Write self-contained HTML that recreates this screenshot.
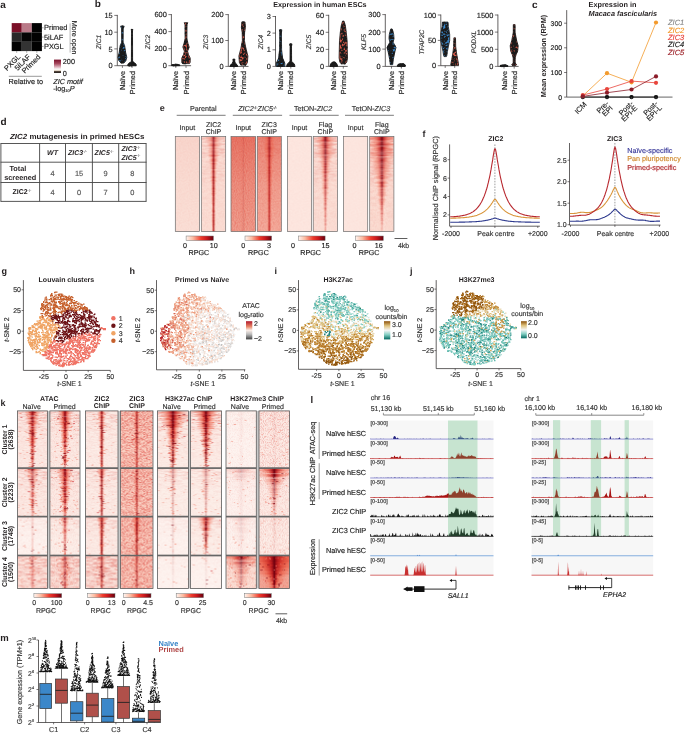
<!DOCTYPE html>
<html><head><meta charset="utf-8"><style>
html,body{margin:0;padding:0;background:#fff;width:685px;height:733px;overflow:hidden}
svg{will-change:transform;text-rendering:geometricPrecision}
.q1{fill:url(#hg);fill-opacity:0.05;height:1.05px}
.q2{fill:url(#hg);fill-opacity:0.10;height:1.05px}
.q3{fill:url(#hg);fill-opacity:0.15;height:1.05px}
.q4{fill:url(#hg);fill-opacity:0.20;height:1.05px}
.q5{fill:url(#hg);fill-opacity:0.25;height:1.05px}
.q6{fill:url(#hg);fill-opacity:0.30;height:1.05px}
.q7{fill:url(#hg);fill-opacity:0.35;height:1.05px}
.q8{fill:url(#hg);fill-opacity:0.40;height:1.05px}
.q9{fill:url(#hg);fill-opacity:0.45;height:1.05px}
.q10{fill:url(#hg);fill-opacity:0.50;height:1.05px}
.q11{fill:url(#hg);fill-opacity:0.55;height:1.05px}
.q12{fill:url(#hg);fill-opacity:0.60;height:1.05px}
.q13{fill:url(#hg);fill-opacity:0.65;height:1.05px}
.q14{fill:url(#hg);fill-opacity:0.70;height:1.05px}
.q15{fill:url(#hg);fill-opacity:0.75;height:1.05px}
.q16{fill:url(#hg);fill-opacity:0.80;height:1.05px}
.q17{fill:url(#hg);fill-opacity:0.85;height:1.05px}
.q18{fill:url(#hg);fill-opacity:0.90;height:1.05px}
.q19{fill:url(#hg);fill-opacity:0.95;height:1.05px}
.q20{fill:url(#hg);fill-opacity:1.00;height:1.05px}
svg{display:block;font-family:"Liberation Sans",sans-serif}
</style></head><body>
<svg width="685" height="733" viewBox="0 0 685 733" font-family="Liberation Sans, sans-serif"><defs><linearGradient id="ga" x1="0" y1="0" x2="0" y2="1"><stop offset="0" stop-color="#7a0f2a"/><stop offset=".3" stop-color="#a84a60"/><stop offset=".6" stop-color="#e8c8d0"/><stop offset=".72" stop-color="#fff"/><stop offset=".82" stop-color="#e0d4c4"/><stop offset=".9" stop-color="#3a2a22"/><stop offset="1" stop-color="#2a2a2a"/></linearGradient><linearGradient id="hg"><stop offset="0" stop-color="#f24a30" stop-opacity="0"/><stop offset=".28" stop-color="#ea4a30" stop-opacity=".45"/><stop offset=".43" stop-color="#c01a1c" stop-opacity=".85"/><stop offset=".5" stop-color="#70000e" stop-opacity="1"/><stop offset=".57" stop-color="#c01a1c" stop-opacity=".85"/><stop offset=".72" stop-color="#ea4a30" stop-opacity=".45"/><stop offset="1" stop-color="#f24a30" stop-opacity="0"/></linearGradient><linearGradient id="hs"><stop offset="0" stop-color="#e03020" stop-opacity="0"/><stop offset=".2" stop-color="#e03020" stop-opacity=".6"/><stop offset=".5" stop-color="#b01018" stop-opacity=".8"/><stop offset=".8" stop-color="#e03020" stop-opacity=".6"/><stop offset="1" stop-color="#e03020" stop-opacity="0"/></linearGradient><filter id="nz" x="0" y="0" width="1" height="1" color-interpolation-filters="sRGB"><feTurbulence type="fractalNoise" baseFrequency="0.8 0.9" numOctaves="1" seed="3"/><feColorMatrix values="0 0 0 0 0.86 0 0 0 0 0.16 0 0 0 0 0.1 0 0 0 0 0" /><feComposite operator="arithmetic" k1="0" k2="0" k3="0" k4="0"/></filter><filter id="ns" x="0" y="0" width="1" height="1" color-interpolation-filters="sRGB"><feTurbulence type="fractalNoise" baseFrequency="0.9 0.9" numOctaves="1" seed="5" result="t"/><feColorMatrix in="t" values="0 0 0 0 0.85 0 0 0 0 0.12 0 0 0 0 0.08 1.6 0 0 0 -0.55"/></filter><filter id="nk" x="0" y="0" width="1" height="1" color-interpolation-filters="sRGB"><feTurbulence type="fractalNoise" baseFrequency="1.1 1.3" numOctaves="1" seed="13" result="t"/><feColorMatrix in="t" values="0 0 0 0 0.82 0 0 0 0 0.1 0 0 0 0 0.08 3.2 0 0 0 -1.35"/></filter><filter id="nh" x="0" y="0" width="1" height="1" color-interpolation-filters="sRGB"><feTurbulence type="fractalNoise" baseFrequency="0.12 0.7" numOctaves="2" seed="9" result="t"/><feColorMatrix in="t" values="0 0 0 0 0.8 0 0 0 0 0.1 0 0 0 0 0.08 2.0 0 0 0 -0.8"/></filter><linearGradient id="vf" x1="0" y1="0" x2="0" y2="1"><stop offset="0" stop-color="#fff"/><stop offset=".25" stop-color="#999"/><stop offset=".55" stop-color="#333"/><stop offset="1" stop-color="#111"/></linearGradient><mask id="mf" maskContentUnits="objectBoundingBox"><rect width="1" height="1" fill="url(#vf)"/></mask><linearGradient id="hc"><stop offset="0" stop-color="#e04030" stop-opacity="0"/><stop offset=".22" stop-color="#e04030" stop-opacity=".45"/><stop offset=".38" stop-color="#a8101a" stop-opacity=".9"/><stop offset=".5" stop-color="#5a000a" stop-opacity="1"/><stop offset=".62" stop-color="#a8101a" stop-opacity=".9"/><stop offset=".78" stop-color="#e04030" stop-opacity=".45"/><stop offset="1" stop-color="#e04030" stop-opacity="0"/></linearGradient><linearGradient id="vg" x1="0" y1="0" x2="0" y2="1"><stop offset="0" stop-color="#d83020" stop-opacity=".35"/><stop offset=".5" stop-color="#d83020" stop-opacity=".12"/><stop offset="1" stop-color="#d83020" stop-opacity="0"/></linearGradient><linearGradient id="cbr"><stop offset="0" stop-color="#fff5f0"/><stop offset=".25" stop-color="#fcbba1"/><stop offset=".55" stop-color="#ef3b2c"/><stop offset=".75" stop-color="#cb181d"/><stop offset="1" stop-color="#67000d"/></linearGradient><linearGradient id="gh" x1="0" y1="0" x2="0" y2="1"><stop offset="0" stop-color="#b2182b"/><stop offset=".3" stop-color="#e8896a"/><stop offset=".5" stop-color="#fbeee8"/><stop offset=".72" stop-color="#bababa"/><stop offset="1" stop-color="#404040"/></linearGradient><linearGradient id="gi" x1="0" y1="0" x2="0" y2="1"><stop offset="0" stop-color="#8c510a"/><stop offset=".25" stop-color="#dfc27d"/><stop offset=".5" stop-color="#f5f5f5"/><stop offset=".75" stop-color="#80cdc1"/><stop offset="1" stop-color="#01665e"/></linearGradient><linearGradient id="gj" x1="0" y1="0" x2="0" y2="1"><stop offset="0" stop-color="#8c510a"/><stop offset=".25" stop-color="#dfc27d"/><stop offset=".5" stop-color="#f5f5f5"/><stop offset=".75" stop-color="#80cdc1"/><stop offset="1" stop-color="#01665e"/></linearGradient></defs><text x="0.3" y="8.3" font-size="10" font-weight="bold" fill="#231f20">a</text>
<rect x="11.7" y="23.1" width="10.1" height="9.4" fill="#7b1028"/>
<rect x="21.7" y="23.1" width="10.1" height="9.4" fill="#b97a88"/>
<rect x="31.8" y="23.1" width="10.1" height="9.4" fill="#020202"/>
<rect x="11.7" y="32.4" width="10.1" height="9.4" fill="#2a2a2a"/>
<rect x="21.7" y="32.4" width="10.1" height="9.4" fill="#050505"/>
<rect x="31.8" y="32.4" width="10.1" height="9.4" fill="#020202"/>
<rect x="11.7" y="41.7" width="10.1" height="9.4" fill="#040404"/>
<rect x="21.7" y="41.7" width="10.1" height="9.4" fill="#333333"/>
<rect x="31.8" y="41.7" width="10.1" height="9.4" fill="#020202"/>
<line x1="41.8" y1="27.8" x2="43.6" y2="27.8" stroke="#555" stroke-width="0.5"/>
<text x="44" y="30.4" font-size="7.4" fill="#222" stroke="#222" stroke-width="0.16">Primed</text>
<line x1="41.8" y1="37.1" x2="43.6" y2="37.1" stroke="#555" stroke-width="0.5"/>
<text x="44" y="39.7" font-size="7.4" fill="#222" stroke="#222" stroke-width="0.16">5iLAF</text>
<line x1="41.8" y1="46.4" x2="43.6" y2="46.4" stroke="#555" stroke-width="0.5"/>
<text x="44" y="49" font-size="7.4" fill="#222" stroke="#222" stroke-width="0.16">PXGL</text>
<line x1="70.1" y1="23.4" x2="70.1" y2="52.6" stroke="#888" stroke-width="0.6"/>
<text x="71.8" y="37.6" font-size="7.1" text-anchor="middle" fill="#222" stroke="#222" stroke-width="0.16" transform="rotate(90 71.8 37.6)">More open</text>
<line x1="16.7" y1="51.1" x2="16.7" y2="52.8" stroke="#555" stroke-width="0.5"/>
<text x="20.9" y="57.4" font-size="7.3" text-anchor="end" fill="#222" stroke="#222" stroke-width="0.16" transform="rotate(-45 20.9 57.4)">PXGL</text>
<line x1="26.7" y1="51.1" x2="26.7" y2="52.8" stroke="#555" stroke-width="0.5"/>
<text x="30.9" y="57.4" font-size="7.3" text-anchor="end" fill="#222" stroke="#222" stroke-width="0.16" transform="rotate(-45 30.9 57.4)">5iLAF</text>
<line x1="36.8" y1="51.1" x2="36.8" y2="52.8" stroke="#555" stroke-width="0.5"/>
<text x="41" y="57.4" font-size="7.3" text-anchor="end" fill="#222" stroke="#222" stroke-width="0.16" transform="rotate(-45 41 57.4)">Primed</text>
<line x1="8.8" y1="76.3" x2="41.8" y2="76.3" stroke="#555" stroke-width="0.6"/>
<text x="8.6" y="83.9" font-size="7.3" fill="#222" stroke="#222" stroke-width="0.16">Relative to</text>
<rect x="54" y="59.6" width="7" height="13.4" fill="url(#ga)"/>
<text x="62.8" y="64.2" font-size="7.3" fill="#222" stroke="#222" stroke-width="0.16">200</text>
<text x="62.8" y="75.6" font-size="7.3" fill="#222" stroke="#222" stroke-width="0.16">0</text>
<text x="53.2" y="83.9" font-size="7.3" font-style="italic" fill="#222" stroke="#222" stroke-width="0.16">ZIC motif</text>
<text x="53.2" y="90.6" font-size="7.3" fill="#222" stroke="#222" stroke-width="0.16">-log<tspan font-size="4" dy="1.5">10</tspan><tspan dy="-1.5" font-style="italic">P</tspan></text>
<text x="94.8" y="7" font-size="10" font-weight="bold" fill="#231f20">b</text>
<text x="273.3" y="6.6" font-size="7.2" font-weight="bold" fill="#231f20" textLength="93.3" lengthAdjust="spacingAndGlyphs">Expression in human ESCs</text>
<line x1="117.3" y1="14.9" x2="117.3" y2="65.7" stroke="#231f20" stroke-width="0.7"/>
<line x1="117.3" y1="65.7" x2="136.4" y2="65.7" stroke="#231f20" stroke-width="0.7"/>
<line x1="114.3" y1="65.7" x2="117.3" y2="65.7" stroke="#231f20" stroke-width="0.6"/>
<text x="112.7" y="68.4" font-size="7.4" text-anchor="end" fill="#222" stroke="#222" stroke-width="0.16">0</text>
<line x1="114.3" y1="48.9" x2="117.3" y2="48.9" stroke="#231f20" stroke-width="0.6"/>
<text x="112.7" y="51.6" font-size="7.4" text-anchor="end" fill="#222" stroke="#222" stroke-width="0.16">5</text>
<line x1="114.3" y1="32.2" x2="117.3" y2="32.2" stroke="#231f20" stroke-width="0.6"/>
<text x="112.7" y="34.8" font-size="7.4" text-anchor="end" fill="#222" stroke="#222" stroke-width="0.16">10</text>
<line x1="114.3" y1="15.4" x2="117.3" y2="15.4" stroke="#231f20" stroke-width="0.6"/>
<text x="112.7" y="18.1" font-size="7.4" text-anchor="end" fill="#222" stroke="#222" stroke-width="0.16">15</text>
<line x1="122.4" y1="65.7" x2="122.4" y2="67.9" stroke="#231f20" stroke-width="0.6"/>
<line x1="132" y1="65.7" x2="132" y2="67.9" stroke="#231f20" stroke-width="0.6"/>
<path d="M124.2 26.1 L123.2 28.8 L123.1 42.2 L124.6 45.6 L125.6 52.3 L126.8 57.3 L125.9 60.7 L123.9 63 L120.9 63 L118.9 60.7 L118 57.3 L119.2 52.3 L120.2 45.6 L121.7 42.2 L121.6 28.8 L120.6 26.1Z" fill="#3a88cc" stroke="#111" stroke-width="0.8" stroke-linejoin="round"/>
<path d="M122.4 54.3h0M119.2 55.2h0M124.4 57h0M124.9 52.7h0M119.2 59.4h0M122.4 41.7h0M121.8 44.4h0M122.4 36.8h0M123.5 57h0M121.1 57.9h0M124.9 52.7h0M122.8 50.9h0M122.4 58.7h0M121.4 47.9h0M120.1 55.5h0M122.1 51h0M122.4 45.3h0M122.8 27.2h0M124.7 54.6h0M122.2 61.3h0M123.7 61.4h0M124.2 56.4h0M122.8 56h0M122.4 41.9h0M120.2 58.2h0M120.4 48.7h0M124.6 55.6h0M120 51h0M122.4 35.3h0M120.5 49.2h0M121.4 52.4h0M122.2 43.6h0M122.7 44.9h0M118.9 56.3h0M121 51.1h0M122.9 45.2h0M120.9 53.6h0M121 61.6h0M121.7 52.1h0M120.9 51h0M120.4 59.3h0M120.5 55h0M124.7 60.5h0M124.9 51.5h0M122.4 29.3h0M124.1 59.7h0M122.8 58.9h0M122.4 30h0M121.3 55.2h0M122.4 34.4h0M119.1 55.2h0M120.5 50.9h0M120.6 58.8h0M122.4 30.4h0M120.8 59.7h0M122.7 43.7h0M123.1 27.6h0M122.6 50.5h0M122.9 62.4h0M120.9 57.4h0M122.4 35.2h0M122.4 35.1h0M120.8 46.5h0M123.7 49.6h0M125.5 55.5h0M122.4 37.9h0M125.1 59.4h0M123.9 57.1h0M120.2 50.8h0M121.6 57.5h0M122.4 31.2h0M120.3 48.7h0M123.3 50.1h0M122.4 53.1h0M122.2 43.8h0M123.3 60h0M122.4 27.9h0M124.3 58.5h0M123.8 58.7h0M124 57.4h0M124.5 53.3h0M121.4 47.2h0M123.5 54.1h0M122.5 52.6h0M120.7 55.9h0M124 57.2h0M123.6 62h0M122.4 38.1h0M122.4 41.2h0M120.5 53.8h0M122.4 42.3h0M123.9 49.3h0M122.7 46.1h0M125.6 55.3h0M123.7 46.2h0M121.6 54.5h0M122.4 36.6h0M124.2 55.9h0M122.4 47.3h0M123.2 51.3h0M122.6 26.3h0M122.5 58.7h0M124.3 56.9h0M121.5 62.6h0M121.8 49h0M122.2 26.3h0M122.4 59.3h0M123.3 53.6h0M123 49.4h0M124.2 55h0M121.3 56.2h0M119.9 58.4h0M122.2 56.9h0M121.5 53.6h0M122.4 50.4h0M121.9 61h0M120.9 51.5h0M122.4 36.1h0M121.4 56.8h0M120.4 58.1h0M125.5 57.3h0M122.1 49.1h0M120.4 54.2h0M124.5 49.2h0M121 53h0M121.2 45.6h0M123.8 52.5h0M120.2 52.6h0M119.2 58.9h0M123 56.4h0M121.5 57.8h0M125 54.1h0M122.8 26.7h0" stroke="#1a1a1a" stroke-width="1.7" stroke-linecap="round" fill="none"/>
<path d="M132.9 29.5 L132.5 30.8 L132.6 61.7 L134.5 62.7 L136.2 64.4 L136.2 65.7 L127.8 65.7 L127.8 64.4 L129.5 62.7 L131.4 61.7 L131.5 30.8 L131.1 29.5Z" fill="#222" stroke="#111" stroke-width="0.8" stroke-linejoin="round"/>
<path d="M132 31.5h0M131.6 63.9h0M132 39.2h0M129.6 65.7h0M133.9 64.3h0M133.5 63h0M133.2 62.4h0M129.8 63.3h0M132.7 62.4h0M132 61.2h0M132 55.5h0M132 53.9h0M133.6 64.1h0M132 43.4h0M128.6 65.3h0M132 56.4h0M132 41.7h0M132 40.9h0M132 44.7h0M132 31.5h0M132 35.3h0M131.6 65.5h0M131.9 29.7h0M132 38.2h0M132 43h0M132 54.3h0M132 53.8h0M132 50.8h0M133.4 63.4h0M132 54.6h0M134.9 64.1h0M131.4 65.6h0M132 31.9h0M129.4 63.9h0M131.8 63.4h0M133.8 64.3h0M132 52.5h0M132 59h0M132.6 63.6h0" stroke="#1a1a1a" stroke-width="1.7" stroke-linecap="round" fill="none"/>
<text x="124.9" y="71" font-size="7.3" text-anchor="end" fill="#222" stroke="#222" stroke-width="0.16" transform="rotate(-90 124.9 71)">Naïve</text>
<text x="134.5" y="71" font-size="7.3" text-anchor="end" fill="#222" stroke="#222" stroke-width="0.16" transform="rotate(-90 134.5 71)">Primed</text>
<text x="101.3" y="42" font-size="6.6" font-style="italic" text-anchor="middle" fill="#333" stroke="#333" stroke-width="0.16" transform="rotate(-90 101.3 42)">ZIC1</text>
<line x1="171.4" y1="14.1" x2="171.4" y2="65.7" stroke="#231f20" stroke-width="0.7"/>
<line x1="171.4" y1="65.7" x2="191.1" y2="65.7" stroke="#231f20" stroke-width="0.7"/>
<line x1="168.4" y1="65.7" x2="171.4" y2="65.7" stroke="#231f20" stroke-width="0.6"/>
<text x="166.8" y="68.4" font-size="7.4" text-anchor="end" fill="#222" stroke="#222" stroke-width="0.16">0</text>
<line x1="168.4" y1="48.7" x2="171.4" y2="48.7" stroke="#231f20" stroke-width="0.6"/>
<text x="166.8" y="51.3" font-size="7.4" text-anchor="end" fill="#222" stroke="#222" stroke-width="0.16">200</text>
<line x1="168.4" y1="31.6" x2="171.4" y2="31.6" stroke="#231f20" stroke-width="0.6"/>
<text x="166.8" y="34.3" font-size="7.4" text-anchor="end" fill="#222" stroke="#222" stroke-width="0.16">400</text>
<line x1="168.4" y1="14.6" x2="171.4" y2="14.6" stroke="#231f20" stroke-width="0.6"/>
<text x="166.8" y="17.3" font-size="7.4" text-anchor="end" fill="#222" stroke="#222" stroke-width="0.16">600</text>
<line x1="175.8" y1="65.7" x2="175.8" y2="67.9" stroke="#231f20" stroke-width="0.6"/>
<line x1="186" y1="65.7" x2="186" y2="67.9" stroke="#231f20" stroke-width="0.6"/>
<path d="M177.3 64.4 L179.8 64.8 L179.8 65.7 L171.8 65.7 L171.8 64.8 L174.3 64.4Z" fill="#222" stroke="#111" stroke-width="0.8" stroke-linejoin="round"/>
<path d="M175.8 65.4h0M177.8 65h0M176.9 64.5h0M172.3 65h0M173.9 65h0M175.9 64.5h0M173.8 65.6h0M173.9 65h0M173.9 65h0M175.6 64.7h0M177.9 64.8h0" stroke="#1a1a1a" stroke-width="1.7" stroke-linecap="round" fill="none"/>
<path d="M187.8 22.7 L187 24.8 L186.9 38.4 L188 43.6 L189.2 47 L187.6 51.2 L188.5 54.6 L190.2 58 L190.2 62.3 L189.5 63.6 L182.5 63.6 L181.8 62.3 L181.8 58 L183.5 54.6 L184.4 51.2 L182.8 47 L184 43.6 L185.1 38.4 L185 24.8 L184.2 22.7Z" fill="#d65a4a" stroke="#111" stroke-width="0.8" stroke-linejoin="round"/>
<path d="M186.3 25h0M184.3 47.5h0M185.6 61.5h0M185.6 33.7h0M185.7 41.7h0M186.4 59.1h0M185.8 32.3h0M184.1 63.5h0M187.7 59.2h0M188.1 59.8h0M187.9 62h0M187.5 44.4h0M186.5 59.5h0M185.9 60.3h0M186.9 51.3h0M184.5 46.7h0M187.4 48.2h0M186.2 58.5h0M184 57.6h0M187.6 58.7h0M186.6 23.6h0M186.2 29.1h0M186.4 38.5h0M185.9 28.9h0M188.7 59.6h0M186 35.6h0M186.6 58.5h0M186.1 39.8h0M185.6 28.4h0M186.1 29.3h0M185.8 51.7h0M184.4 44.2h0M186.3 39.4h0M185.7 32.5h0M185.4 44h0M187.6 48.9h0M185.5 62.1h0M184.6 44.2h0M186.1 55.5h0M184.4 60.4h0M182.8 62.9h0M185.5 50.7h0M182.9 57.1h0M186.2 42.6h0M184.7 53.5h0M186.3 27.7h0M186.4 51h0M185.9 43h0M186.1 55.3h0M184.3 56.9h0M185.8 42.7h0M185.5 63.5h0M186.4 25.4h0M183.6 63.1h0M183 61.5h0M186.1 58.7h0M187.8 62h0M186.8 57.5h0M182.6 62.6h0M188.3 58.8h0M183 59.7h0M187.6 46.7h0M186.1 40.4h0M187 41.8h0M186 25.7h0M187.6 56.9h0M184.8 43.2h0M186.9 53.5h0M186.7 54.8h0M185.9 28.2h0M184.9 41.7h0M187.1 58.3h0M188.4 60.1h0M186.9 57.5h0M185.5 41.4h0M188.4 61.8h0M186 35.7h0M187 60.4h0M183 60.7h0M186.2 32.4h0M187.4 55.2h0M187.4 48.6h0M187.4 60.5h0M187.9 61.5h0M185.7 50.1h0M189.4 59.2h0M185.9 27.9h0M185.5 58.8h0M187.3 44.9h0M185.3 48.8h0M183.4 60.6h0M185.8 39.9h0M185.4 47.7h0M184.7 54.1h0M187.9 57.5h0M187.8 57.2h0M188.4 47.6h0" stroke="#1a1a1a" stroke-width="1.7" stroke-linecap="round" fill="none"/>
<text x="178.3" y="71" font-size="7.3" text-anchor="end" fill="#222" stroke="#222" stroke-width="0.16" transform="rotate(-90 178.3 71)">Naïve</text>
<text x="188.5" y="71" font-size="7.3" text-anchor="end" fill="#222" stroke="#222" stroke-width="0.16" transform="rotate(-90 188.5 71)">Primed</text>
<text x="150.4" y="42" font-size="6.6" font-style="italic" text-anchor="middle" fill="#333" stroke="#333" stroke-width="0.16" transform="rotate(-90 150.4 42)">ZIC2</text>
<line x1="228.3" y1="14.1" x2="228.3" y2="66.4" stroke="#231f20" stroke-width="0.7"/>
<line x1="228.3" y1="66.4" x2="248.5" y2="66.4" stroke="#231f20" stroke-width="0.7"/>
<line x1="225.3" y1="66.4" x2="228.3" y2="66.4" stroke="#231f20" stroke-width="0.6"/>
<text x="223.7" y="69.1" font-size="7.4" text-anchor="end" fill="#222" stroke="#222" stroke-width="0.16">0</text>
<line x1="225.3" y1="40.5" x2="228.3" y2="40.5" stroke="#231f20" stroke-width="0.6"/>
<text x="223.7" y="43.2" font-size="7.4" text-anchor="end" fill="#222" stroke="#222" stroke-width="0.16">100</text>
<line x1="225.3" y1="14.6" x2="228.3" y2="14.6" stroke="#231f20" stroke-width="0.6"/>
<text x="223.7" y="17.3" font-size="7.4" text-anchor="end" fill="#222" stroke="#222" stroke-width="0.16">200</text>
<line x1="233.9" y1="66.4" x2="233.9" y2="68.6" stroke="#231f20" stroke-width="0.6"/>
<line x1="243.4" y1="66.4" x2="243.4" y2="68.6" stroke="#231f20" stroke-width="0.6"/>
<path d="M234.9 59.1 L234.7 61.2 L235.4 63.3 L237.1 64.8 L237.9 66.4 L229.9 66.4 L230.7 64.8 L232.4 63.3 L233.1 61.2 L232.9 59.1Z" fill="#222" stroke="#111" stroke-width="0.8" stroke-linejoin="round"/>
<path d="M233.9 64.7h0M231.3 64.9h0M235.4 65.2h0M235.9 64.4h0M230.9 65.7h0M233.8 61.9h0M234.1 61.2h0M232.9 65.4h0M236.1 65.9h0M234.2 64h0M232.1 64.9h0M233.7 64h0M233.2 62.7h0M234.2 66.3h0M234 65.4h0M233.6 66.1h0M235.8 66.1h0M234.4 62.2h0M233.9 63.3h0M233.5 62.5h0" stroke="#1a1a1a" stroke-width="1.7" stroke-linecap="round" fill="none"/>
<path d="M245 21.9 L245.4 27.6 L244.6 32.7 L244.4 40.5 L245.9 48.3 L247.9 56 L247.4 62.5 L245.9 65.1 L240.9 65.1 L239.4 62.5 L238.9 56 L240.9 48.3 L242.4 40.5 L242.2 32.7 L241.4 27.6 L241.8 21.9Z" fill="#d65a4a" stroke="#111" stroke-width="0.8" stroke-linejoin="round"/>
<path d="M244.3 24.3h0M242.1 53.7h0M243.2 47h0M242.8 33.5h0M243.1 32.1h0M246.6 56.3h0M242.3 54.8h0M243.6 52.8h0M243.9 60.8h0M243.3 61.7h0M245.8 52.1h0M243.5 52.4h0M242.5 50h0M240.4 62.3h0M246.6 57.3h0M243.9 33.7h0M241.2 58.8h0M245 59.9h0M242.6 23.2h0M245.8 51h0M244.1 22.8h0M243.9 28.6h0M243.9 38.5h0M243 28.4h0M242 26.7h0M244.9 54.5h0M243.7 42.3h0M243.3 35.5h0M244 59.7h0M243.5 40h0M242.1 27.9h0M243.8 28.8h0M242.9 52.5h0M242.2 44.6h0M243.6 39.5h0M242.9 32.3h0M243.4 31.9h0M245.3 49.6h0M243 63.5h0M242.4 44.6h0M243.6 56.6h0M241.9 61.7h0M241.1 64.4h0M242.3 51.5h0M239.7 58.2h0M243.6 42.9h0M243.1 25h0M245.2 62.3h0M240.7 54.4h0M244.4 27.1h0M244.3 51.8h0M243.4 55.5h0M243.6 56.4h0M246.1 56.6h0M243.4 34.7h0M244.8 26h0M242.2 28.2h0M242.6 27.4h0M243.1 50.9h0M243.5 44.5h0M240.8 62.9h0M240.6 55.7h0M243.5 40.9h0M243.5 60h0M246.2 52.4h0M244.3 58.7h0M240.9 64.1h0M245.7 60.1h0M246.1 53.4h0M245.7 60.1h0M245.2 55h0M244.5 47.2h0M242.4 46.3h0M240.6 63.7h0M242.5 43.6h0M245.2 54.5h0M244.8 55.8h0M240.5 55.9h0M243.3 28.9h0M243.5 34.6h0M243.6 63.7h0M244.5 59.5h0M245.7 61.4h0M242.5 56.3h0M244.4 58.2h0M244.4 58.7h0M243.3 35.2h0M244.2 31.9h0M243.3 35.6h0M244.4 61.7h0M240.6 62.1h0M243.7 32.1h0M245.9 56.2h0M244.9 49.2h0M244.7 61.9h0M245 62.9h0M245.3 59.5h0M244 64.2h0M242.8 50.9h0M246.8 60.5h0M243 27.3h0M242.9 60.1h0M244.4 45.3h0M242.6 49.4h0M240.9 61.9h0M243.2 30.7h0M243.6 32.5h0M240.7 55.1h0M245.5 58.7h0M245.4 58.4h0M245.4 48.3h0M244.8 48.6h0M242.4 44.5h0M245.3 64.9h0M244.2 25.2h0M243.1 22.2h0M243.8 29.3h0M245.3 49.9h0M243.4 46h0M244.5 24.5h0" stroke="#1a1a1a" stroke-width="1.7" stroke-linecap="round" fill="none"/>
<text x="236.4" y="71" font-size="7.3" text-anchor="end" fill="#222" stroke="#222" stroke-width="0.16" transform="rotate(-90 236.4 71)">Naïve</text>
<text x="245.9" y="71" font-size="7.3" text-anchor="end" fill="#222" stroke="#222" stroke-width="0.16" transform="rotate(-90 245.9 71)">Primed</text>
<text x="208.1" y="42" font-size="6.6" font-style="italic" text-anchor="middle" fill="#333" stroke="#333" stroke-width="0.16" transform="rotate(-90 208.1 42)">ZIC3</text>
<line x1="275.5" y1="16" x2="275.5" y2="66.4" stroke="#231f20" stroke-width="0.7"/>
<line x1="275.5" y1="66.4" x2="295.2" y2="66.4" stroke="#231f20" stroke-width="0.7"/>
<line x1="272.5" y1="66.4" x2="275.5" y2="66.4" stroke="#231f20" stroke-width="0.6"/>
<text x="270.9" y="69.1" font-size="7.4" text-anchor="end" fill="#222" stroke="#222" stroke-width="0.16">0</text>
<line x1="272.5" y1="49.8" x2="275.5" y2="49.8" stroke="#231f20" stroke-width="0.6"/>
<text x="270.9" y="52.4" font-size="7.4" text-anchor="end" fill="#222" stroke="#222" stroke-width="0.16">1</text>
<line x1="272.5" y1="33.1" x2="275.5" y2="33.1" stroke="#231f20" stroke-width="0.6"/>
<text x="270.9" y="35.8" font-size="7.4" text-anchor="end" fill="#222" stroke="#222" stroke-width="0.16">2</text>
<line x1="272.5" y1="16.5" x2="275.5" y2="16.5" stroke="#231f20" stroke-width="0.6"/>
<text x="270.9" y="19.2" font-size="7.4" text-anchor="end" fill="#222" stroke="#222" stroke-width="0.16">3</text>
<line x1="280.6" y1="66.4" x2="280.6" y2="68.6" stroke="#231f20" stroke-width="0.6"/>
<line x1="290.8" y1="66.4" x2="290.8" y2="68.6" stroke="#231f20" stroke-width="0.6"/>
<path d="M281.8 29.8 L281.4 33.1 L281.6 49.8 L282.6 58.1 L284.8 63.1 L284.8 66.4 L276.4 66.4 L276.4 63.1 L278.6 58.1 L279.6 49.8 L279.8 33.1 L279.4 29.8Z" fill="#3a88cc" stroke="#111" stroke-width="0.8" stroke-linejoin="round"/>
<path d="M280.6 57.8h0M278.9 58.7h0M281.9 60.4h0M281.7 56.2h0M277.2 62.8h0M280.4 45.3h0M280.9 40.4h0M279.6 61.3h0M283 64.1h0M280.8 54.3h0M279.4 59h0M280.8 30.9h0M279.8 65.8h0M280.9 65.7h0M280.7 61.3h0M280.3 64.7h0M282.7 64.8h0M280.9 45.4h0M280.6 50.7h0M280.4 46.6h0M279.6 54.4h0M280.7 38.9h0M280.3 42.4h0M280.4 49.1h0M280.3 45.2h0M278.5 62.7h0M280.2 30.6h0M281.1 56.1h0M279.5 59h0M280.2 52.9h0M279.2 65.2h0M283.1 61.2h0M279.9 57h0M278.2 65h0M280.2 45.7h0M280.6 54.2h0M278.5 62.7h0M279.6 58.4h0M283.4 63.9h0M282.3 65.9h0M280.9 32.9h0M280.9 62.3h0M280.3 33.6h0M281.2 60.1h0M280.8 58.4h0M280.4 38h0M283.5 62.4h0M280.8 33.2h0M277.8 66h0M281.7 57h0M278.8 63.1h0M280.7 47.3h0M281.1 31.3h0M280.7 54h0M281.7 65.8h0M279.9 51.6h0M280.6 38.7h0M280.7 32.4h0M282.3 58.9h0M279.3 65.8h0M283.5 63.4h0M283.5 62.9h0M280.4 55h0M279.7 54.2h0M281 65.1h0M280.4 34.9h0M280.1 60.1h0M279.8 52.2h0M279 63h0M279.8 53.5h0M281.9 62.1h0M281.7 60.9h0M278.2 64.9h0M280.6 56.1h0M282.6 64.9h0M281.6 60.6h0M282.8 65.3h0M280.4 45.7h0M281.3 64.9h0M280.4 44.7h0M280.5 30h0M280.8 51.2h0M280.5 65.4h0M280.8 40.2h0M280.5 49.1h0M280.4 37.3h0M283 60.2h0M278.2 65.9h0M280.5 43h0M282 61.3h0M280.5 62.7h0M278.4 61.8h0M280.4 60.3h0M279.9 64.4h0M277.8 62.2h0M280 60.2h0M278.9 61.5h0M283.1 65.1h0M281 58.5h0M280.7 34.9h0M279.6 56.1h0M277.5 62.3h0M279.4 65.1h0M281.6 60.5h0M281 59.8h0M279.9 61.2h0M281.8 57.6h0M280.8 30.4h0" stroke="#1a1a1a" stroke-width="1.7" stroke-linecap="round" fill="none"/>
<path d="M292 43.9 L291.5 46.4 L291.6 61.4 L294.3 63.9 L295 66.4 L286.6 66.4 L287.3 63.9 L290 61.4 L290.1 46.4 L289.6 43.9Z" fill="#222" stroke="#111" stroke-width="0.8" stroke-linejoin="round"/>
<path d="M291.1 45.2h0M290.8 50h0M291.2 64h0M290.8 49.3h0M290.8 51.2h0M292.6 65.5h0M292.9 64.7h0M291.2 64.1h0M290.7 64.6h0M290.8 59.7h0M293.4 64.3h0M288 64.9h0M292.3 64.3h0M290.9 63.6h0M289.6 63.1h0M292 63.7h0M290.1 62.2h0M290.8 47.3h0M290.8 60.6h0M290.8 51.5h0M290.8 51.1h0M290.8 53.4h0M290.8 56.5h0M290.5 45.2h0M290.7 44.1h0M290.8 49.4h0M289.5 64.6h0M287.3 66h0M290.8 59.3h0M290.8 59h0M290.8 57.2h0M292.5 64.9h0M290.8 46.7h0M290.8 59.5h0M290.8 61.9h0M289.9 62.7h0M292.8 64.6h0" stroke="#1a1a1a" stroke-width="1.7" stroke-linecap="round" fill="none"/>
<text x="283.1" y="71" font-size="7.3" text-anchor="end" fill="#222" stroke="#222" stroke-width="0.16" transform="rotate(-90 283.1 71)">Naïve</text>
<text x="293.3" y="71" font-size="7.3" text-anchor="end" fill="#222" stroke="#222" stroke-width="0.16" transform="rotate(-90 293.3 71)">Primed</text>
<text x="262.5" y="42" font-size="6.6" font-style="italic" text-anchor="middle" fill="#333" stroke="#333" stroke-width="0.16" transform="rotate(-90 262.5 42)">ZIC4</text>
<line x1="328.7" y1="14.8" x2="328.7" y2="66.4" stroke="#231f20" stroke-width="0.7"/>
<line x1="328.7" y1="66.4" x2="347.7" y2="66.4" stroke="#231f20" stroke-width="0.7"/>
<line x1="325.7" y1="66.4" x2="328.7" y2="66.4" stroke="#231f20" stroke-width="0.6"/>
<text x="324.1" y="69.1" font-size="7.4" text-anchor="end" fill="#222" stroke="#222" stroke-width="0.16">0</text>
<line x1="325.7" y1="49.4" x2="328.7" y2="49.4" stroke="#231f20" stroke-width="0.6"/>
<text x="324.1" y="52" font-size="7.4" text-anchor="end" fill="#222" stroke="#222" stroke-width="0.16">20</text>
<line x1="325.7" y1="32.3" x2="328.7" y2="32.3" stroke="#231f20" stroke-width="0.6"/>
<text x="324.1" y="35" font-size="7.4" text-anchor="end" fill="#222" stroke="#222" stroke-width="0.16">40</text>
<line x1="325.7" y1="15.3" x2="328.7" y2="15.3" stroke="#231f20" stroke-width="0.6"/>
<text x="324.1" y="17.9" font-size="7.4" text-anchor="end" fill="#222" stroke="#222" stroke-width="0.16">60</text>
<line x1="333.8" y1="66.4" x2="333.8" y2="68.6" stroke="#231f20" stroke-width="0.6"/>
<line x1="343.3" y1="66.4" x2="343.3" y2="68.6" stroke="#231f20" stroke-width="0.6"/>
<path d="M335.3 62.1 L336.8 63.8 L337.6 66 L337.6 66.4 L330 66.4 L330 66 L330.8 63.8 L332.3 62.1Z" fill="#222" stroke="#111" stroke-width="0.8" stroke-linejoin="round"/>
<path d="M333.8 65.4h0M335.3 64.1h0M334.7 62.5h0M336.5 65.2h0M330.7 66h0M333.4 63.8h0M333.7 62.3h0M332.4 64.3h0M333 63.1h0M332.1 64.5h0M334.4 62.7h0M334.3 65h0M331.3 64.3h0M334 63.9h0M333.1 65.1h0M335.2 64h0M333.7 64.4h0M334.3 62.3h0M333.1 66.3h0" stroke="#1a1a1a" stroke-width="1.7" stroke-linecap="round" fill="none"/>
<path d="M344.1 21.2 L345.3 25.5 L346.3 32.3 L347.1 40.8 L347.3 49.4 L347.5 57.9 L346.8 62.1 L345.3 63.8 L341.3 63.8 L339.8 62.1 L339.1 57.9 L339.3 49.4 L339.5 40.8 L340.3 32.3 L341.3 25.5 L342.5 21.2Z" fill="#d65a4a" stroke="#111" stroke-width="0.8" stroke-linejoin="round"/>
<path d="M344 23.7h0M341.9 52.6h0M343.9 47.1h0M342.9 28h0M343 61.7h0M340.9 32.7h0M342.5 41h0M343.7 59.2h0M342.5 31.3h0M346.3 55.2h0M342.2 53.7h0M343.5 51.7h0M342.3 42.6h0M346.1 40.9h0M341.3 52.1h0M341.5 35.1h0M346.1 59.9h0M343.4 51.3h0M342 49h0M345.2 30.1h0M345.5 47.8h0M345.2 32.9h0M341.2 57.6h0M344.8 58.8h0M341 55.9h0M340.1 50.7h0M341.6 63.4h0M344.7 35.9h0M341.8 26.1h0M344.9 40.4h0M345.8 59.7h0M341.4 51.3h0M340.5 49.4h0M341.1 38h0M343.9 62.1h0M343.7 39.1h0M341.7 27.2h0M343.8 28.1h0M342.1 31.1h0M345.4 46.4h0M342.8 51.5h0M340.2 43.7h0M344.7 38.7h0M341.8 31.5h0M343.4 31.1h0M344.2 41h0M342.9 62.3h0M340.3 43h0M341.3 39.1h0M345.8 36.8h0M346.6 47.3h0M344.4 37.1h0M344.3 25.6h0M343 49.9h0M341.5 38.7h0M341.8 46.3h0M342.9 29.4h0M342.6 41h0M341.9 26.4h0M346.7 57.5h0M344.4 50.8h0M343.3 54.4h0M345 36.5h0M343.2 32.7h0M343.2 33.9h0M344.2 32.3h0M345.4 60.4h0M344.7 25.3h0M341.7 27.5h0M342.4 26.7h0M342.9 49.8h0M343.6 43.6h0M340.8 61.7h0M341.7 43.2h0M344.7 59.4h0M340.7 54.6h0M343.9 40h0M343.4 58.8h0M344.7 41.8h0M343.1 61.1h0M344.7 62.2h0M345.8 49.3h0M346.2 38.4h0M343.1 48.3h0M344.4 51.6h0M346.5 56h0M346.2 52.3h0M345.5 58.9h0M345.1 53.9h0M345.4 46.2h0M343.7 39.7h0M346.4 41.1h0M343.3 24.3h0M345.2 56.9h0M342.2 41.9h0M340.9 32.6h0M344.6 54.7h0M340.7 54.8h0M343.2 28.2h0M343.6 33.8h0M343.5 62.4h0M345.5 37.5h0M343.2 34.4h0M344.9 34.2h0M345.7 49.1h0M345.4 37.9h0M341.9 55.2h0M342.1 31.2h0M342.2 37.4h0M342.5 28.3h0M346.1 40.1h0M341.9 35.1h0M345 37.2h0M345.5 48.2h0M344.5 60.7h0M344.8 61.7h0M344.2 33.7h0M341.4 36.9h0M343.2 62h0M346.5 59.3h0M342.8 26.7h0M342.9 58.9h0M345.6 44.4h0M344.1 37.9h0M344.8 27.7h0M342.4 25.3h0M342.1 31.9h0M341.8 35.8h0M342.4 47.3h0M340.7 54h0M345.4 57.5h0M345.3 57.3h0M346.7 47.2h0M344 38h0M343.6 46.7h0M342.7 57.1h0M340.7 43.6h0M344.8 63.6h0M344 24.5h0M343.2 21.6h0M344 28.6h0M346.1 48.9h0M343.6 31.5h0M344.2 23.8h0M344.6 56.3h0M343.2 58.5h0M342 26.9h0M342 30.3h0M345.4 37.4h0M343.3 59.8h0M340.7 60.3h0M341.2 56.1h0M342.9 37.3h0M345.2 39.5h0M343.1 55.8h0M344.1 63.3h0M340 51h0M341.2 44.7h0M344.2 45.9h0M343.1 52.9h0M344 56.3h0" stroke="#1a1a1a" stroke-width="1.7" stroke-linecap="round" fill="none"/>
<text x="336.3" y="71" font-size="7.3" text-anchor="end" fill="#222" stroke="#222" stroke-width="0.16" transform="rotate(-90 336.3 71)">Naïve</text>
<text x="345.8" y="71" font-size="7.3" text-anchor="end" fill="#222" stroke="#222" stroke-width="0.16" transform="rotate(-90 345.8 71)">Primed</text>
<text x="311.4" y="42" font-size="6.6" font-style="italic" text-anchor="middle" fill="#333" stroke="#333" stroke-width="0.16" transform="rotate(-90 311.4 42)">ZIC5</text>
<line x1="385.3" y1="14.1" x2="385.3" y2="66.4" stroke="#231f20" stroke-width="0.7"/>
<line x1="385.3" y1="66.4" x2="405" y2="66.4" stroke="#231f20" stroke-width="0.7"/>
<line x1="382.3" y1="66.4" x2="385.3" y2="66.4" stroke="#231f20" stroke-width="0.6"/>
<text x="380.7" y="69.1" font-size="7.4" text-anchor="end" fill="#222" stroke="#222" stroke-width="0.16">0</text>
<line x1="382.3" y1="49.1" x2="385.3" y2="49.1" stroke="#231f20" stroke-width="0.6"/>
<text x="380.7" y="51.8" font-size="7.4" text-anchor="end" fill="#222" stroke="#222" stroke-width="0.16">100</text>
<line x1="382.3" y1="31.9" x2="385.3" y2="31.9" stroke="#231f20" stroke-width="0.6"/>
<text x="380.7" y="34.5" font-size="7.4" text-anchor="end" fill="#222" stroke="#222" stroke-width="0.16">200</text>
<line x1="382.3" y1="14.6" x2="385.3" y2="14.6" stroke="#231f20" stroke-width="0.6"/>
<text x="380.7" y="17.3" font-size="7.4" text-anchor="end" fill="#222" stroke="#222" stroke-width="0.16">300</text>
<line x1="391.5" y1="66.4" x2="391.5" y2="68.6" stroke="#231f20" stroke-width="0.6"/>
<line x1="401.4" y1="66.4" x2="401.4" y2="68.6" stroke="#231f20" stroke-width="0.6"/>
<path d="M392.4 29.3 L393.7 34.5 L394 38.8 L393.1 42.2 L396 47.4 L394.7 52.6 L393.3 59.5 L392.7 64.7 L390.3 64.7 L389.7 59.5 L388.3 52.6 L387 47.4 L389.9 42.2 L389 38.8 L389.3 34.5 L390.6 29.3Z" fill="#3a88cc" stroke="#111" stroke-width="0.8" stroke-linejoin="round"/>
<path d="M391.5 56.3h0M393.1 45.2h0M392.3 32.6h0M393.5 54.8h0M390.5 61.2h0M390.6 48.4h0M389.7 36.9h0M391.5 37.1h0M390.4 37.5h0M388.7 45.5h0M394.3 52h0M391.1 59.7h0M387.9 47.2h0M391.7 43.9h0M391.7 47.3h0M391.8 30.3h0M391.5 43.2h0M389.5 48.4h0M392.1 47.5h0M391.8 45.5h0M392 63.2h0M390.9 47.6h0M391.5 49.4h0M390.4 46.4h0M392.3 48.3h0M389.9 45.5h0M389 53.1h0M392 38.1h0M390.6 41.5h0M389.7 47.9h0M390.7 54.5h0M390.8 46h0M389.8 44.2h0M390 58.2h0M390.1 53.3h0M392.7 47.6h0M392.4 31.4h0M392.4 60.3h0M390.5 55.6h0M390.3 47.3h0M389.6 44.6h0M391.5 52.8h0M390.8 61.1h0M390.5 57h0M392.4 32.3h0M391 42.3h0M390.4 33h0M391.8 58.6h0M391.8 57h0M390.6 37.2h0M392 58.6h0M392.4 32.5h0M392.2 30.7h0M390 44.2h0M391 61.5h0M392.5 46.2h0M392.2 30.7h0M389.1 45.2h0M391 63.6h0M392.7 48.5h0M390.7 38.4h0M390.6 38h0M393.9 52.4h0M391 43.1h0M391.1 60.9h0M392.2 48.5h0M390.5 37.9h0M391.8 31.8h0M389 46.7h0M388.3 47h0M392 62.9h0M391.5 40.6h0M392.3 61.8h0M390.3 35.6h0M393.3 38.2h0M391.2 48.4h0M390.7 43.3h0M389.7 44h0M390.6 41.8h0M391.9 43.4h0M391.6 37.5h0M391 47h0M391.4 37.7h0M391.7 37.2h0M391.5 31h0M392.1 60.3h0M392 60.5h0M392 59.3h0M390.5 35.5h0M388.4 49.4h0M392 63.2h0M393.5 54.1h0M390.4 57.7h0M392.7 40.8h0M391.7 63.2h0M390.7 43.7h0M391.4 29.4h0M391.7 36.6h0M393.4 46.6h0M390 49.5h0M391.5 49.5h0M390.9 45.2h0M390.6 46.7h0M390.7 36.5h0M392.2 58.8h0M387.7 48.1h0M391.2 43h0M392.5 55.8h0M392.2 51.9h0M390 50.7h0M394 48.5h0M388.4 46.4h0M390.9 47.3h0M389.6 50.7h0M390.5 60.6h0M392.2 55.4h0M390.8 60h0M392.6 59.1h0M391.1 51.3h0M390.1 38.5h0M389.7 54.7h0M390.1 43.3h0M391.9 35.9h0M390.4 60.7h0M389.1 46.8h0M389.8 45.6h0M391.9 54.6h0M391.2 59.6h0M393.1 56.1h0M391.7 29.8h0M392 30.5h0M390.9 30.8h0M391.8 32.5h0M393.2 37.9h0M392.2 50.2h0M388.4 49.1h0M392 31.1h0M394.6 45.9h0M390.9 45h0M391.2 32.3h0M389.9 55.2h0M391.3 59.6h0M392.3 41h0M393.4 54.1h0M390.5 58.7h0M391.7 32.7h0M390.4 52.3h0M392.1 41.8h0M388.8 47h0M391.1 61.6h0M393.3 55.7h0M391.3 52.1h0M392.2 35.2h0M392.3 35.8h0M391.6 31h0M390.5 38.7h0M389 51.6h0M393.6 52h0M393.8 53.2h0M392.5 38.4h0" stroke="#1a1a1a" stroke-width="1.7" stroke-linecap="round" fill="none"/>
<path d="M403.4 63.8 L405.4 65 L405.4 66.4 L397.4 66.4 L397.4 65 L399.4 63.8Z" fill="#222" stroke="#111" stroke-width="0.8" stroke-linejoin="round"/>
<path d="M402.6 64h0M400.1 65.7h0M402 65.4h0M400.9 64.2h0M401 66.3h0M398.9 64.5h0M400.6 65h0M401.8 66.1h0M400.5 64.4h0M403.5 64.2h0M404.2 65.6h0M404.2 65.9h0M400.4 65.8h0M401.6 65.7h0M400.4 65.1h0M404.3 65h0" stroke="#1a1a1a" stroke-width="1.7" stroke-linecap="round" fill="none"/>
<text x="394" y="71" font-size="7.3" text-anchor="end" fill="#222" stroke="#222" stroke-width="0.16" transform="rotate(-90 394 71)">Naïve</text>
<text x="403.9" y="71" font-size="7.3" text-anchor="end" fill="#222" stroke="#222" stroke-width="0.16" transform="rotate(-90 403.9 71)">Primed</text>
<text x="366.1" y="42" font-size="6.6" font-style="italic" text-anchor="middle" fill="#333" stroke="#333" stroke-width="0.16" transform="rotate(-90 366.1 42)">KLF5</text>
<line x1="440.8" y1="14.5" x2="440.8" y2="65.7" stroke="#231f20" stroke-width="0.7"/>
<line x1="440.8" y1="65.7" x2="459" y2="65.7" stroke="#231f20" stroke-width="0.7"/>
<line x1="437.8" y1="65.7" x2="440.8" y2="65.7" stroke="#231f20" stroke-width="0.6"/>
<text x="436.2" y="68.4" font-size="7.4" text-anchor="end" fill="#222" stroke="#222" stroke-width="0.16">0</text>
<line x1="437.8" y1="40.4" x2="440.8" y2="40.4" stroke="#231f20" stroke-width="0.6"/>
<text x="436.2" y="43" font-size="7.4" text-anchor="end" fill="#222" stroke="#222" stroke-width="0.16">50</text>
<line x1="437.8" y1="15" x2="440.8" y2="15" stroke="#231f20" stroke-width="0.6"/>
<text x="436.2" y="17.7" font-size="7.4" text-anchor="end" fill="#222" stroke="#222" stroke-width="0.16">100</text>
<line x1="445.2" y1="65.7" x2="445.2" y2="67.9" stroke="#231f20" stroke-width="0.6"/>
<line x1="454.7" y1="65.7" x2="454.7" y2="67.9" stroke="#231f20" stroke-width="0.6"/>
<path d="M448 22.1 L448.2 26.2 L449.7 34.3 L449.7 40.4 L448.4 46.4 L447.4 51.5 L446.8 55.6 L446.4 56.6 L444 56.6 L443.6 55.6 L443 51.5 L442 46.4 L440.7 40.4 L440.7 34.3 L442.2 26.2 L442.4 22.1Z" fill="#3a88cc" stroke="#111" stroke-width="0.8" stroke-linejoin="round"/>
<path d="M445.2 48.4h0M447.5 37.6h0M446.9 25.3h0M441.2 37h0M443 37.5h0M445.4 23.2h0M444.5 54.5h0M443 36.7h0M443.1 37.2h0M444.9 30.1h0M447.6 32.1h0M442.8 41.3h0M446.3 26.3h0M446.6 36.7h0M448 32.6h0M443.4 42.4h0M443.8 49.6h0M446.5 41h0M445.3 35h0M444.7 48.9h0M441.5 39h0M442.9 42.5h0M447.4 39.4h0M443.1 40.7h0M445.8 39.8h0M445.6 37.9h0M445.9 55.1h0M444.6 40h0M445.2 41.7h0M444 38.8h0M446.1 40.7h0M443 37.9h0M447.3 28.2h0M446.5 50.2h0M442.4 45.3h0M446 30.7h0M442.5 34h0M443.4 40.3h0M444.3 46.6h0M444.3 38.4h0M442.1 36.6h0M447.2 29.3h0M443.5 22.8h0M446.3 46.9h0M443.6 45.5h0M446.4 39.9h0M443.8 35.7h0M443.9 43.9h0M443.8 32.7h0M441.3 36.4h0M446.2 52.4h0M444 39.6h0M444.8 29.2h0M446.2 28.8h0M443.9 32.3h0M444.4 22.7h0M446.6 33.8h0M446.7 34h0M443.1 38.8h0M443.5 47.1h0M445.9 53.5h0M444.3 42.8h0M448.1 33.8h0M445.4 52.7h0M443.1 25.7h0M445.6 50.7h0M445.5 49.1h0M443.7 29.8h0M447.5 31.7h0M447.1 25.3h0M447.5 23.5h0M442.5 36.6h0M442.6 30.4h0M446.5 53.5h0M444.5 53.4h0M446.4 38.5h0M447.5 23.5h0M444.8 32.3h0M448.3 32.9h0M445.8 25.9h0M443.8 45.8h0M443.2 40.8h0M447.6 24.9h0M446.3 37.5h0M443.8 32.7h0M445.5 32.5h0M443.3 42.1h0M443.2 22.8h0M441.9 41.1h0M447.1 44h0M442.4 39.1h0M441.8 39.4h0M445.9 54.8h0M445.3 33.1h0M446.3 53.8h0M447.1 23.2h0M444.8 45.9h0M446.1 27.5h0M448.3 30.8h0M445.4 50h0M444.8 51.4h0M441.5 33.8h0M445.6 44.4h0M443.5 24.2h0M446.9 26.4h0M446.1 35.8h0M445.4 30.1h0M444.7 39.4h0M443.7 45.8h0M443 39.2h0M448.5 36.3h0M445.6 53.7h0M445.3 23.8h0M446 52.3h0M445.8 52.5h0M445.9 51.4h0M447 47.5h0M443.4 41.8h0M446.8 29.6h0M445.3 46.8h0M442.6 27.8h0M447.9 43.8h0M445.8 55.2h0M447.5 46.2h0M443.8 49.8h0M448.3 33.3h0M445.4 55.2h0M443.6 36.2h0M441.9 30.7h0M442.4 28.6h0M447.4 43.7h0M445.5 29.2h0M443.5 31.5h0" stroke="#1a1a1a" stroke-width="1.7" stroke-linecap="round" fill="none"/>
<path d="M455.5 37.8 L455.7 46.4 L456.5 53 L457.7 59.6 L458.5 63.7 L458.5 65.2 L450.9 65.2 L450.9 63.7 L451.7 59.6 L452.9 53 L453.7 46.4 L453.9 37.8Z" fill="#d65a4a" stroke="#111" stroke-width="0.8" stroke-linejoin="round"/>
<path d="M454.9 39.4h0M454.3 45.2h0M454.5 50.5h0M455.1 62.2h0M454.5 44.3h0M452.6 65.2h0M456.4 64.1h0M454.8 57.4h0M455.1 62.4h0M454.6 63h0M456.3 57h0M454.8 57.1h0M454.7 46.4h0M451.9 63.4h0M456.2 62.7h0M454.8 61.8h0M453.1 61.2h0M456 61.9h0M453.1 60.1h0M452.9 56.7h0M451.6 64.9h0M454 58.1h0M456.9 62.5h0M453.6 57.1h0M453.2 55.9h0M454.8 49.3h0M454.3 41.7h0M454.8 42.2h0M454.4 57.2h0M453.6 52.2h0M455.1 49h0M454.4 44.4h0M454.3 64.2h0M453.7 52.2h0M454.8 59.8h0M453.4 63h0M451.5 64.7h0M453.9 56.6h0M452 60.8h0M454.9 51.1h0M453 58.4h0M455 41.1h0M455.3 56.8h0M453.2 60.7h0M454.5 51.2h0M454.2 65.1h0M455 39.6h0M452.2 64.9h0M452 63.8h0M453 59.2h0M454.9 49.9h0M454.8 62h0M456.6 57.1h0M455.4 61.1h0M451.5 64.6h0M456.6 62h0M455.8 58.8h0M455.6 53.9h0M454.8 49.7h0M455.6 50.6h0M454.7 39.8h0M456.1 60.7h0M453.8 51.6h0" stroke="#1a1a1a" stroke-width="1.7" stroke-linecap="round" fill="none"/>
<text x="447.7" y="71" font-size="7.3" text-anchor="end" fill="#222" stroke="#222" stroke-width="0.16" transform="rotate(-90 447.7 71)">Naïve</text>
<text x="457.2" y="71" font-size="7.3" text-anchor="end" fill="#222" stroke="#222" stroke-width="0.16" transform="rotate(-90 457.2 71)">Primed</text>
<text x="423.8" y="42" font-size="6.6" font-style="italic" text-anchor="middle" fill="#333" stroke="#333" stroke-width="0.16" transform="rotate(-90 423.8 42)">TFAP2C</text>
<line x1="497.9" y1="14.5" x2="497.9" y2="66.4" stroke="#231f20" stroke-width="0.7"/>
<line x1="497.9" y1="66.4" x2="518.6" y2="66.4" stroke="#231f20" stroke-width="0.7"/>
<line x1="494.9" y1="66.4" x2="497.9" y2="66.4" stroke="#231f20" stroke-width="0.6"/>
<text x="493.3" y="69.1" font-size="7.4" text-anchor="end" fill="#222" stroke="#222" stroke-width="0.16">0</text>
<line x1="494.9" y1="49.3" x2="497.9" y2="49.3" stroke="#231f20" stroke-width="0.6"/>
<text x="493.3" y="51.9" font-size="7.4" text-anchor="end" fill="#222" stroke="#222" stroke-width="0.16">500</text>
<line x1="494.9" y1="32.1" x2="497.9" y2="32.1" stroke="#231f20" stroke-width="0.6"/>
<text x="493.3" y="34.8" font-size="7.4" text-anchor="end" fill="#222" stroke="#222" stroke-width="0.16">1000</text>
<line x1="494.9" y1="15" x2="497.9" y2="15" stroke="#231f20" stroke-width="0.6"/>
<text x="493.3" y="17.7" font-size="7.4" text-anchor="end" fill="#222" stroke="#222" stroke-width="0.16">1500</text>
<line x1="504" y1="66.4" x2="504" y2="68.6" stroke="#231f20" stroke-width="0.6"/>
<line x1="514.2" y1="66.4" x2="514.2" y2="68.6" stroke="#231f20" stroke-width="0.6"/>
<path d="M506 65 L508 65.7 L508 66.4 L500 66.4 L500 65.7 L502 65Z" fill="#222" stroke="#111" stroke-width="0.8" stroke-linejoin="round"/>
<path d="M504 66.1h0M505.9 65.6h0M505.3 65.2h0M500.8 65.6h0M502.2 65.6h0M504.1 65.1h0M502 66.3h0M502.2 65.6h0M502.3 65.6h0M503.8 65.3h0M505.8 65.4h0" stroke="#1a1a1a" stroke-width="1.7" stroke-linecap="round" fill="none"/>
<path d="M515.1 24.6 L515.1 32.1 L515.7 35.6 L516.7 40.7 L518.2 45.8 L517.7 51 L516.2 54.4 L515.2 57.8 L515.2 63 L516.7 64.7 L515.7 65.4 L512.7 65.4 L511.7 64.7 L513.2 63 L513.2 57.8 L512.2 54.4 L510.7 51 L510.2 45.8 L511.7 40.7 L512.7 35.6 L513.3 32.1 L513.3 24.6Z" fill="#d65a4a" stroke="#111" stroke-width="0.8" stroke-linejoin="round"/>
<path d="M514.5 26.9h0M512 49.3h0M515.3 42.2h0M512.6 46.8h0M514.2 26.1h0M515.3 37.6h0M512.4 46h0M514.3 53.8h0M513.2 45h0M516.5 43.4h0M515.9 53.1h0M514.3 53.4h0M513.1 51.2h0M515 35.7h0M513.9 57.8h0M512.2 52.8h0M512.7 65h0M513.8 54.9h0M515.1 43.9h0M514.1 37.5h0M514.3 60.3h0M512.8 40.6h0M514.4 63.7h0M514.5 41.7h0M513.8 30.3h0M514.3 31.2h0M513.9 53.5h0M511 46h0M515.2 41.3h0M513.7 34.4h0M514.2 34h0M515 43.5h0M514.6 42.3h0M511.4 46h0M517.2 49.5h0M514.9 39.8h0M512.9 41.3h0M512.8 48.6h0M515.2 40.6h0M512.7 40.7h0M514.9 52.8h0M513.9 44.9h0M517.4 46.1h0M511.6 48.5h0M514.5 27.3h0M514.3 52.4h0M515.6 53.8h0M513.7 43.4h0M513.8 48h0M514.2 60.6h0M515.5 44.3h0M515.2 49.9h0M514.7 55.9h0M516.2 48.5h0M514.5 42.3h0M516.9 43.6h0M514.2 27.6h0M513 52.1h0M511.4 45.1h0M514.8 55.3h0M513.9 59.8h0M513.4 40.2h0M514.3 64h0M515.6 40.2h0M516.7 44.3h0M515.6 40.5h0M514.1 37.2h0M514.9 63.6h0M513.5 40.1h0M513.4 37.9h0M515.3 39.8h0M516.2 50.4h0M513.7 51.9h0M515.5 39h0M514.1 29.8h0M512.9 42.4h0M513.8 62.4h0M513.5 41.7h0M514.4 34.6h0M515 38.3h0M514.5 27.1h0M514.7 40.6h0M514.4 49h0M512.2 41.4h0M513.6 57.1h0M513 38.9h0M516.6 51.9h0M516.6 51.1h0M514.2 47.4h0M514.5 27.1h0M513.9 30h0M513.9 33.2h0M513.8 62h0M515.6 42h0M515.8 43.9h0M514.9 64.8h0M514.3 32.8h0M515.7 50.9h0M512.4 53.2h0M513.9 26.1h0M512.3 50.5h0M515 36.5h0M515.8 53.2h0M513.6 47.8h0M514.7 54h0M514.4 46.5h0M514.5 62.3h0M513.4 42.8h0M512.4 43.9h0M514 44h0M512 48h0M512.8 52.4h0M514.8 37.6h0M513.9 38.6h0M514.3 58.6h0M514.3 30h0M514.5 39.9h0M516.9 44.8h0M513.1 53.2h0M514.4 33.3h0M516.1 40.5h0M513.7 40.6h0M514.2 33.4h0M514.6 57.9h0M515.2 52.1h0M512.5 41h0M516.1 45.4h0M515.7 48.3h0M514.2 33.6h0M514.1 29.9h0M515.2 46.5h0M514.3 63h0M513.3 42.4h0M516.7 51.5h0M515.6 39.1h0M516 49.3h0M513.7 64h0M514.4 58.8h0M514.2 59.8h0M513.7 49.5h0M513.5 56.8h0M514.1 32.3h0M515.2 45h0M517.1 46.1h0" stroke="#1a1a1a" stroke-width="1.7" stroke-linecap="round" fill="none"/>
<text x="506.5" y="71" font-size="7.3" text-anchor="end" fill="#222" stroke="#222" stroke-width="0.16" transform="rotate(-90 506.5 71)">Naïve</text>
<text x="516.7" y="71" font-size="7.3" text-anchor="end" fill="#222" stroke="#222" stroke-width="0.16" transform="rotate(-90 516.7 71)">Primed</text>
<text x="475.8" y="42" font-size="6.6" font-style="italic" text-anchor="middle" fill="#333" stroke="#333" stroke-width="0.16" transform="rotate(-90 475.8 42)">PODXL</text>
<text x="532" y="8" font-size="10" font-weight="bold" fill="#231f20">c</text>
<line x1="566.7" y1="10.1" x2="566.7" y2="97.1" stroke="#231f20" stroke-width="0.7"/>
<line x1="566.7" y1="97.1" x2="672.5" y2="97.1" stroke="#555" stroke-width="0.9"/>
<line x1="564.1" y1="97.1" x2="566.7" y2="97.1" stroke="#231f20" stroke-width="0.6"/>
<text x="562.1" y="99.6" font-size="6.9" text-anchor="end" fill="#222" stroke="#222" stroke-width="0.16">0</text>
<line x1="564.1" y1="72.5" x2="566.7" y2="72.5" stroke="#231f20" stroke-width="0.6"/>
<text x="562.1" y="75" font-size="6.9" text-anchor="end" fill="#222" stroke="#222" stroke-width="0.16">100</text>
<line x1="564.1" y1="47.8" x2="566.7" y2="47.8" stroke="#231f20" stroke-width="0.6"/>
<text x="562.1" y="50.3" font-size="6.9" text-anchor="end" fill="#222" stroke="#222" stroke-width="0.16">200</text>
<line x1="564.1" y1="23.2" x2="566.7" y2="23.2" stroke="#231f20" stroke-width="0.6"/>
<text x="562.1" y="25.7" font-size="6.9" text-anchor="end" fill="#222" stroke="#222" stroke-width="0.16">300</text>
<text x="545.9" y="56" font-size="7.3" font-weight="bold" text-anchor="middle" fill="#231f20" transform="rotate(-90 545.9 56)">Mean expression (RPM)</text>
<text x="588.6" y="7" font-size="7.3" font-weight="bold" fill="#231f20">Expression in</text>
<text x="588.6" y="15.6" font-size="7.3" font-weight="bold" font-style="italic" fill="#231f20">Macaca fascicularis</text>
<polyline points="582.8,97.1 607,97.1 631.5,97.1 656,97.1" fill="none" stroke="#8a8a8a" stroke-width="0.8"/>
<circle cx="582.8" cy="97.1" r="2.1" fill="#8a8a8a"/>
<circle cx="607" cy="97.1" r="2.1" fill="#8a8a8a"/>
<circle cx="631.5" cy="97.1" r="2.1" fill="#8a8a8a"/>
<circle cx="656" cy="97.1" r="2.1" fill="#8a8a8a"/>
<polyline points="582.8,97.1 607,97.1 631.5,97.1 656,97.1" fill="none" stroke="#111111" stroke-width="0.8"/>
<circle cx="582.8" cy="97.1" r="2.1" fill="#111111"/>
<circle cx="607" cy="97.1" r="2.1" fill="#111111"/>
<circle cx="631.5" cy="97.1" r="2.1" fill="#111111"/>
<circle cx="656" cy="97.1" r="2.1" fill="#111111"/>
<polyline points="582.8,95.9 607,73.2 631.5,82.3 656,22.5" fill="none" stroke="#f39a2d" stroke-width="0.8"/>
<circle cx="582.8" cy="95.9" r="2.1" fill="#f39a2d"/>
<circle cx="607" cy="73.2" r="2.1" fill="#f39a2d"/>
<circle cx="631.5" cy="82.3" r="2.1" fill="#f39a2d"/>
<circle cx="656" cy="22.5" r="2.1" fill="#f39a2d"/>
<polyline points="582.8,95.1 607,89 631.5,81.1 656,82.8" fill="none" stroke="#e8453c" stroke-width="0.8"/>
<circle cx="582.8" cy="95.1" r="2.1" fill="#e8453c"/>
<circle cx="607" cy="89" r="2.1" fill="#e8453c"/>
<circle cx="631.5" cy="81.1" r="2.1" fill="#e8453c"/>
<circle cx="656" cy="82.8" r="2.1" fill="#e8453c"/>
<polyline points="582.8,96.4 607,92.7 631.5,89.5 656,76.4" fill="none" stroke="#8c1d2a" stroke-width="0.8"/>
<circle cx="582.8" cy="96.4" r="2.1" fill="#8c1d2a"/>
<circle cx="607" cy="92.7" r="2.1" fill="#8c1d2a"/>
<circle cx="631.5" cy="89.5" r="2.1" fill="#8c1d2a"/>
<circle cx="656" cy="76.4" r="2.1" fill="#8c1d2a"/>
<text x="668" y="25.3" font-size="7.5" font-style="italic" fill="#8a8a8a" stroke="#8a8a8a" stroke-width="0.16">ZIC1</text>
<text x="668" y="32.6" font-size="7.5" font-style="italic" fill="#f39a2d" stroke="#f39a2d" stroke-width="0.16">ZIC2</text>
<text x="668" y="39.9" font-size="7.5" font-style="italic" fill="#e8453c" stroke="#e8453c" stroke-width="0.16">ZIC3</text>
<text x="668" y="47.2" font-size="7.5" font-style="italic" fill="#222" stroke="#222" stroke-width="0.16">ZIC4</text>
<text x="668" y="54.5" font-size="7.5" font-style="italic" fill="#a0282f" stroke="#a0282f" stroke-width="0.16">ZIC5</text>
<line x1="582.8" y1="97.1" x2="582.8" y2="98.9" stroke="#555" stroke-width="0.6"/>
<text x="587.1" y="105" font-size="7.3" text-anchor="end" fill="#222" stroke="#222" stroke-width="0.16" transform="rotate(-45 587.1 105)">ICM</text>
<line x1="607" y1="97.1" x2="607" y2="98.9" stroke="#555" stroke-width="0.6"/>
<text x="609.2" y="104" font-size="7.3" text-anchor="end" fill="#222" stroke="#222" stroke-width="0.16" transform="rotate(-45 609.2 104)">Pre-</text>
<text x="613.3" y="108.5" font-size="7.3" text-anchor="end" fill="#222" stroke="#222" stroke-width="0.16" transform="rotate(-45 613.3 108.5)">EPI</text>
<line x1="631.5" y1="97.1" x2="631.5" y2="98.9" stroke="#555" stroke-width="0.6"/>
<text x="633.7" y="104" font-size="7.3" text-anchor="end" fill="#222" stroke="#222" stroke-width="0.16" transform="rotate(-45 633.7 104)">Post-</text>
<text x="637.8" y="108.5" font-size="7.3" text-anchor="end" fill="#222" stroke="#222" stroke-width="0.16" transform="rotate(-45 637.8 108.5)">EPI-E</text>
<line x1="656" y1="97.1" x2="656" y2="98.9" stroke="#555" stroke-width="0.6"/>
<text x="658.2" y="104" font-size="7.3" text-anchor="end" fill="#222" stroke="#222" stroke-width="0.16" transform="rotate(-45 658.2 104)">Post-</text>
<text x="662.3" y="108.5" font-size="7.3" text-anchor="end" fill="#222" stroke="#222" stroke-width="0.16" transform="rotate(-45 662.3 108.5)">EPI-L</text>
<text x="0.5" y="125" font-size="10" font-weight="bold" fill="#231f20">d</text>
<text x="9.9" y="139" font-size="7.4" font-weight="bold" fill="#231f20" textLength="134.5" lengthAdjust="spacingAndGlyphs"><tspan font-style="italic">ZIC2</tspan> mutagenesis in primed hESCs</text>
<line x1="0.9" y1="143.5" x2="0.9" y2="201.4" stroke="#444" stroke-width="0.9"/>
<line x1="39.6" y1="143.5" x2="39.6" y2="201.4" stroke="#444" stroke-width="0.9"/>
<line x1="65.5" y1="143.5" x2="65.5" y2="201.4" stroke="#444" stroke-width="0.9"/>
<line x1="92.4" y1="143.5" x2="92.4" y2="201.4" stroke="#444" stroke-width="0.9"/>
<line x1="118.7" y1="143.5" x2="118.7" y2="201.4" stroke="#444" stroke-width="0.9"/>
<line x1="146.1" y1="143.5" x2="146.1" y2="201.4" stroke="#444" stroke-width="0.9"/>
<line x1="0.5" y1="143.5" x2="146.5" y2="143.5" stroke="#444" stroke-width="0.9"/>
<line x1="0.5" y1="162.2" x2="146.5" y2="162.2" stroke="#444" stroke-width="0.9"/>
<line x1="0.5" y1="182.5" x2="146.5" y2="182.5" stroke="#444" stroke-width="0.9"/>
<line x1="0.5" y1="201.4" x2="146.5" y2="201.4" stroke="#444" stroke-width="0.9"/>
<text x="52.5" y="155.3" font-size="7" font-weight="bold" font-style="italic" text-anchor="middle" fill="#231f20">WT</text>
<text x="77.5" y="155.3" font-size="7" font-weight="bold" font-style="italic" text-anchor="middle" fill="#231f20">ZIC3<tspan font-size="4" dy="-2.6" font-style="normal" font-weight="normal">-/-</tspan></text>
<text x="104.1" y="155.3" font-size="7" font-weight="bold" font-style="italic" text-anchor="middle" fill="#231f20">ZIC5<tspan font-size="4" dy="-2.6" font-style="normal" font-weight="normal">-/-</tspan></text>
<text x="130.9" y="151.3" font-size="7" font-weight="bold" font-style="italic" text-anchor="middle" fill="#231f20">ZIC3<tspan font-size="4" dy="-2.6" font-style="normal" font-weight="normal">-/-</tspan></text>
<text x="130.9" y="160" font-size="7" font-weight="bold" font-style="italic" text-anchor="middle" fill="#231f20">ZIC5<tspan font-size="4" dy="-2.6" font-style="normal" font-weight="normal">-/-</tspan></text>
<text x="17.9" y="171" font-size="7.3" font-weight="bold" text-anchor="middle" fill="#231f20">Total</text>
<text x="20.2" y="179.8" font-size="7.3" font-weight="bold" text-anchor="middle" fill="#231f20">screened</text>
<text x="52.5" y="175.7" font-size="7.4" text-anchor="middle" fill="#555" stroke="#555" stroke-width="0.16">4</text>
<text x="79" y="175.7" font-size="7.4" text-anchor="middle" fill="#555" stroke="#555" stroke-width="0.16">15</text>
<text x="105.6" y="175.7" font-size="7.4" text-anchor="middle" fill="#555" stroke="#555" stroke-width="0.16">9</text>
<text x="132.4" y="175.7" font-size="7.4" text-anchor="middle" fill="#555" stroke="#555" stroke-width="0.16">8</text>
<text x="21.9" y="194.3" font-size="7" font-weight="bold" text-anchor="middle" fill="#231f20">ZIC2<tspan font-size="4" dy="-2.6" font-style="normal" font-weight="normal">-/-</tspan></text>
<text x="52.5" y="194.5" font-size="7.4" text-anchor="middle" fill="#555" stroke="#555" stroke-width="0.16">4</text>
<text x="79" y="194.5" font-size="7.4" text-anchor="middle" fill="#555" stroke="#555" stroke-width="0.16">0</text>
<text x="105.6" y="194.5" font-size="7.4" text-anchor="middle" fill="#555" stroke="#555" stroke-width="0.16">7</text>
<text x="132.4" y="194.5" font-size="7.4" text-anchor="middle" fill="#555" stroke="#555" stroke-width="0.16">0</text>
<text x="159.7" y="111" font-size="9" font-weight="bold" fill="#231f20">e</text>
<text x="203.3" y="111" font-size="7.2" text-anchor="middle" fill="#333" stroke="#333" stroke-width="0.16">Parental</text>
<text x="257.5" y="111" font-size="7.2" text-anchor="middle" fill="#333" stroke="#333" stroke-width="0.16"><tspan font-style="italic">ZIC2</tspan><tspan font-size="4" dy="-2.5">-/-</tspan><tspan dy="2.5" font-style="italic">ZIC5</tspan><tspan font-size="4" dy="-2.5">-/-</tspan></text>
<text x="313.1" y="111" font-size="7.2" text-anchor="middle" fill="#333" stroke="#333" stroke-width="0.16">TetON-<tspan font-style="italic">ZIC2</tspan></text>
<text x="371" y="111" font-size="7.2" text-anchor="middle" fill="#333" stroke="#333" stroke-width="0.16">TetON-<tspan font-style="italic">ZIC3</tspan></text>
<line x1="176.7" y1="115.3" x2="225.6" y2="115.3" stroke="#444" stroke-width="0.7"/>
<line x1="232.8" y1="115.3" x2="282.1" y2="115.3" stroke="#444" stroke-width="0.7"/>
<line x1="289.5" y1="115.3" x2="338.7" y2="115.3" stroke="#444" stroke-width="0.7"/>
<line x1="345" y1="115.3" x2="393.9" y2="115.3" stroke="#444" stroke-width="0.7"/>
<text x="187.4" y="130" font-size="7" text-anchor="middle" fill="#333" stroke="#333" stroke-width="0.16">Input</text>
<text x="213.5" y="126.7" font-size="7" text-anchor="middle" fill="#333" stroke="#333" stroke-width="0.16">ZIC2</text>
<text x="213.5" y="133.5" font-size="7" text-anchor="middle" fill="#333" stroke="#333" stroke-width="0.16">ChIP</text>
<text x="243.3" y="130" font-size="7" text-anchor="middle" fill="#333" stroke="#333" stroke-width="0.16">Input</text>
<text x="269.2" y="126.7" font-size="7" text-anchor="middle" fill="#333" stroke="#333" stroke-width="0.16">ZIC3</text>
<text x="269.2" y="133.5" font-size="7" text-anchor="middle" fill="#333" stroke="#333" stroke-width="0.16">ChIP</text>
<text x="299.5" y="130" font-size="7" text-anchor="middle" fill="#333" stroke="#333" stroke-width="0.16">Input</text>
<text x="325.4" y="126.7" font-size="7" text-anchor="middle" fill="#333" stroke="#333" stroke-width="0.16">Flag</text>
<text x="325.4" y="133.5" font-size="7" text-anchor="middle" fill="#333" stroke="#333" stroke-width="0.16">ChIP</text>
<text x="355.6" y="130" font-size="7" text-anchor="middle" fill="#333" stroke="#333" stroke-width="0.16">Input</text>
<text x="381.8" y="126.7" font-size="7" text-anchor="middle" fill="#333" stroke="#333" stroke-width="0.16">Flag</text>
<text x="381.8" y="133.5" font-size="7" text-anchor="middle" fill="#333" stroke="#333" stroke-width="0.16">ChIP</text>
<svg x="175.3" y="136.6" width="24.1" height="95">
<rect x="0" y="0" width="24.1" height="95" fill="#fbe2d9"/>
<rect width="24.1" height="95" fill="url(#vg)" opacity="0.15"/>
<rect width="24.1" height="95" fill="#000" filter="url(#ns)" opacity="0.1"/>

</svg>
<rect x="175.3" y="136.6" width="24.1" height="95" fill="none" stroke="#6a6a6a" stroke-width="0.7"/>
<svg x="201.3" y="136.6" width="24.4" height="95">
<rect x="0" y="0" width="24.4" height="95" fill="#fce2d9"/>
<rect width="24.4" height="95" fill="#000" filter="url(#ns)" opacity="0.12"/>
<rect width="24.4" height="95" fill="#000" filter="url(#nh)" mask="url(#mf)" opacity="0.35"/>
<rect class=q12 x=3.1 y=0 width=18.1 height=1.05 /><rect class=q15 x=4 y=1 width=16.4 height=1.05 /><rect class=q12 x=3.9 y=2 width=16.6 height=1.05 /><rect class=q10 x=4.6 y=3 width=15.1 height=1.05 /><rect class=q13 x=4.1 y=4 width=16.3 height=1.05 /><rect class=q10 x=6 y=5 width=12.5 height=1.05 /><rect class=q10 x=4.4 y=6 width=15.7 height=1.05 /><rect class=q14 x=7.1 y=7 width=10.3 height=1.05 /><rect class=q15 x=4.2 y=8 width=16.1 height=1.05 /><rect class=q14 x=5.4 y=9 width=13.5 height=1.05 /><rect class=q11 x=7.4 y=10 width=9.5 height=1.05 /><rect class=q13 x=7.4 y=11 width=9.6 height=1.05 /><rect class=q11 x=7 y=12 width=10.5 height=1.05 /><rect class=q10 x=6.4 y=13 width=11.6 height=1.05 /><rect class=q13 x=5.4 y=14 width=13.5 height=1.05 /><rect class=q13 x=6.2 y=15 width=12.1 height=1.05 /><rect class=q13 x=6.2 y=16 width=11.9 height=1.05 /><rect class=q13 x=7.4 y=17 width=9.6 height=1.05 /><rect class=q17 x=5.6 y=18 width=13.1 height=1.05 /><rect class=q16 x=6.5 y=19 width=11.3 height=1.05 /><rect class=q13 x=7.9 y=20 width=8.7 height=1.05 /><rect class=q13 x=8.4 y=21 width=7.7 height=1.05 /><rect class=q16 x=7.7 y=22 width=9 height=1.05 /><rect class=q17 x=7.8 y=23 width=8.7 height=1.05 /><rect class=q18 x=6.9 y=24 width=10.6 height=1.05 /><rect class=q11 x=8.5 y=25 width=7.5 height=1.05 /><rect class=q18 x=8 y=26 width=8.4 height=1.05 /><rect class=q18 x=8.3 y=27 width=7.8 height=1.05 /><rect class=q12 x=7.9 y=28 width=8.5 height=1.05 /><rect class=q17 x=8.7 y=29 width=7 height=1.05 /><rect class=q12 x=8.7 y=30 width=7.1 height=1.05 /><rect class=q19 x=7.9 y=31 width=8.6 height=1.05 /><rect class=q12 x=8.9 y=32 width=6.5 height=1.05 /><rect class=q12 x=9.3 y=33 width=5.7 height=1.05 /><rect class=q18 x=9.2 y=34 width=6.1 height=1.05 /><rect class=q16 x=8.7 y=35 width=6.9 height=1.05 /><rect class=q13 x=8.3 y=36 width=7.8 height=1.05 /><rect class=q13 x=8.5 y=37 width=7.4 height=1.05 /><rect class=q13 x=9 y=38 width=6.5 height=1.05 /><rect class=q14 x=9.3 y=39 width=5.8 height=1.05 /><rect class=q20 x=8.5 y=40 width=7.5 height=1.05 /><rect class=q14 x=8.4 y=41 width=7.6 height=1.05 /><rect class=q14 x=9.2 y=42 width=5.9 height=1.05 /><rect class=q19 x=8.9 y=43 width=6.5 height=1.05 /><rect class=q13 x=8.5 y=44 width=7.4 height=1.05 /><rect class=q14 x=9.6 y=45 width=5.1 height=1.05 /><rect class=q18 x=9.6 y=46 width=5.2 height=1.05 /><rect class=q15 x=10 y=47 width=4.4 height=1.05 /><rect class=q13 x=9.3 y=48 width=5.7 height=1.05 /><rect class=q14 x=9.4 y=49 width=5.6 height=1.05 /><rect class=q15 x=9.7 y=50 width=5.1 height=1.05 /><rect class=q20 x=9.7 y=51 width=5.1 height=1.05 /><rect class=q17 x=9.3 y=52 width=5.9 height=1.05 /><rect class=q14 x=10.2 y=53 width=4 height=1.05 /><rect class=q20 x=9.5 y=54 width=5.5 height=1.05 /><rect class=q15 x=10.3 y=55 width=3.9 height=1.05 /><rect class=q19 x=9.5 y=56 width=5.4 height=1.05 /><rect class=q14 x=9.5 y=57 width=5.4 height=1.05 /><rect class=q20 x=9.9 y=58 width=4.6 height=1.05 /><rect class=q16 x=10.5 y=59 width=3.5 height=1.05 /><rect class=q13 x=9.6 y=60 width=5.3 height=1.05 /><rect class=q15 x=9.9 y=61 width=4.7 height=1.05 /><rect class=q15 x=9.8 y=62 width=4.9 height=1.05 /><rect class=q18 x=10.3 y=63 width=3.7 height=1.05 /><rect class=q14 x=9.9 y=64 width=4.6 height=1.05 /><rect class=q13 x=10.4 y=65 width=3.5 height=1.05 /><rect class=q17 x=9.8 y=66 width=4.8 height=1.05 /><rect class=q18 x=10.4 y=67 width=3.6 height=1.05 /><rect class=q20 x=10.5 y=68 width=3.4 height=1.05 /><rect class=q13 x=10.5 y=69 width=3.5 height=1.05 /><rect class=q16 x=10.7 y=70 width=3 height=1.05 /><rect class=q14 x=10.4 y=71 width=3.6 height=1.05 /><rect class=q17 x=10.6 y=72 width=3.1 height=1.05 /><rect class=q15 x=9.9 y=73 width=4.5 height=1.05 /><rect class=q20 x=10.2 y=74 width=4 height=1.05 /><rect class=q18 x=10.3 y=75 width=3.9 height=1.05 /><rect class=q14 x=10.8 y=76 width=2.8 height=1.05 /><rect class=q12 x=10 y=77 width=4.4 height=1.05 /><rect class=q18 x=10 y=78 width=4.4 height=1.05 /><rect class=q12 x=10.3 y=79 width=3.8 height=1.05 /><rect class=q16 x=10.2 y=80 width=3.9 height=1.05 /><rect class=q15 x=10 y=81 width=4.4 height=1.05 /><rect class=q13 x=10.4 y=82 width=3.5 height=1.05 /><rect class=q18 x=10.1 y=83 width=4.1 height=1.05 /><rect class=q18 x=10.3 y=84 width=3.7 height=1.05 /><rect class=q19 x=10.2 y=85 width=4 height=1.05 /><rect class=q15 x=10.4 y=86 width=3.6 height=1.05 /><rect class=q19 x=10.3 y=87 width=3.9 height=1.05 /><rect class=q16 x=10.3 y=88 width=3.7 height=1.05 /><rect class=q19 x=10.5 y=89 width=3.3 height=1.05 /><rect class=q17 x=10.7 y=90 width=3 height=1.05 /><rect class=q17 x=10.6 y=91 width=3.3 height=1.05 /><rect class=q13 x=10.5 y=92 width=3.3 height=1.05 /><rect class=q20 x=10.4 y=93 width=3.6 height=1.05 /><rect class=q18 x=10.8 y=94 width=2.9 height=1.05 />
<rect x="10.4" width="3.6" height="95" fill="url(#hc)" fill-opacity="0.5"/>
</svg>
<rect x="201.3" y="136.6" width="24.4" height="95" fill="none" stroke="#6a6a6a" stroke-width="0.7"/>
<svg x="231" y="136.6" width="24.6" height="95">
<rect x="0" y="0" width="24.6" height="95" fill="#f0a292"/>
<rect width="24.6" height="95" fill="url(#vg)" opacity="1.0"/>
<rect width="24.6" height="95" fill="#000" filter="url(#ns)" opacity="0.4"/>
<rect class=q2 x=9.2 y=0 width=6.3 height=1.05 /><rect class=q3 x=9.6 y=1 width=5.4 height=1.05 /><rect class=q2 x=9.4 y=2 width=5.8 height=1.05 /><rect class=q2 x=9 y=3 width=6.6 height=1.05 /><rect class=q3 x=9.2 y=4 width=6.2 height=1.05 /><rect class=q2 x=9.2 y=5 width=6.3 height=1.05 /><rect class=q2 x=9.4 y=6 width=5.9 height=1.05 /><rect class=q2 x=8.9 y=7 width=6.7 height=1.05 /><rect class=q2 x=9 y=8 width=6.6 height=1.05 /><rect class=q2 x=9.1 y=9 width=6.3 height=1.05 /><rect class=q2 x=9.4 y=10 width=5.8 height=1.05 /><rect class=q3 x=9.7 y=11 width=5.1 height=1.05 /><rect class=q2 x=8.9 y=12 width=6.7 height=1.05 /><rect class=q2 x=9.7 y=13 width=5.3 height=1.05 /><rect class=q3 x=8.9 y=14 width=6.8 height=1.05 /><rect class=q2 x=9.4 y=15 width=5.9 height=1.05 /><rect class=q2 x=9.5 y=16 width=5.7 height=1.05 /><rect class=q2 x=9.6 y=17 width=5.4 height=1.05 /><rect class=q3 x=9.7 y=18 width=5.2 height=1.05 /><rect class=q2 x=9 y=19 width=6.6 height=1.05 /><rect class=q2 x=9.4 y=20 width=5.9 height=1.05 /><rect class=q2 x=9.3 y=21 width=6 height=1.05 /><rect class=q2 x=9.7 y=22 width=5.2 height=1.05 /><rect class=q3 x=8.9 y=23 width=6.8 height=1.05 /><rect class=q3 x=9.2 y=24 width=6.3 height=1.05 /><rect class=q2 x=9.4 y=25 width=5.8 height=1.05 /><rect class=q3 x=9.1 y=26 width=6.3 height=1.05 /><rect class=q2 x=9.5 y=27 width=5.5 height=1.05 /><rect class=q2 x=9.3 y=28 width=6 height=1.05 /><rect class=q3 x=9.3 y=29 width=6 height=1.05 /><rect class=q2 x=9 y=30 width=6.6 height=1.05 /><rect class=q2 x=9.3 y=31 width=6 height=1.05 /><rect class=q2 x=9.4 y=32 width=5.9 height=1.05 /><rect class=q2 x=9.1 y=33 width=6.5 height=1.05 /><rect class=q2 x=9.3 y=34 width=6.1 height=1.05 /><rect class=q2 x=9.1 y=35 width=6.4 height=1.05 /><rect class=q2 x=9.5 y=36 width=5.6 height=1.05 /><rect class=q2 x=9.2 y=37 width=6.2 height=1.05 /><rect class=q2 x=9.3 y=38 width=5.9 height=1.05 /><rect class=q2 x=9.5 y=39 width=5.6 height=1.05 /><rect class=q2 x=8.9 y=40 width=6.8 height=1.05 /><rect class=q2 x=8.9 y=41 width=6.8 height=1.05 /><rect class=q2 x=8.9 y=42 width=6.8 height=1.05 /><rect class=q2 x=9.6 y=43 width=5.4 height=1.05 /><rect class=q3 x=8.9 y=44 width=6.7 height=1.05 /><rect class=q2 x=9.5 y=45 width=5.6 height=1.05 /><rect class=q3 x=9.4 y=46 width=5.7 height=1.05 /><rect class=q2 x=9.7 y=47 width=5.1 height=1.05 /><rect class=q2 x=9.2 y=48 width=6.2 height=1.05 /><rect class=q3 x=8.9 y=49 width=6.9 height=1.05 /><rect class=q2 x=9.7 y=50 width=5.1 height=1.05 /><rect class=q2 x=9 y=51 width=6.5 height=1.05 /><rect class=q3 x=9.2 y=52 width=6.3 height=1.05 /><rect class=q2 x=9.3 y=53 width=6 height=1.05 /><rect class=q2 x=9.2 y=54 width=6.2 height=1.05 /><rect class=q2 x=8.9 y=55 width=6.8 height=1.05 /><rect class=q3 x=9.6 y=56 width=5.4 height=1.05 /><rect class=q2 x=9 y=57 width=6.7 height=1.05 /><rect class=q2 x=8.9 y=58 width=6.8 height=1.05 /><rect class=q2 x=9.1 y=59 width=6.4 height=1.05 /><rect class=q3 x=9.6 y=60 width=5.5 height=1.05 /><rect class=q2 x=9.5 y=61 width=5.6 height=1.05 /><rect class=q3 x=9.1 y=62 width=6.3 height=1.05 /><rect class=q2 x=9 y=63 width=6.7 height=1.05 /><rect class=q2 x=9.5 y=64 width=5.5 height=1.05 /><rect class=q2 x=8.9 y=65 width=6.9 height=1.05 /><rect class=q2 x=9.2 y=66 width=6.2 height=1.05 /><rect class=q3 x=8.9 y=67 width=6.8 height=1.05 /><rect class=q3 x=9.4 y=68 width=5.9 height=1.05 /><rect class=q2 x=8.9 y=69 width=6.7 height=1.05 /><rect class=q3 x=9.2 y=70 width=6.1 height=1.05 /><rect class=q2 x=9.4 y=71 width=5.8 height=1.05 /><rect class=q3 x=9.2 y=72 width=6.1 height=1.05 /><rect class=q2 x=9.1 y=73 width=6.4 height=1.05 /><rect class=q3 x=9 y=74 width=6.5 height=1.05 /><rect class=q3 x=8.9 y=75 width=6.7 height=1.05 /><rect class=q2 x=9 y=76 width=6.5 height=1.05 /><rect class=q2 x=9.7 y=77 width=5.3 height=1.05 /><rect class=q2 x=9.5 y=78 width=5.7 height=1.05 /><rect class=q3 x=9.1 y=79 width=6.3 height=1.05 /><rect class=q2 x=9.2 y=80 width=6.2 height=1.05 /><rect class=q2 x=9.3 y=81 width=6.1 height=1.05 /><rect class=q3 x=9.4 y=82 width=5.8 height=1.05 /><rect class=q2 x=9.4 y=83 width=5.8 height=1.05 /><rect class=q2 x=9.1 y=84 width=6.3 height=1.05 /><rect class=q2 x=9.7 y=85 width=5.3 height=1.05 /><rect class=q2 x=9.1 y=86 width=6.4 height=1.05 /><rect class=q3 x=9.2 y=87 width=6.3 height=1.05 /><rect class=q3 x=9.4 y=88 width=5.8 height=1.05 /><rect class=q2 x=9.3 y=89 width=6 height=1.05 /><rect class=q2 x=9.6 y=90 width=5.4 height=1.05 /><rect class=q3 x=9.4 y=91 width=5.7 height=1.05 /><rect class=q2 x=9.5 y=92 width=5.7 height=1.05 /><rect class=q3 x=9.7 y=93 width=5.1 height=1.05 /><rect class=q2 x=9.5 y=94 width=5.6 height=1.05 />
</svg>
<rect x="231" y="136.6" width="24.6" height="95" fill="none" stroke="#6a6a6a" stroke-width="0.7"/>
<svg x="257.2" y="136.6" width="24.1" height="95">
<rect x="0" y="0" width="24.1" height="95" fill="#f5b3a3"/>
<rect width="24.1" height="95" fill="url(#vg)" opacity="0.8"/>
<rect width="24.1" height="95" fill="#000" filter="url(#ns)" opacity="0.35"/>
<rect width="24.1" height="95" fill="#000" filter="url(#nh)" mask="url(#mf)" opacity="0.2"/>
<rect class=q11 x=4.6 y=0 width=14.8 height=1.05 /><rect class=q13 x=4.4 y=1 width=15.2 height=1.05 /><rect class=q10 x=6.3 y=2 width=11.6 height=1.05 /><rect class=q10 x=6.5 y=3 width=11.1 height=1.05 /><rect class=q13 x=6.9 y=4 width=10.3 height=1.05 /><rect class=q12 x=6.8 y=5 width=10.5 height=1.05 /><rect class=q11 x=6.4 y=6 width=11.3 height=1.05 /><rect class=q14 x=6.1 y=7 width=11.9 height=1.05 /><rect class=q10 x=6.9 y=8 width=10.2 height=1.05 /><rect class=q11 x=5.7 y=9 width=12.6 height=1.05 /><rect class=q14 x=6 y=10 width=12.1 height=1.05 /><rect class=q15 x=6.2 y=11 width=11.6 height=1.05 /><rect class=q15 x=6.3 y=12 width=11.6 height=1.05 /><rect class=q12 x=6.3 y=13 width=11.6 height=1.05 /><rect class=q13 x=6.6 y=14 width=11 height=1.05 /><rect class=q14 x=7.3 y=15 width=9.5 height=1.05 /><rect class=q13 x=7.4 y=16 width=9.3 height=1.05 /><rect class=q13 x=8.1 y=17 width=7.9 height=1.05 /><rect class=q15 x=7 y=18 width=10.2 height=1.05 /><rect class=q17 x=7.3 y=19 width=9.6 height=1.05 /><rect class=q14 x=7.3 y=20 width=9.5 height=1.05 /><rect class=q12 x=7.5 y=21 width=9.1 height=1.05 /><rect class=q14 x=8.5 y=22 width=7.2 height=1.05 /><rect class=q13 x=8 y=23 width=8.1 height=1.05 /><rect class=q13 x=8.2 y=24 width=7.7 height=1.05 /><rect class=q15 x=8.4 y=25 width=7.3 height=1.05 /><rect class=q13 x=8.4 y=26 width=7.4 height=1.05 /><rect class=q13 x=8.8 y=27 width=6.4 height=1.05 /><rect class=q13 x=8.7 y=28 width=6.6 height=1.05 /><rect class=q12 x=8.4 y=29 width=7.4 height=1.05 /><rect class=q18 x=8.8 y=30 width=6.6 height=1.05 /><rect class=q16 x=8 y=31 width=8 height=1.05 /><rect class=q12 x=9.1 y=32 width=5.8 height=1.05 /><rect class=q17 x=8.2 y=33 width=7.7 height=1.05 /><rect class=q16 x=9.2 y=34 width=5.8 height=1.05 /><rect class=q14 x=8.2 y=35 width=7.6 height=1.05 /><rect class=q17 x=8.4 y=36 width=7.4 height=1.05 /><rect class=q13 x=8.3 y=37 width=7.5 height=1.05 /><rect class=q14 x=8.5 y=38 width=7.1 height=1.05 /><rect class=q13 x=8.2 y=39 width=7.7 height=1.05 /><rect class=q15 x=8.6 y=40 width=7 height=1.05 /><rect class=q13 x=8.7 y=41 width=6.6 height=1.05 /><rect class=q15 x=8.8 y=42 width=6.5 height=1.05 /><rect class=q14 x=8.6 y=43 width=6.8 height=1.05 /><rect class=q14 x=9.2 y=44 width=5.7 height=1.05 /><rect class=q13 x=8.8 y=45 width=6.6 height=1.05 /><rect class=q12 x=9.3 y=46 width=5.4 height=1.05 /><rect class=q12 x=8.9 y=47 width=6.4 height=1.05 /><rect class=q15 x=9 y=48 width=6.1 height=1.05 /><rect class=q12 x=9.2 y=49 width=5.8 height=1.05 /><rect class=q14 x=9.6 y=50 width=4.9 height=1.05 /><rect class=q12 x=8.6 y=51 width=7 height=1.05 /><rect class=q12 x=9.4 y=52 width=5.3 height=1.05 /><rect class=q13 x=9.1 y=53 width=5.9 height=1.05 /><rect class=q12 x=9.2 y=54 width=5.6 height=1.05 /><rect class=q14 x=8.9 y=55 width=6.4 height=1.05 /><rect class=q12 x=9.4 y=56 width=5.2 height=1.05 /><rect class=q15 x=8.8 y=57 width=6.6 height=1.05 /><rect class=q15 x=9.3 y=58 width=5.4 height=1.05 /><rect class=q16 x=9.6 y=59 width=5 height=1.05 /><rect class=q12 x=9.4 y=60 width=5.4 height=1.05 /><rect class=q17 x=9.1 y=61 width=5.8 height=1.05 /><rect class=q13 x=9.2 y=62 width=5.6 height=1.05 /><rect class=q16 x=9.7 y=63 width=4.7 height=1.05 /><rect class=q15 x=9.6 y=64 width=4.9 height=1.05 /><rect class=q13 x=9.7 y=65 width=4.7 height=1.05 /><rect class=q13 x=9.7 y=66 width=4.8 height=1.05 /><rect class=q12 x=9.6 y=67 width=4.8 height=1.05 /><rect class=q12 x=9.3 y=68 width=5.5 height=1.05 /><rect class=q15 x=10.1 y=69 width=3.9 height=1.05 /><rect class=q16 x=9.9 y=70 width=4.3 height=1.05 /><rect class=q14 x=9.6 y=71 width=4.9 height=1.05 /><rect class=q13 x=9.9 y=72 width=4.4 height=1.05 /><rect class=q14 x=10 y=73 width=4 height=1.05 /><rect class=q16 x=10.1 y=74 width=3.9 height=1.05 /><rect class=q16 x=10 y=75 width=4.1 height=1.05 /><rect class=q13 x=9.9 y=76 width=4.3 height=1.05 /><rect class=q12 x=10.1 y=77 width=3.8 height=1.05 /><rect class=q13 x=9.9 y=78 width=4.3 height=1.05 /><rect class=q16 x=9.4 y=79 width=5.3 height=1.05 /><rect class=q12 x=9.8 y=80 width=4.4 height=1.05 /><rect class=q12 x=9.6 y=81 width=4.8 height=1.05 /><rect class=q13 x=9.6 y=82 width=4.9 height=1.05 /><rect class=q14 x=10.3 y=83 width=3.6 height=1.05 /><rect class=q11 x=10.2 y=84 width=3.7 height=1.05 /><rect class=q16 x=10.3 y=85 width=3.5 height=1.05 /><rect class=q14 x=10.1 y=86 width=3.8 height=1.05 /><rect class=q13 x=9.8 y=87 width=4.5 height=1.05 /><rect class=q12 x=9.9 y=88 width=4.3 height=1.05 /><rect class=q15 x=9.8 y=89 width=4.6 height=1.05 /><rect class=q14 x=9.8 y=90 width=4.5 height=1.05 /><rect class=q14 x=10.1 y=91 width=3.9 height=1.05 /><rect class=q15 x=9.9 y=92 width=4.2 height=1.05 /><rect class=q16 x=10.5 y=93 width=3.1 height=1.05 /><rect class=q12 x=10.2 y=94 width=3.7 height=1.05 />
<rect x="10.5" width="3.2" height="95" fill="url(#hc)" fill-opacity="0.4"/>
</svg>
<rect x="257.2" y="136.6" width="24.1" height="95" fill="none" stroke="#6a6a6a" stroke-width="0.7"/>
<svg x="287.5" y="136.6" width="24" height="95">
<rect x="0" y="0" width="24" height="95" fill="#fde8e1"/>
<rect width="24" height="95" fill="#000" filter="url(#ns)" opacity="0.06"/>

</svg>
<rect x="287.5" y="136.6" width="24" height="95" fill="none" stroke="#6a6a6a" stroke-width="0.7"/>
<svg x="313.2" y="136.6" width="24.3" height="95">
<rect x="0" y="0" width="24.3" height="95" fill="#fce2d9"/>
<rect width="24.3" height="95" fill="#000" filter="url(#ns)" opacity="0.1"/>
<rect width="24.3" height="95" fill="#000" filter="url(#nh)" mask="url(#mf)" opacity="0.45"/>
<rect class=q20 x=3.8 y=0 width=16.7 height=1.05 /><rect class=q18 x=3.1 y=1 width=18.1 height=1.05 /><rect class=q19 x=4.4 y=2 width=15.5 height=1.05 /><rect class=q18 x=0.5 y=3 width=23.3 height=1.05 /><rect class=q17 x=-1 y=4 width=26.3 height=1.05 /><rect class=q12 x=3.2 y=5 width=17.8 height=1.05 /><rect class=q16 x=3.7 y=6 width=16.8 height=1.05 /><rect class=q12 x=4.2 y=7 width=15.9 height=1.05 /><rect class=q17 x=0.7 y=8 width=22.9 height=1.05 /><rect class=q16 x=4.5 y=9 width=15.3 height=1.05 /><rect class=q18 x=3.1 y=10 width=18.1 height=1.05 /><rect class=q12 x=3.6 y=11 width=17.2 height=1.05 /><rect class=q13 x=5.7 y=12 width=12.9 height=1.05 /><rect class=q15 x=4.4 y=13 width=15.5 height=1.05 /><rect class=q15 x=1.7 y=14 width=20.9 height=1.05 /><rect class=q15 x=4.5 y=15 width=15.3 height=1.05 /><rect class=q17 x=1.9 y=16 width=20.6 height=1.05 /><rect class=q14 x=2.3 y=17 width=19.7 height=1.05 /><rect class=q10 x=6.2 y=18 width=11.9 height=1.05 /><rect class=q11 x=2.8 y=19 width=18.7 height=1.05 /><rect class=q16 x=4 y=20 width=16.4 height=1.05 /><rect class=q12 x=5.1 y=21 width=14.1 height=1.05 /><rect class=q17 x=6.9 y=22 width=10.5 height=1.05 /><rect class=q11 x=7.3 y=23 width=9.8 height=1.05 /><rect class=q14 x=4.3 y=24 width=15.7 height=1.05 /><rect class=q14 x=6.2 y=25 width=12 height=1.05 /><rect class=q14 x=7.2 y=26 width=10 height=1.05 /><rect class=q18 x=6.7 y=27 width=11 height=1.05 /><rect class=q12 x=7 y=28 width=10.3 height=1.05 /><rect class=q17 x=7.1 y=29 width=10.1 height=1.05 /><rect class=q17 x=7.2 y=30 width=9.9 height=1.05 /><rect class=q14 x=8.2 y=31 width=7.9 height=1.05 /><rect class=q17 x=6.1 y=32 width=12.1 height=1.05 /><rect class=q14 x=8.3 y=33 width=7.7 height=1.05 /><rect class=q14 x=7.6 y=34 width=9.1 height=1.05 /><rect class=q17 x=6.1 y=35 width=12.1 height=1.05 /><rect class=q16 x=8 y=36 width=8.2 height=1.05 /><rect class=q10 x=6.4 y=37 width=11.5 height=1.05 /><rect class=q17 x=8.5 y=38 width=7.2 height=1.05 /><rect class=q14 x=7.7 y=39 width=8.8 height=1.05 /><rect class=q17 x=9 y=40 width=6.4 height=1.05 /><rect class=q10 x=7 y=41 width=10.4 height=1.05 /><rect class=q14 x=8 y=42 width=8.3 height=1.05 /><rect class=q16 x=7.8 y=43 width=8.7 height=1.05 /><rect class=q15 x=8.7 y=44 width=6.9 height=1.05 /><rect class=q10 x=9.4 y=45 width=5.6 height=1.05 /><rect class=q12 x=7.9 y=46 width=8.5 height=1.05 /><rect class=q12 x=8.7 y=47 width=6.9 height=1.05 /><rect class=q14 x=8 y=48 width=8.3 height=1.05 /><rect class=q14 x=8.9 y=49 width=6.4 height=1.05 /><rect class=q15 x=8 y=50 width=8.4 height=1.05 /><rect class=q16 x=7.9 y=51 width=8.6 height=1.05 /><rect class=q9 x=8.4 y=52 width=7.4 height=1.05 /><rect class=q12 x=9.1 y=53 width=6.1 height=1.05 /><rect class=q13 x=9.6 y=54 width=5 height=1.05 /><rect class=q11 x=8.1 y=55 width=8.1 height=1.05 /><rect class=q11 x=8.4 y=56 width=7.6 height=1.05 /><rect class=q14 x=9.5 y=57 width=5.3 height=1.05 /><rect class=q11 x=9.1 y=58 width=6.1 height=1.05 /><rect class=q14 x=9.6 y=59 width=5 height=1.05 /><rect class=q9 x=10 y=60 width=4.3 height=1.05 /><rect class=q15 x=9.2 y=61 width=6 height=1.05 /><rect class=q9 x=9.1 y=62 width=6.1 height=1.05 /><rect class=q13 x=9.9 y=63 width=4.4 height=1.05 /><rect class=q15 x=10.3 y=64 width=3.7 height=1.05 /><rect class=q9 x=10.1 y=65 width=4.1 height=1.05 /><rect class=q14 x=9.9 y=66 width=4.5 height=1.05 /><rect class=q12 x=9.5 y=67 width=5.4 height=1.05 /><rect class=q11 x=9.6 y=68 width=5 height=1.05 /><rect class=q8 x=9.7 y=69 width=4.9 height=1.05 /><rect class=q9 x=9.9 y=70 width=4.5 height=1.05 /><rect class=q14 x=9.9 y=71 width=4.5 height=1.05 /><rect class=q12 x=10.1 y=72 width=4.1 height=1.05 /><rect class=q13 x=10.3 y=73 width=3.6 height=1.05 /><rect class=q9 x=10.1 y=74 width=4 height=1.05 /><rect class=q11 x=10.7 y=75 width=2.9 height=1.05 /><rect class=q11 x=10.3 y=76 width=3.7 height=1.05 /><rect class=q8 x=10.1 y=77 width=4.2 height=1.05 /><rect class=q12 x=10.5 y=78 width=3.3 height=1.05 /><rect class=q12 x=9.8 y=79 width=4.6 height=1.05 /><rect class=q11 x=10.5 y=80 width=3.3 height=1.05 /><rect class=q9 x=10.8 y=81 width=2.7 height=1.05 /><rect class=q8 x=9.9 y=82 width=4.4 height=1.05 /><rect class=q7 x=10.1 y=83 width=4.2 height=1.05 /><rect class=q11 x=10.2 y=84 width=3.8 height=1.05 /><rect class=q7 x=10.4 y=85 width=3.5 height=1.05 /><rect class=q8 x=10.4 y=86 width=3.5 height=1.05 /><rect class=q11 x=10.4 y=87 width=3.5 height=1.05 /><rect class=q9 x=10.3 y=88 width=3.7 height=1.05 /><rect class=q7 x=11 y=89 width=2.3 height=1.05 /><rect class=q11 x=11.1 y=90 width=2.1 height=1.05 /><rect class=q8 x=10.8 y=91 width=2.7 height=1.05 /><rect class=q10 x=10.9 y=92 width=2.5 height=1.05 /><rect class=q9 x=10.8 y=93 width=2.7 height=1.05 /><rect class=q8 x=10.9 y=94 width=2.6 height=1.05 />
</svg>
<rect x="313.2" y="136.6" width="24.3" height="95" fill="none" stroke="#6a6a6a" stroke-width="0.7"/>
<svg x="343.5" y="136.6" width="24.2" height="95">
<rect x="0" y="0" width="24.2" height="95" fill="#fde8e1"/>
<rect width="24.2" height="95" fill="#000" filter="url(#ns)" opacity="0.05"/>

</svg>
<rect x="343.5" y="136.6" width="24.2" height="95" fill="none" stroke="#6a6a6a" stroke-width="0.7"/>
<svg x="369.7" y="136.6" width="24.2" height="95">
<rect x="0" y="0" width="24.2" height="95" fill="#fce0d6"/>
<rect width="24.2" height="95" fill="#000" filter="url(#ns)" opacity="0.12"/>
<rect width="24.2" height="95" fill="#000" filter="url(#nh)" mask="url(#mf)" opacity="0.6"/>
<rect class=q19 x=-6.7 y=0 width=37.7 height=1.05 /><rect class=q20 x=-1.7 y=1 width=27.5 height=1.05 /><rect class=q3 x=3.8 y=1 width=16.5 height=1.05 /><rect class=q20 x=-5.4 y=2 width=34.9 height=1.05 /><rect class=q19 x=0.3 y=3 width=23.6 height=1.05 /><rect class=q12 x=-2.1 y=4 width=28.3 height=1.05 /><rect class=q18 x=-0.7 y=5 width=25.6 height=1.05 /><rect class=q16 x=-1.1 y=6 width=26.4 height=1.05 /><rect class=q19 x=-6.4 y=7 width=37 height=1.05 /><rect class=q15 x=-6.6 y=8 width=37.4 height=1.05 /><rect class=q12 x=-4.7 y=9 width=33.7 height=1.05 /><rect class=q19 x=1.1 y=10 width=22.1 height=1.05 /><rect class=q18 x=-2.1 y=11 width=28.5 height=1.05 /><rect class=q20 x=0.9 y=12 width=22.3 height=1.05 /><rect class=q16 x=-4.3 y=13 width=32.7 height=1.05 /><rect class=q17 x=0.5 y=14 width=23.2 height=1.05 /><rect class=q12 x=-4.2 y=15 width=32.5 height=1.05 /><rect class=q15 x=-4.3 y=16 width=32.9 height=1.05 /><rect class=q12 x=-2.7 y=17 width=29.5 height=1.05 /><rect class=q19 x=-3.2 y=18 width=30.6 height=1.05 /><rect class=q11 x=1 y=19 width=22.2 height=1.05 /><rect class=q11 x=-1.5 y=20 width=27.2 height=1.05 /><rect class=q14 x=-2.7 y=21 width=29.5 height=1.05 /><rect class=q14 x=-1.1 y=22 width=26.5 height=1.05 /><rect class=q19 x=2.7 y=23 width=18.8 height=1.05 /><rect class=q16 x=-1.8 y=24 width=27.8 height=1.05 /><rect class=q16 x=2.3 y=25 width=19.6 height=1.05 /><rect class=q13 x=-0.2 y=26 width=24.6 height=1.05 /><rect class=q12 x=1.2 y=27 width=21.8 height=1.05 /><rect class=q16 x=1.7 y=28 width=20.8 height=1.05 /><rect class=q12 x=1.3 y=29 width=21.6 height=1.05 /><rect class=q19 x=3.5 y=30 width=17.2 height=1.05 /><rect class=q14 x=0.4 y=31 width=23.4 height=1.05 /><rect class=q16 x=4.2 y=32 width=15.9 height=1.05 /><rect class=q11 x=1.8 y=33 width=20.7 height=1.05 /><rect class=q14 x=3.5 y=34 width=17.2 height=1.05 /><rect class=q13 x=2.9 y=35 width=18.4 height=1.05 /><rect class=q17 x=4.7 y=36 width=14.7 height=1.05 /><rect class=q11 x=1.6 y=37 width=21 height=1.05 /><rect class=q19 x=6.5 y=38 width=11.3 height=1.05 /><rect class=q15 x=3.5 y=39 width=17.2 height=1.05 /><rect class=q14 x=3.5 y=40 width=17.3 height=1.05 /><rect class=q19 x=4.3 y=41 width=15.6 height=1.05 /><rect class=q14 x=6.2 y=42 width=11.9 height=1.05 /><rect class=q12 x=6.5 y=43 width=11.2 height=1.05 /><rect class=q11 x=6.4 y=44 width=11.5 height=1.05 /><rect class=q17 x=5.2 y=45 width=13.8 height=1.05 /><rect class=q17 x=3.8 y=46 width=16.5 height=1.05 /><rect class=q17 x=7.4 y=47 width=9.4 height=1.05 /><rect class=q18 x=7.4 y=48 width=9.5 height=1.05 /><rect class=q16 x=4.8 y=49 width=14.7 height=1.05 /><rect class=q15 x=6.5 y=50 width=11.2 height=1.05 /><rect class=q10 x=7.8 y=51 width=8.7 height=1.05 /><rect class=q15 x=7.4 y=52 width=9.5 height=1.05 /><rect class=q14 x=7.4 y=53 width=9.3 height=1.05 /><rect class=q11 x=7.5 y=54 width=9.2 height=1.05 /><rect class=q15 x=7 y=55 width=10.1 height=1.05 /><rect class=q12 x=7.2 y=56 width=9.8 height=1.05 /><rect class=q14 x=7.3 y=57 width=9.6 height=1.05 /><rect class=q13 x=6.2 y=58 width=11.8 height=1.05 /><rect class=q15 x=8.4 y=59 width=7.4 height=1.05 /><rect class=q12 x=8.6 y=60 width=7 height=1.05 /><rect class=q12 x=9.2 y=61 width=5.9 height=1.05 /><rect class=q15 x=8 y=62 width=8.2 height=1.05 /><rect class=q12 x=7.4 y=63 width=9.3 height=1.05 /><rect class=q11 x=8.3 y=64 width=7.6 height=1.05 /><rect class=q16 x=8.5 y=65 width=7.1 height=1.05 /><rect class=q13 x=9.1 y=66 width=6.1 height=1.05 /><rect class=q16 x=8.5 y=67 width=7.2 height=1.05 /><rect class=q11 x=9.4 y=68 width=5.4 height=1.05 /><rect class=q13 x=9.3 y=69 width=5.6 height=1.05 /><rect class=q12 x=10 y=70 width=4.3 height=1.05 /><rect class=q12 x=9.3 y=71 width=5.6 height=1.05 /><rect class=q13 x=9.7 y=72 width=4.7 height=1.05 /><rect class=q11 x=9.7 y=73 width=4.8 height=1.05 /><rect class=q11 x=9.8 y=74 width=4.6 height=1.05 /><rect class=q8 x=10.2 y=75 width=3.9 height=1.05 /><rect class=q14 x=9.5 y=76 width=5.3 height=1.05 /><rect class=q10 x=9.6 y=77 width=5 height=1.05 /><rect class=q8 x=10.3 y=78 width=3.6 height=1.05 /><rect class=q10 x=9.8 y=79 width=4.6 height=1.05 /><rect class=q7 x=10.1 y=80 width=3.9 height=1.05 /><rect class=q11 x=10 y=81 width=4.1 height=1.05 /><rect class=q11 x=10.7 y=82 width=2.9 height=1.05 /><rect class=q10 x=9.9 y=83 width=4.4 height=1.05 /><rect class=q6 x=10.3 y=84 width=3.6 height=1.05 /><rect class=q9 x=10.7 y=85 width=2.9 height=1.05 /><rect class=q8 x=10.1 y=86 width=4 height=1.05 /><rect class=q8 x=10.6 y=87 width=3.1 height=1.05 /><rect class=q5 x=10.5 y=88 width=3.2 height=1.05 /><rect class=q5 x=10.6 y=89 width=3.1 height=1.05 /><rect class=q5 x=10.8 y=90 width=2.6 height=1.05 /><rect class=q6 x=10.4 y=91 width=3.3 height=1.05 /><rect class=q7 x=10.8 y=92 width=2.5 height=1.05 /><rect class=q4 x=10.6 y=93 width=2.9 height=1.05 /><rect class=q5 x=10.7 y=94 width=2.8 height=1.05 />
</svg>
<rect x="369.7" y="136.6" width="24.2" height="95" fill="none" stroke="#6a6a6a" stroke-width="0.7"/>
<rect x="186.1" y="236" width="27.3" height="4.5" fill="url(#cbr)" stroke="#777" stroke-width="0.5"/>
<text x="184.9" y="248.2" font-size="7.2" text-anchor="middle" fill="#222" stroke="#222" stroke-width="0.16">0</text>
<text x="213.8" y="248.2" font-size="7.2" text-anchor="middle" fill="#222" stroke="#222" stroke-width="0.16">10</text>
<text x="198.9" y="255.2" font-size="7.2" text-anchor="middle" fill="#222" stroke="#222" stroke-width="0.16">RPGC</text>
<rect x="245" y="236" width="26.6" height="4.5" fill="url(#cbr)" stroke="#777" stroke-width="0.5"/>
<text x="243.2" y="248.2" font-size="7.2" text-anchor="middle" fill="#222" stroke="#222" stroke-width="0.16">0</text>
<text x="269" y="248.2" font-size="7.2" text-anchor="middle" fill="#222" stroke="#222" stroke-width="0.16">3</text>
<text x="258.5" y="255.2" font-size="7.2" text-anchor="middle" fill="#222" stroke="#222" stroke-width="0.16">RPGC</text>
<rect x="298.3" y="236" width="26.8" height="4.5" fill="url(#cbr)" stroke="#777" stroke-width="0.5"/>
<text x="292.9" y="248.2" font-size="7.2" text-anchor="middle" fill="#222" stroke="#222" stroke-width="0.16">0</text>
<text x="325.5" y="248.2" font-size="7.2" text-anchor="middle" fill="#222" stroke="#222" stroke-width="0.16">15</text>
<text x="310.7" y="255.2" font-size="7.2" text-anchor="middle" fill="#222" stroke="#222" stroke-width="0.16">RPGC</text>
<rect x="355.5" y="236" width="27.8" height="4.5" fill="url(#cbr)" stroke="#777" stroke-width="0.5"/>
<text x="354.4" y="248.2" font-size="7.2" text-anchor="middle" fill="#222" stroke="#222" stroke-width="0.16">0</text>
<text x="378.7" y="248.2" font-size="7.2" text-anchor="middle" fill="#222" stroke="#222" stroke-width="0.16">16</text>
<text x="369.2" y="255.2" font-size="7.2" text-anchor="middle" fill="#222" stroke="#222" stroke-width="0.16">RPGC</text>
<line x1="394.5" y1="238.5" x2="407.4" y2="238.5" stroke="#333" stroke-width="0.8"/>
<text x="403.6" y="248.2" font-size="7" text-anchor="middle" fill="#333" stroke="#333" stroke-width="0.16">4kb</text>
<text x="422.5" y="137" font-size="9" font-weight="bold" fill="#231f20">f</text>
<line x1="449.6" y1="144.4" x2="449.6" y2="226.2" stroke="#231f20" stroke-width="0.7"/>
<line x1="449.6" y1="226.2" x2="539.9" y2="226.2" stroke="#231f20" stroke-width="0.7"/>
<line x1="447.6" y1="214.9" x2="449.6" y2="214.9" stroke="#231f20" stroke-width="0.6"/>
<text x="446.8" y="217.4" font-size="7" text-anchor="end" fill="#333" stroke="#333" stroke-width="0.16">2</text>
<line x1="447.6" y1="196.5" x2="449.6" y2="196.5" stroke="#231f20" stroke-width="0.6"/>
<text x="446.8" y="199" font-size="7" text-anchor="end" fill="#333" stroke="#333" stroke-width="0.16">4</text>
<line x1="447.6" y1="178.1" x2="449.6" y2="178.1" stroke="#231f20" stroke-width="0.6"/>
<text x="446.8" y="180.6" font-size="7" text-anchor="end" fill="#333" stroke="#333" stroke-width="0.16">6</text>
<line x1="447.6" y1="159.7" x2="449.6" y2="159.7" stroke="#231f20" stroke-width="0.6"/>
<text x="446.8" y="162.2" font-size="7" text-anchor="end" fill="#333" stroke="#333" stroke-width="0.16">8</text>
<line x1="494.9" y1="144.4" x2="494.9" y2="226.2" stroke="#888" stroke-width="0.8" stroke-dasharray="1.6 1.2"/>
<line x1="451" y1="226.2" x2="451" y2="228" stroke="#231f20" stroke-width="0.6"/>
<line x1="494.9" y1="226.2" x2="494.9" y2="228" stroke="#231f20" stroke-width="0.6"/>
<line x1="537.8" y1="226.2" x2="537.8" y2="228" stroke="#231f20" stroke-width="0.6"/>
<text x="451" y="235.8" font-size="7" text-anchor="middle" fill="#333" stroke="#333" stroke-width="0.16">-2000</text>
<text x="495.9" y="235.8" font-size="7" text-anchor="middle" fill="#333" stroke="#333" stroke-width="0.16">Peak centre</text>
<text x="537.8" y="235.8" font-size="7" text-anchor="middle" fill="#333" stroke="#333" stroke-width="0.16">+2000</text>
<text x="495.9" y="140.8" font-size="7" font-weight="bold" text-anchor="middle" fill="#231f20">ZIC2</text>
<text x="437.8" y="188.2" font-size="7.3" text-anchor="middle" fill="#333" stroke="#333" stroke-width="0.16" transform="rotate(-90 437.8 188.2)">Normalised ChIP signal (RPGC)</text>
<polyline points="450.2,222.2 450.8,222.2 451.3,222.2 451.9,222.2 452.4,222.2 453,222.2 453.6,222.2 454.1,222.2 454.7,222.2 455.2,222.2 455.8,222.2 456.4,222.2 456.9,222.2 457.5,222.2 458,222.2 458.6,222.2 459.2,222.1 459.7,222.1 460.3,222.1 460.8,222.1 461.4,222.1 462,222.1 462.5,222.1 463.1,222.1 463.6,222.1 464.2,222.1 464.8,222.1 465.3,222 465.9,222 466.4,222 467,222 467.6,222 468.1,222 468.7,222 469.2,221.9 469.8,221.9 470.4,221.9 470.9,221.9 471.5,221.9 472,221.8 472.6,221.8 473.2,221.8 473.7,221.8 474.3,221.7 474.8,221.7 475.4,221.7 476,221.6 476.5,221.6 477.1,221.5 477.6,221.5 478.2,221.5 478.8,221.4 479.3,221.4 479.9,221.3 480.4,221.2 481,221.2 481.6,221.1 482.1,221 482.7,221 483.2,220.9 483.8,220.8 484.4,220.7 484.9,220.6 485.5,220.5 486,220.4 486.6,220.3 487.2,220.2 487.7,220.1 488.3,220 488.8,219.8 489.4,219.7 490,219.5 490.5,219.4 491.1,219.2 491.6,219 492.2,218.9 492.8,218.7 493.3,218.5 493.9,218.3 494.4,218.2 495,218.1 495.6,218.2 496.1,218.3 496.7,218.5 497.2,218.7 497.8,218.9 498.4,219 498.9,219.2 499.5,219.4 500,219.5 500.6,219.7 501.2,219.8 501.7,220 502.3,220.1 502.8,220.2 503.4,220.3 504,220.4 504.5,220.5 505.1,220.6 505.6,220.7 506.2,220.8 506.8,220.9 507.3,221 507.9,221 508.4,221.1 509,221.2 509.6,221.2 510.1,221.3 510.7,221.4 511.2,221.4 511.8,221.5 512.4,221.5 512.9,221.5 513.5,221.6 514,221.6 514.6,221.7 515.2,221.7 515.7,221.7 516.3,221.8 516.8,221.8 517.4,221.8 518,221.8 518.5,221.9 519.1,221.9 519.6,221.9 520.2,221.9 520.8,221.9 521.3,222 521.9,222 522.4,222 523,222 523.6,222 524.1,222 524.7,222 525.2,222.1 525.8,222.1 526.4,222.1 526.9,222.1 527.5,222.1 528,222.1 528.6,222.1 529.2,222.1 529.7,222.1 530.3,222.1 530.8,222.1 531.4,222.2 532,222.2 532.5,222.2 533.1,222.2 533.6,222.2 534.2,222.2 534.8,222.2 535.3,222.2 535.9,222.2 536.4,222.2 537,222.2 537.6,222.2 538.1,222.2 538.7,222.2 539.2,222.2 539.8,222.2" fill="none" stroke="#2e3a8e" stroke-width="1.1"/>
<polyline points="450.2,218.2 450.8,218.2 451.3,218.2 451.9,218.2 452.4,218.2 453,218.1 453.6,218.1 454.1,218.1 454.7,218.1 455.2,218.1 455.8,218.1 456.4,218 456.9,218 457.5,218 458,218 458.6,217.9 459.2,217.9 459.7,217.9 460.3,217.9 460.8,217.8 461.4,217.8 462,217.8 462.5,217.7 463.1,217.7 463.6,217.6 464.2,217.6 464.8,217.5 465.3,217.5 465.9,217.4 466.4,217.4 467,217.3 467.6,217.2 468.1,217.2 468.7,217.1 469.2,217 469.8,216.9 470.4,216.8 470.9,216.7 471.5,216.6 472,216.5 472.6,216.4 473.2,216.3 473.7,216.2 474.3,216 474.8,215.9 475.4,215.7 476,215.6 476.5,215.4 477.1,215.2 477.6,215 478.2,214.8 478.8,214.6 479.3,214.3 479.9,214.1 480.4,213.8 481,213.6 481.6,213.3 482.1,212.9 482.7,212.6 483.2,212.3 483.8,211.9 484.4,211.5 484.9,211.1 485.5,210.6 486,210.1 486.6,209.6 487.2,209.1 487.7,208.5 488.3,207.9 488.8,207.3 489.4,206.6 490,205.9 490.5,205.2 491.1,204.4 491.6,203.6 492.2,202.8 492.8,201.9 493.3,201 493.9,200.2 494.4,199.5 495,199.3 495.6,199.5 496.1,200.2 496.7,201 497.2,201.9 497.8,202.8 498.4,203.6 498.9,204.4 499.5,205.2 500,205.9 500.6,206.6 501.2,207.3 501.7,207.9 502.3,208.5 502.8,209.1 503.4,209.6 504,210.1 504.5,210.6 505.1,211.1 505.6,211.5 506.2,211.9 506.8,212.3 507.3,212.6 507.9,212.9 508.4,213.3 509,213.6 509.6,213.8 510.1,214.1 510.7,214.3 511.2,214.6 511.8,214.8 512.4,215 512.9,215.2 513.5,215.4 514,215.6 514.6,215.7 515.2,215.9 515.7,216 516.3,216.2 516.8,216.3 517.4,216.4 518,216.5 518.5,216.6 519.1,216.7 519.6,216.8 520.2,216.9 520.8,217 521.3,217.1 521.9,217.2 522.4,217.2 523,217.3 523.6,217.4 524.1,217.4 524.7,217.5 525.2,217.5 525.8,217.6 526.4,217.6 526.9,217.7 527.5,217.7 528,217.8 528.6,217.8 529.2,217.8 529.7,217.9 530.3,217.9 530.8,217.9 531.4,217.9 532,218 532.5,218 533.1,218 533.6,218 534.2,218.1 534.8,218.1 535.3,218.1 535.9,218.1 536.4,218.1 537,218.1 537.6,218.2 538.1,218.2 538.7,218.2 539.2,218.2 539.8,218.2" fill="none" stroke="#d9953a" stroke-width="1.1"/>
<polyline points="450.2,216.8 450.8,216.8 451.3,216.8 451.9,216.8 452.4,216.7 453,216.7 453.6,216.7 454.1,216.6 454.7,216.6 455.2,216.6 455.8,216.5 456.4,216.5 456.9,216.4 457.5,216.4 458,216.3 458.6,216.2 459.2,216.2 459.7,216.1 460.3,216 460.8,215.9 461.4,215.8 462,215.7 462.5,215.6 463.1,215.5 463.6,215.4 464.2,215.3 464.8,215.2 465.3,215 465.9,214.9 466.4,214.7 467,214.5 467.6,214.3 468.1,214.1 468.7,213.9 469.2,213.7 469.8,213.5 470.4,213.2 470.9,212.9 471.5,212.6 472,212.3 472.6,212 473.2,211.6 473.7,211.2 474.3,210.8 474.8,210.3 475.4,209.9 476,209.3 476.5,208.8 477.1,208.2 477.6,207.6 478.2,206.9 478.8,206.2 479.3,205.4 479.9,204.6 480.4,203.7 481,202.8 481.6,201.8 482.1,200.7 482.7,199.6 483.2,198.3 483.8,197 484.4,195.6 484.9,194.1 485.5,192.5 486,190.8 486.6,189 487.2,187 487.7,184.9 488.3,182.7 488.8,180.3 489.4,177.8 490,175.1 490.5,172.3 491.1,169.2 491.6,166 492.2,162.7 492.8,159.2 493.3,155.7 493.9,152.4 494.4,149.7 495,148.7 495.6,149.7 496.1,152.4 496.7,155.7 497.2,159.2 497.8,162.7 498.4,166 498.9,169.2 499.5,172.3 500,175.1 500.6,177.8 501.2,180.3 501.7,182.7 502.3,184.9 502.8,187 503.4,189 504,190.8 504.5,192.5 505.1,194.1 505.6,195.6 506.2,197 506.8,198.3 507.3,199.6 507.9,200.7 508.4,201.8 509,202.8 509.6,203.7 510.1,204.6 510.7,205.4 511.2,206.2 511.8,206.9 512.4,207.6 512.9,208.2 513.5,208.8 514,209.3 514.6,209.9 515.2,210.3 515.7,210.8 516.3,211.2 516.8,211.6 517.4,212 518,212.3 518.5,212.6 519.1,212.9 519.6,213.2 520.2,213.5 520.8,213.7 521.3,213.9 521.9,214.1 522.4,214.3 523,214.5 523.6,214.7 524.1,214.9 524.7,215 525.2,215.2 525.8,215.3 526.4,215.4 526.9,215.5 527.5,215.6 528,215.7 528.6,215.8 529.2,215.9 529.7,216 530.3,216.1 530.8,216.2 531.4,216.2 532,216.3 532.5,216.4 533.1,216.4 533.6,216.5 534.2,216.5 534.8,216.6 535.3,216.6 535.9,216.6 536.4,216.7 537,216.7 537.6,216.7 538.1,216.8 538.7,216.8 539.2,216.8 539.8,216.8" fill="none" stroke="#b8282f" stroke-width="1.1"/>
<line x1="569.5" y1="143" x2="569.5" y2="225.1" stroke="#231f20" stroke-width="0.7"/>
<line x1="569.5" y1="225.1" x2="660.5" y2="225.1" stroke="#231f20" stroke-width="0.7"/>
<line x1="567.5" y1="224.7" x2="569.5" y2="224.7" stroke="#231f20" stroke-width="0.6"/>
<text x="566.7" y="227.2" font-size="7" text-anchor="end" fill="#333" stroke="#333" stroke-width="0.16">1.0</text>
<line x1="567.5" y1="203.2" x2="569.5" y2="203.2" stroke="#231f20" stroke-width="0.6"/>
<text x="566.7" y="205.7" font-size="7" text-anchor="end" fill="#333" stroke="#333" stroke-width="0.16">1.5</text>
<line x1="567.5" y1="181.7" x2="569.5" y2="181.7" stroke="#231f20" stroke-width="0.6"/>
<text x="566.7" y="184.2" font-size="7" text-anchor="end" fill="#333" stroke="#333" stroke-width="0.16">2.0</text>
<line x1="567.5" y1="160.2" x2="569.5" y2="160.2" stroke="#231f20" stroke-width="0.6"/>
<text x="566.7" y="162.7" font-size="7" text-anchor="end" fill="#333" stroke="#333" stroke-width="0.16">2.5</text>
<line x1="614.9" y1="143" x2="614.9" y2="225.1" stroke="#888" stroke-width="0.8" stroke-dasharray="1.6 1.2"/>
<line x1="570.5" y1="225.1" x2="570.5" y2="226.9" stroke="#231f20" stroke-width="0.6"/>
<line x1="614.9" y1="225.1" x2="614.9" y2="226.9" stroke="#231f20" stroke-width="0.6"/>
<line x1="659.4" y1="225.1" x2="659.4" y2="226.9" stroke="#231f20" stroke-width="0.6"/>
<text x="570.5" y="235.8" font-size="7" text-anchor="middle" fill="#333" stroke="#333" stroke-width="0.16">-2000</text>
<text x="615.5" y="235.8" font-size="7" text-anchor="middle" fill="#333" stroke="#333" stroke-width="0.16">Peak centre</text>
<text x="659.4" y="235.8" font-size="7" text-anchor="middle" fill="#333" stroke="#333" stroke-width="0.16">+2000</text>
<text x="614.5" y="140.8" font-size="7" font-weight="bold" text-anchor="middle" fill="#231f20">ZIC3</text>
<polyline points="570,221.3 570.6,221.3 571.1,221.3 571.7,221.3 572.2,221.3 572.8,221.3 573.4,221.3 573.9,221.2 574.5,221.2 575.1,221.2 575.6,221.2 576.2,221.1 576.8,221.1 577.3,221.1 577.9,221.1 578.4,221.1 579,221.2 579.6,221.2 580.1,221.2 580.7,221.2 581.2,221.2 581.8,221.2 582.4,221.1 582.9,221.1 583.5,221 584.1,220.9 584.6,220.8 585.2,220.7 585.8,220.6 586.3,220.5 586.9,220.4 587.4,220.2 588,220.1 588.6,220 589.1,219.9 589.7,219.9 590.2,219.8 590.8,219.8 591.4,219.7 591.9,219.7 592.5,219.7 593.1,219.7 593.6,219.7 594.2,219.7 594.8,219.7 595.3,219.7 595.9,219.7 596.4,219.6 597,219.6 597.6,219.5 598.1,219.4 598.7,219.2 599.2,219.1 599.8,218.9 600.4,218.7 600.9,218.5 601.5,218.3 602.1,218.1 602.6,217.9 603.2,217.6 603.8,217.4 604.3,217.2 604.9,216.9 605.4,216.6 606,216.4 606.6,216.1 607.1,215.8 607.7,215.5 608.2,215.1 608.8,214.7 609.4,214.3 609.9,213.8 610.5,213.3 611.1,212.8 611.6,212.3 612.2,211.7 612.8,211.1 613.3,210.5 613.9,209.9 614.4,209.4 615,209.2 615.6,209.3 616.1,209.7 616.7,210.2 617.2,210.8 617.8,211.3 618.4,211.9 618.9,212.5 619.5,213 620.1,213.6 620.6,214.1 621.2,214.6 621.8,215.1 622.3,215.5 622.9,215.9 623.4,216.3 624,216.6 624.6,216.9 625.1,217.2 625.7,217.4 626.2,217.7 626.8,217.9 627.4,218 627.9,218.2 628.5,218.3 629.1,218.5 629.6,218.6 630.2,218.7 630.8,218.8 631.3,219 631.9,219.1 632.4,219.2 633,219.4 633.6,219.5 634.1,219.6 634.7,219.7 635.2,219.8 635.8,219.9 636.4,220 636.9,220 637.5,220 638.1,220.1 638.6,220.1 639.2,220.1 639.8,220.1 640.3,220.1 640.9,220.1 641.4,220.1 642,220.1 642.6,220.1 643.1,220.1 643.7,220.2 644.2,220.3 644.8,220.3 645.4,220.4 645.9,220.6 646.5,220.7 647.1,220.8 647.6,220.9 648.2,221 648.8,221.1 649.3,221.2 649.9,221.3 650.4,221.4 651,221.4 651.6,221.4 652.1,221.4 652.7,221.4 653.2,221.4 653.8,221.4 654.4,221.3 654.9,221.3 655.5,221.2 656.1,221.2 656.6,221.1 657.2,221.1 657.8,221.1 658.3,221.1 658.9,221.1 659.4,221.1 660,221.1" fill="none" stroke="#2e3a8e" stroke-width="1.1"/>
<polyline points="570,213.5 570.6,213.5 571.1,213.5 571.7,213.5 572.2,213.5 572.8,213.5 573.4,213.5 573.9,213.5 574.5,213.4 575.1,213.4 575.6,213.3 576.2,213.2 576.8,213.1 577.3,213 577.9,212.8 578.4,212.7 579,212.6 579.6,212.5 580.1,212.4 580.7,212.4 581.2,212.3 581.8,212.3 582.4,212.3 582.9,212.3 583.5,212.3 584.1,212.4 584.6,212.5 585.2,212.5 585.8,212.6 586.3,212.6 586.9,212.6 587.4,212.6 588,212.6 588.6,212.6 589.1,212.5 589.7,212.4 590.2,212.3 590.8,212.2 591.4,212 591.9,211.8 592.5,211.6 593.1,211.4 593.6,211.2 594.2,211 594.8,210.8 595.3,210.6 595.9,210.3 596.4,210.1 597,209.9 597.6,209.6 598.1,209.4 598.7,209.1 599.2,208.8 599.8,208.5 600.4,208.1 600.9,207.8 601.5,207.3 602.1,206.9 602.6,206.4 603.2,205.8 603.8,205.2 604.3,204.6 604.9,203.9 605.4,203.2 606,202.5 606.6,201.7 607.1,201 607.7,200.1 608.2,199.3 608.8,198.4 609.4,197.5 609.9,196.6 610.5,195.6 611.1,194.5 611.6,193.4 612.2,192.3 612.8,191.1 613.3,189.8 613.9,188.7 614.4,187.7 615,187.4 615.6,187.8 616.1,188.8 616.7,190.1 617.2,191.4 617.8,192.6 618.4,193.9 618.9,195 619.5,196.1 620.1,197.1 620.6,198.1 621.2,199 621.8,199.9 622.3,200.7 622.9,201.5 623.4,202.2 624,202.9 624.6,203.6 625.1,204.2 625.7,204.8 626.2,205.4 626.8,205.9 627.4,206.4 627.9,206.8 628.5,207.2 629.1,207.6 629.6,207.9 630.2,208.2 630.8,208.5 631.3,208.7 631.9,208.9 632.4,209.2 633,209.4 633.6,209.6 634.1,209.8 634.7,210 635.2,210.2 635.8,210.5 636.4,210.7 636.9,211 637.5,211.2 638.1,211.5 638.6,211.7 639.2,212 639.8,212.2 640.3,212.4 640.9,212.6 641.4,212.7 642,212.8 642.6,212.9 643.1,213 643.7,213 644.2,213 644.8,213 645.4,213 645.9,213 646.5,212.9 647.1,212.9 647.6,212.8 648.2,212.8 648.8,212.8 649.3,212.8 649.9,212.8 650.4,212.8 651,212.9 651.6,212.9 652.1,212.9 652.7,213 653.2,213 653.8,213.1 654.4,213.1 654.9,213.1 655.5,213.1 656.1,213.1 656.6,213.1 657.2,213.1 657.8,213.1 658.3,213 658.9,213 659.4,213 660,213" fill="none" stroke="#d9953a" stroke-width="1.1"/>
<polyline points="570,216.2 570.6,216.2 571.1,216.2 571.7,216.2 572.2,216.2 572.8,216.2 573.4,216.1 573.9,216.1 574.5,216 575.1,216 575.6,215.9 576.2,215.8 576.8,215.8 577.3,215.7 577.9,215.6 578.4,215.6 579,215.5 579.6,215.4 580.1,215.4 580.7,215.4 581.2,215.3 581.8,215.3 582.4,215.3 582.9,215.3 583.5,215.3 584.1,215.3 584.6,215.2 585.2,215.2 585.8,215.1 586.3,215 586.9,214.9 587.4,214.8 588,214.6 588.6,214.4 589.1,214.2 589.7,213.9 590.2,213.6 590.8,213.3 591.4,213 591.9,212.6 592.5,212.3 593.1,211.9 593.6,211.5 594.2,211.1 594.8,210.7 595.3,210.2 595.9,209.8 596.4,209.3 597,208.7 597.6,208.2 598.1,207.6 598.7,206.9 599.2,206.2 599.8,205.4 600.4,204.6 600.9,203.7 601.5,202.7 602.1,201.6 602.6,200.5 603.2,199.3 603.8,197.9 604.3,196.5 604.9,195 605.4,193.4 606,191.6 606.6,189.8 607.1,187.8 607.7,185.7 608.2,183.4 608.8,181 609.4,178.4 609.9,175.6 610.5,172.7 611.1,169.5 611.6,166.1 612.2,162.6 612.8,158.8 613.3,155 613.9,151.4 614.4,148.5 615,147.3 615.6,148.4 616.1,151.3 616.7,154.9 617.2,158.6 617.8,162.3 618.4,165.9 618.9,169.3 619.5,172.4 620.1,175.4 620.6,178.2 621.2,180.8 621.8,183.3 622.3,185.6 622.9,187.8 623.4,189.8 624,191.7 624.6,193.4 625.1,195.1 625.7,196.6 626.2,198 626.8,199.3 627.4,200.5 627.9,201.7 628.5,202.7 629.1,203.7 629.6,204.6 630.2,205.4 630.8,206.2 631.3,206.9 631.9,207.5 632.4,208.2 633,208.7 633.6,209.3 634.1,209.8 634.7,210.3 635.2,210.8 635.8,211.3 636.4,211.7 636.9,212.1 637.5,212.5 638.1,212.9 638.6,213.2 639.2,213.5 639.8,213.8 640.3,214 640.9,214.2 641.4,214.4 642,214.5 642.6,214.6 643.1,214.7 643.7,214.8 644.2,214.9 644.8,214.9 645.4,214.9 645.9,215 646.5,215 647.1,215.1 647.6,215.1 648.2,215.2 648.8,215.2 649.3,215.3 649.9,215.4 650.4,215.5 651,215.6 651.6,215.6 652.1,215.7 652.7,215.8 653.2,215.9 653.8,216 654.4,216 654.9,216.1 655.5,216.1 656.1,216.1 656.6,216.2 657.2,216.2 657.8,216.2 658.3,216.2 658.9,216.2 659.4,216.2 660,216.3" fill="none" stroke="#b8282f" stroke-width="1.1"/>
<text x="627.2" y="153.1" font-size="7.2" fill="#3a3a9a" stroke="#3a3a9a" stroke-width="0.16">Naïve-specific</text>
<text x="627.2" y="161.3" font-size="7.2" fill="#d08a30" stroke="#d08a30" stroke-width="0.16">Pan pluripotency</text>
<text x="627.2" y="169.5" font-size="7.2" fill="#b02a30" stroke="#b02a30" stroke-width="0.16">Primed-specific</text>
<text x="1.5" y="273.5" font-size="9" font-weight="bold" fill="#231f20">g</text>
<line x1="23.4" y1="280.1" x2="23.4" y2="370.4" stroke="#231f20" stroke-width="0.7"/>
<line x1="23.4" y1="370.4" x2="110.4" y2="370.4" stroke="#231f20" stroke-width="0.7"/>
<line x1="21.6" y1="289.8" x2="23.4" y2="289.8" stroke="#231f20" stroke-width="0.6"/>
<text x="21" y="292.3" font-size="7" text-anchor="end" fill="#333" stroke="#333" stroke-width="0.16">50</text>
<line x1="21.6" y1="310.5" x2="23.4" y2="310.5" stroke="#231f20" stroke-width="0.6"/>
<text x="21" y="313" font-size="7" text-anchor="end" fill="#333" stroke="#333" stroke-width="0.16">25</text>
<line x1="21.6" y1="331.2" x2="23.4" y2="331.2" stroke="#231f20" stroke-width="0.6"/>
<text x="21" y="333.7" font-size="7" text-anchor="end" fill="#333" stroke="#333" stroke-width="0.16">0</text>
<line x1="21.6" y1="351.9" x2="23.4" y2="351.9" stroke="#231f20" stroke-width="0.6"/>
<text x="21" y="354.4" font-size="7" text-anchor="end" fill="#333" stroke="#333" stroke-width="0.16">−25</text>
<line x1="43.8" y1="370.4" x2="43.8" y2="372.2" stroke="#231f20" stroke-width="0.6"/>
<text x="43.8" y="379.1" font-size="7" text-anchor="middle" fill="#333" stroke="#333" stroke-width="0.16">-25</text>
<line x1="66" y1="370.4" x2="66" y2="372.2" stroke="#231f20" stroke-width="0.6"/>
<text x="66" y="379.1" font-size="7" text-anchor="middle" fill="#333" stroke="#333" stroke-width="0.16">0</text>
<line x1="88.2" y1="370.4" x2="88.2" y2="372.2" stroke="#231f20" stroke-width="0.6"/>
<text x="88.2" y="379.1" font-size="7" text-anchor="middle" fill="#333" stroke="#333" stroke-width="0.16">25</text>
<line x1="110.3" y1="370.4" x2="110.3" y2="372.2" stroke="#231f20" stroke-width="0.6"/>
<text x="110.3" y="379.1" font-size="7" text-anchor="middle" fill="#333" stroke="#333" stroke-width="0.16">50</text>
<text x="66.4" y="282.4" font-size="7" font-weight="bold" text-anchor="middle" fill="#231f20">Louvain clusters</text>
<text x="69.5" y="386.2" font-size="7" text-anchor="middle" fill="#333" stroke="#333" stroke-width="0.16"><tspan font-style="italic">t</tspan>-SNE 1</text>
<g transform="scale(.5)" fill="none" stroke-width="2.5">
<path d="M161 672h3M163 705h3M144 676h3M113 696h3M149 725h3M121 721h3M103 685h3M130 712h3M186 692h3M100 705h3M155 708h3M149 699h3M113 705h3M151 724h3M153 693h3M102 724h3M133 694h3M185 689h3M97 695h3M185 668h3M179 669h3M129 689h3M117 731h3M149 726h3M152 681h3M118 705h3M131 700h3M131 688h3M124 701h3M163 716h3M173 701h3M115 694h3M156 670h3M149 697h3M153 708h3M155 669h3M96 693h3M113 722h3M118 703h3M152 699h3M139 680h3M170 712h3M150 701h3M138 698h3M128 688h3M98 703h3M164 670h3M121 707h3M114 728h3M170 683h3M166 692h3M157 715h3M179 712h3M134 692h3M154 703h3M144 724h3M165 674h3M178 693h3M125 731h3M144 715h3M99 705h3M117 725h3M124 733h3M183 683h3M104 711h3M159 692h3M184 674h3M154 701h3M105 683h3M177 710h3M181 675h3M145 707h3M150 689h3M172 699h3M120 723h3M118 707h3M141 723h3M137 730h3M101 722h3M190 693h3M156 720h3M112 727h3M139 682h3M108 684h3M131 714h3M174 704h3M165 670h3M161 711h3M123 698h3M173 696h3M124 727h3M189 673h3M113 726h3M166 723h3M95 693h3M141 708h3M163 667h3M143 729h3M174 679h3M106 720h3M101 693h3M162 688h3M104 700h3M118 692h3M150 711h3M96 696h3M100 706h3M149 701h3M138 706h3M156 678h3M108 699h3M177 696h3M114 707h3M183 701h3M115 691h3M156 708h3M109 681h3M104 697h3M136 730h3M119 732h3M149 720h3M188 679h3M146 727h3M185 683h3M190 692h3M91 708h3M89 706h3M187 702h3M138 723h3M186 677h3M191 695h3M106 691h3M96 718h3M96 715h3M121 731h3M97 690h3M110 694h3M158 676h3M154 678h3M180 695h3M98 703h3M168 693h3M155 720h3M148 673h3M133 699h3M94 706h3M119 716h3M101 709h3M177 681h3M199 681h3M102 696h3M111 687h3M142 713h3M144 722h3M188 695h3M187 676h3M138 696h3M136 684h3M110 695h3M145 688h3M149 677h3M172 708h3M104 687h3M103 695h3M158 705h3M105 727h3M159 719h3M98 705h3M108 720h3M139 729h3M97 713h3M164 708h3M105 705h3M148 724h3M162 700h3M173 704h3M190 670h3M175 690h3M154 688h3M126 698h3M126 732h3M160 700h3M139 681h3M173 682h3M126 731h3M115 683h3M160 677h3M99 702h3M111 722h3M158 697h3M98 694h3M120 683h3M145 693h3M172 698h3M163 669h3M193 685h3M97 707h3M161 711h3M129 690h3M180 670h3M107 692h3M147 716h3M157 690h3M156 689h3M136 705h3M160 689h3M100 716h3M195 687h3M143 680h3M92 709h3M166 700h3M149 728h3M97 713h3M130 701h3M125 713h3M150 698h3M172 694h3M147 725h3M171 704h3M113 715h3M169 717h3M122 715h3M128 694h3M101 697h3M125 688h3M182 688h3M138 715h3M147 710h3M158 695h3M144 716h3M174 680h3M131 707h3M114 725h3M162 695h3M163 674h3M149 702h3M148 718h3M109 682h3M177 675h3M126 703h3M165 689h3M142 705h3M95 703h3M104 714h3M93 701h3M145 685h3M171 709h3M154 694h3M160 692h3M166 705h3M174 696h3M185 688h3M177 712h3M171 677h3M146 724h3M111 730h3M89 704h3M126 698h3M182 670h3M159 685h3M166 707h3M123 688h3M117 690h3M197 687h3M189 676h3M168 677h3M149 681h3M189 677h3M187 702h3M118 707h3M96 709h3M174 691h3M146 717h3M170 713h3M141 679h3M102 685h3M174 671h3M184 695h3M92 710h3M136 693h3M153 707h3M169 715h3M177 670h3M144 682h3M120 713h3M116 727h3M149 724h3M190 687h3M153 717h3M186 666h3M139 687h3M121 720h3M147 679h3M168 673h3M168 694h3M149 704h3M120 697h3M147 680h3M138 685h3M158 691h3M177 675h3M126 706h3M120 688h3M91 716h3M93 717h3M187 673h3M144 699h3M93 701h3M185 704h3M90 703h3M113 702h3M119 688h3M119 704h3M132 706h3M141 682h3M116 713h3M136 719h3M138 676h3M99 690h3M171 701h3M180 695h3M127 730h3M144 693h3M118 728h3M166 670h3M172 679h3M115 723h3M148 684h3M185 680h3M117 731h3M103 694h3M130 689h3M134 700h3M98 704h3M138 696h3M121 687h3M96 703h3M138 729h3M137 688h3M114 699h3M140 696h3M183 683h3M170 697h3M168 698h3M150 681h3M187 679h3M185 691h3M168 700h3M154 711h3M152 705h3M145 729h3M166 700h3M168 667h3M176 699h3M184 704h3M98 710h3M144 686h3M92 698h3M168 706h3M135 724h3M111 702h3M176 680h3M147 709h3M123 732h3M149 679h3M130 707h3M107 699h3M180 675h3M169 689h3M197 674h3M156 667h3M136 729h3M165 680h3M114 687h3M181 685h3M128 721h3M166 673h3M174 696h3M177 669h3M144 694h3M109 714h3M146 677h3M138 683h3M118 712h3M121 709h3M184 688h3M128 716h3M169 685h3M140 698h3M177 694h3M181 704h3M121 708h3M130 699h3M98 700h3M140 677h3M153 680h3M152 684h3M151 724h3M110 724h3M125 706h3M167 675h3M101 696h3M172 704h3M142 727h3M190 692h3M128 728h3M163 717h3M156 706h3M154 724h3M177 697h3M169 709h3M134 687h3M138 725h3M87 709h3M112 714h3M108 701h3M160 680h3M159 702h3M122 732h3M159 674h3M125 700h3M189 666h3M154 673h3M170 668h3M121 712h3M117 723h3M151 726h3M165 685h3M189 681h3M154 700h3M149 703h3M166 692h3M123 688h3M142 697h3M167 715h3M188 700h3M117 692h3M88 703h3M120 700h3M195 680h3M161 671h3M174 682h3M147 719h3M146 698h3M125 720h3M192 689h3M154 714h3M141 718h3M127 717h3M175 676h3M133 684h3M155 701h3M170 697h3M119 704h3M159 694h3M106 694h3M166 692h3M126 698h3M169 690h3M131 702h3M134 699h3M162 671h3M118 721h3M160 724h3M197 679h3M188 687h3M174 702h3M124 728h3M152 702h3M137 725h3M126 730h3M121 730h3M181 687h3M149 692h3M127 704h3M128 727h3M152 692h3M180 688h3M160 693h3M85 711h3M107 725h3M172 669h3M178 679h3M174 716h3M101 689h3M94 714h3M184 701h3M157 687h3M110 705h3M137 679h3M154 682h3M173 679h3M172 717h3M109 719h3M116 712h3M155 694h3M103 704h3M139 713h3M123 691h3M142 691h3M96 707h3M127 695h3M121 707h3M126 729h3M119 722h3M157 685h3M161 695h3M133 717h3M126 729h3M141 684h3M180 704h3M170 673h3M144 684h3M130 727h3M192 688h3M157 666h3M166 721h3M178 666h3M99 702h3M194 682h3M182 702h3M105 723h3M145 692h3M200 669h3M163 669h3M83 709h3M170 681h3M165 675h3M177 711h3M170 676h3M156 720h3M128 702h3M111 701h3M130 705h3M161 722h3M110 724h3M132 684h3M116 699h3M115 720h3M156 689h3M160 694h3M195 686h3M102 715h3M118 694h3M194 674h3M178 671h3M152 722h3M109 727h3M111 719h3M192 669h3M145 674h3M188 680h3M102 716h3M120 687h3M132 729h3M88 711h3M91 711h3M104 686h3M178 707h3M157 681h3M106 702h3M118 682h3M131 724h3M103 700h3M145 689h3M99 689h3M169 666h3M116 725h3M131 686h3M141 703h3M101 691h3M168 703h3M122 701h3M136 706h3M108 695h3M138 677h3M104 694h3M128 692h3M168 694h3M178 698h3M140 704h3M102 705h3M164 690h3M185 675h3M188 699h3M164 695h3M149 723h3M126 689h3M146 728h3M120 707h3M118 693h3M176 679h3M140 721h3M145 674h3M112 699h3M198 670h3M110 698h3M160 678h3M150 727h3M164 715h3M176 707h3M188 693h3M158 683h3M198 668h3M150 675h3M118 687h3M154 692h3M171 708h3M177 670h3M176 714h3M109 690h3M171 682h3M123 713h3M106 728h3M169 688h3M197 674h3M154 682h3M125 699h3M102 693h3M178 704h3M151 701h3M150 701h3M130 704h3M158 703h3M134 701h3M126 712h3M132 730h3M146 727h3M84 709h3M133 710h3M106 681h3M138 718h3M156 712h3M139 718h3M118 707h3M96 694h3M144 684h3M138 699h3M148 692h3M101 709h3M98 692h3M185 701h3M157 671h3M164 706h3M147 691h3M161 712h3M161 670h3M189 677h3M189 670h3M144 681h3M180 698h3M125 699h3M167 709h3M137 677h3M187 673h3M162 697h3M116 710h3M154 709h3M164 715h3M182 674h3M185 700h3M136 727h3M100 684h3M120 693h3M184 698h3M151 715h3M104 726h3M188 685h3M125 713h3M123 730h3M118 701h3M110 707h3M91 708h3M156 725h3M178 675h3M91 705h3M135 717h3M170 705h3M117 695h3M125 703h3M187 692h3M167 675h3M113 708h3M103 685h3M160 713h3M147 721h3M98 718h3M159 706h3M95 701h3M104 685h3M182 673h3M121 702h3M150 705h3M154 725h3M119 719h3M103 710h3M127 726h3M118 697h3M162 676h3M135 695h3M113 690h3M101 718h3M125 724h3M153 691h3M138 701h3M118 697h3M136 690h3M164 677h3M136 718h3M160 701h3M194 677h3M182 682h3M138 681h3M131 700h3M175 711h3M147 720h3M114 708h3M139 687h3M193 678h3M111 688h3M100 703h3M112 722h3M163 720h3M160 710h3M100 721h3M195 671h3M155 685h3M122 701h3M140 711h3M174 717h3M170 666h3M169 696h3M178 704h3M131 697h3M133 721h3M198 673h3M136 678h3M137 686h3M156 717h3M157 684h3M192 692h3M193 674h3M160 709h3M103 716h3M190 691h3M166 676h3M162 718h3M110 727h3M156 675h3M174 711h3M89 709h3M166 719h3M149 712h3M162 713h3M151 698h3M138 680h3M124 713h3M175 705h3M110 691h3M116 709h3M109 724h3M116 731h3M193 669h3M176 668h3M164 717h3M168 680h3M209 659h3M208 658h3M201 657h3M209 657h3M206 657h3M206 658h3M205 657h3M209 657h3M206 659h3M203 656h3M201 655h3M203 657h3" stroke="#f07264"/>
<path d="M167 630h3M150 640h3M143 650h3M162 659h3M112 672h3M130 630h3M122 680h3M162 662h3M125 683h3M187 635h3M173 657h3M153 663h3M136 660h3M133 643h3M160 631h3M107 678h3M135 649h3M111 645h3M133 670h3M133 648h3M169 644h3M151 644h3M146 660h3M181 644h3M136 642h3M139 660h3M135 674h3M157 652h3M150 637h3M141 673h3M180 638h3M162 625h3M109 637h3M114 641h3M133 666h3M173 662h3M173 642h3M129 665h3M179 647h3M181 656h3M112 663h3M133 623h3M190 662h3M137 663h3M165 637h3M137 627h3M104 642h3M168 632h3M182 641h3M162 632h3M195 666h3M140 669h3M169 640h3M141 632h3M126 645h3M187 645h3M120 669h3M135 663h3M108 673h3M177 639h3M135 664h3M176 662h3M160 662h3M142 666h3M150 663h3M109 633h3M115 683h3M192 653h3M125 629h3M165 622h3M174 662h3M115 641h3M130 624h3M130 673h3M126 631h3M193 669h3M150 645h3M132 629h3M155 667h3M150 669h3M150 658h3M170 664h3M174 656h3M178 642h3M165 632h3M161 646h3M152 643h3M128 639h3M151 623h3M128 646h3M180 643h3M113 638h3M115 631h3M152 640h3M131 670h3M123 685h3M118 641h3M142 661h3M122 674h3M123 665h3M176 658h3M151 647h3M182 645h3M124 660h3M159 652h3M147 651h3M118 634h3M158 634h3M125 630h3M124 643h3M169 620h3M136 664h3M140 653h3M116 677h3M169 621h3M109 648h3M127 637h3M138 643h3M110 628h3M184 632h3M150 667h3M171 640h3M157 667h3M199 658h3M161 641h3M134 641h3M142 621h3M165 648h3M149 668h3M141 667h3M176 662h3M163 646h3M128 668h3M134 672h3M104 635h3M144 663h3M176 633h3M110 636h3M176 633h3M177 640h3M169 655h3M137 670h3M172 663h3M198 660h3M186 653h3M150 630h3M124 633h3M160 635h3M140 659h3M198 661h3M130 656h3M178 620h3M129 656h3M131 634h3M112 636h3M133 630h3M134 657h3M167 630h3M163 652h3M145 630h3M116 643h3M164 651h3M123 630h3M150 645h3M123 655h3M191 652h3M173 621h3M135 658h3M147 653h3M169 622h3M162 633h3M185 666h3M107 637h3M145 622h3M132 629h3M131 645h3M125 664h3M150 625h3M170 652h3M114 667h3M113 681h3M145 672h3M137 633h3M151 641h3M165 658h3M112 664h3M110 632h3M191 640h3M141 660h3M113 666h3M164 639h3M192 668h3M132 661h3M128 643h3M127 636h3M155 654h3M126 628h3M149 631h3M139 630h3M110 645h3M107 636h3M185 641h3M191 636h3M179 632h3M117 661h3M125 669h3M117 662h3M136 672h3M175 649h3M124 654h3M109 629h3M185 640h3M177 621h3M138 643h3M129 634h3M171 659h3M124 664h3M143 663h3M171 657h3M168 629h3M116 655h3M120 674h3M124 682h3M148 635h3M173 660h3M161 638h3M107 634h3M134 622h3M132 622h3M165 663h3M163 632h3M117 663h3M118 638h3M120 677h3M191 642h3M147 655h3M180 657h3M189 667h3M170 624h3M148 626h3M172 621h3M144 621h3M154 629h3M150 672h3M102 640h3M142 619h3M133 676h3M140 667h3M133 652h3M127 677h3M173 626h3M122 681h3M126 667h3M129 626h3M118 675h3M138 633h3M121 643h3M143 663h3M138 669h3M181 624h3M179 623h3M129 643h3M135 636h3M147 663h3M134 674h3M124 681h3M161 667h3M155 630h3M183 646h3M140 662h3M177 624h3M181 626h3M139 675h3M187 667h3M125 636h3M111 633h3M178 636h3M164 648h3M117 674h3M131 663h3M182 642h3M147 655h3M173 656h3M134 626h3M148 645h3M155 634h3M129 648h3M188 660h3M132 645h3M132 653h3M154 654h3M172 659h3M147 666h3M134 628h3M128 638h3M155 641h3M105 631h3M126 682h3M197 664h3M144 643h3M162 639h3M144 629h3M108 629h3M122 656h3M175 636h3M169 636h3M131 629h3M131 660h3M117 633h3M162 636h3M126 672h3M174 665h3M129 663h3M181 656h3M165 633h3M164 653h3M148 658h3M131 645h3M178 630h3M165 634h3M167 636h3M178 626h3M163 647h3M122 645h3M185 658h3M161 644h3M170 659h3M133 645h3M129 645h3M144 622h3M148 661h3M137 673h3M159 637h3M170 647h3M162 660h3M148 665h3M136 661h3M183 654h3M129 654h3M152 637h3M197 650h3M135 640h3M133 671h3M117 645h3M138 676h3M157 639h3M185 658h3M112 667h3M144 640h3M169 636h3M142 664h3M177 629h3M139 660h3M116 670h3M174 660h3M134 648h3M146 625h3M138 649h3M138 626h3M166 628h3M155 635h3M177 638h3M138 650h3M157 654h3M115 667h3M196 651h3M181 664h3M155 640h3M189 644h3M107 637h3M139 654h3M183 626h3M190 644h3M103 638h3M169 636h3M157 649h3M110 631h3M168 648h3M166 660h3M166 633h3M140 667h3M163 663h3M102 632h3M136 662h3M161 638h3M192 660h3M131 659h3M185 649h3M112 669h3M188 665h3M135 671h3M140 658h3M166 623h3M124 669h3M126 662h3M131 630h3M161 637h3M113 640h3M124 654h3M128 646h3M148 658h3M127 664h3M162 666h3M187 643h3M109 630h3M150 662h3M188 628h3M136 665h3M179 656h3M131 667h3M141 620h3M119 646h3M145 641h3M180 652h3M167 666h3M126 650h3M147 633h3M171 650h3M190 637h3M128 626h3M117 676h3M162 668h3M194 652h3M158 629h3M114 645h3M142 663h3M188 645h3M144 664h3M137 658h3M146 650h3M147 641h3M112 681h3M161 635h3M137 643h3M152 665h3M115 665h3M187 629h3M122 680h3M125 635h3M197 654h3M177 651h3M168 653h3M110 671h3M164 664h3M172 623h3M176 630h3M125 664h3M121 676h3M181 632h3M152 626h3M108 632h3M143 657h3M118 663h3M193 661h3M194 662h3M138 651h3M111 638h3M130 649h3M133 669h3M137 654h3M186 640h3M173 661h3M193 650h3M137 631h3M126 654h3M182 645h3M139 631h3M131 645h3M101 634h3M144 651h3M126 669h3M163 635h3M130 633h3M170 638h3M101 634h3M175 635h3M115 682h3M147 629h3M137 661h3M184 647h3M117 636h3M155 656h3M163 649h3M115 648h3M145 667h3M111 631h3M193 649h3M135 619h3M150 656h3M170 650h3M178 623h3M152 641h3M124 638h3M167 635h3M150 667h3M141 662h3M135 620h3M140 667h3M168 652h3M130 669h3M101 637h3M136 623h3M124 682h3M190 647h3M110 675h3M160 653h3M108 636h3M116 661h3M170 652h3M145 649h3M119 656h3M119 681h3M191 659h3M130 633h3M150 624h3M141 671h3M166 659h3M132 646h3M107 676h3M129 669h3M190 649h3M182 635h3M197 662h3M132 621h3M115 630h3M164 658h3M178 636h3M182 640h3M167 665h3M178 634h3M172 619h3M129 646h3M148 642h3M177 657h3M188 663h3M167 650h3M191 642h3M164 638h3M145 663h3M145 637h3M181 652h3M133 625h3M108 632h3M176 658h3M127 647h3M149 651h3M193 662h3M166 653h3M110 633h3M116 634h3M150 664h3M124 641h3M189 662h3M153 636h3M190 647h3M152 633h3M132 677h3M135 658h3M133 669h3M134 647h3M172 621h3M173 635h3M128 675h3M120 674h3M177 639h3M108 636h3M111 673h3M139 664h3M129 675h3M114 633h3M187 634h3M141 663h3M124 682h3M170 638h3M160 661h3M113 665h3M155 660h3M131 663h3M166 623h3M189 647h3M170 620h3M143 661h3M133 624h3M157 654h3M169 651h3M160 648h3M150 659h3M128 679h3M156 640h3M110 633h3M120 633h3M136 627h3M189 652h3M133 636h3M129 647h3M116 667h3M123 633h3M107 629h3M115 630h3M151 628h3M173 640h3M132 654h3M165 658h3M137 634h3M141 632h3M138 620h3M108 635h3M105 639h3M146 643h3M148 654h3M117 675h3M184 666h3M157 643h3M115 635h3M111 635h3M141 624h3M163 664h3M196 653h3M162 639h3M123 676h3M123 646h3M135 674h3M166 626h3M118 661h3M158 648h3M196 661h3M189 645h3M127 623h3M181 634h3M194 643h3M141 633h3" stroke="#6e1418"/>
<path d="M63 666h3M63 681h3M55 675h3M82 648h3M111 670h3M100 640h3M61 665h3M71 649h3M71 703h3M67 695h3M70 661h3M89 695h3M56 667h3M103 654h3M92 643h3M63 674h3M76 655h3M119 655h3M69 679h3M59 663h3M70 650h3M92 672h3M94 688h3M110 656h3M64 669h3M79 700h3M105 666h3M99 654h3M88 669h3M97 639h3M79 644h3M104 645h3M107 659h3M73 693h3M100 686h3M59 690h3M100 642h3M86 698h3M100 659h3M107 655h3M83 680h3M67 695h3M72 690h3M88 685h3M95 681h3M58 675h3M95 667h3M77 676h3M88 650h3M86 672h3M93 673h3M73 642h3M98 647h3M62 689h3M102 641h3M92 695h3M88 680h3M76 644h3M75 672h3M92 686h3M80 654h3M89 658h3M55 666h3M87 656h3M80 656h3M60 667h3M100 661h3M87 675h3M56 679h3M75 654h3M80 641h3M84 679h3M82 686h3M101 679h3M95 675h3M71 690h3M88 672h3M73 642h3M65 661h3M90 645h3M76 664h3M101 656h3M87 698h3M101 659h3M77 673h3M83 635h3M108 672h3M92 695h3M82 665h3M72 657h3M95 660h3M60 685h3M63 663h3M64 662h3M91 656h3M89 683h3M92 663h3M85 645h3M72 705h3M96 674h3M73 693h3M80 635h3M70 663h3M110 655h3M94 671h3M87 683h3M70 648h3M81 701h3M94 694h3M94 690h3M59 655h3M109 649h3M87 702h3M77 679h3M108 665h3M84 691h3M101 650h3M86 678h3M87 638h3M87 694h3M102 654h3M97 669h3M113 660h3M68 669h3M78 653h3M85 651h3M67 681h3M77 655h3M57 669h3M60 658h3M74 674h3M77 665h3M113 655h3M57 677h3M81 633h3M108 676h3M101 643h3M75 704h3M93 675h3M97 652h3M63 687h3M98 638h3M61 687h3M85 650h3M58 675h3M57 660h3M73 666h3M104 646h3M73 681h3M97 647h3M95 695h3M55 681h3M100 649h3M83 653h3M92 687h3M110 652h3M103 670h3M72 673h3M99 651h3M107 655h3M97 646h3M58 655h3M63 692h3M94 663h3M62 696h3M62 685h3M59 688h3M94 689h3M70 674h3M97 657h3M99 676h3M57 663h3M55 676h3M88 689h3M90 642h3M82 656h3M96 667h3M65 690h3M69 682h3M74 658h3M58 668h3M94 637h3M79 705h3M63 663h3M78 682h3M98 653h3M110 648h3M107 650h3M94 666h3M94 678h3M91 693h3M110 656h3M83 658h3M87 689h3M64 682h3M70 684h3M74 696h3M91 644h3M90 674h3M111 658h3M60 672h3M91 654h3M74 685h3M88 678h3M89 665h3M78 681h3M67 649h3M118 652h3M79 706h3M84 699h3M64 697h3M77 685h3M94 637h3M62 669h3M95 676h3M83 674h3M93 679h3M97 679h3M100 675h3M78 646h3M69 693h3M91 659h3M66 679h3M92 670h3M64 688h3M105 658h3M81 653h3M71 677h3M93 662h3M69 678h3M71 664h3M91 645h3M101 660h3M58 666h3M65 694h3M58 689h3M104 648h3M66 668h3M80 636h3M87 690h3M102 673h3M89 697h3M84 638h3M115 651h3M58 658h3M91 672h3M102 671h3M62 665h3M66 660h3M95 682h3M95 669h3M113 648h3M71 678h3M61 664h3M92 637h3M99 655h3M71 648h3M72 666h3M57 659h3M99 660h3M89 632h3M57 674h3M89 697h3M84 669h3M72 691h3M109 652h3M94 650h3M93 682h3M108 660h3M94 665h3M91 670h3M92 640h3M90 695h3M99 683h3M97 640h3M90 676h3M105 661h3M95 645h3M58 686h3M77 653h3M56 684h3M83 699h3M101 662h3M88 651h3M109 657h3M79 698h3M63 651h3M84 686h3M75 645h3M69 672h3M79 637h3M95 667h3M75 679h3M95 685h3M71 699h3M84 688h3M92 657h3M79 684h3M63 689h3M60 678h3M82 690h3M77 653h3M94 649h3M79 679h3M95 666h3M59 682h3M107 660h3M100 661h3M85 664h3M98 646h3M68 697h3M63 653h3M83 654h3M99 642h3M103 662h3M83 648h3M96 667h3M77 691h3M64 660h3M63 655h3M71 671h3M88 655h3M67 690h3M85 668h3M56 669h3M60 658h3M92 692h3M68 686h3M77 641h3M78 635h3M80 677h3M69 683h3M98 681h3M109 658h3M84 636h3M96 670h3M91 666h3M100 676h3M84 650h3M65 685h3M84 661h3M68 687h3M86 649h3M84 702h3M97 651h3M69 667h3M76 669h3M97 675h3M83 686h3M82 639h3M74 683h3M57 686h3M71 662h3M66 655h3M106 641h3M79 644h3M72 688h3M94 647h3M79 672h3M63 686h3M104 651h3M88 679h3M79 673h3M71 677h3M67 668h3M68 684h3M90 688h3M81 639h3M59 685h3M92 644h3M70 657h3M66 679h3M62 686h3M71 648h3M74 650h3M85 633h3M68 647h3M68 663h3M63 691h3M56 657h3M78 652h3M71 664h3M87 670h3M76 648h3M75 704h3M61 691h3M72 668h3M71 691h3M116 652h3M67 680h3M116 650h3M72 694h3M94 637h3M70 660h3M57 676h3M97 647h3M87 644h3M113 656h3M89 672h3M62 686h3M94 670h3M71 705h3M60 658h3M79 647h3M75 696h3M90 697h3M71 704h3M100 661h3M89 640h3M77 703h3M80 634h3M79 633h3M70 679h3M73 647h3M93 691h3M58 671h3M89 684h3M59 657h3M101 683h3M57 674h3M68 654h3M72 647h3M63 665h3M81 651h3M69 687h3M61 680h3M88 652h3M106 650h3M65 653h3M93 682h3M96 669h3M74 688h3M98 658h3M77 645h3M63 686h3M54 676h3M88 684h3M87 686h3M68 682h3M64 680h3M96 640h3M101 650h3M84 679h3M100 656h3M82 635h3M96 641h3M109 662h3M78 634h3M100 655h3M100 681h3M102 660h3M101 649h3M76 672h3M87 683h3M96 648h3M67 655h3M90 700h3M88 641h3M73 697h3M64 699h3M94 635h3M92 652h3M57 659h3M104 665h3M85 636h3M82 687h3M56 656h3M64 651h3M92 689h3M107 649h3M73 659h3M113 659h3M100 665h3M80 650h3M60 693h3M84 675h3M72 649h3M101 668h3M87 640h3M79 707h3M77 646h3" stroke="#f0a464"/>
<path d="M127 616h3M159 612h3M101 602h3M123 623h3M127 608h3M142 612h3M101 610h3M91 611h3M150 617h3M109 625h3M123 612h3M168 618h3M81 619h3M84 634h3M109 599h3M99 630h3M152 603h3M90 615h3M118 603h3M100 598h3M85 617h3M86 609h3M95 607h3M147 605h3M100 592h3M148 605h3M151 611h3M102 589h3M135 618h3M102 590h3M84 627h3M82 609h3M145 616h3M96 620h3M171 619h3M130 608h3M121 622h3M91 605h3M109 614h3M87 620h3M139 618h3M83 614h3M109 623h3M108 604h3M106 614h3M127 606h3M157 618h3M109 590h3M115 589h3M117 624h3M81 616h3M159 617h3M88 619h3M102 608h3M133 600h3M165 620h3M158 617h3M141 603h3M109 621h3M100 592h3M166 608h3M143 616h3M107 624h3M159 608h3M154 614h3M129 617h3M162 609h3M125 600h3M108 611h3M108 629h3M116 603h3M138 596h3M155 614h3M132 600h3M141 600h3M92 598h3M115 625h3M162 617h3M128 617h3M104 604h3M93 619h3M97 620h3M94 625h3M106 617h3M130 611h3M128 592h3M99 633h3M123 617h3M88 628h3M137 592h3M173 619h3M111 590h3M110 599h3M168 613h3M144 605h3M121 593h3M82 614h3M99 619h3M94 610h3M104 624h3M90 611h3M143 618h3M103 591h3M116 617h3M120 597h3M121 600h3M125 597h3M149 615h3M143 620h3M118 603h3M111 623h3M144 595h3M90 626h3M80 617h3M141 618h3M153 607h3M111 604h3M96 626h3M95 631h3M148 610h3M162 610h3M165 617h3M110 598h3M136 600h3M106 599h3M104 603h3M125 599h3M110 608h3M153 620h3M101 596h3M111 598h3M172 616h3M126 612h3M140 595h3M111 605h3M107 618h3M108 585h3M173 616h3M105 616h3M111 623h3M105 596h3M122 623h3M124 612h3M138 597h3M87 615h3M135 616h3M147 601h3M95 625h3M109 610h3M88 615h3M136 596h3M90 605h3M117 588h3M116 603h3M124 590h3M84 612h3M143 619h3M89 596h3M166 616h3M88 600h3M83 611h3M161 614h3M112 594h3M140 594h3M124 606h3M132 608h3M137 611h3M122 603h3M139 597h3M129 620h3M173 617h3M90 596h3M119 618h3M131 595h3M143 604h3M91 599h3M160 608h3M108 605h3M115 595h3M122 623h3M110 584h3M155 613h3M157 620h3M100 591h3M121 614h3M102 589h3M86 605h3M141 607h3M106 602h3M137 614h3M122 607h3M116 591h3M147 618h3M139 617h3M99 610h3M126 598h3M84 617h3M102 603h3M121 593h3M140 615h3M84 610h3M91 626h3M105 611h3M93 609h3M101 608h3M86 619h3M152 616h3M102 587h3M138 607h3M163 614h3M119 605h3M150 617h3M105 594h3M103 616h3M94 626h3M171 615h3M99 614h3M150 605h3M117 590h3M132 598h3M97 606h3M155 613h3M106 608h3M105 601h3M143 619h3M126 609h3M123 614h3M133 598h3M100 620h3M99 627h3M140 598h3M116 604h3M126 614h3M128 599h3M97 605h3M101 626h3M115 598h3M142 593h3M117 591h3M133 608h3M99 617h3M150 604h3M142 601h3M84 613h3M123 607h3M151 621h3M118 606h3M94 624h3M132 598h3M98 632h3M99 606h3M107 616h3M127 608h3M106 623h3M92 623h3M93 628h3M129 622h3M122 627h3M82 610h3M108 608h3M86 603h3M89 628h3M94 616h3M90 617h3M128 622h3M114 594h3M122 599h3M121 624h3M135 617h3M112 584h3M81 627h3M139 614h3M96 620h3M106 618h3M166 615h3M168 616h3M102 590h3M109 590h3M171 619h3M91 610h3M148 620h3M133 603h3M120 593h3M169 615h3M108 624h3M169 616h3M124 592h3M109 604h3M130 594h3M175 620h3M126 622h3M160 615h3M92 602h3M139 606h3M94 620h3M90 624h3M109 624h3M84 610h3M119 604h3M151 611h3M83 607h3M127 607h3M93 605h3M105 602h3M147 612h3M140 606h3M118 599h3M156 613h3M136 610h3M137 613h3M119 613h3M83 631h3M109 622h3M94 609h3M113 613h3M84 617h3M120 625h3M172 619h3M128 618h3M133 595h3M106 627h3M116 614h3M147 610h3M131 593h3M129 599h3M107 602h3M100 597h3M118 617h3M95 615h3M143 599h3M112 598h3M127 617h3M92 599h3M107 615h3M95 619h3M108 611h3M113 615h3M101 589h3M90 604h3M109 611h3M163 610h3M131 618h3M135 616h3M127 604h3M108 593h3M93 613h3M91 631h3M146 607h3M124 610h3M132 595h3M120 614h3M89 615h3M108 616h3M132 610h3M122 588h3M133 598h3M115 598h3M105 616h3M134 617h3M100 592h3M121 591h3M122 625h3M149 606h3M89 613h3M136 598h3M127 596h3M133 611h3M164 619h3M111 614h3M120 596h3M107 609h3M131 605h3M156 606h3M135 615h3M108 619h3M128 615h3M82 608h3M124 620h3M106 620h3M119 594h3M97 599h3M108 621h3M109 584h3M155 609h3M159 618h3M108 597h3M100 597h3M91 594h3M87 612h3M139 600h3M126 599h3M112 611h3M85 622h3M100 619h3M131 597h3M104 604h3M101 597h3M97 607h3M126 606h3M122 589h3M135 594h3M125 609h3M148 622h3M97 633h3M123 600h3M119 608h3M95 621h3M125 593h3M119 588h3M123 598h3M102 599h3M166 616h3M99 610h3M142 611h3M120 596h3M127 615h3M89 614h3M109 596h3M110 612h3M115 625h3M99 617h3M112 613h3" stroke="#c6602c"/>
</g>
<circle cx="113.4" cy="318.2" r="2.2" fill="#f07264"/>
<text x="118.8" y="320.7" font-size="7" fill="#333" stroke="#333" stroke-width="0.16">1</text>
<circle cx="113.4" cy="325.7" r="2.2" fill="#6e1418"/>
<text x="118.8" y="328.2" font-size="7" fill="#333" stroke="#333" stroke-width="0.16">2</text>
<circle cx="113.4" cy="333.2" r="2.2" fill="#f0a464"/>
<text x="118.8" y="335.7" font-size="7" fill="#333" stroke="#333" stroke-width="0.16">3</text>
<circle cx="113.4" cy="340.7" r="2.2" fill="#c6602c"/>
<text x="118.8" y="343.2" font-size="7" fill="#333" stroke="#333" stroke-width="0.16">4</text>
<text x="8.8" y="329.5" font-size="7" text-anchor="middle" fill="#333" stroke="#333" stroke-width="0.16" transform="rotate(-90 8.8 329.5)"><tspan font-style="italic">t</tspan>-SNE 2</text>
<text x="129.5" y="273.5" font-size="9" font-weight="bold" fill="#231f20">h</text>
<line x1="156.5" y1="280.1" x2="156.5" y2="369.8" stroke="#231f20" stroke-width="0.7"/>
<line x1="156.5" y1="369.8" x2="245.3" y2="369.8" stroke="#231f20" stroke-width="0.7"/>
<line x1="154.7" y1="290.2" x2="156.5" y2="290.2" stroke="#231f20" stroke-width="0.6"/>
<text x="154.1" y="292.7" font-size="7" text-anchor="end" fill="#333" stroke="#333" stroke-width="0.16">50</text>
<line x1="154.7" y1="310.7" x2="156.5" y2="310.7" stroke="#231f20" stroke-width="0.6"/>
<text x="154.1" y="313.2" font-size="7" text-anchor="end" fill="#333" stroke="#333" stroke-width="0.16">25</text>
<line x1="154.7" y1="331.2" x2="156.5" y2="331.2" stroke="#231f20" stroke-width="0.6"/>
<text x="154.1" y="333.7" font-size="7" text-anchor="end" fill="#333" stroke="#333" stroke-width="0.16">0</text>
<line x1="154.7" y1="351.7" x2="156.5" y2="351.7" stroke="#231f20" stroke-width="0.6"/>
<text x="154.1" y="354.2" font-size="7" text-anchor="end" fill="#333" stroke="#333" stroke-width="0.16">−25</text>
<line x1="176.7" y1="369.8" x2="176.7" y2="371.6" stroke="#231f20" stroke-width="0.6"/>
<text x="176.7" y="378.5" font-size="7" text-anchor="middle" fill="#333" stroke="#333" stroke-width="0.16">-25</text>
<line x1="199.3" y1="369.8" x2="199.3" y2="371.6" stroke="#231f20" stroke-width="0.6"/>
<text x="199.3" y="378.5" font-size="7" text-anchor="middle" fill="#333" stroke="#333" stroke-width="0.16">0</text>
<line x1="221.9" y1="369.8" x2="221.9" y2="371.6" stroke="#231f20" stroke-width="0.6"/>
<text x="221.9" y="378.5" font-size="7" text-anchor="middle" fill="#333" stroke="#333" stroke-width="0.16">25</text>
<line x1="244.5" y1="369.8" x2="244.5" y2="371.6" stroke="#231f20" stroke-width="0.6"/>
<text x="244.5" y="378.5" font-size="7" text-anchor="middle" fill="#333" stroke="#333" stroke-width="0.16">50</text>
<text x="202.1" y="282.4" font-size="7" font-weight="bold" text-anchor="middle" fill="#231f20">Primed vs Naïve</text>
<text x="202.8" y="386.2" font-size="7" text-anchor="middle" fill="#333" stroke="#333" stroke-width="0.16"><tspan font-style="italic">t</tspan>-SNE 1</text>
<text x="140.3" y="330.1" font-size="7" text-anchor="middle" fill="#333" stroke="#333" stroke-width="0.16" transform="rotate(-90 140.3 330.1)"><tspan font-style="italic">t</tspan>-SNE 2</text>
<g transform="scale(.5)" fill="none" stroke-width="2.5">
<path d="M428 672h3M426 612h3M378 672h3M389 624h3M366 705h3M416 699h3M455 635h3M409 612h3M374 678h3M377 645h3M418 644h3M417 617h3M416 696h3M390 613h3M435 618h3M344 700h3M400 666h3M447 711h3M378 663h3M445 692h3M414 605h3M384 724h3M404 663h3M365 654h3M432 637h3M404 627h3M435 632h3M370 710h3M371 683h3M407 668h3M366 686h3M401 663h3M386 722h3M384 707h3M408 722h3M369 591h3M373 655h3M361 681h3M374 684h3M443 662h3M354 650h3M406 619h3M375 624h3M432 623h3M392 632h3M461 669h3M441 679h3M426 617h3M372 719h3M432 620h3M394 639h3M416 701h3M366 593h3M381 691h3M410 616h3M375 681h3M370 697h3M413 727h3M396 617h3M444 658h3M392 601h3M374 611h3M362 717h3M384 634h3M405 596h3M425 635h3M391 630h3M425 676h3M391 644h3M408 601h3M407 653h3M358 598h3M367 657h3M367 659h3M367 709h3M417 667h3M368 696h3M374 672h3M429 617h3M358 695h3M408 667h3M370 605h3M411 722h3M404 696h3M397 612h3M395 593h3M370 686h3M354 683h3M369 694h3M404 593h3M351 646h3M376 637h3M362 674h3M371 726h3M339 693h3M364 705h3M417 630h3M411 605h3M428 635h3M397 656h3M395 656h3M348 614h3M432 707h3M458 670h3M378 636h3M360 610h3M441 682h3M411 630h3M382 643h3M431 651h3M389 630h3M365 702h3M390 655h3M459 652h3M364 694h3M402 658h3M367 650h3M373 691h3M353 638h3M368 654h3M363 669h3M392 664h3M417 625h3M366 716h3M462 686h3M351 651h3M346 618h3M376 632h3M459 640h3M379 655h3M347 633h3M431 639h3M432 617h3M340 703h3M402 601h3M359 675h3M375 682h3M373 636h3M339 681h3M446 632h3M406 596h3M366 649h3M452 641h3M434 705h3M445 622h3M396 635h3M429 638h3M457 676h3M373 634h3M416 681h3M402 616h3M401 622h3M413 716h3M408 678h3M365 676h3M430 632h3M383 663h3M361 626h3M384 638h3M451 695h3M355 642h3M414 655h3M390 591h3M411 621h3M407 667h3M376 648h3M407 595h3M393 705h3M405 633h3M410 663h3M447 624h3M399 609h3M388 604h3M356 703h3M401 637h3M356 674h3M441 617h3M402 719h3M405 676h3M386 618h3M439 701h3M427 609h3M377 633h3M375 606h3M398 663h3M377 585h3M362 703h3M395 648h3M399 645h3M424 620h3M439 659h3M411 728h3M408 608h3M411 643h3M373 603h3M429 639h3M389 608h3M389 656h3M442 636h3M344 646h3M364 611h3M380 687h3M372 658h3M346 653h3M404 683h3M384 712h3M371 612h3M395 716h3M406 697h3M404 608h3M431 615h3M398 645h3M370 648h3M369 617h3M418 723h3M439 616h3M365 615h3M422 723h3M405 724h3M388 645h3M355 697h3M428 644h3M437 659h3M381 651h3M400 645h3M363 607h3M404 673h3M361 682h3M421 700h3M379 648h3M403 661h3M410 619h3M389 614h3M384 645h3M424 639h3M354 702h3M463 680h3M350 669h3M441 660h3M365 628h3M400 648h3M404 649h3M374 660h3M408 718h3M394 716h3M422 700h3M422 635h3M381 667h3M356 676h3M426 693h3M448 664h3M373 694h3M406 654h3M457 644h3M433 633h3M409 594h3M400 609h3M394 704h3M395 726h3M397 659h3M417 605h3M337 699h3M350 614h3M389 608h3M446 679h3M441 715h3M392 662h3M390 654h3M361 666h3M348 610h3M403 665h3M447 656h3M438 673h3M393 650h3M395 626h3M429 668h3M424 720h3M364 681h3M413 650h3M428 722h3M435 653h3M387 676h3M387 594h3M374 633h3M437 617h3M461 661h3M350 702h3M443 620h3M392 623h3M399 728h3M453 641h3M441 661h3M424 680h3M427 615h3M393 654h3M398 645h3M383 725h3M393 669h3M438 639h3M375 624h3M395 692h3M394 607h3M452 647h3M381 648h3M414 613h3M456 699h3M377 631h3M403 610h3M437 651h3M386 613h3M419 642h3M391 638h3M337 677h3M375 622h3M407 721h3M378 698h3M402 621h3M466 670h3M407 667h3M396 669h3M385 687h3M395 619h3M367 637h3M402 624h3M414 611h3M340 650h3M372 728h3M375 636h3M373 603h3M412 649h3M386 681h3M384 618h3M417 625h3M378 599h3M399 646h3M349 709h3M356 604h3M430 611h3M382 650h3M399 622h3M374 594h3M359 614h3M362 694h3M396 646h3M367 708h3M413 607h3M386 615h3M435 650h3M459 642h3M340 696h3M399 611h3M412 663h3M412 637h3M455 673h3M403 727h3M366 683h3M449 652h3M418 715h3M366 592h3M376 706h3M357 705h3M367 683h3M399 611h3M399 676h3M400 669h3M401 647h3M370 685h3M362 669h3M377 614h3M387 701h3M444 639h3M386 596h3M373 610h3M375 636h3M429 675h3M379 690h3M353 685h3M422 661h3M432 677h3M400 624h3M375 662h3M423 641h3M366 597h3M430 719h3M406 600h3M393 599h3M396 647h3M366 619h3M373 630h3M358 652h3M363 607h3M370 715h3M418 629h3M441 640h3M429 718h3M423 675h3M354 708h3M361 622h3M404 634h3M408 632h3M433 718h3M368 599h3M415 654h3M381 635h3M376 691h3M408 624h3M339 659h3M379 659h3M464 653h3M384 661h3M456 645h3M365 618h3M474 659h3M469 656h3" stroke="#f6cfba"/>
<path d="M435 631h3M411 676h3M396 630h3M418 723h3M383 731h3M367 611h3M416 726h3M337 703h3M355 694h3M448 644h3M382 694h3M422 669h3M386 656h3M384 703h3M376 656h3M375 599h3M375 638h3M419 603h3M356 615h3M366 599h3M352 610h3M400 624h3M354 669h3M426 692h3M421 701h3M417 689h3M368 589h3M366 659h3M349 627h3M349 680h3M444 639h3M378 726h3M397 609h3M343 676h3M352 672h3M388 622h3M375 615h3M374 605h3M358 694h3M382 641h3M340 672h3M375 591h3M355 658h3M417 669h3M367 693h3M354 620h3M399 601h3M370 700h3M425 617h3M345 656h3M434 608h3M419 640h3M356 707h3M367 679h3M372 691h3M354 671h3M426 652h3M377 694h3M403 664h3M398 600h3M364 702h3M356 646h3M409 621h3M348 665h3M359 620h3M376 695h3M400 672h3M370 635h3M390 617h3M376 600h3M404 670h3M374 719h3M386 597h3M375 649h3M377 721h3M416 615h3M363 707h3M378 624h3M350 691h3M352 678h3M353 693h3M379 681h3M408 618h3M420 607h3M377 604h3M408 660h3M380 666h3M375 676h3M361 631h3M405 715h3M392 628h3M338 666h3M376 608h3M439 616h3M363 647h3M361 703h3M370 713h3M349 653h3M358 686h3M374 586h3M376 629h3M338 673h3M440 617h3M365 652h3M373 655h3M435 629h3M371 597h3M388 624h3M360 663h3M449 669h3M391 613h3M353 615h3M360 689h3M385 706h3M363 657h3M368 685h3M386 677h3M339 658h3M386 713h3M355 596h3M360 638h3M354 600h3M378 594h3M359 717h3M376 656h3M359 701h3M357 644h3M405 597h3M396 620h3M398 596h3M433 670h3M357 599h3M381 595h3M355 665h3M369 694h3M400 626h3M380 699h3M344 706h3M417 680h3M352 605h3M361 676h3M349 674h3M359 679h3M414 618h3M366 675h3M406 617h3M374 629h3M436 636h3M331 679h3M383 633h3M413 677h3M387 594h3M407 616h3M367 660h3M431 653h3M386 605h3M435 636h3M417 617h3M420 679h3M376 724h3M345 636h3M383 591h3M452 658h3M356 672h3M368 671h3M426 637h3M429 660h3M372 601h3M402 641h3M337 648h3M337 666h3M354 632h3M409 664h3M428 671h3M337 691h3M360 650h3M360 665h3M421 713h3M358 640h3M356 695h3M382 605h3M365 683h3M363 641h3M395 600h3M342 653h3M376 631h3M367 662h3M382 599h3M354 651h3M403 662h3M365 617h3M341 679h3M455 665h3M384 606h3M399 598h3M364 632h3M373 617h3M372 623h3M397 630h3M358 623h3M395 622h3M373 660h3M388 627h3M376 630h3M351 664h3M374 609h3M397 667h3M342 691h3M337 671h3M353 655h3M381 594h3M388 600h3M402 618h3M378 585h3M332 690h3M351 668h3M406 614h3M432 674h3M343 641h3M344 635h3M372 618h3M435 617h3M395 702h3M377 700h3M378 680h3M375 658h3M375 591h3M362 670h3M382 698h3M415 621h3M400 603h3M381 719h3M368 714h3M366 676h3M350 650h3M436 615h3M396 595h3M352 649h3M377 638h3M363 651h3M357 710h3M341 669h3M363 674h3M406 607h3M369 699h3M365 689h3M336 662h3M374 694h3M350 611h3M372 641h3M418 611h3M349 607h3M344 672h3M407 606h3M370 651h3M423 613h3M416 723h3M344 673h3M360 609h3M379 613h3M376 698h3M356 687h3M358 644h3M444 670h3M372 627h3M382 614h3M375 690h3M395 599h3M333 648h3M336 664h3M352 670h3M396 704h3M409 600h3M361 620h3M380 616h3M367 589h3M395 669h3M397 618h3M423 712h3M449 640h3M402 616h3M338 694h3M394 605h3M445 634h3M360 669h3M337 704h3M411 681h3M375 616h3M346 634h3M400 598h3M386 692h3M381 599h3M374 632h3M371 616h3M400 617h3M384 700h3M355 684h3M389 625h3M383 694h3M369 685h3M355 614h3M394 597h3M353 652h3M364 658h3M369 710h3M391 682h3M398 606h3M402 616h3M384 697h3M437 620h3M350 679h3M372 620h3M363 600h3M375 621h3M422 610h3M348 635h3M366 655h3M380 707h3M367 650h3M427 619h3M361 648h3M366 702h3M427 710h3M354 641h3M339 697h3M397 598h3M360 635h3M393 606h3M388 589h3M402 595h3M363 633h3M389 601h3M385 608h3M391 594h3M385 589h3M350 636h3M365 610h3M371 639h3M412 643h3M387 596h3M377 635h3M431 664h3M389 676h3M367 665h3M390 646h3M375 597h3M376 612h3M353 640h3M382 625h3M343 646h3" stroke="#f2b89e"/>
<path d="M328 666h3M367 602h3M377 670h3M336 649h3M333 695h3M356 612h3M369 654h3M334 678h3M347 620h3M350 635h3M329 669h3M364 702h3M351 618h3M345 644h3M370 645h3M339 692h3M324 690h3M323 675h3M359 673h3M357 606h3M381 682h3M361 692h3M354 680h3M341 644h3M347 617h3M325 667h3M366 661h3M353 675h3M348 685h3M341 664h3M349 635h3M337 657h3M358 663h3M353 628h3M338 704h3M369 592h3M324 655h3M352 701h3M343 679h3M334 669h3M343 665h3M322 677h3M363 652h3M377 599h3M391 669h3M328 695h3M324 687h3M336 674h3M348 656h3M330 689h3M323 668h3M345 704h3M391 606h3M360 666h3M353 689h3M329 682h3M336 684h3M356 597h3M357 654h3M344 681h3M327 669h3M403 614h3M336 677h3M359 662h3M337 664h3M357 645h3M368 608h3M352 619h3M331 694h3M371 595h3M360 626h3M353 689h3M349 639h3M337 677h3M365 655h3M383 692h3M366 621h3M359 681h3M362 605h3M350 688h3M358 657h3M344 684h3M365 606h3M348 690h3M344 679h3M366 661h3M365 643h3M349 648h3M365 702h3M383 676h3M346 676h3M349 636h3M330 685h3M333 687h3M331 655h3M358 605h3M349 631h3M351 634h3M334 663h3M344 652h3M342 648h3M366 598h3M337 668h3M332 680h3M352 644h3M327 686h3M345 647h3M355 616h3M344 634h3M339 647h3M324 671h3M322 674h3M347 651h3M320 676h3M354 684h3M329 680h3M353 612h3M370 605h3M433 616h3M394 624h3" stroke="#e58266"/>
<path d="M430 705h3M453 668h3M400 643h3M396 689h3M398 699h3M400 648h3M413 660h3M441 701h3M401 674h3M417 637h3M437 682h3M433 692h3M446 647h3M392 730h3M371 642h3M429 632h3M449 675h3M398 713h3M427 662h3M417 663h3M440 696h3M460 653h3M434 723h3M416 720h3M453 682h3M355 706h3M455 701h3M459 695h3M418 647h3M363 690h3M437 620h3M376 648h3M451 632h3M432 649h3M455 676h3M439 707h3M444 640h3M426 719h3M466 660h3M454 654h3M446 621h3M393 697h3M427 700h3M393 730h3M427 677h3M417 645h3M441 621h3M412 692h3M440 698h3M461 685h3M448 670h3M413 716h3M434 699h3M433 658h3M438 704h3M380 714h3M391 688h3M450 688h3M442 680h3M422 654h3M416 631h3M377 645h3M453 641h3M408 704h3M412 685h3M402 672h3M452 687h3M405 643h3M445 712h3M410 663h3M377 729h3M393 698h3M426 685h3M456 677h3M455 702h3M438 712h3M399 623h3M441 671h3M459 642h3M457 667h3M433 616h3M454 666h3M406 687h3M413 679h3M435 693h3M387 697h3M426 691h3M389 681h3M387 688h3M357 715h3M447 694h3M451 646h3M405 675h3M440 679h3M455 667h3M364 704h3M388 687h3M422 635h3M406 695h3M451 683h3M421 654h3M455 679h3M453 691h3M435 667h3M452 704h3M422 641h3M371 631h3M443 680h3M465 674h3M433 673h3M444 669h3M411 694h3M387 708h3M444 694h3M449 703h3M432 633h3M387 708h3M419 683h3M435 675h3M394 727h3M391 700h3M438 668h3M388 711h3M415 665h3M416 702h3M389 687h3M396 654h3M435 714h3M386 700h3M444 629h3M382 669h3M413 698h3M405 626h3M434 628h3M407 599h3M428 724h3M436 648h3M434 660h3M392 730h3M431 663h3M427 693h3M452 700h3M440 679h3M429 637h3M382 712h3M429 695h3M458 637h3M462 682h3M412 692h3M437 681h3M414 641h3M428 635h3M381 665h3M376 724h3M440 623h3M419 626h3M445 671h3M384 663h3M412 674h3M405 651h3M412 689h3M442 635h3M435 693h3M445 698h3M453 675h3M444 707h3M456 692h3M466 668h3M417 675h3M438 681h3M391 699h3M417 701h3M425 703h3M382 631h3M445 636h3M425 671h3M428 711h3M421 709h3M449 674h3M452 699h3M445 675h3M420 637h3M361 701h3M385 718h3M402 695h3M380 633h3M455 634h3M438 638h3M391 724h3M434 623h3M424 654h3M427 648h3M417 659h3M461 678h3M378 722h3M423 685h3M441 717h3M446 703h3M466 673h3M425 684h3M457 691h3M382 630h3M399 654h3M416 711h3M418 698h3M443 668h3M477 659h3M474 657h3M474 658h3" stroke="#e6e2e1"/>
<path d="M417 641h3M429 659h3M388 720h3M369 685h3M454 692h3M388 679h3M420 693h3M368 723h3M441 657h3M400 694h3M363 695h3M420 663h3M403 660h3M402 649h3M419 681h3M398 688h3M391 700h3M430 715h3M423 670h3M379 721h3M408 673h3M431 670h3M387 706h3M440 643h3M396 665h3M401 692h3M384 604h3M433 674h3M449 656h3M365 704h3M363 640h3M452 674h3M415 606h3M418 612h3M392 645h3M403 730h3M374 672h3M367 722h3M424 719h3M412 617h3M402 664h3M361 667h3M380 725h3M408 707h3M397 625h3M424 618h3M430 667h3M410 728h3M398 629h3M429 688h3M438 664h3M432 632h3M384 691h3M418 624h3M447 643h3M374 699h3M381 706h3M451 701h3M379 639h3M426 609h3M403 730h3M386 731h3M421 614h3M455 679h3M398 670h3M409 661h3M349 679h3M429 609h3M382 604h3M390 660h3M362 714h3M414 651h3M387 730h3M423 615h3M421 678h3M448 695h3M435 692h3M422 720h3M436 621h3M393 637h3M415 673h3M385 715h3M381 626h3M438 640h3M400 642h3M416 668h3M395 617h3M360 625h3M395 668h3M415 677h3M440 663h3M436 614h3M407 659h3M466 661h3M388 594h3M406 729h3M363 712h3M398 634h3M401 657h3M410 619h3M393 731h3M381 682h3M410 620h3M436 622h3M395 690h3M453 666h3M410 680h3M418 641h3M378 664h3M397 701h3M414 724h3M436 716h3M415 611h3M394 694h3M367 697h3M414 710h3M425 695h3M460 667h3M410 716h3M380 725h3M394 643h3M394 637h3M406 630h3M367 597h3M459 636h3M445 675h3M383 661h3M432 689h3M359 701h3M383 662h3M421 693h3M427 692h3M377 623h3M382 655h3M387 674h3M414 635h3M434 706h3M405 598h3M414 602h3M433 663h3M402 597h3M358 709h3M421 706h3M447 657h3M416 723h3M437 625h3M414 626h3M439 621h3M417 672h3M368 640h3M420 716h3M400 676h3M387 720h3M435 672h3M416 703h3M414 680h3M392 667h3M395 626h3M387 644h3M455 673h3M411 698h3M404 611h3M396 643h3M386 688h3M385 703h3M414 663h3M422 630h3M393 730h3M377 658h3M449 626h3M411 692h3M392 636h3M381 722h3M383 674h3M453 680h3M383 730h3M389 623h3M404 695h3M414 656h3M404 728h3M404 687h3M415 645h3M398 653h3M385 652h3M435 700h3M434 700h3M414 666h3M411 686h3M436 706h3M378 702h3M414 709h3M357 659h3M423 667h3M397 630h3M350 617h3M429 636h3M436 684h3M441 665h3M395 663h3M392 706h3M367 696h3M440 704h3M430 647h3M458 692h3M417 606h3M374 701h3M426 674h3M421 673h3M415 661h3M384 723h3M437 647h3M422 613h3M433 691h3M450 654h3M419 637h3M465 650h3M392 609h3M400 671h3M409 697h3M400 598h3M378 667h3M411 641h3M436 636h3M405 660h3M442 675h3M444 638h3M393 615h3M464 651h3M433 692h3M393 698h3M457 645h3M397 701h3M373 638h3M384 720h3M465 679h3M368 632h3M449 686h3M416 692h3M419 692h3M378 669h3M408 602h3M440 669h3M360 713h3M404 679h3M421 682h3M423 693h3M379 640h3M390 691h3M409 691h3M394 646h3M415 658h3M394 695h3M394 664h3M393 729h3M386 722h3M424 685h3M417 662h3M360 617h3M408 683h3M397 726h3M408 620h3M385 646h3M448 652h3M424 666h3M433 720h3M446 666h3M450 702h3M349 708h3M444 711h3M381 645h3M433 616h3M409 663h3M411 664h3M397 704h3M403 643h3M419 665h3M465 654h3M439 619h3M431 664h3M410 657h3M375 726h3M375 605h3M403 631h3M398 723h3M347 639h3M437 666h3M408 703h3M435 702h3M367 634h3M389 701h3M431 635h3M396 633h3M370 694h3M385 604h3M381 682h3M406 704h3M431 690h3M384 636h3M422 656h3M360 647h3M384 599h3M392 689h3M417 656h3M404 614h3M384 692h3M412 674h3M436 652h3M439 619h3M422 692h3M391 682h3M444 713h3M376 675h3M397 593h3M382 661h3M437 652h3M385 656h3M459 659h3M408 670h3M400 700h3M392 712h3M373 676h3M374 611h3M449 635h3M431 658h3M415 642h3M405 698h3M415 692h3M379 656h3M414 691h3M457 677h3M456 670h3M431 638h3M391 699h3M434 708h3M404 677h3M382 709h3M354 640h3M451 698h3M399 626h3M370 726h3M392 712h3M394 648h3M423 725h3M415 651h3M402 717h3M454 692h3M416 606h3M434 653h3M379 707h3M382 634h3M417 664h3M391 641h3M364 717h3M458 647h3M432 619h3M440 635h3M394 675h3M421 725h3M386 674h3M396 675h3M408 663h3M380 665h3M395 615h3M456 647h3M391 621h3M366 656h3M410 661h3M403 717h3M437 651h3M397 700h3M395 679h3M386 634h3M406 710h3M378 612h3M367 598h3M399 721h3M404 686h3M461 674h3M428 709h3M370 665h3M391 609h3M430 713h3M374 635h3M408 611h3M393 615h3M383 709h3M429 640h3M402 674h3M461 669h3M435 680h3M378 614h3M407 633h3M469 657h3M471 657h3" stroke="#f5dfd4"/>
<path d="M329 681h3M326 665h3M342 655h3M324 663h3M321 679h3M330 661h3M328 663h3M330 662h3M325 658h3M334 681h3M340 695h3M329 697h3M334 693h3M330 688h3M335 678h3M324 666h3M324 688h3M323 658h3M322 659h3M323 686h3M340 646h3M328 689h3M328 655h3M335 667h3M349 686h3M328 685h3M332 668h3M333 684h3M321 657h3M360 638h3M336 660h3M322 676h3M326 658h3M336 679h3M325 657h3M322 659h3M329 651h3M338 650h3" stroke="#c7413f"/>
<path d="M379 696h3M410 650h3M416 725h3M397 712h3M422 707h3M429 662h3M391 683h3M453 689h3M428 631h3M400 670h3M436 644h3M405 660h3M420 707h3M375 626h3M424 652h3M419 699h3M405 680h3M437 712h3M405 698h3M395 688h3M381 727h3M380 641h3M440 662h3M421 702h3M457 662h3M411 715h3M391 732h3M451 683h3M449 641h3M444 710h3M463 666h3M436 641h3M412 707h3M455 645h3M457 692h3M439 619h3M390 697h3M391 727h3M375 634h3M457 673h3M441 662h3M396 672h3M417 645h3M422 667h3M445 642h3M417 711h3M362 695h3M405 706h3M408 603h3M395 646h3M423 678h3M445 696h3M423 708h3M381 631h3M389 685h3M388 674h3M405 723h3M449 645h3M382 677h3M405 643h3M376 628h3M400 699h3M467 681h3M424 667h3M377 686h3M444 662h3M431 646h3M411 663h3M443 633h3M425 704h3M440 619h3M443 634h3M436 655h3M415 723h3M429 699h3M441 704h3M400 630h3M421 688h3M406 681h3M434 631h3M431 652h3M425 697h3M431 669h3M428 710h3M430 634h3M411 596h3M424 690h3M412 623h3M399 630h3M397 645h3M379 660h3M402 704h3M427 689h3M412 672h3M404 633h3M416 727h3M392 713h3M440 694h3M389 715h3M429 610h3M399 661h3M430 674h3M415 718h3M420 620h3M393 612h3M393 702h3M439 709h3M442 649h3M441 696h3M438 660h3M391 664h3M413 723h3M438 657h3M391 681h3M355 704h3M441 660h3M389 687h3M383 690h3M464 687h3M435 677h3M362 708h3M375 611h3M436 714h3M444 670h3M408 619h3M400 652h3M394 677h3M441 626h3M384 675h3M360 678h3M449 624h3M379 702h3M398 706h3M401 674h3M391 680h3M408 682h3M383 713h3M428 667h3M406 662h3M445 625h3M410 604h3M415 684h3M445 636h3M432 648h3M396 689h3M401 699h3M422 613h3M456 660h3M437 697h3M435 698h3M419 704h3M444 699h3M364 710h3M401 628h3M394 638h3M358 697h3M402 724h3M393 682h3M465 664h3M411 630h3M390 731h3M397 706h3M373 699h3M447 674h3M432 680h3M398 660h3M448 685h3M375 713h3M452 688h3M419 616h3M397 699h3M415 658h3M445 630h3M364 700h3M432 635h3M446 627h3M430 717h3M423 705h3M427 679h3M426 702h3M389 732h3M396 645h3M411 622h3M456 666h3M432 685h3M456 681h3M414 719h3M413 625h3M375 652h3M459 689h3M400 684h3M405 651h3M424 654h3M437 696h3M422 640h3M436 690h3M401 699h3M430 671h3M451 626h3M369 638h3M436 637h3M424 649h3M442 702h3M391 728h3M419 701h3M404 724h3M388 730h3M407 667h3M383 592h3M428 638h3M453 649h3M373 724h3M407 658h3M418 621h3M433 623h3M390 669h3M367 689h3M377 705h3M376 718h3M429 666h3M456 628h3M399 716h3M393 728h3M448 704h3M410 684h3M412 642h3M435 666h3M414 634h3M439 650h3M395 622h3M468 669h3M462 652h3M430 669h3M425 629h3M456 646h3M392 635h3M399 684h3M423 688h3M428 693h3M392 664h3M419 721h3M462 662h3M396 649h3M456 680h3M399 669h3M387 687h3M354 711h3M445 706h3M384 682h3M450 645h3M406 631h3M367 691h3M403 705h3M405 676h3M414 630h3M403 661h3M431 649h3M461 649h3M445 624h3M434 635h3M417 667h3M407 662h3M387 707h3M417 726h3M431 715h3M425 683h3M458 647h3M427 653h3M389 712h3M465 674h3M421 682h3M446 704h3M418 700h3M397 633h3M394 618h3M433 659h3M399 729h3M458 649h3M382 652h3M465 662h3M404 717h3M405 717h3M435 665h3M439 619h3M445 657h3M453 700h3M431 706h3M428 670h3M429 696h3M431 715h3M455 685h3M443 658h3M357 707h3M437 705h3M461 662h3M434 675h3M427 713h3M414 721h3M457 662h3M403 598h3M427 706h3M402 658h3M359 682h3M439 621h3M416 704h3M393 726h3M377 673h3M385 697h3M423 607h3M427 661h3M398 663h3M367 717h3M420 691h3M402 690h3M462 677h3M450 682h3M405 681h3M366 680h3M406 687h3M376 633h3M403 627h3M389 701h3M457 652h3M436 695h3M397 696h3M383 666h3M389 633h3M433 675h3M376 726h3M405 620h3M390 713h3M384 674h3M442 704h3M375 723h3M383 730h3M431 716h3M433 626h3M425 648h3M464 661h3M449 634h3M462 643h3M476 658h3M477 657h3M473 657h3M477 657h3" stroke="#f4f0ee"/>
<path d="M320 675h3M366 640h3M336 661h3M336 650h3M358 672h3M401 618h3M352 698h3M333 694h3M338 690h3M349 614h3M327 689h3M358 685h3M346 654h3M361 675h3M326 685h3M356 612h3M342 655h3M323 669h3M329 687h3M326 686h3M322 660h3M322 663h3M344 681h3M348 658h3M365 690h3M366 592h3M349 698h3M343 685h3M360 638h3M331 668h3M372 609h3M322 684h3M375 657h3M344 697h3M361 666h3M325 678h3M325 682h3M328 653h3M369 662h3M329 660h3M321 669h3M347 627h3M326 658h3M333 686h3M334 682h3M323 686h3M371 603h3M324 685h3M336 657h3M327 685h3M328 690h3M363 647h3M356 632h3M333 654h3M335 686h3M327 680h3M419 634h3M330 653h3M328 686h3M362 640h3M345 650h3M325 693h3" stroke="#d66253"/>
<path d="M394 617h3M348 648h3M393 609h3M380 705h3M322 667h3M402 642h3M357 644h3M328 674h3M362 693h3M360 688h3M417 701h3M365 630h3M361 608h3M371 666h3M366 593h3M373 659h3M386 669h3M366 643h3M348 609h3M354 685h3M362 620h3M408 666h3M339 642h3M364 647h3M353 620h3M392 629h3M368 641h3M372 615h3M393 607h3M382 589h3M383 624h3M369 609h3M419 643h3M366 706h3M353 656h3M375 621h3M373 624h3M384 641h3M340 654h3M390 665h3M345 642h3M336 689h3M374 629h3M339 643h3M353 698h3M360 705h3M343 672h3M363 620h3M361 660h3M372 617h3M365 633h3M357 656h3M378 591h3M346 635h3M376 655h3M391 633h3M359 671h3M365 619h3M372 705h3M353 683h3M370 624h3M382 618h3M346 701h3M360 693h3M360 689h3M387 601h3M392 597h3M384 604h3M414 653h3M374 665h3M374 637h3M356 627h3M380 667h3M344 653h3M332 680h3M358 708h3M363 713h3M340 674h3M362 627h3M367 643h3M376 598h3M372 600h3M364 638h3M350 651h3M370 603h3M370 647h3M391 599h3M416 701h3M361 695h3M378 606h3M373 619h3M390 654h3M376 652h3M369 669h3M363 646h3M371 616h3M324 655h3M354 615h3M353 688h3M355 605h3M403 693h3M361 667h3M384 589h3M382 604h3M382 726h3M349 613h3M410 619h3M349 611h3M329 663h3M364 653h3M428 614h3M374 650h3M357 692h3M384 727h3M340 685h3M354 677h3M333 649h3M387 615h3M368 589h3M363 679h3M383 592h3M392 598h3M358 670h3M368 604h3M350 611h3M357 626h3M359 609h3M368 588h3M368 673h3M353 709h3M379 713h3M398 598h3M361 669h3M358 638h3M405 676h3M452 658h3M365 660h3M355 696h3M357 670h3M371 662h3M361 645h3M349 699h3M367 626h3M349 686h3M344 637h3M361 685h3M351 711h3M360 624h3M393 608h3M342 653h3M360 649h3M369 704h3M358 629h3M351 604h3M354 628h3M364 646h3M356 617h3M334 697h3M349 654h3M362 667h3M387 625h3M371 723h3M358 692h3M362 621h3M368 591h3M389 680h3M356 666h3M357 610h3M385 694h3M350 661h3M374 625h3M391 593h3M377 718h3M368 716h3M370 685h3M358 602h3M340 682h3M360 620h3M356 624h3M368 705h3M345 644h3M338 688h3M354 679h3M347 639h3M349 617h3M386 625h3M399 595h3M332 679h3M337 648h3M368 693h3M361 615h3M341 704h3M358 599h3M374 616h3M326 691h3M372 681h3M376 611h3M384 707h3M364 692h3M391 611h3M399 595h3M355 672h3M356 697h3M336 703h3M388 588h3M366 661h3M343 703h3M359 691h3M388 591h3M338 647h3M372 650h3M340 688h3M342 645h3M374 620h3M348 608h3M367 650h3M385 594h3M376 584h3M362 641h3M343 634h3M369 660h3M374 597h3M341 672h3M353 683h3M357 595h3M366 720h3M356 699h3M351 622h3M403 678h3M415 622h3M390 599h3M348 686h3M321 656h3M358 689h3M373 649h3M355 614h3M350 675h3M367 668h3M345 706h3" stroke="#ed9e81"/>
<path d="M446 669h3M448 639h3M429 625h3M439 698h3M406 682h3M432 670h3M417 658h3M441 656h3M428 646h3M457 692h3M428 642h3M409 713h3M455 695h3M403 684h3M412 688h3M387 683h3M423 689h3M437 652h3M417 697h3M398 707h3M429 695h3M457 687h3M421 629h3M445 675h3M449 642h3M440 656h3M416 679h3M403 728h3M392 672h3M449 656h3M409 726h3M445 696h3M436 709h3M400 687h3M418 725h3M456 700h3M392 719h3M455 687h3M460 660h3M448 688h3M401 671h3M425 686h3M439 717h3M406 712h3M388 707h3M455 643h3M454 629h3M444 651h3M444 631h3M463 686h3M449 632h3M459 669h3M404 654h3M372 702h3M397 686h3M411 651h3M402 620h3M413 728h3M444 679h3M427 678h3M438 707h3M437 688h3M413 726h3M411 684h3M456 663h3M390 730h3M392 703h3M376 633h3M449 673h3M405 664h3M405 701h3M427 701h3M443 711h3M377 688h3M462 671h3M437 666h3M400 636h3M460 692h3M441 711h3M433 658h3M405 679h3M451 666h3M424 643h3" stroke="#d7d5d4"/>
<path d="M384 704h3M424 714h3M411 723h3M408 633h3M442 704h3M428 711h3M454 677h3M444 681h3M442 689h3M438 677h3M411 682h3M405 685h3M405 669h3M452 704h3M421 711h3M442 696h3M407 676h3M441 682h3M386 703h3M362 707h3M460 688h3M437 675h3M376 671h3M461 674h3M461 650h3M367 634h3M412 667h3M432 695h3M399 709h3M447 698h3M414 719h3M423 717h3M471 656h3" stroke="#c8c8c7"/>
<path d="M320 666h3M336 663h3M335 649h3M323 675h3M320 681h3M329 692h3M327 685h3M320 676h3M325 672h3M328 665h3M331 661h3M326 664h3M322 674h3M328 652h3M334 672h3M336 690h3M328 665h3M333 682h3M332 655h3M330 699h3" stroke="#b8202c"/>
<path d="M467 658h3M441 690h3M436 689h3M395 720h3M404 658h3" stroke="#bababa"/>
</g>
<rect x="246" y="321.2" width="6.3" height="18.2" fill="url(#gh)"/>
<text x="251.1" y="308" font-size="7" text-anchor="middle" fill="#333" stroke="#333" stroke-width="0.16">ATAC</text>
<text x="251.1" y="316.7" font-size="7" text-anchor="middle" fill="#333" stroke="#333" stroke-width="0.16">log<tspan font-size="4.2" dy="1.5">2</tspan><tspan dy="-1.5">ratio</tspan></text>
<text x="254" y="325.6" font-size="7" fill="#333" stroke="#333" stroke-width="0.16">2</text>
<text x="254" y="340.8" font-size="7" fill="#333" stroke="#333" stroke-width="0.16">−2</text>
<text x="274.5" y="273.5" font-size="9" font-weight="bold" fill="#231f20">i</text>
<line x1="298.5" y1="280.1" x2="298.5" y2="369.3" stroke="#231f20" stroke-width="0.7"/>
<line x1="298.5" y1="369.3" x2="383.3" y2="369.3" stroke="#231f20" stroke-width="0.7"/>
<line x1="296.7" y1="289.4" x2="298.5" y2="289.4" stroke="#231f20" stroke-width="0.6"/>
<text x="296.1" y="291.9" font-size="7" text-anchor="end" fill="#333" stroke="#333" stroke-width="0.16">50</text>
<line x1="296.7" y1="309.9" x2="298.5" y2="309.9" stroke="#231f20" stroke-width="0.6"/>
<text x="296.1" y="312.4" font-size="7" text-anchor="end" fill="#333" stroke="#333" stroke-width="0.16">25</text>
<line x1="296.7" y1="330.4" x2="298.5" y2="330.4" stroke="#231f20" stroke-width="0.6"/>
<text x="296.1" y="332.9" font-size="7" text-anchor="end" fill="#333" stroke="#333" stroke-width="0.16">0</text>
<line x1="296.7" y1="350.9" x2="298.5" y2="350.9" stroke="#231f20" stroke-width="0.6"/>
<text x="296.1" y="353.4" font-size="7" text-anchor="end" fill="#333" stroke="#333" stroke-width="0.16">−25</text>
<line x1="316.6" y1="369.3" x2="316.6" y2="371.1" stroke="#231f20" stroke-width="0.6"/>
<text x="316.6" y="378" font-size="7" text-anchor="middle" fill="#333" stroke="#333" stroke-width="0.16">-25</text>
<line x1="338.9" y1="369.3" x2="338.9" y2="371.1" stroke="#231f20" stroke-width="0.6"/>
<text x="338.9" y="378" font-size="7" text-anchor="middle" fill="#333" stroke="#333" stroke-width="0.16">0</text>
<line x1="361.1" y1="369.3" x2="361.1" y2="371.1" stroke="#231f20" stroke-width="0.6"/>
<text x="361.1" y="378" font-size="7" text-anchor="middle" fill="#333" stroke="#333" stroke-width="0.16">25</text>
<line x1="383.4" y1="369.3" x2="383.4" y2="371.1" stroke="#231f20" stroke-width="0.6"/>
<text x="383.4" y="378" font-size="7" text-anchor="middle" fill="#333" stroke="#333" stroke-width="0.16">50</text>
<text x="338.2" y="282.4" font-size="7" font-weight="bold" text-anchor="middle" fill="#231f20">H3K27ac</text>
<text x="342.4" y="386.2" font-size="7" text-anchor="middle" fill="#333" stroke="#333" stroke-width="0.16"><tspan font-style="italic">t</tspan>-SNE 1</text>
<text x="283" y="330" font-size="7" text-anchor="middle" fill="#333" stroke="#333" stroke-width="0.16" transform="rotate(-90 283 330)"><tspan font-style="italic">t</tspan>-SNE 2</text>
<g transform="scale(.5)" fill="none" stroke-width="2.5">
<path d="M707 671h3M668 678h3M679 692h3M653 676h3M613 694h3M634 693h3M702 668h3M698 706h3M608 673h3M681 673h3M665 654h3M638 670h3M640 686h3M687 672h3M711 672h3M649 644h3M629 625h3M653 653h3M628 678h3M641 665h3M706 661h3M632 670h3M711 669h3M621 642h3M620 670h3M709 666h3M676 671h3M720 677h3M700 665h3M646 691h3M708 687h3M642 694h3M625 655h3M605 665h3M661 690h3M620 653h3M731 681h3M732 676h3M704 674h3M726 694h3M610 659h3M621 662h3M723 680h3M696 666h3M745 679h3M657 685h3M711 647h3M695 667h3M617 655h3M683 694h3M682 682h3M610 660h3M690 662h3M638 661h3M639 669h3M705 676h3M645 700h3M704 695h3M726 668h3M659 658h3M638 707h3M711 656h3M605 656h3M602 675h3M715 715h3M647 641h3M643 650h3M603 674h3M603 658h3M641 693h3M671 668h3M629 652h3M700 692h3M689 661h3M717 676h3M670 680h3M735 674h3M605 686h3M640 687h3M616 673h3M720 670h3M633 687h3M635 641h3M610 688h3M619 656h3M723 668h3M624 680h3M714 671h3M640 665h3M639 676h3M672 704h3M684 667h3M628 656h3M636 701h3M637 642h3M687 680h3M690 691h3M733 665h3M624 680h3M660 697h3M714 698h3M640 636h3M714 666h3M644 708h3M693 664h3M690 685h3M638 696h3M629 672h3M743 662h3M708 637h3M646 673h3M614 692h3M636 657h3M702 665h3M711 679h3M611 677h3M692 675h3M639 661h3M683 682h3M604 664h3M674 714h3M685 696h3M727 702h3M644 698h3M713 673h3M635 695h3M706 678h3M660 650h3M675 643h3M705 672h3M667 710h3M707 658h3M617 676h3M675 653h3M607 662h3M602 657h3M741 678h3M630 667h3M720 659h3M639 649h3M638 680h3M721 674h3M665 702h3M603 684h3M743 677h3M685 652h3M629 697h3M709 661h3M608 650h3M738 658h3M734 663h3M638 656h3M647 687h3M703 685h3M622 652h3M624 677h3M669 689h3M688 689h3M605 680h3M673 662h3M707 693h3M614 695h3M689 682h3M645 641h3M642 665h3M608 653h3M740 680h3M612 688h3M606 656h3M613 685h3M683 657h3M692 649h3M676 703h3M658 679h3M655 657h3M667 674h3M664 692h3M603 684h3M677 644h3M646 689h3M672 668h3M661 681h3M709 648h3M710 693h3M613 666h3M705 676h3M686 665h3M656 673h3M614 662h3M608 689h3M670 697h3M665 679h3M652 674h3M674 667h3M713 663h3M642 646h3M734 661h3M735 676h3M640 668h3M620 694h3M683 675h3M646 659h3M733 671h3M623 701h3M731 698h3M734 684h3M604 669h3M637 703h3M681 715h3M605 655h3M671 701h3M733 691h3M713 673h3M649 683h3M613 653h3M609 664h3M607 678h3M678 675h3M652 649h3M649 708h3M600 674h3M664 695h3M675 673h3M684 699h3M664 695h3M689 659h3M684 680h3M706 646h3M646 654h3M645 679h3M741 669h3M701 683h3M612 653h3M633 639h3M619 695h3M683 684h3M703 682h3M628 685h3M650 638h3M609 649h3M681 672h3M739 668h3M618 648h3M645 616h3M755 657h3" stroke="#d3aa5f"/>
<path d="M713 629h3M647 601h3M706 630h3M696 616h3M682 640h3M604 662h3M703 650h3M714 617h3M627 618h3M719 641h3M664 602h3M693 604h3M646 591h3M650 641h3M728 640h3M687 631h3M648 589h3M628 608h3M634 683h3M691 615h3M676 607h3M722 660h3M667 620h3M644 646h3M633 619h3M738 652h3M711 621h3M676 623h3M634 618h3M720 654h3M706 645h3M726 641h3M712 607h3M675 616h3M728 643h3M664 633h3M655 626h3M717 638h3M745 656h3M680 640h3M708 616h3M640 624h3M674 592h3M650 633h3M669 616h3M657 589h3M714 612h3M665 596h3M669 653h3M689 619h3M731 664h3M653 636h3M622 653h3M697 639h3M687 617h3M699 606h3M710 637h3M641 630h3M728 686h3M670 598h3M699 619h3M647 595h3M685 594h3M669 652h3M655 650h3M651 615h3M662 653h3M666 672h3M719 659h3M684 596h3M678 621h3M633 614h3M663 637h3M682 595h3M737 640h3M693 654h3M726 656h3M648 639h3M634 599h3M629 609h3M670 605h3M674 624h3M677 594h3M654 604h3M660 594h3M701 633h3M675 646h3M678 644h3M700 652h3M647 588h3M690 628h3M693 617h3M685 616h3M654 628h3M668 655h3M715 634h3M644 609h3M676 628h3M630 616h3M666 593h3M630 609h3M637 643h3M631 618h3M684 606h3M724 629h3M649 615h3M724 625h3M645 613h3M667 644h3M679 643h3M659 646h3M729 653h3M638 636h3M679 597h3M645 658h3M715 635h3M723 628h3M644 626h3M680 646h3M654 651h3M702 653h3M641 644h3M642 604h3M656 629h3M648 631h3M731 647h3M621 644h3M687 600h3M680 669h3M686 657h3M640 623h3M678 597h3M653 615h3M673 645h3M734 627h3M654 607h3M640 615h3M636 616h3M725 655h3M687 619h3M691 640h3M736 635h3M633 653h3M627 626h3M704 627h3M693 639h3M733 628h3M655 589h3M637 609h3M718 622h3M727 630h3M698 625h3M654 603h3M685 605h3M636 622h3M685 630h3M647 632h3M651 639h3M665 603h3M682 660h3M625 642h3M701 655h3M660 646h3M693 611h3M681 618h3M682 609h3M665 612h3M654 621h3M640 608h3M676 667h3M664 686h3M674 617h3M647 635h3M682 622h3M614 646h3M716 651h3M652 601h3M646 596h3M657 597h3M673 616h3M641 618h3M654 609h3M661 650h3M655 610h3M681 614h3M673 603h3M694 641h3M659 654h3M737 640h3M691 636h3M727 650h3M661 597h3M650 614h3M673 646h3M696 662h3M678 610h3M680 645h3M657 612h3M722 638h3M733 633h3M706 660h3M715 619h3M643 598h3M655 583h3M653 596h3M682 625h3M657 610h3M675 645h3M676 596h3M653 628h3M697 627h3M669 599h3M711 657h3M653 634h3M730 664h3M703 642h3M653 648h3M687 623h3M669 674h3M635 612h3M654 595h3M656 611h3M632 638h3M673 622h3M727 632h3M740 642h3M754 656h3M751 655h3" stroke="#b8e0da"/>
<path d="M608 665h3M699 691h3M699 661h3M607 663h3M616 659h3M656 644h3M679 668h3M715 643h3M697 642h3M701 667h3M663 701h3M630 633h3M726 637h3M725 645h3M632 608h3M645 652h3M711 635h3M643 638h3M697 610h3M741 664h3M733 643h3M634 648h3M687 664h3M720 660h3M661 588h3M671 630h3M663 622h3M677 627h3M634 656h3M696 667h3M696 622h3M646 660h3M698 638h3M677 668h3M601 677h3M668 672h3M671 599h3M697 646h3M670 642h3M619 641h3M673 635h3M684 642h3M694 671h3M674 666h3M679 670h3M618 703h3M722 632h3M715 654h3M732 652h3M744 660h3M677 633h3M645 617h3M640 609h3M636 610h3M616 647h3M605 653h3M696 644h3M709 667h3M681 657h3M708 632h3M678 628h3M716 650h3M691 670h3M603 667h3M737 639h3M623 663h3M643 637h3M701 653h3M601 679h3M682 670h3M655 628h3M731 639h3M670 663h3M714 675h3M735 675h3M733 700h3M602 662h3M662 661h3M735 666h3M640 636h3M643 652h3M656 647h3M672 666h3M666 642h3M616 682h3M729 645h3M685 661h3M657 657h3M671 634h3M706 607h3M657 632h3M710 646h3M668 622h3M635 663h3M667 685h3M734 659h3M664 651h3M666 613h3M632 604h3M651 629h3M682 613h3M624 645h3M715 687h3M663 631h3M672 670h3M674 662h3M727 654h3M649 647h3M696 616h3M625 635h3M648 672h3M716 658h3M735 665h3M694 659h3M611 659h3M641 668h3M694 663h3M682 659h3M743 648h3M679 669h3M684 675h3M602 672h3M688 663h3M661 668h3M684 625h3M712 627h3M654 659h3M640 664h3M638 638h3M723 636h3M684 649h3M643 639h3M635 675h3M727 663h3M736 643h3M715 635h3M682 661h3M707 637h3M624 636h3M697 620h3M711 622h3M640 648h3M694 657h3M638 627h3M653 659h3M708 664h3M696 661h3M644 644h3M608 651h3M629 653h3M629 646h3M726 650h3M622 689h3M672 648h3M724 665h3M667 623h3M681 616h3M746 667h3M709 667h3M624 634h3M660 644h3M690 662h3M660 664h3M743 652h3M722 629h3M630 648h3M740 660h3M732 639h3M719 659h3M616 660h3M709 634h3M716 637h3M647 632h3M639 645h3M691 665h3M686 605h3M634 677h3M696 655h3M715 649h3M697 640h3M713 634h3M686 660h3M690 673h3M744 669h3M638 643h3M744 666h3M696 673h3M616 656h3M617 647h3M662 660h3M624 651h3M737 657h3M617 666h3M728 633h3M618 692h3M718 617h3M690 682h3M632 643h3M735 669h3M635 614h3M654 615h3M691 661h3M728 673h3M654 630h3M602 672h3M627 650h3M635 612h3M735 660h3M698 632h3M674 673h3M685 662h3M660 632h3M687 661h3M659 664h3M677 661h3M654 618h3M630 677h3M654 620h3M703 652h3M628 633h3M728 681h3M648 659h3M665 632h3M679 634h3M639 633h3M638 651h3M678 653h3M642 631h3M640 620h3M683 632h3M697 696h3M742 651h3M663 659h3M755 655h3M752 657h3M749 654h3" stroke="#eadab6"/>
<path d="M709 703h3M658 694h3M695 698h3M643 693h3M661 692h3M695 695h3M659 720h3M660 725h3M725 710h3M690 713h3M664 705h3M702 718h3M707 709h3M719 694h3M652 718h3M660 705h3M665 730h3M684 721h3M737 693h3M647 707h3M704 703h3M651 725h3M694 722h3M626 699h3M718 696h3M693 723h3M620 702h3M655 680h3M649 712h3M691 684h3M666 676h3M638 708h3M695 722h3M667 718h3M625 703h3M666 686h3M638 715h3M610 680h3M661 720h3M620 683h3M642 701h3M712 698h3M676 705h3M682 726h3M720 694h3M715 707h3M684 722h3M658 712h3M653 699h3M711 684h3M695 701h3M713 713h3M635 695h3M692 696h3M700 712h3M680 697h3M670 726h3M631 709h3M639 712h3M730 699h3M655 717h3M711 718h3M651 721h3M691 690h3M629 707h3M702 718h3M647 713h3M697 720h3M655 725h3M652 700h3M662 723h3M695 721h3M692 726h3M663 691h3M646 706h3M661 708h3M669 728h3M702 723h3M693 719h3M700 723h3M670 722h3M656 686h3M646 701h3M678 719h3M649 713h3M708 716h3M656 725h3" stroke="#9c6015"/>
<path d="M696 639h3M708 657h3M668 622h3M708 661h3M733 634h3M646 639h3M679 642h3M681 648h3M692 658h3M727 643h3M684 659h3M696 635h3M660 640h3M698 602h3M675 663h3M679 622h3M680 661h3M645 641h3M723 637h3M642 618h3M619 641h3M654 632h3M661 681h3M629 613h3M696 643h3M716 663h3M674 644h3M658 637h3M653 623h3M663 639h3M693 649h3M701 613h3M661 675h3M715 620h3M655 646h3M647 655h3M647 657h3M703 665h3M641 659h3M709 644h3M722 631h3M683 591h3M656 635h3M616 662h3M744 658h3M686 657h3M675 655h3M628 613h3M680 656h3M713 629h3M671 596h3M710 649h3M737 650h3M646 648h3M633 692h3M636 625h3M676 644h3M660 666h3M683 632h3M656 603h3M627 632h3M642 625h3M681 599h3M678 659h3M674 641h3M653 634h3M737 634h3M662 661h3M719 615h3M668 622h3M653 632h3M681 615h3M643 656h3M711 662h3M709 631h3M601 675h3M663 587h3M689 618h3M690 619h3M635 595h3M688 618h3M732 665h3M679 674h3M679 650h3M707 613h3M689 661h3M727 622h3M656 654h3M678 607h3M675 642h3M636 595h3M727 624h3M678 651h3M701 640h3M690 642h3M686 614h3M708 635h3M637 625h3M698 615h3M710 652h3M711 633h3M640 625h3M709 645h3M731 656h3M707 642h3M629 637h3M690 621h3M683 672h3M705 636h3M716 645h3M663 644h3M731 657h3M634 630h3M684 647h3M686 597h3M662 603h3M660 665h3M735 643h3M622 651h3M708 669h3M649 637h3M703 648h3M714 646h3M686 665h3M654 655h3M668 606h3M644 631h3M707 635h3M634 627h3M677 665h3M664 644h3M713 665h3M693 632h3M717 648h3M712 614h3M734 644h3M707 634h3M698 664h3M714 651h3M694 619h3M715 614h3M630 659h3M654 631h3M675 593h3M656 637h3M734 678h3M679 667h3M683 652h3M627 637h3M672 653h3M639 619h3M715 664h3M611 653h3M721 633h3M739 647h3M650 650h3M683 612h3M696 665h3M629 630h3M714 650h3M629 616h3M670 681h3M736 646h3M620 649h3M706 652h3M676 592h3M631 632h3M654 635h3M691 647h3M664 616h3M676 631h3M687 669h3M637 598h3M736 648h3M743 660h3M710 656h3M724 633h3M639 612h3M616 658h3M675 644h3M713 648h3M625 646h3M710 636h3M678 609h3M626 632h3M722 656h3M694 650h3M656 632h3M618 645h3M670 640h3M698 635h3M736 646h3M710 618h3M679 667h3M650 683h3M642 667h3M666 673h3M623 643h3M654 635h3M712 622h3M647 649h3M646 655h3M696 658h3M702 639h3M735 650h3M631 621h3M646 618h3M662 665h3M668 632h3M642 606h3M670 608h3M712 614h3M694 653h3M660 634h3M619 657h3M708 638h3M646 664h3M669 645h3M711 625h3M704 647h3M646 666h3M658 612h3M752 656h3" stroke="#f5f5f5"/>
<path d="M690 674h3M609 679h3M659 703h3M731 687h3M664 703h3M602 666h3M709 714h3M656 654h3M710 668h3M666 705h3M624 698h3M724 691h3M736 660h3M634 667h3M705 690h3M730 672h3M651 681h3M653 657h3M619 691h3M691 705h3M632 696h3M645 657h3M613 693h3M736 691h3M640 679h3M654 682h3M720 702h3M638 693h3M687 706h3M634 678h3M739 668h3M650 698h3M664 690h3M655 679h3M650 695h3M633 673h3M669 663h3M733 700h3M641 674h3M617 688h3M634 670h3M700 677h3M643 701h3M633 696h3M679 697h3M638 693h3M734 693h3M606 683h3M691 686h3M619 691h3M705 717h3M683 668h3M655 653h3M653 718h3M651 703h3M700 687h3M672 696h3M706 698h3M719 681h3M639 688h3M623 677h3M675 688h3M630 689h3M632 676h3M653 690h3M702 688h3M671 662h3M646 714h3M631 649h3M620 672h3M676 699h3M671 711h3M658 653h3M654 674h3M646 695h3M704 693h3M606 685h3M650 645h3M709 673h3M694 700h3M723 674h3M662 660h3M687 703h3M646 648h3M639 699h3M637 685h3M618 672h3M640 661h3M728 668h3M608 694h3M712 705h3M668 686h3M720 689h3M716 711h3M687 677h3M641 666h3M614 680h3M736 685h3M685 685h3M673 675h3M714 692h3M704 689h3M690 697h3M636 673h3M680 672h3M684 674h3M605 670h3M712 668h3M685 673h3M731 678h3M676 687h3M680 698h3M683 694h3M683 686h3M685 694h3M629 697h3M698 703h3M690 726h3M623 684h3M730 702h3M607 667h3M639 677h3M672 680h3M722 678h3M695 677h3M744 672h3M638 668h3M615 676h3M664 710h3M666 707h3M730 687h3M646 659h3M723 692h3M694 657h3M686 675h3M697 722h3M671 704h3M633 688h3M647 694h3M705 700h3M668 730h3M604 657h3M636 670h3M608 663h3M735 680h3M669 686h3M688 695h3M617 647h3M662 690h3M634 701h3M671 717h3M673 714h3M602 682h3M695 690h3M673 702h3M698 690h3M726 686h3M706 692h3M629 684h3M614 670h3M640 665h3M641 683h3M617 697h3M630 686h3M608 687h3M683 677h3M687 682h3M617 670h3M663 674h3M716 680h3M711 673h3M723 709h3M715 674h3M688 662h3M674 700h3M657 699h3M678 682h3M662 697h3M710 662h3M706 692h3M741 684h3M632 648h3M621 667h3M650 684h3M724 705h3M739 648h3M629 684h3M644 687h3M687 701h3M668 699h3M682 704h3M654 693h3M650 692h3M724 696h3M618 686h3M731 673h3M624 671h3M734 697h3M624 671h3M722 677h3M656 696h3M722 705h3M734 691h3M612 677h3M608 684h3M717 706h3M655 688h3M700 680h3M632 668h3M704 701h3M629 707h3M652 679h3M613 678h3M702 710h3M684 697h3M643 690h3M635 670h3M707 710h3M726 696h3M671 697h3M710 713h3M646 682h3M637 706h3M706 711h3M643 716h3M681 657h3M641 699h3M666 700h3M643 656h3M672 724h3M657 672h3M681 693h3M659 688h3M634 682h3M633 684h3M613 680h3M647 716h3M706 699h3M740 675h3M654 661h3M677 698h3M739 676h3M633 681h3M636 698h3M715 694h3M682 676h3M738 690h3M739 672h3M712 674h3M719 639h3M702 674h3M638 687h3M630 673h3M714 679h3M747 655h3M755 655h3M752 656h3" stroke="#c89343"/>
<path d="M689 648h3M667 719h3M628 647h3M719 655h3M731 667h3M682 658h3M725 667h3M648 652h3M637 642h3M622 653h3M616 648h3M609 667h3M679 664h3M683 661h3M625 642h3M686 667h3M727 673h3M645 684h3M671 644h3M653 671h3M681 662h3M603 673h3M685 680h3M623 674h3M639 671h3M608 687h3M648 639h3M651 613h3M626 653h3M696 656h3M724 641h3M633 655h3M701 677h3M723 694h3M669 683h3M688 660h3M722 656h3M625 640h3M647 678h3M705 650h3M636 644h3M628 633h3M687 665h3M628 663h3M722 661h3M608 662h3M644 632h3M694 675h3M637 654h3M631 644h3M642 672h3M626 634h3M676 655h3M736 668h3M679 629h3M685 680h3M662 642h3M695 614h3M691 691h3M693 651h3M632 636h3M642 667h3M659 679h3M614 667h3M624 652h3M689 678h3M612 679h3M687 659h3M630 649h3M695 629h3M618 665h3M656 643h3M619 679h3M718 615h3M643 646h3M711 687h3M719 694h3M645 650h3M653 653h3M731 686h3M643 645h3M684 642h3M717 658h3M604 654h3M717 656h3M672 696h3M707 637h3M743 685h3M645 674h3M647 683h3M628 655h3M604 667h3M716 623h3M696 670h3M686 666h3M609 661h3M653 648h3M664 673h3M733 672h3M680 635h3M693 661h3M670 679h3M707 666h3M637 653h3M724 635h3M662 672h3M677 661h3M693 654h3M719 654h3M680 625h3M613 647h3M718 658h3M640 674h3M643 677h3M721 634h3M712 671h3M651 656h3M626 651h3M723 667h3M720 664h3M611 666h3M713 635h3M697 682h3M680 685h3M700 672h3M716 666h3M698 636h3M645 653h3M618 689h3M684 658h3M637 668h3M679 682h3M651 660h3M742 650h3M701 639h3M712 659h3M647 660h3M677 657h3M621 677h3M724 678h3M670 668h3M672 661h3M672 607h3M605 677h3M700 680h3M659 639h3M670 653h3M646 660h3M631 663h3M716 672h3M649 660h3M703 664h3M610 659h3M707 666h3M623 639h3M644 679h3M629 634h3M642 668h3M636 664h3M671 662h3M646 674h3M740 672h3M724 670h3M613 685h3M689 655h3M664 661h3M684 649h3M643 649h3M643 673h3M664 680h3M676 684h3M690 649h3M684 675h3M674 690h3M730 646h3M656 630h3M724 622h3M718 618h3M703 682h3M723 668h3M717 680h3M743 673h3M616 663h3M664 654h3M696 699h3M712 658h3M616 689h3M662 649h3M603 674h3M723 656h3M703 669h3M707 668h3M690 680h3M625 632h3M616 677h3M619 646h3M724 673h3M739 660h3M662 633h3M633 650h3M708 674h3M670 680h3M701 659h3M642 638h3M735 646h3M642 639h3M715 650h3M623 633h3M646 648h3M685 685h3M641 646h3M668 699h3M716 665h3M744 671h3M603 658h3M630 635h3M602 654h3M691 642h3M663 673h3M656 689h3M709 663h3M659 657h3M625 648h3M722 667h3M742 659h3M623 644h3M747 654h3M749 655h3" stroke="#dec07b"/>
<path d="M601 673h3M695 723h3M676 710h3M732 690h3M670 681h3M675 687h3M662 729h3M616 647h3M617 701h3M677 686h3M642 691h3M615 677h3M698 697h3M684 678h3M696 699h3M684 696h3M674 686h3M716 681h3M680 690h3M729 682h3M700 699h3M696 687h3M718 697h3M604 688h3M682 728h3M618 688h3M735 672h3M712 721h3M641 691h3M696 709h3M600 664h3M646 704h3M695 699h3M684 704h3M729 699h3M734 678h3M736 691h3M636 705h3M628 684h3M652 689h3M682 663h3M647 694h3M623 671h3M688 711h3M656 693h3M718 706h3M650 685h3M634 682h3M643 703h3M643 711h3M719 702h3M633 681h3M720 688h3M640 692h3M661 681h3M655 648h3M644 692h3M739 683h3M707 709h3M648 652h3M682 703h3M741 685h3M643 711h3M696 696h3M718 692h3M716 702h3M670 686h3M738 666h3M638 673h3M708 693h3M641 701h3M717 707h3M712 703h3M663 688h3M607 683h3M695 679h3M692 715h3M730 693h3M699 705h3M715 713h3M662 725h3M692 677h3M666 695h3M693 678h3M684 684h3M668 679h3M723 673h3M633 687h3M731 702h3M620 694h3M665 686h3M678 704h3M662 711h3M718 677h3M694 682h3M634 676h3M729 681h3M714 696h3M624 704h3M696 679h3M733 678h3M731 689h3M722 697h3M714 704h3M657 700h3M726 673h3M727 684h3M674 718h3M610 686h3M616 676h3M617 662h3M715 683h3M676 697h3M718 702h3M736 690h3M633 707h3M670 698h3M697 723h3M700 698h3M617 664h3M734 698h3M707 669h3M720 681h3M738 687h3M700 699h3M705 692h3M652 692h3M712 690h3M672 696h3M715 688h3M677 700h3M664 718h3M683 723h3M667 728h3M633 650h3M624 696h3M718 667h3M624 682h3M656 703h3M718 715h3M701 692h3M649 702h3M641 664h3M641 705h3M673 693h3M682 664h3M726 702h3M676 725h3M631 666h3M601 668h3M637 690h3M626 675h3M614 681h3M611 684h3M738 667h3M691 673h3M630 700h3M634 709h3M615 665h3M703 679h3M649 698h3M620 681h3M714 701h3M685 702h3M648 703h3M710 688h3M672 687h3M666 705h3M614 682h3M658 697h3M709 713h3M636 686h3M627 637h3M605 683h3M700 690h3M715 686h3M602 655h3M647 692h3M622 646h3M671 710h3M683 716h3M684 716h3M663 705h3M641 692h3M731 699h3M617 703h3M606 657h3M636 695h3M616 702h3M634 639h3M697 713h3M671 711h3M639 689h3M663 699h3M656 705h3M635 682h3M716 703h3M647 681h3M615 685h3M705 704h3M610 651h3M639 680h3M728 671h3M695 703h3M609 684h3M699 689h3M710 675h3M674 677h3M677 695h3M610 697h3M706 707h3M736 690h3M719 709h3M634 707h3M695 710h3M684 678h3M654 722h3M606 691h3" stroke="#bc7e2b"/>
<path d="M673 615h3M705 611h3M688 611h3M636 610h3M679 646h3M707 623h3M635 614h3M719 661h3M641 606h3M727 654h3M683 626h3M708 631h3M714 639h3M666 668h3M681 617h3M717 618h3M696 661h3M637 604h3M671 627h3M654 622h3M661 640h3M672 605h3M703 617h3M655 589h3M705 616h3M648 607h3M679 599h3M711 630h3M697 641h3M687 602h3M705 607h3M708 607h3M669 658h3M703 633h3M671 629h3M715 619h3M661 624h3M639 618h3M652 616h3M633 626h3M656 598h3M696 629h3M670 631h3M690 604h3M706 634h3M667 592h3M658 634h3M650 623h3M689 617h3M661 616h3M709 651h3M690 629h3M669 629h3M719 620h3M663 602h3M691 621h3M696 624h3M626 616h3M656 631h3M711 616h3M656 597h3M673 635h3M655 607h3M731 640h3M672 611h3M725 630h3M653 617h3M721 648h3M723 620h3M675 633h3M714 627h3M670 611h3M632 614h3M680 621h3M693 600h3M662 602h3M693 625h3M718 620h3M700 628h3M712 614h3M725 622h3M668 602h3M675 619h3M719 616h3M665 617h3M701 628h3M723 623h3M637 598h3M656 584h3M728 640h3M694 643h3M703 619h3M680 627h3M652 601h3M668 606h3M671 597h3M677 658h3M648 602h3M650 610h3M638 608h3M710 631h3M662 589h3M678 597h3M701 612h3M652 607h3M651 600h3M689 618h3M681 639h3M669 613h3M690 639h3M646 619h3M700 634h3M672 613h3M652 636h3M646 625h3M644 615h3M696 603h3M630 612h3M663 605h3M652 621h3M637 621h3M675 621h3M733 642h3M628 609h3M667 598h3M674 625h3M740 651h3M641 619h3M652 617h3M683 641h3M671 634h3M717 618h3M723 649h3M679 602h3M654 623h3M670 592h3M739 660h3M721 619h3M706 613h3M638 601h3M728 644h3M675 631h3M655 623h3M696 610h3M673 606h3M663 634h3M664 598h3M702 612h3M681 619h3M665 624h3M652 626h3M662 613h3M674 598h3M695 623h3M641 614h3M678 645h3M659 614h3M647 588h3M636 603h3M724 634h3M728 638h3M636 630h3M692 606h3M678 594h3M679 597h3M646 591h3M667 590h3M668 623h3M695 605h3M712 651h3M718 619h3M719 634h3M653 608h3M716 637h3M674 614h3M628 607h3M670 619h3M651 618h3M679 622h3M701 608h3M646 596h3M656 632h3M672 598h3M647 596h3M672 605h3M661 628h3M665 607h3M687 631h3M671 592h3M669 597h3M684 618h3M648 598h3M657 633h3M673 614h3" stroke="#7eccc0"/>
<path d="M649 683h3M701 706h3M696 722h3M697 679h3M677 698h3M670 699h3M716 710h3M644 701h3M712 690h3M700 701h3M690 721h3M671 729h3M645 703h3M663 723h3M670 730h3M649 709h3M723 708h3M665 721h3M687 721h3M677 711h3M669 696h3M659 724h3M638 684h3M654 697h3M701 706h3M682 728h3M635 704h3M629 678h3M642 713h3M643 688h3M656 692h3M714 691h3M639 704h3M664 714h3M733 675h3M649 693h3M685 727h3M710 706h3M707 698h3M672 729h3M656 720h3M666 681h3M632 700h3M642 705h3M692 714h3M703 688h3M706 687h3M712 698h3M695 726h3M659 713h3M684 713h3M693 708h3M689 714h3M720 678h3M677 705h3M609 685h3M694 716h3M672 701h3M706 690h3M723 710h3M609 690h3M704 683h3M664 705h3M642 707h3M665 711h3M695 702h3M637 691h3M637 714h3M638 699h3M659 700h3M664 702h3M645 688h3M717 699h3M726 693h3M649 692h3M644 702h3M716 695h3M610 695h3M692 707h3M653 697h3M660 686h3M690 693h3M655 712h3M666 706h3M611 692h3M604 687h3M699 678h3M688 725h3M709 715h3M702 704h3M700 722h3M723 695h3M641 681h3M712 690h3M666 698h3M635 694h3M716 695h3M645 682h3M706 722h3M734 686h3M720 700h3M698 700h3M727 685h3M628 688h3M719 678h3M685 711h3M667 705h3M665 720h3M703 683h3M679 714h3M738 687h3M644 700h3M728 700h3M668 679h3M656 722h3M661 718h3M702 687h3M666 685h3M637 709h3M677 721h3M691 687h3M714 692h3M609 684h3M617 675h3M686 719h3M696 725h3M722 712h3M668 711h3M724 702h3M697 699h3M680 699h3M606 689h3M678 708h3M694 691h3M607 685h3M710 704h3M693 689h3M713 707h3M708 695h3M700 707h3M730 696h3M663 693h3M620 686h3M610 678h3M681 688h3M721 709h3M693 718h3M621 670h3M657 720h3M709 718h3M646 719h3M685 709h3M720 715h3M708 711h3M669 711h3M662 707h3M625 705h3" stroke="#ac6f20"/>
<path d="M658 670h3M657 668h3M651 665h3M658 662h3M654 671h3M719 617h3M654 663h3M658 662h3M659 664h3M648 668h3M648 669h3M658 665h3M657 667h3M655 670h3M673 595h3M649 663h3" stroke="#22857d"/>
<path d="M675 629h3M672 607h3M647 609h3M655 624h3M669 611h3M645 629h3M655 636h3M646 597h3M631 616h3M685 617h3M627 615h3M674 638h3M646 591h3M689 615h3M661 630h3M699 612h3M654 628h3M662 602h3M684 595h3M677 599h3M686 651h3M638 597h3M707 640h3M688 619h3M674 615h3M649 603h3M643 619h3M676 610h3M723 639h3M718 662h3M724 619h3M649 590h3M657 622h3M715 621h3M690 594h3M650 602h3M672 626h3M685 629h3M657 598h3M654 584h3M657 621h3M650 596h3M693 634h3M655 609h3M635 604h3M670 589h3M629 611h3M719 624h3M684 632h3M683 610h3M689 603h3M646 590h3M687 606h3M662 591h3M647 607h3M648 587h3M709 613h3M665 604h3M677 643h3M651 593h3M717 614h3M643 605h3M671 608h3M703 638h3M692 624h3M674 598h3M729 624h3M712 631h3M661 597h3M688 592h3M662 590h3M679 607h3M644 605h3M676 629h3M667 625h3M655 629h3M658 583h3M685 613h3M714 615h3M648 589h3M666 592h3M715 615h3M675 647h3M671 621h3M630 609h3M629 606h3M638 604h3M670 637h3M659 612h3M693 609h3M653 614h3M709 609h3M676 616h3M661 629h3M653 593h3M640 636h3M678 624h3M679 616h3M682 597h3M677 604h3M702 605h3M681 614h3M664 593h3M705 617h3M637 593h3M650 603h3M681 593h3M694 620h3M665 587h3M645 608h3M687 610h3M666 595h3M735 643h3M661 624h3M686 632h3" stroke="#64b9ae"/>
<path d="M646 703h3M647 722h3M695 724h3M719 699h3M703 713h3M646 720h3M658 725h3M670 725h3M689 727h3M695 718h3M691 725h3M642 716h3M667 729h3M701 718h3M690 720h3M672 729h3M668 713h3M673 692h3M659 723h3M692 721h3M656 728h3M635 702h3M682 691h3M690 680h3M699 714h3M681 717h3M672 728h3M663 726h3M662 729h3M683 726h3M700 709h3M681 722h3M669 730h3M655 722h3M673 725h3M663 721h3M693 717h3M687 716h3M671 728h3M674 724h3M652 723h3M720 714h3M661 710h3M672 727h3M672 727h3M707 720h3M656 717h3M647 714h3M678 726h3M652 726h3M675 702h3M621 702h3M678 727h3M692 725h3M682 725h3M665 691h3M650 724h3M659 706h3M665 716h3M682 716h3M659 706h3M705 708h3M724 702h3M702 715h3M712 717h3M721 703h3M662 729h3M710 715h3" stroke="#8c510a"/>
<path d="M655 598h3M713 631h3M694 604h3M648 588h3M655 613h3M654 603h3M711 619h3M703 615h3M655 620h3M653 610h3M687 599h3M730 631h3M693 609h3M651 598h3M657 604h3M686 593h3M685 596h3M701 612h3M674 637h3M696 604h3M631 602h3M674 621h3M660 593h3M682 630h3M693 628h3M678 594h3M688 598h3M678 620h3M670 609h3M665 613h3M685 599h3M668 588h3" stroke="#4aa69d"/>
<path d="M666 599h3M707 609h3M658 593h3M650 601h3M667 587h3M666 595h3M633 611h3" stroke="#32948c"/>
<path d="M640 624h3" stroke="#11756d"/>
</g>
<rect x="384" y="321.2" width="6.3" height="18.2" fill="url(#gi)"/>
<text x="391.5" y="310.4" font-size="7" text-anchor="middle" fill="#333" stroke="#333" stroke-width="0.16">log<tspan font-size="4.2" dy="1.5">10</tspan></text>
<text x="391.5" y="318.6" font-size="7" text-anchor="middle" fill="#333" stroke="#333" stroke-width="0.16">counts/bin</text>
<text x="392" y="326.7" font-size="7" fill="#333" stroke="#333" stroke-width="0.16">3.0</text>
<text x="392" y="336.8" font-size="7" fill="#333" stroke="#333" stroke-width="0.16">1.0</text>
<text x="410" y="273.5" font-size="9" font-weight="bold" fill="#231f20">j</text>
<line x1="436.2" y1="280.1" x2="436.2" y2="368.6" stroke="#231f20" stroke-width="0.7"/>
<line x1="436.2" y1="368.6" x2="521" y2="368.6" stroke="#231f20" stroke-width="0.7"/>
<line x1="434.4" y1="289.1" x2="436.2" y2="289.1" stroke="#231f20" stroke-width="0.6"/>
<text x="433.8" y="291.6" font-size="7" text-anchor="end" fill="#333" stroke="#333" stroke-width="0.16">50</text>
<line x1="434.4" y1="309.6" x2="436.2" y2="309.6" stroke="#231f20" stroke-width="0.6"/>
<text x="433.8" y="312.1" font-size="7" text-anchor="end" fill="#333" stroke="#333" stroke-width="0.16">25</text>
<line x1="434.4" y1="330.1" x2="436.2" y2="330.1" stroke="#231f20" stroke-width="0.6"/>
<text x="433.8" y="332.6" font-size="7" text-anchor="end" fill="#333" stroke="#333" stroke-width="0.16">0</text>
<line x1="434.4" y1="350.6" x2="436.2" y2="350.6" stroke="#231f20" stroke-width="0.6"/>
<text x="433.8" y="353.1" font-size="7" text-anchor="end" fill="#333" stroke="#333" stroke-width="0.16">−25</text>
<line x1="455.2" y1="368.6" x2="455.2" y2="370.4" stroke="#231f20" stroke-width="0.6"/>
<text x="455.2" y="377.3" font-size="7" text-anchor="middle" fill="#333" stroke="#333" stroke-width="0.16">-25</text>
<line x1="477.1" y1="368.6" x2="477.1" y2="370.4" stroke="#231f20" stroke-width="0.6"/>
<text x="477.1" y="377.3" font-size="7" text-anchor="middle" fill="#333" stroke="#333" stroke-width="0.16">0</text>
<line x1="499" y1="368.6" x2="499" y2="370.4" stroke="#231f20" stroke-width="0.6"/>
<text x="499" y="377.3" font-size="7" text-anchor="middle" fill="#333" stroke="#333" stroke-width="0.16">25</text>
<line x1="520.9" y1="368.6" x2="520.9" y2="370.4" stroke="#231f20" stroke-width="0.6"/>
<text x="520.9" y="377.3" font-size="7" text-anchor="middle" fill="#333" stroke="#333" stroke-width="0.16">50</text>
<text x="476.6" y="282.4" font-size="7" font-weight="bold" text-anchor="middle" fill="#231f20">H3K27me3</text>
<text x="480.6" y="386.2" font-size="7" text-anchor="middle" fill="#333" stroke="#333" stroke-width="0.16"><tspan font-style="italic">t</tspan>-SNE 1</text>
<text x="422.4" y="330" font-size="7" text-anchor="middle" fill="#333" stroke="#333" stroke-width="0.16" transform="rotate(-90 422.4 330)"><tspan font-style="italic">t</tspan>-SNE 2</text>
<g transform="scale(.5)" fill="none" stroke-width="2.5">
<path d="M983 670h3M984 656h3M905 646h3M934 670h3M952 710h3M933 668h3M924 721h3M884 663h3M957 647h3M954 697h3M955 668h3M925 652h3M985 713h3M958 640h3M971 694h3M886 672h3M918 691h3M933 653h3M887 667h3M931 635h3M955 664h3M992 680h3M979 712h3M956 690h3M1011 659h3M966 713h3M987 635h3M920 637h3M927 640h3M926 708h3M1006 671h3M929 657h3M972 686h3M993 696h3M940 705h3M923 719h3M999 637h3M917 679h3M962 680h3M983 709h3M896 640h3M921 645h3M937 680h3M988 721h3M898 670h3M915 683h3M965 726h3M996 677h3M996 654h3M919 693h3M878 663h3M971 698h3M910 654h3M977 676h3M971 717h3M940 639h3M964 659h3M879 677h3M944 671h3M1011 690h3M960 720h3M981 650h3M969 649h3M943 728h3M947 641h3M962 650h3M923 654h3M924 707h3M998 679h3M1020 679h3M924 694h3M979 664h3M983 639h3M894 654h3M932 693h3M886 661h3M985 644h3M971 675h3M887 660h3M993 705h3M966 661h3M927 684h3M911 681h3M919 671h3M928 724h3M959 667h3M1019 659h3M916 668h3M986 705h3M956 655h3M982 698h3M917 691h3M939 641h3M986 649h3M922 700h3M921 692h3M985 666h3M919 705h3M930 689h3M925 652h3M923 713h3M1016 684h3M908 649h3M920 711h3M987 656h3M883 656h3M948 711h3M935 653h3M944 713h3M950 692h3M947 686h3M915 673h3M954 658h3M936 723h3M907 648h3M896 664h3M933 643h3M932 680h3M896 678h3M878 679h3M999 673h3M939 659h3M976 691h3M960 641h3M946 679h3M983 636h3M885 683h3M917 687h3M992 710h3M963 676h3M921 674h3M987 661h3M880 661h3M878 674h3M1005 692h3M918 665h3M975 714h3M920 651h3M990 691h3M971 701h3M943 695h3M917 664h3M940 673h3M916 676h3M915 715h3M960 666h3M905 656h3M966 696h3M887 680h3M1006 702h3M897 693h3M914 642h3M942 686h3M958 716h3M983 665h3M962 660h3M949 727h3M934 656h3M883 669h3M966 690h3M914 652h3M970 682h3M911 675h3M912 662h3M926 692h3M952 687h3M951 646h3M992 694h3M901 703h3M972 678h3M967 726h3M1006 702h3M885 666h3M916 677h3M934 700h3M1018 662h3M945 654h3M991 687h3M1019 672h3M889 677h3M887 686h3M998 667h3M966 692h3M968 675h3M916 660h3M892 676h3M881 664h3M985 651h3M975 677h3M989 672h3M924 693h3M994 702h3M985 645h3M976 721h3M944 643h3M924 671h3M935 711h3M991 657h3M955 643h3M913 670h3M1010 664h3M886 663h3M960 671h3M935 646h3M894 675h3M971 700h3M945 685h3M951 652h3M974 635h3M956 669h3M894 646h3M989 712h3M939 689h3M942 697h3M912 694h3M983 668h3M956 645h3M916 648h3M915 679h3M913 693h3M992 694h3M922 681h3M949 696h3M953 699h3M956 696h3M1019 676h3M879 682h3M947 726h3M948 727h3M985 661h3M959 660h3M1007 647h3M906 684h3M898 643h3M892 670h3M917 664h3M908 709h3M957 669h3M1000 677h3M901 682h3M886 687h3M924 687h3M1006 698h3M976 680h3M993 715h3M983 635h3M935 638h3M970 656h3M918 704h3M984 664h3M955 714h3M948 726h3M921 643h3M992 671h3M941 643h3M987 718h3M1016 680h3M928 721h3M883 655h3M914 690h3M900 639h3M991 673h3M964 661h3M959 656h3M934 678h3M932 721h3M955 682h3M978 686h3M923 674h3M907 648h3M891 684h3M967 672h3M907 699h3M942 684h3M892 665h3M999 704h3M949 652h3M894 660h3M889 652h3M937 680h3M962 702h3M959 659h3M902 670h3M986 692h3M991 648h3M890 666h3M943 704h3M933 696h3M981 676h3M924 635h3M889 677h3M976 690h3M998 711h3M908 631h3M929 725h3M891 645h3M886 688h3M991 650h3M894 662h3M973 698h3M952 702h3M954 644h3M948 709h3M895 665h3M929 678h3M917 635h3M918 692h3M970 640h3M960 696h3M923 706h3M912 670h3M986 704h3M894 702h3M986 636h3M1001 695h3M989 706h3M967 635h3M938 707h3M1006 697h3M1005 696h3M927 724h3M957 714h3M991 703h3M1008 690h3M988 650h3M972 662h3M969 718h3M918 699h3M929 648h3M926 682h3M971 702h3M950 673h3M976 723h3M949 724h3M941 695h3M911 682h3M891 679h3M924 715h3M947 722h3M960 698h3M924 648h3M982 646h3M931 660h3M972 657h3M922 678h3M978 638h3M936 705h3M923 647h3M910 681h3M918 646h3M985 717h3M977 683h3M1011 650h3M978 715h3M1014 672h3M995 709h3M905 684h3M1005 663h3M887 649h3M915 687h3M985 662h3M936 657h3M923 663h3M903 647h3M940 659h3M923 666h3M902 704h3M1015 641h3M1030 656h3M1026 655h3M1027 657h3M1024 653h3" stroke="#64b9ae"/>
<path d="M989 628h3M984 660h3M890 693h3M983 623h3M926 643h3M996 702h3M931 631h3M987 621h3M952 622h3M954 627h3M905 683h3M932 626h3M984 615h3M965 619h3M927 633h3M946 631h3M982 633h3M920 710h3M934 634h3M989 629h3M933 719h3M951 687h3M967 621h3M931 673h3M969 708h3M950 635h3M977 652h3M971 629h3M929 634h3M1012 634h3M920 644h3M917 661h3M989 675h3M882 685h3M996 669h3M1011 685h3M966 619h3M988 614h3M886 661h3M1001 621h3M1003 624h3M977 632h3M988 697h3M915 695h3M969 707h3M966 627h3M997 634h3M1003 701h3M982 677h3M981 700h3M881 656h3M973 723h3M987 683h3M933 629h3M972 603h3M917 647h3M908 662h3M886 651h3M926 660h3M950 624h3M980 627h3M1009 643h3M990 614h3M932 669h3M994 621h3M995 658h3M940 680h3M923 688h3M952 631h3M928 639h3M947 636h3M894 675h3M945 710h3M952 631h3M987 657h3M999 632h3M993 617h3M920 689h3M1007 698h3M969 689h3M1013 640h3M986 712h3M940 698h3M957 693h3M936 631h3M910 683h3M907 677h3M958 625h3M930 628h3M970 652h3M937 633h3M1018 651h3M1030 657h3M1030 654h3" stroke="#dec07b"/>
<path d="M886 664h3M966 674h3M965 648h3M944 677h3M977 705h3M920 693h3M971 723h3M947 698h3M995 698h3M899 652h3M972 635h3M974 696h3M986 668h3M952 663h3M1001 709h3M966 721h3M987 672h3M981 689h3M928 680h3M1003 673h3M1009 643h3M942 667h3M890 692h3M978 717h3M987 668h3M946 695h3M1014 651h3M899 642h3M948 630h3M903 652h3M972 666h3M923 691h3M987 630h3M926 697h3M960 704h3M999 694h3M1006 680h3M912 704h3M1009 699h3M973 645h3M1003 643h3M928 689h3M919 712h3M940 632h3M938 674h3M977 717h3M932 646h3M960 641h3M970 671h3M955 697h3M941 713h3M930 670h3M915 693h3M963 665h3M918 658h3M951 666h3M915 660h3M1020 657h3M952 654h3M951 654h3M961 679h3M995 680h3M882 653h3M946 653h3M909 699h3M967 690h3M900 676h3M990 620h3M979 687h3M948 661h3M935 679h3M890 678h3M915 706h3M988 697h3M972 695h3M994 692h3M936 663h3M986 637h3M1013 665h3M954 704h3M881 673h3M964 702h3M947 667h3M916 699h3M958 670h3M993 707h3M982 690h3M993 675h3M939 653h3M980 683h3M988 704h3M919 706h3M954 621h3M924 683h3M958 690h3M892 679h3M942 711h3M938 724h3M971 721h3M925 638h3M956 673h3M956 650h3M969 676h3M980 689h3M957 634h3M961 672h3M934 631h3M939 671h3M897 683h3M957 697h3M944 685h3M1005 680h3M954 651h3M941 650h3M990 698h3M994 657h3M977 639h3M971 677h3M930 696h3M991 634h3M901 644h3M894 675h3M943 706h3M948 670h3M1006 686h3M996 663h3M951 661h3M962 695h3M888 692h3M932 722h3M1011 690h3M999 694h3M912 695h3M930 699h3M937 649h3M925 669h3M889 658h3M918 680h3M940 643h3M979 637h3M880 657h3M921 658h3M911 630h3M880 672h3M966 638h3M964 662h3M996 680h3M969 716h3M947 717h3M931 650h3M931 658h3M976 711h3M998 636h3M913 674h3M981 691h3M928 659h3M929 691h3M984 668h3M906 696h3M902 695h3M1002 685h3M1009 663h3M894 697h3M907 685h3M915 655h3M977 691h3M961 710h3M949 662h3M972 660h3M953 665h3M906 652h3M922 640h3M1014 686h3M910 653h3M1004 699h3M908 665h3M1021 666h3M998 709h3M903 674h3M983 720h3M931 656h3M1008 627h3M947 633h3M948 662h3M1015 659h3M909 647h3M959 652h3M955 726h3M899 667h3M906 683h3M953 721h3M967 687h3M961 629h3M880 683h3M953 684h3M989 700h3M958 703h3M999 695h3M902 642h3M916 645h3M1010 697h3M1014 647h3M968 726h3M967 672h3M958 618h3M1020 668h3M915 642h3M1009 690h3M972 673h3M946 680h3M933 673h3M992 679h3M1019 672h3M1012 656h3M898 701h3M955 707h3M1003 638h3M880 674h3M966 682h3M970 690h3M909 642h3M967 660h3M900 700h3M1003 672h3M903 632h3M959 725h3M896 645h3M914 705h3M912 682h3M883 655h3M939 692h3M891 652h3M904 649h3M975 634h3M884 678h3M981 703h3M955 667h3M941 716h3M926 708h3M886 683h3M878 674h3M1009 632h3M992 636h3M975 689h3M965 659h3M958 715h3M982 699h3M997 709h3M961 685h3M910 639h3M955 719h3M973 627h3M926 662h3M987 656h3M984 710h3M883 690h3M957 671h3M998 666h3M986 714h3M987 624h3M1010 643h3M1027 655h3" stroke="#b8e0da"/>
<path d="M985 703h3M972 638h3M886 679h3M1008 690h3M1000 667h3M973 678h3M912 692h3M940 702h3M880 665h3M961 658h3M935 719h3M892 676h3M882 661h3M917 686h3M991 710h3M972 699h3M937 725h3M936 639h3M948 728h3M922 652h3M1005 681h3M967 704h3M909 695h3M963 720h3M959 727h3M930 670h3M881 672h3M918 664h3M982 660h3M947 725h3M936 723h3M976 664h3M972 655h3M972 709h3M982 644h3M973 641h3M883 665h3M937 704h3M978 705h3M910 673h3M968 724h3M945 663h3M924 677h3M918 673h3M980 673h3M976 676h3M958 662h3M888 659h3M898 662h3M949 635h3M923 656h3M916 703h3M992 638h3M933 684h3M958 682h3M967 686h3M956 669h3M895 702h3M999 638h3M896 690h3M920 703h3M961 727h3M970 721h3M948 695h3M893 646h3M985 650h3M949 728h3M931 647h3M1013 650h3M942 681h3M969 714h3M958 702h3M900 653h3M897 671h3M969 722h3M924 641h3M923 695h3M966 714h3M920 650h3M920 636h3M927 644h3M967 683h3M906 651h3M946 652h3M932 650h3M930 652h3M947 662h3M886 690h3M942 672h3M995 688h3M939 661h3M905 654h3M1013 640h3M969 653h3M991 712h3M917 635h3M961 685h3M933 646h3M969 678h3M948 665h3M999 672h3M948 703h3M943 641h3M965 660h3M915 699h3M951 641h3M963 680h3M922 688h3M988 668h3M1009 665h3M959 685h3M1010 658h3M976 651h3M990 665h3M998 697h3M906 672h3M997 678h3M984 637h3M920 677h3M1001 672h3M958 726h3M915 668h3M996 694h3M931 711h3M984 634h3M940 709h3M970 656h3M920 697h3M948 704h3M910 687h3M978 703h3M961 722h3M952 643h3M981 635h3M976 698h3M970 663h3M938 667h3M968 695h3M914 668h3M963 715h3M960 648h3M920 638h3M1010 642h3M961 652h3M996 699h3M959 722h3M924 659h3M1003 684h3M962 656h3M916 711h3M960 677h3M995 677h3M932 716h3M938 709h3M946 652h3M950 644h3M930 658h3M944 705h3M983 693h3M958 663h3M963 681h3M1002 702h3M906 646h3M887 658h3M1012 635h3M921 700h3M939 674h3M983 666h3M1015 650h3M952 702h3M937 663h3M998 649h3M986 662h3M982 691h3M943 674h3M888 683h3M999 669h3M933 716h3M1015 659h3M924 714h3M920 672h3M927 683h3M929 700h3M925 697h3M904 637h3M953 643h3M963 700h3M960 674h3M926 691h3M950 690h3M967 664h3M971 721h3M974 639h3M902 671h3M972 664h3M963 660h3M934 696h3M972 724h3M985 713h3M998 705h3M1019 666h3M885 683h3M998 668h3M901 650h3M956 698h3M954 727h3M951 666h3M940 705h3M935 654h3M885 684h3M983 709h3M983 667h3M917 667h3M1010 668h3M894 701h3M966 679h3M932 704h3M881 669h3M971 649h3M924 681h3M936 705h3M892 684h3M954 674h3M916 680h3M957 645h3M977 658h3M918 638h3M958 688h3M986 675h3M1016 675h3M950 677h3M969 717h3M1014 676h3M922 700h3M981 708h3M962 708h3M991 693h3M916 633h3M915 650h3M1014 690h3M926 713h3M987 673h3M995 638h3M954 652h3M911 706h3M988 716h3M971 709h3M907 634h3M961 677h3M940 672h3M896 657h3M939 706h3M1022 655h3M1031 655h3M1022 653h3M1024 655h3" stroke="#4aa69d"/>
<path d="M935 694h3M923 702h3M971 697h3M1006 686h3M975 660h3M939 728h3M953 686h3M955 646h3M968 658h3M942 653h3M893 648h3M915 670h3M963 671h3M921 700h3M935 661h3M911 667h3M896 690h3M906 678h3M895 687h3M954 711h3M909 669h3M992 662h3M923 704h3M935 636h3M927 695h3M974 638h3M953 667h3M946 658h3M920 687h3M896 640h3M990 690h3M964 710h3M981 717h3M904 698h3M937 680h3M980 695h3M969 651h3M910 691h3M919 666h3M930 635h3M953 643h3M991 650h3M967 670h3M901 651h3M963 658h3M960 713h3M980 693h3M996 678h3M884 684h3M880 657h3M923 647h3M1006 638h3M988 702h3M995 694h3M922 649h3M965 661h3M968 721h3M882 653h3M1008 699h3M968 714h3M972 670h3M962 665h3M943 717h3M945 678h3M914 713h3M913 701h3M941 701h3M957 672h3M960 674h3M993 699h3M940 725h3M921 701h3M1008 677h3M887 694h3M948 680h3M936 685h3M943 706h3M989 634h3M964 724h3M956 685h3M895 663h3M961 658h3M1013 686h3M977 698h3M937 665h3M942 701h3M991 687h3M926 636h3M1009 685h3M974 699h3M988 658h3M949 701h3M933 703h3M946 689h3M964 688h3M1009 641h3M899 689h3M886 653h3M890 687h3M967 690h3M992 679h3M987 672h3M901 633h3M966 662h3M1019 652h3M989 651h3M941 692h3M961 649h3M979 678h3M1015 647h3M921 686h3M966 649h3M1005 645h3M886 683h3M926 649h3M940 690h3M941 685h3M976 679h3M941 654h3M1000 701h3M972 699h3M894 688h3M1011 647h3M938 648h3M1018 660h3M893 658h3M884 656h3M947 697h3M950 645h3M948 701h3M886 663h3M1011 659h3M1012 645h3M910 649h3M888 650h3M900 643h3M982 659h3M945 699h3M890 653h3M913 697h3M1000 701h3M896 695h3M1020 670h3M887 696h3M946 711h3M979 641h3M907 672h3" stroke="#32948c"/>
<path d="M878 673h3M925 683h3M995 655h3M955 692h3M955 641h3M973 642h3M1002 636h3M943 704h3M928 664h3M922 702h3M902 642h3M976 699h3M984 630h3M994 693h3M948 627h3M972 643h3M912 656h3M972 621h3M933 692h3M920 700h3M913 643h3M971 666h3M998 660h3M998 631h3M980 702h3M997 632h3M930 717h3M953 632h3M976 686h3M1015 682h3M907 689h3M972 623h3M936 665h3M965 677h3M932 630h3M991 714h3M950 641h3M961 628h3M984 692h3M926 711h3M999 709h3M956 620h3M910 686h3M888 687h3M1011 665h3M994 619h3M976 627h3M960 631h3M954 704h3M947 634h3M937 720h3M919 701h3M956 624h3M960 726h3M917 635h3M966 684h3M913 656h3M954 658h3M903 651h3M894 662h3M954 643h3M926 646h3M987 632h3M973 721h3M950 725h3M983 642h3M945 730h3M966 620h3M944 709h3M983 658h3M918 667h3M884 662h3M991 634h3M961 624h3M997 673h3M956 682h3M1017 649h3M988 690h3M900 651h3M940 718h3M924 630h3M901 635h3M953 628h3M942 720h3M979 683h3M969 631h3M985 666h3M951 699h3M921 679h3M969 639h3M955 667h3M911 709h3M897 680h3M924 632h3M924 632h3M969 628h3M957 618h3M911 677h3M988 633h3M998 677h3M962 664h3M931 634h3M967 647h3M968 724h3M890 678h3M979 669h3M955 623h3M1009 683h3M916 689h3M938 632h3M947 639h3M994 619h3M897 686h3M942 672h3M922 654h3M905 633h3M901 632h3M923 653h3M899 670h3M992 664h3M955 634h3M933 633h3M939 728h3M963 631h3" stroke="#f5f5f5"/>
<path d="M950 615h3M924 600h3M924 609h3M972 615h3M931 623h3M946 610h3M990 616h3M904 618h3M907 632h3M912 613h3M940 601h3M918 606h3M973 610h3M924 587h3M925 588h3M919 618h3M910 618h3M961 616h3M906 612h3M931 603h3M931 588h3M911 618h3M963 601h3M947 599h3M930 609h3M938 601h3M960 594h3M977 613h3M954 598h3M963 599h3M937 623h3M926 602h3M916 618h3M920 618h3M950 591h3M905 612h3M917 608h3M926 622h3M943 599h3M948 595h3M903 616h3M963 616h3M933 602h3M918 629h3M932 596h3M928 597h3M927 601h3M932 606h3M948 610h3M929 616h3M933 621h3M927 595h3M960 596h3M985 630h3M917 624h3M958 595h3M906 611h3M911 598h3M962 593h3M946 604h3M914 597h3M922 590h3M924 587h3M963 605h3M959 612h3M945 606h3M961 615h3M921 608h3M924 606h3M924 586h3M942 603h3M928 593h3M926 615h3M954 596h3M928 607h3M928 599h3M948 607h3M945 612h3M923 624h3M938 597h3M964 592h3M921 615h3M964 599h3M907 611h3M940 604h3M954 596h3M929 614h3M929 621h3M914 621h3M915 626h3M905 608h3M908 602h3M911 626h3M944 598h3M904 625h3M961 612h3M932 589h3M943 592h3M930 623h3M948 621h3M941 602h3M949 605h3M915 603h3M927 600h3M942 611h3M906 629h3M917 607h3M942 623h3M950 616h3M929 625h3M938 612h3M953 591h3M951 597h3M923 596h3M940 615h3M918 613h3M934 597h3M949 616h3M936 613h3M924 587h3M913 602h3M932 609h3M957 614h3M950 603h3M916 612h3M913 630h3M912 614h3M931 614h3M944 586h3M955 596h3M937 596h3M923 590h3M944 589h3M958 596h3M942 594h3M951 613h3M928 618h3M920 597h3M932 582h3M930 595h3M922 595h3M910 610h3M934 609h3M922 617h3M923 595h3M919 605h3M949 604h3M944 587h3M957 593h3M919 631h3M945 598h3M941 606h3M917 619h3M922 608h3M964 609h3M943 594h3M949 613h3M912 612h3M931 595h3M922 615h3" stroke="#9c6015"/>
<path d="M971 723h3M1009 633h3M951 687h3M982 629h3M893 658h3M960 695h3M950 686h3M960 661h3M947 730h3M989 630h3M1017 664h3M963 631h3M1010 671h3M915 692h3M987 618h3M950 637h3M937 629h3M1009 677h3M991 619h3M1005 630h3M1009 674h3M903 633h3M1000 618h3M945 628h3M994 695h3M983 708h3M984 631h3M971 699h3M1001 630h3M948 700h3M986 686h3M932 627h3M999 620h3M952 632h3M969 633h3M992 622h3M964 617h3M951 624h3M914 690h3M1003 622h3M933 654h3M999 622h3M999 634h3M890 647h3M906 696h3M956 626h3M990 704h3M953 704h3M978 665h3M987 678h3M939 631h3M974 614h3M991 682h3M999 691h3M985 613h3M986 631h3M881 686h3M1019 648h3M964 694h3M968 623h3M988 626h3M950 724h3M929 722h3M987 621h3M996 713h3M948 660h3M932 628h3M1010 626h3M952 724h3M963 618h3M979 663h3M949 647h3M983 633h3M906 634h3M920 648h3M997 618h3M999 621h3M958 622h3M879 654h3M947 697h3M972 623h3M1003 633h3M955 620h3M999 634h3M976 707h3M931 630h3M932 631h3M957 656h3M933 671h3M946 679h3M936 663h3M988 621h3M1010 645h3M991 618h3M933 686h3M933 631h3M939 664h3M945 631h3M964 630h3M930 633h3M963 622h3M1003 632h3" stroke="#eadab6"/>
<path d="M981 610h3M928 612h3M904 614h3M983 607h3M953 610h3M946 615h3M959 591h3M990 612h3M965 616h3M925 590h3M942 595h3M913 624h3M955 627h3M970 609h3M927 614h3M969 600h3M965 617h3M912 594h3M982 607h3M953 627h3M948 596h3M943 592h3M927 610h3M915 607h3M993 614h3M965 617h3M930 607h3M934 583h3M915 600h3M973 609h3M978 611h3M938 628h3M947 609h3M956 615h3M986 617h3M953 603h3M978 604h3M941 592h3M931 619h3M941 587h3M988 614h3M934 612h3" stroke="#bc7e2b"/>
<path d="M944 718h3M936 703h3M975 691h3M1007 666h3M958 657h3M894 646h3M894 701h3M930 676h3M938 692h3M978 668h3M914 641h3M975 705h3M977 666h3M979 650h3M940 700h3M961 677h3M902 697h3M976 700h3M940 722h3M998 708h3M962 666h3M922 684h3M948 643h3M942 720h3M882 687h3M922 657h3M930 653h3M911 683h3M957 662h3M934 724h3M900 674h3M911 648h3M964 664h3M885 687h3M918 690h3M938 639h3M911 678h3M985 665h3M952 670h3M984 686h3M1000 640h3M940 689h3M903 654h3M950 643h3M930 697h3M923 659h3M1004 699h3M937 689h3M931 678h3M959 728h3M942 729h3M945 683h3M913 705h3M902 639h3M1008 675h3M906 677h3M1012 692h3M894 687h3M919 715h3M991 618h3M1002 693h3M910 696h3M972 665h3M906 633h3M987 646h3M905 662h3M966 719h3M1009 692h3M883 683h3M914 654h3M926 692h3M908 643h3M893 661h3M994 661h3M932 653h3M928 702h3M983 697h3M995 701h3M1012 668h3M910 681h3M996 687h3M949 729h3M916 687h3M981 675h3M972 643h3M930 663h3M923 648h3M1002 668h3M909 676h3M909 636h3M978 687h3M935 657h3M982 687h3M971 725h3M881 667h3M973 639h3M934 662h3M953 698h3M1012 638h3M900 662h3M880 675h3M904 631h3M992 701h3M898 701h3M1004 686h3M886 685h3M985 672h3M970 716h3M1007 639h3M920 645h3M918 693h3M918 700h3M939 660h3M914 684h3M895 671h3M1006 685h3M933 727h3M1003 667h3M885 693h3M945 685h3M939 687h3M1018 684h3M1011 674h3M971 678h3M1010 674h3M893 672h3M920 655h3M940 636h3M942 675h3M915 707h3M912 640h3M998 668h3M966 680h3M881 666h3M902 702h3M901 679h3M950 674h3M990 670h3M960 683h3M930 648h3M943 686h3M910 686h3M893 682h3M969 661h3M946 678h3M939 710h3M1002 692h3M994 677h3M986 646h3M1007 678h3M954 660h3M960 693h3M969 653h3M970 643h3M989 696h3M1007 688h3M976 709h3M974 702h3M900 683h3M921 708h3M969 663h3M950 636h3M917 674h3M958 721h3M966 641h3M946 729h3M923 672h3M892 691h3M1002 683h3M950 718h3M988 670h3M928 656h3M960 681h3M914 643h3M923 658h3M951 714h3M952 697h3M889 666h3M962 674h3M974 681h3M903 634h3M991 707h3M910 706h3M981 671h3M976 671h3M940 721h3M1010 679h3M958 659h3M988 689h3M915 635h3M957 638h3M922 653h3M960 674h3M1009 697h3M934 665h3M1016 677h3M907 667h3M895 689h3M917 663h3M950 714h3M915 638h3M978 652h3M918 643h3M977 638h3M881 683h3M982 722h3M1005 624h3M1011 642h3M979 647h3M988 631h3M944 727h3M931 655h3M983 636h3M886 649h3M1013 658h3M953 656h3M974 690h3M934 667h3M898 677h3M918 683h3M994 667h3M946 667h3M979 684h3M883 676h3M905 688h3M926 702h3M918 664h3M882 680h3M949 693h3M922 659h3M948 727h3M1001 654h3M891 694h3M966 682h3M919 664h3M967 639h3M989 664h3M993 648h3M894 669h3M906 706h3M891 684h3M978 717h3M892 680h3M968 648h3M934 698h3M959 641h3M974 663h3M944 678h3M919 667h3M913 664h3M1017 683h3M924 712h3M1015 672h3M907 659h3M965 655h3M974 719h3M940 661h3M1013 667h3M933 636h3M952 647h3M1010 677h3M914 708h3M939 723h3M944 699h3M931 692h3M990 691h3M925 702h3M895 685h3M940 634h3M977 654h3M948 686h3M972 654h3M962 719h3M904 637h3M882 682h3M979 681h3M893 655h3M894 646h3M992 705h3M1011 645h3M931 687h3M897 648h3M991 686h3M891 661h3M909 668h3M899 646h3M963 668h3M929 674h3M907 707h3M884 689h3M938 650h3M960 715h3M978 710h3M986 656h3M961 715h3M895 692h3M952 644h3M919 645h3M1010 660h3M902 645h3M897 693h3M913 694h3M959 675h3M923 658h3M1009 671h3M911 638h3M922 681h3M942 690h3M973 713h3M893 677h3M947 710h3M946 727h3M978 722h3M914 702h3M1014 659h3M989 672h3M926 683h3M880 672h3M982 711h3M895 645h3M920 715h3M1003 671h3M943 699h3M920 656h3M998 637h3M961 662h3M983 673h3M952 673h3M936 688h3M963 661h3M953 661h3M887 677h3M979 652h3M919 639h3M1004 680h3M960 679h3M953 698h3M925 658h3M934 719h3M923 718h3M1016 669h3M952 644h3M953 694h3M958 676h3M979 681h3M982 707h3M880 657h3M983 716h3M933 724h3M978 673h3M879 654h3M927 637h3M932 689h3M930 647h3M931 721h3M1015 667h3M980 646h3M895 647h3M1017 659h3M910 638h3M989 678h3M900 644h3M1028 655h3" stroke="#7eccc0"/>
<path d="M945 622h3M949 607h3M913 610h3M932 597h3M922 597h3M909 608h3M923 590h3M953 607h3M914 604h3M931 622h3M938 587h3M939 622h3M925 606h3M979 615h3M951 615h3M931 627h3M910 626h3M944 592h3M922 617h3M938 615h3M934 621h3M919 624h3M983 608h3M987 615h3M958 599h3M947 597h3M924 594h3M962 594h3M944 621h3M958 614h3M911 613h3M940 586h3M938 601h3M946 588h3M944 602h3M961 595h3M945 621h3M979 618h3M943 612h3M939 590h3M969 616h3M925 602h3M907 609h3M909 617h3M917 624h3M922 613h3M939 589h3M955 596h3M938 602h3M919 603h3M945 606h3M949 606h3M944 625h3M917 614h3M913 615h3M937 592h3M943 623h3M918 619h3M929 616h3M925 589h3M914 608h3M970 618h3M946 591h3M952 593h3M907 609h3M906 605h3M940 597h3M958 608h3M959 612h3M931 620h3M935 611h3M906 615h3M955 593h3M965 597h3M915 597h3M930 613h3M931 609h3M953 616h3M945 623h3M912 612h3M955 609h3M929 608h3M958 613h3M931 618h3M905 606h3M946 618h3M977 607h3M914 593h3M961 598h3M949 597h3M953 596h3M947 592h3M938 623h3" stroke="#ac6f20"/>
<path d="M952 628h3M991 642h3M1002 642h3M995 660h3M995 640h3M1000 645h3M1003 654h3M969 603h3M1003 639h3M970 603h3M990 638h3M967 614h3M997 659h3M995 660h3M981 615h3M1001 641h3M988 606h3M965 614h3M981 606h3M975 612h3M998 655h3M979 632h3M947 628h3M1007 651h3M971 613h3M965 618h3M1007 664h3M975 605h3M994 614h3M996 647h3M995 615h3M992 657h3M993 655h3M995 658h3M1001 655h3M1007 664h3M995 615h3M1005 644h3M965 602h3M1003 640h3M994 654h3M977 611h3M931 627h3M1003 654h3M1006 656h3M992 665h3M991 645h3M1004 652h3M1006 656h3M995 658h3M1002 662h3M990 646h3M1002 650h3M1000 664h3M957 616h3M1003 630h3M991 613h3M974 624h3M1007 638h3M1004 643h3M991 664h3M985 633h3M969 611h3M933 629h3M990 650h3M993 617h3M969 609h3M989 662h3M999 655h3M968 605h3M989 648h3M1003 650h3M998 655h3M971 604h3M974 631h3M991 649h3M960 632h3" stroke="#c89343"/>
<path d="M973 721h3M1000 690h3M957 661h3M922 640h3M1011 690h3M972 661h3M916 671h3M963 705h3M898 652h3M911 669h3M960 693h3M932 634h3M957 656h3M948 695h3M941 704h3M975 704h3M896 655h3M939 728h3M936 697h3M906 636h3M947 698h3M911 700h3M960 647h3M929 635h3M962 665h3M879 667h3M1007 672h3M913 685h3M952 667h3M938 659h3M924 691h3M942 679h3M940 694h3M959 684h3M1011 689h3M984 637h3M945 674h3" stroke="#22857d"/>
<path d="M947 681h3M933 643h3M957 672h3M974 601h3M988 689h3M955 622h3M959 625h3M993 617h3M931 682h3M979 616h3M1015 667h3M928 717h3M956 639h3M994 617h3M991 653h3M972 628h3M966 603h3M962 656h3M955 628h3M967 628h3M995 619h3M966 593h3M891 667h3M960 631h3M936 712h3M948 626h3M975 618h3M925 667h3M990 627h3M930 632h3M970 624h3M982 612h3M995 624h3M1009 671h3M936 700h3M913 672h3M977 628h3M901 679h3M962 693h3M954 643h3M928 629h3M999 628h3M972 615h3M1000 624h3M985 715h3M972 604h3M970 659h3M977 611h3M999 627h3M976 633h3M991 634h3M910 649h3M982 691h3M973 619h3M900 651h3M902 677h3M937 643h3M987 613h3M993 617h3M938 696h3M998 628h3M937 717h3M931 631h3M991 615h3M932 724h3M959 629h3M982 613h3M948 667h3M992 636h3M997 633h3M986 688h3M985 647h3M937 646h3M891 682h3M982 651h3M980 701h3M984 609h3M984 694h3M902 632h3M999 673h3M919 667h3M995 633h3M931 634h3M955 622h3M981 617h3M942 631h3M938 628h3M970 620h3M960 618h3M973 696h3M968 641h3M997 702h3M945 644h3M949 621h3" stroke="#d3aa5f"/>
<path d="M923 638h3M925 639h3M1020 656h3M900 670h3M912 702h3M971 690h3M995 714h3" stroke="#11756d"/>
<path d="M964 610h3M922 628h3M908 615h3M957 616h3M906 625h3M905 607h3M943 620h3M931 612h3M949 605h3M955 598h3M932 619h3M923 591h3M930 622h3M915 596h3M951 615h3M917 623h3M929 615h3M921 631h3M934 589h3M933 597h3M913 610h3M940 601h3M933 597h3M934 603h3M930 584h3M947 611h3M910 613h3M932 608h3M912 603h3M906 609h3M934 592h3M954 606h3M959 609h3M951 618h3M913 595h3M942 616h3M953 593h3M931 604h3M937 593h3M933 583h3M909 603h3M929 601h3M907 615h3M962 614h3M914 624h3M960 606h3M920 604h3M922 618h3M921 626h3M962 597h3M948 613h3M950 597h3M939 589h3M956 606h3M917 622h3M921 630h3M921 604h3M951 620h3M950 620h3M955 601h3M931 602h3M961 604h3M916 618h3M913 622h3M932 622h3M962 604h3M929 600h3M918 617h3M930 592h3M955 593h3M942 613h3M955 608h3M927 614h3M950 595h3M933 612h3M908 620h3M926 603h3M947 607h3M945 596h3M925 597h3M932 610h3" stroke="#8c510a"/>
<path d="M1011 675h3" stroke="#01665e"/>
</g>
<rect x="521" y="321.2" width="5.8" height="17.1" fill="url(#gj)"/>
<text x="527.3" y="308" font-size="7" text-anchor="middle" fill="#333" stroke="#333" stroke-width="0.16">log<tspan font-size="4.2" dy="1.5">10</tspan></text>
<text x="527.3" y="316.2" font-size="7" text-anchor="middle" fill="#333" stroke="#333" stroke-width="0.16">counts/bin</text>
<text x="528" y="325.1" font-size="7" fill="#333" stroke="#333" stroke-width="0.16">2.0</text>
<text x="528" y="338.4" font-size="7" fill="#333" stroke="#333" stroke-width="0.16">0.0</text>
<text x="0.5" y="405.8" font-size="9" font-weight="bold" fill="#231f20">k</text>
<rect x="47.5" y="410.9" width="2.4" height="177.6" fill="#c8c8c8"/>
<rect x="118" y="410.9" width="2.5" height="177.6" fill="#c8c8c8"/>
<rect x="188.5" y="410.9" width="1.9" height="177.6" fill="#c8c8c8"/>
<rect x="256.3" y="410.9" width="2.7" height="177.6" fill="#c8c8c8"/>
<text x="49.3" y="401.4" font-size="7" font-weight="bold" text-anchor="middle" fill="#231f20">ATAC</text>
<text x="31.7" y="408.9" font-size="7" text-anchor="middle" fill="#333" stroke="#333" stroke-width="0.16">Naïve</text>
<text x="64.6" y="408.9" font-size="7" text-anchor="middle" fill="#333" stroke="#333" stroke-width="0.16">Primed</text>
<text x="101.8" y="400.8" font-size="7" font-weight="bold" text-anchor="middle" fill="#231f20">ZIC2</text>
<text x="101.8" y="407.5" font-size="7" font-weight="bold" text-anchor="middle" fill="#231f20">ChIP</text>
<text x="136.9" y="400.8" font-size="7" font-weight="bold" text-anchor="middle" fill="#231f20">ZIC3</text>
<text x="136.9" y="407.5" font-size="7" font-weight="bold" text-anchor="middle" fill="#231f20">ChIP</text>
<text x="188.8" y="401.4" font-size="7" font-weight="bold" text-anchor="middle" fill="#231f20">H3K27ac ChIP</text>
<text x="171.7" y="409.1" font-size="7" text-anchor="middle" fill="#333" stroke="#333" stroke-width="0.16">Naïve</text>
<text x="204.6" y="409.1" font-size="7" text-anchor="middle" fill="#333" stroke="#333" stroke-width="0.16">Primed</text>
<text x="257.1" y="401.4" font-size="7" font-weight="bold" text-anchor="middle" fill="#231f20">H3K27me3 ChIP</text>
<text x="240" y="409.1" font-size="7" text-anchor="middle" fill="#333" stroke="#333" stroke-width="0.16">Naïve</text>
<text x="272.9" y="409.1" font-size="7" text-anchor="middle" fill="#333" stroke="#333" stroke-width="0.16">Primed</text>
<text x="6.8" y="439.5" font-size="7" font-weight="bold" text-anchor="middle" fill="#231f20" transform="rotate(-90 6.8 439.5)">Cluster 1</text>
<text x="13.4" y="439.5" font-size="7" font-weight="bold" text-anchor="middle" fill="#231f20" transform="rotate(-90 13.4 439.5)">(2638)</text>
<text x="6.8" y="492.4" font-size="7" font-weight="bold" text-anchor="middle" fill="#231f20" transform="rotate(-90 6.8 492.4)">Cluster 2</text>
<text x="13.4" y="492.4" font-size="7" font-weight="bold" text-anchor="middle" fill="#231f20" transform="rotate(-90 13.4 492.4)">(2233)</text>
<text x="6.8" y="536" font-size="7" font-weight="bold" text-anchor="middle" fill="#231f20" transform="rotate(-90 6.8 536)">Cluster 3</text>
<text x="13.4" y="536" font-size="7" font-weight="bold" text-anchor="middle" fill="#231f20" transform="rotate(-90 13.4 536)">(1748)</text>
<text x="6.8" y="572" font-size="7" font-weight="bold" text-anchor="middle" fill="#231f20" transform="rotate(-90 6.8 572)">Cluster 4</text>
<text x="13.4" y="572" font-size="7" font-weight="bold" text-anchor="middle" fill="#231f20" transform="rotate(-90 13.4 572)">(1500)</text>
<svg x="17.5" y="410.9" width="30" height="57.2">
<rect x="0" y="0" width="30" height="57.2" fill="#fdece6"/>
<rect width="30" height="57.2" fill="#000" filter="url(#nk)" opacity="0.08"/>
<rect width="30" height="57.2" fill="#000" filter="url(#nh)" mask="url(#mf)" opacity="0.3"/>
<rect class=q16 x=7.3 y=0 width=15.5 height=1.05 /><rect class=q20 x=6.5 y=1 width=17.1 height=1.05 /><rect class=q8 x=9.9 y=1 width=10.2 height=1.05 /><rect class=q20 x=7.7 y=2 width=14.6 height=1.05 /><rect class=q7 x=10.6 y=2 width=8.8 height=1.05 /><rect class=q20 x=7.5 y=3 width=15 height=1.05 /><rect class=q9 x=10.5 y=3 width=9 height=1.05 /><rect class=q14 x=7.9 y=4 width=14.1 height=1.05 /><rect class=q13 x=6.4 y=5 width=17.1 height=1.05 /><rect class=q20 x=8.7 y=6 width=12.6 height=1.05 /><rect class=q11 x=11.2 y=6 width=7.6 height=1.05 /><rect class=q18 x=7.4 y=7 width=15.2 height=1.05 /><rect class=q16 x=9.5 y=8 width=10.9 height=1.05 /><rect class=q16 x=9.2 y=9 width=11.7 height=1.05 /><rect class=q20 x=7.4 y=10 width=15.2 height=1.05 /><rect class=q4 x=10.4 y=10 width=9.1 height=1.05 /><rect class=q16 x=7.7 y=11 width=14.7 height=1.05 /><rect class=q20 x=8 y=12 width=13.9 height=1.05 /><rect class=q3 x=10.8 y=12 width=8.4 height=1.05 /><rect class=q20 x=10.3 y=13 width=9.4 height=1.05 /><rect class=q8 x=12.2 y=13 width=5.6 height=1.05 /><rect class=q20 x=10.6 y=14 width=8.9 height=1.05 /><rect class=q4 x=12.3 y=14 width=5.3 height=1.05 /><rect class=q12 x=10 y=15 width=10 height=1.05 /><rect class=q20 x=9.7 y=16 width=10.5 height=1.05 /><rect class=q6 x=11.8 y=16 width=6.3 height=1.05 /><rect class=q15 x=9.2 y=17 width=11.6 height=1.05 /><rect class=q20 x=10.8 y=18 width=8.5 height=1.05 /><rect class=q9 x=12.5 y=18 width=5.1 height=1.05 /><rect class=q20 x=9.9 y=19 width=10.2 height=1.05 /><rect class=q20 x=11.2 y=20 width=7.6 height=1.05 /><rect class=q8 x=12.7 y=20 width=4.6 height=1.05 /><rect class=q20 x=9.4 y=21 width=11.3 height=1.05 /><rect class=q2 x=11.6 y=21 width=6.8 height=1.05 /><rect class=q20 x=10 y=22 width=9.9 height=1.05 /><rect class=q3 x=12 y=22 width=6 height=1.05 /><rect class=q20 x=10.6 y=23 width=8.8 height=1.05 /><rect class=q5 x=12.4 y=23 width=5.3 height=1.05 /><rect class=q17 x=10.5 y=24 width=9 height=1.05 /><rect class=q20 x=11.1 y=25 width=7.7 height=1.05 /><rect class=q20 x=11.2 y=26 width=7.6 height=1.05 /><rect class=q7 x=12.7 y=26 width=4.6 height=1.05 /><rect class=q20 x=10.5 y=27 width=9 height=1.05 /><rect class=q20 x=10.3 y=28 width=9.3 height=1.05 /><rect class=q6 x=12.2 y=28 width=5.6 height=1.05 /><rect class=q20 x=11.7 y=29 width=6.7 height=1.05 /><rect class=q3 x=13 y=29 width=4 height=1.05 /><rect class=q20 x=10.5 y=30 width=8.9 height=1.05 /><rect class=q6 x=12.3 y=30 width=5.4 height=1.05 /><rect class=q20 x=10.9 y=31 width=8.2 height=1.05 /><rect class=q4 x=12.5 y=31 width=4.9 height=1.05 /><rect class=q20 x=11.5 y=32 width=7 height=1.05 /><rect class=q20 x=12.2 y=33 width=5.6 height=1.05 /><rect class=q1 x=13.3 y=33 width=3.4 height=1.05 /><rect class=q20 x=11.1 y=34 width=7.8 height=1.05 /><rect class=q3 x=12.6 y=34 width=4.7 height=1.05 /><rect class=q14 x=11.4 y=35 width=7.3 height=1.05 /><rect class=q20 x=12.5 y=36 width=5.1 height=1.05 /><rect class=q3 x=13.5 y=36 width=3 height=1.05 /><rect class=q11 x=11.8 y=37 width=6.4 height=1.05 /><rect class=q14 x=12.3 y=38 width=5.3 height=1.05 /><rect class=q20 x=11.9 y=39 width=6.1 height=1.05 /><rect class=q1 x=13.2 y=39 width=3.7 height=1.05 /><rect class=q20 x=12.1 y=40 width=5.7 height=1.05 /><rect class=q3 x=13.3 y=40 width=3.4 height=1.05 /><rect class=q16 x=13 y=41 width=4.1 height=1.05 /><rect class=q12 x=12.8 y=42 width=4.5 height=1.05 /><rect class=q19 x=12.1 y=43 width=5.7 height=1.05 /><rect class=q13 x=12.6 y=44 width=4.8 height=1.05 /><rect class=q20 x=12.7 y=45 width=4.7 height=1.05 /><rect class=q5 x=13.6 y=45 width=2.8 height=1.05 /><rect class=q20 x=12.4 y=46 width=5.1 height=1.05 /><rect class=q20 x=12.7 y=47 width=4.7 height=1.05 /><rect class=q18 x=12.5 y=48 width=5.1 height=1.05 /><rect class=q12 x=12.4 y=49 width=5.1 height=1.05 /><rect class=q20 x=13.3 y=50 width=3.4 height=1.05 /><rect class=q2 x=14 y=50 width=2 height=1.05 /><rect class=q12 x=13.1 y=51 width=3.7 height=1.05 /><rect class=q10 x=13.3 y=52 width=3.4 height=1.05 /><rect class=q18 x=13.4 y=53 width=3.3 height=1.05 /><rect class=q10 x=12.6 y=54 width=4.8 height=1.05 /><rect class=q14 x=13.1 y=55 width=3.9 height=1.05 /><rect class=q15 x=13.3 y=56 width=3.4 height=1.05 />
<path d="M12.3 25.5h1M19 4.5h1M13.5 46.5h1M8.7 4.5h1.5M13.1 31.5h1M9.6 29.5h2M14.4 38.5h2.5M13 41.5h2M15 27.5h2.5M13 20.5h1.5M13.6 34.5h1M14.8 12.5h2M29.3 2.5h1M13 41.5h1M19.8 4.5h1M11.8 53.5h1M11.7 34.5h1.5M22 23.5h2.5M13.4 55.5h1.5M10 5.5h1M11.1 55.5h2.5M13.1 46.5h1M13.2 11.5h2M16.2 12.5h1.5M22.1 9.5h1.5M13.8 56.5h1.5M1.9 2.5h2M13.3 38.5h1M11.1 15.5h1.5M19.3 8.5h1M11.7 51.5h2.5M10.9 1.5h2M9.4 27.5h2.5M17.8 21.5h1M11 7.5h1M13.2 19.5h2.5M21.2 16.5h1M14.3 40.5h2.5M13.2 18.5h2.5M14.4 31.5h2.5M14.6 26.5h1" stroke="#ee6a50" stroke-width="1" stroke-opacity="0.55"/>
<path d="M13.1 47.5h2.5M14.1 57.5h1.5M12.8 7.5h2M13.9 32.5h1M13.4 33.5h1M13.7 40.5h1.5M16.6 25.5h1M15 24.5h1.5M14.9 54.5h2M16.4 1.5h2M11.9 20.5h2.5M15.6 42.5h1M16.5 35.5h1.5M14.5 23.5h2M12.6 42.5h1M12 19.5h1M17.9 4.5h1M14.1 55.5h2M14 43.5h2.5M11.3 22.5h2.5M12.4 42.5h1.5M11.8 1.5h1M14 19.5h2M13.5 38.5h1M14.5 22.5h2.5M11.2 12.5h2.5M15.2 52.5h2.5" stroke="#7a000e" stroke-width="1" stroke-opacity="0.55"/>
<path d="M24.8 56.5h1M7.8 1.5h2M17.3 11.5h1.5M12.6 26.5h1M1.1 20.5h2M21.1 9.5h2M22.8 6.5h1.5M6.4 43.5h1M5.3 39.5h1M26.7 6.5h1M24.8 9.5h1M6.7 20.5h2M18 19.5h1M24 56.5h1.5M29.1 19.5h1M-1 25.5h2M24.9 27.5h1M23.1 44.5h1M6.2 47.5h2M13.7 32.5h1M17.9 7.5h1.5M23.9 51.5h1.5M7.9 29.5h1.5M20.7 13.5h1.5M9.1 41.5h1.5M16.6 41.5h1M-0.4 31.5h1.5M24.1 19.5h1.5M1.9 42.5h2M8.7 41.5h1.5M22 52.5h1M8 21.5h2" stroke="#f09080" stroke-width="1" stroke-opacity="0.55"/>
<path d="M2.8 6.5h2M24.7 1.5h1M17.6 27.5h2.5M16.7 40.5h2" stroke="#c8141c" stroke-width="1" stroke-opacity="0.55"/>
</svg>
<svg x="17.5" y="468.1" width="30" height="48.5">
<rect x="0" y="0" width="30" height="48.5" fill="#fdece6"/>
<rect width="30" height="48.5" fill="#000" filter="url(#nk)" opacity="0.08"/>
<rect width="30" height="48.5" fill="#000" filter="url(#nh)" mask="url(#mf)" opacity="0.3"/>
<rect class=q15 x=9.2 y=0 width=11.7 height=1.05 /><rect class=q20 x=6.9 y=1 width=16.2 height=1.05 /><rect class=q14 x=8 y=2 width=14 height=1.05 /><rect class=q10 x=9.6 y=3 width=10.8 height=1.05 /><rect class=q11 x=8.4 y=4 width=13.3 height=1.05 /><rect class=q10 x=7.8 y=5 width=14.5 height=1.05 /><rect class=q9 x=10.2 y=6 width=9.6 height=1.05 /><rect class=q9 x=8.8 y=7 width=12.3 height=1.05 /><rect class=q12 x=9.8 y=8 width=10.3 height=1.05 /><rect class=q12 x=9.6 y=9 width=10.7 height=1.05 /><rect class=q13 x=10.9 y=10 width=8.2 height=1.05 /><rect class=q13 x=10.8 y=11 width=8.3 height=1.05 /><rect class=q9 x=9.9 y=12 width=10.2 height=1.05 /><rect class=q16 x=10.5 y=13 width=9.1 height=1.05 /><rect class=q19 x=11.2 y=14 width=7.6 height=1.05 /><rect class=q12 x=11.2 y=15 width=7.5 height=1.05 /><rect class=q13 x=10.8 y=16 width=8.3 height=1.05 /><rect class=q8 x=11.3 y=17 width=7.4 height=1.05 /><rect class=q14 x=11.6 y=18 width=6.8 height=1.05 /><rect class=q8 x=11 y=19 width=8 height=1.05 /><rect class=q8 x=11.3 y=20 width=7.3 height=1.05 /><rect class=q9 x=12.3 y=21 width=5.3 height=1.05 /><rect class=q9 x=12.3 y=22 width=5.3 height=1.05 /><rect class=q9 x=11.4 y=23 width=7.3 height=1.05 /><rect class=q16 x=12 y=24 width=6.1 height=1.05 /><rect class=q15 x=11.9 y=25 width=6.3 height=1.05 /><rect class=q13 x=11.3 y=26 width=7.4 height=1.05 /><rect class=q11 x=11.4 y=27 width=7.2 height=1.05 /><rect class=q15 x=11.8 y=28 width=6.4 height=1.05 /><rect class=q7 x=12.7 y=29 width=4.6 height=1.05 /><rect class=q7 x=12.4 y=30 width=5.2 height=1.05 /><rect class=q17 x=11.8 y=31 width=6.5 height=1.05 /><rect class=q16 x=12.9 y=32 width=4.3 height=1.05 /><rect class=q15 x=12.1 y=33 width=5.9 height=1.05 /><rect class=q16 x=12.1 y=34 width=5.7 height=1.05 /><rect class=q8 x=13 y=35 width=4.1 height=1.05 /><rect class=q15 x=12.4 y=36 width=5.3 height=1.05 /><rect class=q16 x=12.8 y=37 width=4.4 height=1.05 /><rect class=q16 x=13.2 y=38 width=3.6 height=1.05 /><rect class=q17 x=12.5 y=39 width=5.1 height=1.05 /><rect class=q10 x=13.4 y=40 width=3.2 height=1.05 /><rect class=q12 x=12.8 y=41 width=4.3 height=1.05 /><rect class=q10 x=13.5 y=42 width=3 height=1.05 /><rect class=q9 x=12.9 y=43 width=4.3 height=1.05 /><rect class=q7 x=12.9 y=44 width=4.3 height=1.05 /><rect class=q9 x=13.6 y=45 width=2.9 height=1.05 /><rect class=q7 x=13 y=46 width=4 height=1.05 /><rect class=q15 x=13.6 y=47 width=2.8 height=1.05 />
<path d="M26.1 4.5h1M19.2 19.5h1M19.6 21.5h1.5M6.6 47.5h1.5M7.6 21.5h1M22.6 44.5h1M0.3 39.5h1.5M3.4 16.5h2M25.9 38.5h1M17.9 27.5h1M20.5 42.5h1.5M5.2 36.5h1M17.5 35.5h2M0.9 47.5h1.5M4.6 40.5h2M19.8 47.5h1.5M15.3 11.5h1M6.8 6.5h1M14.3 41.5h2M1.1 37.5h1M15.1 12.5h1.5M6.9 28.5h1M18 12.5h2M10.3 7.5h2M25.1 9.5h1.5M18.2 24.5h2M9.9 44.5h1M4.7 10.5h1M3.8 28.5h1M17.1 29.5h1.5M10.7 4.5h1.5" stroke="#f09080" stroke-width="1" stroke-opacity="0.55"/>
<path d="M11.3 11.5h2.5M15.5 43.5h1M15 32.5h1M14.6 35.5h2M15.3 27.5h1M15.5 19.5h1M14.1 11.5h2M18.4 6.5h2M15.1 14.5h1M14.2 21.5h2M15 17.5h2M14 2.5h1M13.4 13.5h1M10.4 1.5h2M14.1 37.5h2" stroke="#7a000e" stroke-width="1" stroke-opacity="0.55"/>
<path d="M8.4 0.5h1.5M11.5 30.5h1.5M12.7 5.5h2.5M10.3 0.5h1M11.6 31.5h2.5M17.4 35.5h2.5M16.8 45.5h2.5M15.9 33.5h1M15.9 18.5h1M17.7 7.5h1M14.8 25.5h2.5M13.8 32.5h1M14.3 18.5h2M13.7 34.5h1.5M12.3 36.5h2.5M18.2 4.5h1.5M11.4 7.5h1M7 2.5h2M14.5 41.5h1.5M12.4 41.5h1M22.7 14.5h1M12.6 37.5h1M15.2 44.5h2M18 0.5h1M14.1 36.5h1M10.4 8.5h1.5M13.9 6.5h1.5M11.1 36.5h1M10.5 3.5h1.5" stroke="#ee6a50" stroke-width="1" stroke-opacity="0.55"/>
<path d="M18.7 37.5h1M10.2 23.5h2.5M17.7 32.5h1.5M18.7 11.5h1M20.8 16.5h1" stroke="#c8141c" stroke-width="1" stroke-opacity="0.55"/>
</svg>
<svg x="17.5" y="516.6" width="30" height="38.9">
<rect x="0" y="0" width="30" height="38.9" fill="#fef4f0"/>
<rect width="30" height="38.9" fill="#000" filter="url(#nk)" opacity="0.05"/>
<rect width="30" height="38.9" fill="#000" filter="url(#nh)" mask="url(#mf)" opacity="0.1"/>
<rect class=q3 x=12.9 y=0 width=4.2 height=1.05 /><rect class=q3 x=12.8 y=1 width=4.4 height=1.05 /><rect class=q4 x=13.2 y=2 width=3.7 height=1.05 /><rect class=q4 x=13 y=3 width=4 height=1.05 /><rect class=q3 x=13.1 y=4 width=3.9 height=1.05 /><rect class=q4 x=13.1 y=5 width=3.8 height=1.05 /><rect class=q5 x=12.9 y=6 width=4.2 height=1.05 /><rect class=q4 x=13.4 y=7 width=3.2 height=1.05 /><rect class=q3 x=12.9 y=8 width=4.2 height=1.05 /><rect class=q5 x=13.1 y=9 width=3.8 height=1.05 /><rect class=q4 x=13.2 y=10 width=3.6 height=1.05 /><rect class=q3 x=13.2 y=11 width=3.6 height=1.05 /><rect class=q3 x=13.2 y=12 width=3.7 height=1.05 /><rect class=q4 x=13.1 y=13 width=3.7 height=1.05 /><rect class=q3 x=13.6 y=14 width=2.7 height=1.05 /><rect class=q3 x=13.2 y=15 width=3.7 height=1.05 /><rect class=q4 x=13.1 y=16 width=3.7 height=1.05 /><rect class=q4 x=13.4 y=17 width=3.1 height=1.05 /><rect class=q5 x=13.6 y=18 width=2.7 height=1.05 /><rect class=q3 x=13.3 y=19 width=3.3 height=1.05 /><rect class=q4 x=13.5 y=20 width=3.1 height=1.05 /><rect class=q4 x=13.5 y=21 width=3 height=1.05 /><rect class=q5 x=13.2 y=22 width=3.7 height=1.05 /><rect class=q5 x=13.4 y=23 width=3.2 height=1.05 /><rect class=q4 x=13.2 y=24 width=3.7 height=1.05 /><rect class=q4 x=13.4 y=25 width=3.1 height=1.05 /><rect class=q5 x=13.4 y=26 width=3.2 height=1.05 /><rect class=q4 x=13.4 y=27 width=3.2 height=1.05 /><rect class=q4 x=13.3 y=28 width=3.4 height=1.05 /><rect class=q4 x=13.6 y=29 width=2.8 height=1.05 /><rect class=q6 x=13.6 y=30 width=2.8 height=1.05 /><rect class=q4 x=13.3 y=31 width=3.3 height=1.05 /><rect class=q5 x=13.9 y=32 width=2.2 height=1.05 /><rect class=q3 x=13.5 y=33 width=3.1 height=1.05 /><rect class=q5 x=13.8 y=34 width=2.4 height=1.05 /><rect class=q3 x=13.6 y=35 width=2.8 height=1.05 /><rect class=q5 x=13.9 y=36 width=2.1 height=1.05 /><rect class=q4 x=13.7 y=37 width=2.7 height=1.05 /><rect class=q3 x=13.8 y=38 width=2.3 height=1.05 />
<path d="M6.4 5.5h1M6.8 28.5h1M0.2 32.5h1M24.8 32.5h1M20.4 36.5h2M4.5 9.5h2M28.3 35.5h1M21.7 27.5h1M7.1 30.5h1.5M29.1 5.5h1M28.3 29.5h1M4.1 18.5h1.5M20.3 35.5h1.5M2.6 3.5h1M25 30.5h2M9.9 1.5h1M5.4 29.5h2M8.5 4.5h1" stroke="#f09080" stroke-width="1" stroke-opacity="0.55"/>
<path d="M14.3 10.5h1.5M15.5 33.5h1M13.6 34.5h1.5M15.8 17.5h1" stroke="#7a000e" stroke-width="1" stroke-opacity="0.55"/>
<path d="M14.4 32.5h1M17.1 13.5h2" stroke="#ee6a50" stroke-width="1" stroke-opacity="0.55"/>
</svg>
<svg x="17.5" y="555.5" width="30" height="33">
<rect x="0" y="0" width="30" height="33" fill="#fce6de"/>
<rect width="30" height="33" fill="#000" filter="url(#nk)" opacity="0.1"/>
<rect width="30" height="33" fill="#000" filter="url(#nh)" opacity="0.35"/>
<rect class=q10 x=11.1 y=0 width=7.8 height=1.05 /><rect class=q8 x=10.6 y=1 width=8.7 height=1.05 /><rect class=q5 x=12 y=2 width=6.1 height=1.05 /><rect class=q8 x=11.9 y=3 width=6.1 height=1.05 /><rect class=q6 x=10.5 y=4 width=8.9 height=1.05 /><rect class=q9 x=12 y=5 width=5.9 height=1.05 /><rect class=q4 x=11.9 y=6 width=6.2 height=1.05 /><rect class=q9 x=12.3 y=7 width=5.4 height=1.05 /><rect class=q5 x=12.2 y=8 width=5.6 height=1.05 /><rect class=q5 x=11.5 y=9 width=6.9 height=1.05 /><rect class=q5 x=11.8 y=10 width=6.4 height=1.05 /><rect class=q8 x=11.3 y=11 width=7.3 height=1.05 /><rect class=q6 x=11.3 y=12 width=7.4 height=1.05 /><rect class=q7 x=11.3 y=13 width=7.4 height=1.05 /><rect class=q5 x=12.1 y=14 width=5.8 height=1.05 /><rect class=q8 x=11.3 y=15 width=7.5 height=1.05 /><rect class=q8 x=12 y=16 width=5.9 height=1.05 /><rect class=q5 x=12.4 y=17 width=5.2 height=1.05 /><rect class=q5 x=11.4 y=18 width=7.2 height=1.05 /><rect class=q9 x=11.6 y=19 width=6.7 height=1.05 /><rect class=q7 x=12 y=20 width=6.1 height=1.05 /><rect class=q6 x=12.3 y=21 width=5.3 height=1.05 /><rect class=q5 x=12.5 y=22 width=5.1 height=1.05 /><rect class=q5 x=12.9 y=23 width=4.1 height=1.05 /><rect class=q10 x=13 y=24 width=4 height=1.05 /><rect class=q9 x=12.3 y=25 width=5.4 height=1.05 /><rect class=q4 x=12.6 y=26 width=4.8 height=1.05 /><rect class=q10 x=12.1 y=27 width=5.8 height=1.05 /><rect class=q7 x=12.4 y=28 width=5.2 height=1.05 /><rect class=q8 x=13 y=29 width=4 height=1.05 /><rect class=q7 x=12.7 y=30 width=4.5 height=1.05 /><rect class=q6 x=12.6 y=31 width=4.8 height=1.05 /><rect class=q7 x=12.7 y=32 width=4.6 height=1.05 />
<path d="M0.6 2.5h1.5M18.2 17.5h1M9.3 18.5h1M27.1 32.5h1M20 17.5h2M1.5 10.5h1M11.6 12.5h1.5M26.8 26.5h1.5M3.2 26.5h2M15.9 29.5h1M3.5 30.5h2M23.5 4.5h1M13.8 24.5h1M13.5 30.5h1M9 31.5h1.5M13.7 9.5h1.5M0.5 23.5h1M28.1 27.5h1.5M5.7 9.5h1.5M21 25.5h2M21.5 26.5h1.5M4.4 23.5h1.5M16.8 3.5h2M21 17.5h1M28.8 27.5h2M19.9 7.5h2M0.5 20.5h2M4.5 4.5h2M17.3 6.5h1M-0.1 22.5h1.5M22.7 24.5h1.5M7 11.5h2M14.6 6.5h1M3.2 24.5h1.5M18.2 1.5h1.5M12.9 24.5h2M19.4 25.5h2M17.4 19.5h1M28.3 29.5h1.5" stroke="#f09080" stroke-width="1" stroke-opacity="0.55"/>
<path d="M13.7 5.5h2M13.2 8.5h2.5M15.3 27.5h1M11.9 2.5h1M15.5 10.5h1" stroke="#7a000e" stroke-width="1" stroke-opacity="0.55"/>
<path d="M12.1 12.5h2.5M14.5 26.5h1M17 3.5h2.5M12.1 16.5h1M15 16.5h1M20.5 10.5h2M16.1 30.5h1.5M10.4 23.5h1.5M12 5.5h1.5M15.2 14.5h2.5M15.5 1.5h2M13.6 6.5h1.5M11.3 7.5h2M13.7 18.5h2" stroke="#ee6a50" stroke-width="1" stroke-opacity="0.55"/>
<path d="M11.5 18.5h1M16 24.5h2.5" stroke="#c8141c" stroke-width="1" stroke-opacity="0.55"/>
</svg>
<rect x="17.5" y="410.9" width="30" height="177.6" fill="none" stroke="#5a5a5a" stroke-width="0.8"/>
<line x1="17.5" y1="468.1" x2="47.5" y2="468.1" stroke="#666" stroke-width="1.7"/>
<line x1="17.5" y1="516.6" x2="47.5" y2="516.6" stroke="#666" stroke-width="1.7"/>
<line x1="17.5" y1="555.5" x2="47.5" y2="555.5" stroke="#666" stroke-width="1.7"/>
<svg x="49.9" y="410.9" width="30.1" height="57.2">
<rect x="0" y="0" width="30.1" height="57.2" fill="#fdece6"/>
<rect width="30.1" height="57.2" fill="#000" filter="url(#nk)" opacity="0.08"/>
<rect width="30.1" height="57.2" fill="#000" filter="url(#nh)" mask="url(#mf)" opacity="0.3"/>
<rect class=q20 x=6.7 y=0 width=16.8 height=1.05 /><rect class=q15 x=10 y=0 width=10.1 height=1.05 /><rect class=q20 x=7.5 y=1 width=15.2 height=1.05 /><rect class=q12 x=10.5 y=1 width=9.1 height=1.05 /><rect class=q20 x=7.5 y=2 width=15.1 height=1.05 /><rect class=q4 x=10.5 y=2 width=9 height=1.05 /><rect class=q20 x=8.5 y=3 width=13 height=1.05 /><rect class=q6 x=11.1 y=3 width=7.8 height=1.05 /><rect class=q20 x=7.7 y=4 width=14.7 height=1.05 /><rect class=q3 x=10.6 y=4 width=8.8 height=1.05 /><rect class=q14 x=5.9 y=5 width=18.2 height=1.05 /><rect class=q20 x=8.7 y=6 width=12.7 height=1.05 /><rect class=q13 x=11.3 y=6 width=7.6 height=1.05 /><rect class=q20 x=7.5 y=7 width=15.1 height=1.05 /><rect class=q7 x=10.5 y=7 width=9.1 height=1.05 /><rect class=q20 x=7.5 y=8 width=15.2 height=1.05 /><rect class=q2 x=10.5 y=8 width=9.1 height=1.05 /><rect class=q20 x=8.8 y=9 width=12.5 height=1.05 /><rect class=q7 x=11.3 y=9 width=7.5 height=1.05 /><rect class=q20 x=8.2 y=10 width=13.8 height=1.05 /><rect class=q20 x=7 y=11 width=16.2 height=1.05 /><rect class=q14 x=10.2 y=11 width=9.7 height=1.05 /><rect class=q20 x=8.7 y=12 width=12.6 height=1.05 /><rect class=q9 x=11.3 y=12 width=7.6 height=1.05 /><rect class=q20 x=7.3 y=13 width=15.5 height=1.05 /><rect class=q12 x=10.4 y=13 width=9.3 height=1.05 /><rect class=q20 x=9.9 y=14 width=10.2 height=1.05 /><rect class=q11 x=12 y=14 width=6.1 height=1.05 /><rect class=q20 x=10 y=15 width=10.1 height=1.05 /><rect class=q1 x=12 y=15 width=6 height=1.05 /><rect class=q20 x=8.4 y=16 width=13.2 height=1.05 /><rect class=q2 x=11.1 y=16 width=7.9 height=1.05 /><rect class=q20 x=10.1 y=17 width=10 height=1.05 /><rect class=q3 x=12.1 y=17 width=6 height=1.05 /><rect class=q16 x=10.7 y=18 width=8.8 height=1.05 /><rect class=q20 x=8.6 y=19 width=12.8 height=1.05 /><rect class=q9 x=11.2 y=19 width=7.7 height=1.05 /><rect class=q20 x=11.2 y=20 width=7.7 height=1.05 /><rect class=q10 x=12.7 y=20 width=4.6 height=1.05 /><rect class=q18 x=10.9 y=21 width=8.2 height=1.05 /><rect class=q20 x=10.9 y=22 width=8.4 height=1.05 /><rect class=q2 x=12.5 y=22 width=5 height=1.05 /><rect class=q20 x=10.4 y=23 width=9.4 height=1.05 /><rect class=q2 x=12.2 y=23 width=5.6 height=1.05 /><rect class=q20 x=10.3 y=24 width=9.4 height=1.05 /><rect class=q5 x=12.2 y=24 width=5.7 height=1.05 /><rect class=q20 x=11.5 y=25 width=7.1 height=1.05 /><rect class=q2 x=12.9 y=25 width=4.2 height=1.05 /><rect class=q20 x=10.7 y=26 width=8.6 height=1.05 /><rect class=q10 x=12.5 y=26 width=5.2 height=1.05 /><rect class=q20 x=11.1 y=27 width=8 height=1.05 /><rect class=q9 x=12.7 y=27 width=4.8 height=1.05 /><rect class=q14 x=9.8 y=28 width=10.6 height=1.05 /><rect class=q20 x=11.6 y=29 width=6.9 height=1.05 /><rect class=q1 x=13 y=29 width=4.1 height=1.05 /><rect class=q20 x=10.2 y=30 width=9.8 height=1.05 /><rect class=q10 x=12.1 y=30 width=5.9 height=1.05 /><rect class=q14 x=10.2 y=31 width=9.6 height=1.05 /><rect class=q14 x=11.9 y=32 width=6.2 height=1.05 /><rect class=q14 x=10.7 y=33 width=8.8 height=1.05 /><rect class=q20 x=11.4 y=34 width=7.4 height=1.05 /><rect class=q3 x=12.8 y=34 width=4.4 height=1.05 /><rect class=q20 x=11.9 y=35 width=6.2 height=1.05 /><rect class=q4 x=13.2 y=35 width=3.7 height=1.05 /><rect class=q12 x=12.4 y=36 width=5.3 height=1.05 /><rect class=q16 x=11.6 y=37 width=6.8 height=1.05 /><rect class=q12 x=12.6 y=38 width=4.9 height=1.05 /><rect class=q15 x=12.8 y=39 width=4.6 height=1.05 /><rect class=q12 x=12.6 y=40 width=4.9 height=1.05 /><rect class=q13 x=12.4 y=41 width=5.3 height=1.05 /><rect class=q20 x=12 y=42 width=6.2 height=1.05 /><rect class=q5 x=13.2 y=42 width=3.7 height=1.05 /><rect class=q11 x=12.9 y=43 width=4.4 height=1.05 /><rect class=q16 x=12.4 y=44 width=5.4 height=1.05 /><rect class=q18 x=12.3 y=45 width=5.4 height=1.05 /><rect class=q20 x=12.3 y=46 width=5.6 height=1.05 /><rect class=q2 x=13.4 y=46 width=3.3 height=1.05 /><rect class=q14 x=12.8 y=47 width=4.5 height=1.05 /><rect class=q20 x=12.5 y=48 width=5.1 height=1.05 /><rect class=q6 x=13.5 y=48 width=3 height=1.05 /><rect class=q20 x=12.1 y=49 width=5.9 height=1.05 /><rect class=q4 x=13.3 y=49 width=3.6 height=1.05 /><rect class=q20 x=12.5 y=50 width=5.1 height=1.05 /><rect class=q2 x=13.5 y=50 width=3 height=1.05 /><rect class=q20 x=13 y=51 width=4.2 height=1.05 /><rect class=q1 x=13.8 y=51 width=2.5 height=1.05 /><rect class=q13 x=12.9 y=52 width=4.3 height=1.05 /><rect class=q12 x=13.2 y=53 width=3.7 height=1.05 /><rect class=q11 x=13.3 y=54 width=3.6 height=1.05 /><rect class=q9 x=13.3 y=55 width=3.4 height=1.05 /><rect class=q20 x=13.5 y=56 width=3.1 height=1.05 />
<path d="M4 40.5h2M25 7.5h1M11.3 19.5h1M18.3 39.5h1M25.4 19.5h1M6.3 32.5h2M16.4 15.5h1M26 48.5h2M11.4 5.5h1.5M11.3 25.5h1M5.6 46.5h2M11.1 47.5h2M26.7 43.5h1M7.2 6.5h1M12.5 29.5h2M5.5 23.5h1.5M16.7 28.5h1M11.1 38.5h2M26.6 31.5h1M5.1 35.5h1M28 12.5h1M21.5 27.5h1M-0.6 50.5h2M5.5 49.5h1M11.9 13.5h2M6.7 21.5h1M23.8 6.5h1M22.1 49.5h1M24.6 46.5h2M5.3 13.5h2M27.7 15.5h1.5M5.5 6.5h1M27.5 7.5h2M14.1 10.5h2M27.2 19.5h2M-0.3 10.5h1.5" stroke="#f09080" stroke-width="1" stroke-opacity="0.55"/>
<path d="M10.9 44.5h1M21.5 27.5h1M17.4 39.5h2.5M23.1 12.5h2M7.4 34.5h1M23.6 10.5h1M16.7 41.5h2.5M19.2 39.5h1.5M20.2 25.5h1.5M9 19.5h1M7.1 7.5h2" stroke="#c8141c" stroke-width="1" stroke-opacity="0.55"/>
<path d="M17.2 54.5h1M9.6 3.5h1M16.1 27.5h1M12.9 27.5h1M15.9 49.5h2.5M15.7 30.5h1M13.9 46.5h1M14.4 11.5h1M13.3 22.5h2.5M16.3 21.5h1M18 33.5h1M12.3 52.5h1M21.2 15.5h1.5M10.1 40.5h2.5M18 10.5h1M25.9 4.5h1M9.1 0.5h1M13.9 40.5h1M13.5 36.5h1M12.3 16.5h2.5M11.5 31.5h1.5M16.1 50.5h2M18.9 36.5h1.5M17.4 47.5h2.5M13 48.5h1M14.9 26.5h1M11.4 8.5h2M17.7 2.5h1M17.8 49.5h1M15.2 44.5h2M13.9 27.5h2.5M14.8 39.5h1M10.5 36.5h1.5M6.6 8.5h2M11.1 20.5h1M13.3 9.5h1M13.8 23.5h2M20.4 16.5h1.5M14.9 33.5h1M13.8 40.5h2.5M19.1 19.5h2.5M24 18.5h1M13.9 52.5h1M14.5 26.5h2.5M3.5 7.5h2M13.3 37.5h2.5M12.3 20.5h2M10.7 53.5h2.5M19.8 24.5h2" stroke="#ee6a50" stroke-width="1" stroke-opacity="0.55"/>
<path d="M13.6 31.5h1.5M13.5 21.5h1M12.3 46.5h2M16.6 40.5h1M12.3 45.5h1.5M14.5 35.5h1M14.1 53.5h1M12.2 6.5h1M15.8 53.5h1M17.7 27.5h1M12.5 46.5h2M15.4 35.5h2M14 49.5h1.5M17.6 12.5h2.5M13.6 42.5h1M8.5 5.5h1M13.7 42.5h2M15.2 19.5h2M17.3 12.5h2.5M14.8 10.5h2.5M15 26.5h2M14.7 44.5h2M13.1 56.5h2M12.2 47.5h2" stroke="#7a000e" stroke-width="1" stroke-opacity="0.55"/>
</svg>
<svg x="49.9" y="468.1" width="30.1" height="48.5">
<rect x="0" y="0" width="30.1" height="48.5" fill="#fdece6"/>
<rect width="30.1" height="48.5" fill="#000" filter="url(#nk)" opacity="0.08"/>
<rect width="30.1" height="48.5" fill="#000" filter="url(#nh)" mask="url(#mf)" opacity="0.3"/>
<rect class=q20 x=7.4 y=0 width=15.2 height=1.05 /><rect class=q11 x=10.5 y=0 width=9.1 height=1.05 /><rect class=q20 x=6.4 y=1 width=17.2 height=1.05 /><rect class=q13 x=9.9 y=1 width=10.3 height=1.05 /><rect class=q20 x=6.2 y=2 width=17.8 height=1.05 /><rect class=q1 x=9.7 y=2 width=10.7 height=1.05 /><rect class=q16 x=8.1 y=3 width=13.8 height=1.05 /><rect class=q20 x=8.2 y=4 width=13.7 height=1.05 /><rect class=q1 x=10.9 y=4 width=8.2 height=1.05 /><rect class=q20 x=7.7 y=5 width=14.7 height=1.05 /><rect class=q6 x=10.6 y=5 width=8.8 height=1.05 /><rect class=q20 x=8.5 y=6 width=13.2 height=1.05 /><rect class=q17 x=7.1 y=7 width=15.9 height=1.05 /><rect class=q20 x=8.6 y=8 width=12.8 height=1.05 /><rect class=q10 x=11.2 y=8 width=7.7 height=1.05 /><rect class=q20 x=9 y=9 width=12.1 height=1.05 /><rect class=q8 x=11.4 y=9 width=7.3 height=1.05 /><rect class=q20 x=9.4 y=10 width=11.2 height=1.05 /><rect class=q7 x=11.7 y=10 width=6.7 height=1.05 /><rect class=q20 x=9.1 y=11 width=11.8 height=1.05 /><rect class=q3 x=11.5 y=11 width=7.1 height=1.05 /><rect class=q20 x=8.3 y=12 width=13.5 height=1.05 /><rect class=q9 x=11 y=12 width=8.1 height=1.05 /><rect class=q14 x=10.5 y=13 width=9.1 height=1.05 /><rect class=q20 x=10.3 y=14 width=9.4 height=1.05 /><rect class=q16 x=8.4 y=15 width=13.2 height=1.05 /><rect class=q20 x=11 y=16 width=8 height=1.05 /><rect class=q9 x=12.6 y=16 width=4.8 height=1.05 /><rect class=q12 x=9.5 y=17 width=11.1 height=1.05 /><rect class=q20 x=9 y=18 width=12.2 height=1.05 /><rect class=q8 x=11.4 y=18 width=7.3 height=1.05 /><rect class=q20 x=9.5 y=19 width=11.2 height=1.05 /><rect class=q4 x=11.7 y=19 width=6.7 height=1.05 /><rect class=q20 x=10.2 y=20 width=9.8 height=1.05 /><rect class=q20 x=11.2 y=21 width=7.7 height=1.05 /><rect class=q6 x=12.7 y=21 width=4.6 height=1.05 /><rect class=q20 x=9.8 y=22 width=10.4 height=1.05 /><rect class=q3 x=11.9 y=22 width=6.3 height=1.05 /><rect class=q13 x=9.8 y=23 width=10.5 height=1.05 /><rect class=q13 x=9.5 y=24 width=11.1 height=1.05 /><rect class=q20 x=10.7 y=25 width=8.6 height=1.05 /><rect class=q4 x=12.5 y=25 width=5.2 height=1.05 /><rect class=q20 x=9.7 y=26 width=10.7 height=1.05 /><rect class=q16 x=11.5 y=27 width=7.2 height=1.05 /><rect class=q20 x=10.1 y=28 width=9.9 height=1.05 /><rect class=q2 x=12.1 y=28 width=5.9 height=1.05 /><rect class=q13 x=10.5 y=29 width=9.1 height=1.05 /><rect class=q16 x=10.8 y=30 width=8.6 height=1.05 /><rect class=q18 x=10.4 y=31 width=9.4 height=1.05 /><rect class=q19 x=10.5 y=32 width=9.2 height=1.05 /><rect class=q20 x=12.1 y=33 width=5.9 height=1.05 /><rect class=q5 x=13.3 y=33 width=3.5 height=1.05 /><rect class=q20 x=11.1 y=34 width=8 height=1.05 /><rect class=q4 x=12.7 y=34 width=4.8 height=1.05 /><rect class=q12 x=11.5 y=35 width=7.1 height=1.05 /><rect class=q14 x=12.5 y=36 width=5.2 height=1.05 /><rect class=q10 x=12 y=37 width=6 height=1.05 /><rect class=q20 x=12.6 y=38 width=4.9 height=1.05 /><rect class=q2 x=13.6 y=38 width=3 height=1.05 /><rect class=q18 x=11.4 y=39 width=7.2 height=1.05 /><rect class=q14 x=11.8 y=40 width=6.5 height=1.05 /><rect class=q18 x=11.8 y=41 width=6.4 height=1.05 /><rect class=q16 x=11.7 y=42 width=6.8 height=1.05 /><rect class=q14 x=12.8 y=43 width=4.5 height=1.05 /><rect class=q10 x=12.8 y=44 width=4.5 height=1.05 /><rect class=q10 x=12.1 y=45 width=6 height=1.05 /><rect class=q10 x=12.3 y=46 width=5.5 height=1.05 /><rect class=q19 x=12.8 y=47 width=4.4 height=1.05 />
<path d="M20.2 2.5h2.5M13.2 15.5h1M13.3 23.5h2.5M11.4 20.5h2.5M10.3 1.5h1M13.9 40.5h2.5M17 39.5h1M12.3 33.5h2.5M14 12.5h1M15.9 40.5h2.5M15.4 28.5h1M15.9 28.5h2.5M18.8 8.5h1M12.6 22.5h1" stroke="#7a000e" stroke-width="1" stroke-opacity="0.55"/>
<path d="M11.6 2.5h1.5M10.1 19.5h2.5M16.6 36.5h1M13.1 25.5h1M11.8 43.5h1M13.6 41.5h1M13.5 9.5h2.5M17.9 24.5h2M11.3 14.5h2M10.3 33.5h2.5M14.9 18.5h1M5 3.5h1M14.5 30.5h1M13.9 48.5h2.5M9.4 9.5h2.5M13.7 42.5h2M18.6 5.5h1M5.2 9.5h2M20.1 13.5h1.5M15.3 19.5h1.5M18.2 20.5h2.5M20.7 5.5h1M12.1 36.5h1.5M8.7 26.5h2.5M16.4 6.5h1M13.4 30.5h1.5M16.6 41.5h1M8.8 15.5h2M15.2 21.5h2M7.6 41.5h1M13.4 43.5h2.5M9.4 31.5h2.5M19.4 47.5h1M13.7 29.5h2.5M7.2 4.5h2.5M14 33.5h1M12.6 23.5h1.5M13 14.5h1M15.1 10.5h2M11.1 31.5h1M14.4 38.5h1M16.2 31.5h1M10.3 3.5h1M15.1 44.5h2" stroke="#ee6a50" stroke-width="1" stroke-opacity="0.55"/>
<path d="M22.5 43.5h1.5M24.2 36.5h1.5M9.6 23.5h1.5M21.2 21.5h1M25.2 37.5h1.5M23 32.5h2M5.9 21.5h2M20.6 12.5h1.5M-0.6 33.5h1.5M1.6 37.5h1M11 14.5h1M5.7 43.5h1M26.4 40.5h2M17.9 48.5h1.5M14.2 18.5h1M27.8 5.5h2M22.9 11.5h1.5M8.2 48.5h1M3.2 10.5h1M27.3 36.5h1M11.2 42.5h2M26.5 33.5h1.5M3.4 45.5h1M22.1 8.5h2M3.6 41.5h2M10 30.5h2M14 44.5h1M-0.4 3.5h1.5M13.5 21.5h1M10.1 37.5h2M11 42.5h1M17.7 30.5h1.5M16 0.5h2M21.2 6.5h1M12.1 28.5h1M16.1 1.5h2M12.4 8.5h2M14.2 39.5h1" stroke="#f09080" stroke-width="1" stroke-opacity="0.55"/>
<path d="M18.7 26.5h1M10.3 27.5h1M22 13.5h2M9.4 43.5h1.5M9.9 39.5h1M10.3 38.5h1.5M11.2 29.5h1M1.5 9.5h1" stroke="#c8141c" stroke-width="1" stroke-opacity="0.55"/>
</svg>
<svg x="49.9" y="516.6" width="30.1" height="38.9">
<rect x="0" y="0" width="30.1" height="38.9" fill="#fdf0ea"/>
<rect width="30.1" height="38.9" fill="#000" filter="url(#nk)" opacity="0.06"/>
<rect width="30.1" height="38.9" fill="#000" filter="url(#nh)" mask="url(#mf)" opacity="0.2"/>
<rect class=q14 x=9.7 y=0 width=10.6 height=1.05 /><rect class=q15 x=9.8 y=1 width=10.4 height=1.05 /><rect class=q18 x=9.9 y=2 width=10.3 height=1.05 /><rect class=q10 x=11.3 y=3 width=7.6 height=1.05 /><rect class=q13 x=11.1 y=4 width=8 height=1.05 /><rect class=q18 x=10.5 y=5 width=9 height=1.05 /><rect class=q13 x=11.4 y=6 width=7.2 height=1.05 /><rect class=q10 x=11.1 y=7 width=7.8 height=1.05 /><rect class=q17 x=12.1 y=8 width=5.9 height=1.05 /><rect class=q12 x=11.9 y=9 width=6.2 height=1.05 /><rect class=q13 x=12.2 y=10 width=5.6 height=1.05 /><rect class=q8 x=11.7 y=11 width=6.6 height=1.05 /><rect class=q10 x=11.9 y=12 width=6.3 height=1.05 /><rect class=q16 x=12 y=13 width=6 height=1.05 /><rect class=q16 x=11.8 y=14 width=6.6 height=1.05 /><rect class=q8 x=12.6 y=15 width=4.9 height=1.05 /><rect class=q13 x=12.3 y=16 width=5.4 height=1.05 /><rect class=q7 x=11.9 y=17 width=6.2 height=1.05 /><rect class=q13 x=12.5 y=18 width=5.1 height=1.05 /><rect class=q12 x=12.9 y=19 width=4.3 height=1.05 /><rect class=q12 x=13 y=20 width=4.1 height=1.05 /><rect class=q13 x=12 y=21 width=6 height=1.05 /><rect class=q9 x=12.9 y=22 width=4.2 height=1.05 /><rect class=q12 x=12.3 y=23 width=5.6 height=1.05 /><rect class=q8 x=12.9 y=24 width=4.3 height=1.05 /><rect class=q12 x=13.2 y=25 width=3.7 height=1.05 /><rect class=q7 x=12.6 y=26 width=4.9 height=1.05 /><rect class=q12 x=12.8 y=27 width=4.4 height=1.05 /><rect class=q11 x=13.4 y=28 width=3.3 height=1.05 /><rect class=q11 x=13 y=29 width=4 height=1.05 /><rect class=q11 x=13.4 y=30 width=3.3 height=1.05 /><rect class=q7 x=13.1 y=31 width=3.9 height=1.05 /><rect class=q12 x=13 y=32 width=4 height=1.05 /><rect class=q14 x=13.4 y=33 width=3.4 height=1.05 /><rect class=q9 x=13.5 y=34 width=3.2 height=1.05 /><rect class=q10 x=13.2 y=35 width=3.7 height=1.05 /><rect class=q13 x=13.7 y=36 width=2.6 height=1.05 /><rect class=q11 x=13.3 y=37 width=3.6 height=1.05 /><rect class=q12 x=13.6 y=38 width=2.9 height=1.05 />
<path d="M9.4 2.5h1M11.8 15.5h2M14.9 36.5h1M13.4 30.5h1M14.1 15.5h2.5M9.4 6.5h1.5M11 3.5h1.5M11.9 1.5h1M12.3 34.5h2.5M13.4 12.5h1.5M14.8 37.5h1M13.6 37.5h2M12.1 34.5h1" stroke="#ee6a50" stroke-width="1" stroke-opacity="0.55"/>
<path d="M18.3 13.5h1.5M10.4 16.5h1M17.1 25.5h1M11.4 25.5h2.5M16.3 33.5h1" stroke="#c8141c" stroke-width="1" stroke-opacity="0.55"/>
<path d="M13.6 32.5h2M14.1 32.5h2M14.5 30.5h2.5M14 2.5h1M13.9 28.5h2M13.4 4.5h1" stroke="#7a000e" stroke-width="1" stroke-opacity="0.55"/>
<path d="M19.8 36.5h2M3.8 8.5h1.5M5.6 13.5h1.5M11.3 8.5h2M12.7 16.5h2M8.7 21.5h1M5.1 3.5h1.5M8.9 5.5h1.5M1.6 12.5h1M4.8 27.5h2M20.7 2.5h2M16.1 0.5h2M0.8 23.5h1M17.8 23.5h1M10.1 35.5h1M28 28.5h2M3.3 38.5h1M14.1 7.5h1.5M8.8 29.5h2M20.1 25.5h1.5M27.6 34.5h1.5M15.9 12.5h1.5M23.4 6.5h2M7.8 26.5h2" stroke="#f09080" stroke-width="1" stroke-opacity="0.55"/>
</svg>
<svg x="49.9" y="555.5" width="30.1" height="33">
<rect x="0" y="0" width="30.1" height="33" fill="#fce4dc"/>
<rect width="30.1" height="33" fill="#000" filter="url(#nk)" opacity="0.1"/>
<rect width="30.1" height="33" fill="#000" filter="url(#nh)" opacity="0.35"/>
<rect class=q7 x=8 y=0 width=14.1 height=1.05 /><rect class=q14 x=10.6 y=1 width=8.9 height=1.05 /><rect class=q12 x=10 y=2 width=10 height=1.05 /><rect class=q16 x=8.4 y=3 width=13.4 height=1.05 /><rect class=q10 x=9.2 y=4 width=11.7 height=1.05 /><rect class=q12 x=10.2 y=5 width=9.8 height=1.05 /><rect class=q11 x=9.9 y=6 width=10.2 height=1.05 /><rect class=q11 x=8.5 y=7 width=13 height=1.05 /><rect class=q14 x=11 y=8 width=8 height=1.05 /><rect class=q10 x=8.7 y=9 width=12.7 height=1.05 /><rect class=q14 x=9.7 y=10 width=10.6 height=1.05 /><rect class=q13 x=9.6 y=11 width=10.8 height=1.05 /><rect class=q8 x=10.4 y=12 width=9.3 height=1.05 /><rect class=q9 x=11 y=13 width=8.1 height=1.05 /><rect class=q14 x=11.5 y=14 width=7.2 height=1.05 /><rect class=q8 x=10 y=15 width=10.1 height=1.05 /><rect class=q16 x=11 y=16 width=8.1 height=1.05 /><rect class=q15 x=9.9 y=17 width=10.3 height=1.05 /><rect class=q8 x=9.8 y=18 width=10.4 height=1.05 /><rect class=q8 x=10.9 y=19 width=8.3 height=1.05 /><rect class=q7 x=11.8 y=20 width=6.6 height=1.05 /><rect class=q13 x=10.3 y=21 width=9.5 height=1.05 /><rect class=q7 x=11.4 y=22 width=7.2 height=1.05 /><rect class=q12 x=11 y=23 width=8.1 height=1.05 /><rect class=q8 x=10.9 y=24 width=8.3 height=1.05 /><rect class=q7 x=10.6 y=25 width=9 height=1.05 /><rect class=q13 x=11.2 y=26 width=7.8 height=1.05 /><rect class=q15 x=12 y=27 width=6.1 height=1.05 /><rect class=q8 x=11.4 y=28 width=7.2 height=1.05 /><rect class=q15 x=11 y=29 width=8.1 height=1.05 /><rect class=q14 x=11.7 y=30 width=6.8 height=1.05 /><rect class=q10 x=11.5 y=31 width=7.2 height=1.05 /><rect class=q12 x=11.4 y=32 width=7.2 height=1.05 />
<path d="M19 24.5h1M17.2 28.5h1.5M14.2 7.5h1.5M18.6 21.5h1.5M9.7 14.5h2M7.6 31.5h1M9.9 23.5h1.5M6.2 25.5h1M21.4 28.5h1.5M10.3 21.5h2M27.9 18.5h2M22.8 5.5h1.5M10.7 8.5h1M14.4 28.5h1.5M2.8 17.5h1M22.5 8.5h1.5M2.4 10.5h2M16 19.5h2M10.9 16.5h1M21.4 0.5h1.5M1.5 27.5h1.5M27.3 25.5h1.5M20.9 26.5h1.5M18.9 22.5h1.5M26.7 15.5h1M12 25.5h1M7 10.5h1M6.1 23.5h1M9.1 23.5h1M19.9 28.5h1M2.4 28.5h1M27.7 6.5h2M-0.2 31.5h1M26.5 25.5h1M11.6 28.5h1.5M12.6 12.5h1M8.4 1.5h1M14.1 11.5h1M14.5 18.5h1M9.3 15.5h2M11.6 18.5h1.5M6.5 10.5h2M19 20.5h1.5M10.2 19.5h1.5M3.6 8.5h1" stroke="#f09080" stroke-width="1" stroke-opacity="0.55"/>
<path d="M17.8 12.5h2.5M8.2 14.5h1M15.4 11.5h2.5M11.6 4.5h2M14.5 6.5h2.5M17.8 14.5h2M16.3 19.5h2M13.4 24.5h2M19.6 17.5h2M16.7 9.5h1.5M15.7 28.5h1M6.1 4.5h1.5M17.2 29.5h1M16.1 29.5h1M16.1 24.5h2M11.1 18.5h2.5M15.9 15.5h1.5M14.1 14.5h1M7.1 8.5h1.5M9.7 20.5h1M10.7 28.5h1M16.5 18.5h1" stroke="#ee6a50" stroke-width="1" stroke-opacity="0.55"/>
<path d="M14.6 18.5h1.5M14.2 32.5h1.5M11.2 26.5h2M17.1 9.5h1M12.8 20.5h1M14.4 22.5h1M15.4 7.5h1.5M14 19.5h1M12.5 4.5h1M12.1 29.5h2M14.5 28.5h1M17.2 12.5h1" stroke="#7a000e" stroke-width="1" stroke-opacity="0.55"/>
<path d="M10.1 27.5h2" stroke="#c8141c" stroke-width="1" stroke-opacity="0.55"/>
</svg>
<rect x="49.9" y="410.9" width="30.1" height="177.6" fill="none" stroke="#5a5a5a" stroke-width="0.8"/>
<line x1="49.9" y1="468.1" x2="80" y2="468.1" stroke="#666" stroke-width="1.7"/>
<line x1="49.9" y1="516.6" x2="80" y2="516.6" stroke="#666" stroke-width="1.7"/>
<line x1="49.9" y1="555.5" x2="80" y2="555.5" stroke="#666" stroke-width="1.7"/>
<svg x="85.4" y="410.9" width="32.6" height="57.2">
<rect x="0" y="0" width="32.6" height="57.2" fill="#fdeee8"/>
<rect width="32.6" height="57.2" fill="#000" filter="url(#nk)" opacity="0.08"/>
<rect width="32.6" height="57.2" fill="#000" filter="url(#nh)" mask="url(#mf)" opacity="0.25"/>
<rect class=q18 x=12.9 y=0 width=6.7 height=1.05 /><rect class=q20 x=12.1 y=1 width=8.4 height=1.05 /><rect class=q4 x=13.8 y=1 width=5 height=1.05 /><rect class=q19 x=11.6 y=2 width=9.4 height=1.05 /><rect class=q13 x=11.9 y=3 width=8.7 height=1.05 /><rect class=q15 x=13 y=4 width=6.5 height=1.05 /><rect class=q16 x=12.2 y=5 width=8.2 height=1.05 /><rect class=q20 x=12.3 y=6 width=8 height=1.05 /><rect class=q4 x=13.9 y=6 width=4.8 height=1.05 /><rect class=q16 x=13.4 y=7 width=5.8 height=1.05 /><rect class=q15 x=13.3 y=8 width=6 height=1.05 /><rect class=q18 x=12.8 y=9 width=6.9 height=1.05 /><rect class=q13 x=13.4 y=10 width=5.8 height=1.05 /><rect class=q20 x=12.6 y=11 width=7.3 height=1.05 /><rect class=q3 x=14.1 y=11 width=4.4 height=1.05 /><rect class=q13 x=12.4 y=12 width=7.7 height=1.05 /><rect class=q17 x=13.3 y=13 width=6 height=1.05 /><rect class=q20 x=12.9 y=14 width=6.9 height=1.05 /><rect class=q2 x=14.2 y=14 width=4.1 height=1.05 /><rect class=q17 x=13.4 y=15 width=5.8 height=1.05 /><rect class=q19 x=12.8 y=16 width=7.1 height=1.05 /><rect class=q20 x=13.9 y=17 width=4.7 height=1.05 /><rect class=q12 x=13.5 y=18 width=5.5 height=1.05 /><rect class=q15 x=13 y=19 width=6.7 height=1.05 /><rect class=q19 x=13.9 y=20 width=4.8 height=1.05 /><rect class=q17 x=13.3 y=21 width=6 height=1.05 /><rect class=q18 x=13.8 y=22 width=5 height=1.05 /><rect class=q20 x=13.8 y=23 width=5.1 height=1.05 /><rect class=q20 x=13.7 y=24 width=5.3 height=1.05 /><rect class=q4 x=14.7 y=24 width=3.2 height=1.05 /><rect class=q18 x=13.1 y=25 width=6.4 height=1.05 /><rect class=q16 x=13 y=26 width=6.6 height=1.05 /><rect class=q18 x=13.5 y=27 width=5.6 height=1.05 /><rect class=q14 x=13.8 y=28 width=5 height=1.05 /><rect class=q18 x=13.2 y=29 width=6.2 height=1.05 /><rect class=q13 x=13.2 y=30 width=6.3 height=1.05 /><rect class=q20 x=14.2 y=31 width=4.2 height=1.05 /><rect class=q3 x=15 y=31 width=2.5 height=1.05 /><rect class=q19 x=14 y=32 width=4.5 height=1.05 /><rect class=q13 x=13.1 y=33 width=6.4 height=1.05 /><rect class=q14 x=13.8 y=34 width=4.9 height=1.05 /><rect class=q20 x=13.6 y=35 width=5.4 height=1.05 /><rect class=q20 x=13.2 y=36 width=6.2 height=1.05 /><rect class=q2 x=14.4 y=36 width=3.7 height=1.05 /><rect class=q17 x=14.3 y=37 width=4 height=1.05 /><rect class=q20 x=14.3 y=38 width=4.1 height=1.05 /><rect class=q2 x=15.1 y=38 width=2.4 height=1.05 /><rect class=q16 x=14.2 y=39 width=4.2 height=1.05 /><rect class=q20 x=14.2 y=40 width=4.1 height=1.05 /><rect class=q1 x=15.1 y=40 width=2.5 height=1.05 /><rect class=q20 x=13.9 y=41 width=4.9 height=1.05 /><rect class=q1 x=14.8 y=41 width=2.9 height=1.05 /><rect class=q19 x=13.6 y=42 width=5.3 height=1.05 /><rect class=q15 x=14.3 y=43 width=3.9 height=1.05 /><rect class=q20 x=13.8 y=44 width=4.9 height=1.05 /><rect class=q16 x=14.4 y=45 width=3.9 height=1.05 /><rect class=q13 x=14.1 y=46 width=4.4 height=1.05 /><rect class=q19 x=14.3 y=47 width=4 height=1.05 /><rect class=q11 x=14.1 y=48 width=4.3 height=1.05 /><rect class=q14 x=13.8 y=49 width=4.9 height=1.05 /><rect class=q20 x=14.1 y=50 width=4.3 height=1.05 /><rect class=q12 x=14 y=51 width=4.7 height=1.05 /><rect class=q17 x=13.9 y=52 width=4.8 height=1.05 /><rect class=q20 x=14.6 y=53 width=3.4 height=1.05 /><rect class=q15 x=14.2 y=54 width=4.2 height=1.05 /><rect class=q12 x=14.6 y=55 width=3.4 height=1.05 /><rect class=q20 x=14.7 y=56 width=3.1 height=1.05 />
<rect x="14.7" width="3.2" height="57.2" fill="url(#hc)" fill-opacity="0.5"/>
<path d="M18.3 14.5h2.5M13 6.5h1.5M15.4 54.5h2M17.7 56.5h1M15.1 3.5h2M12.9 7.5h1M10.7 56.5h1M16.1 44.5h1M13.1 45.5h1M17.7 6.5h1M15.8 28.5h1M15.2 54.5h2.5M12 17.5h1M13.2 4.5h1.5M11.3 8.5h2M18.2 42.5h2M16.3 39.5h2.5M14.1 42.5h1" stroke="#ee6a50" stroke-width="1" stroke-opacity="0.55"/>
<path d="M10.7 12.5h2M7.3 8.5h2M9.1 15.5h1.5M20.8 15.5h1M24.7 5.5h1.5M25.8 34.5h1M4.1 45.5h1M27.5 31.5h1M5.9 54.5h2M23.6 16.5h1.5M30.7 11.5h1M1.5 49.5h1M13.8 29.5h1.5M7 3.5h2M6.8 53.5h1M19.9 19.5h1.5M0.3 37.5h1M20.2 38.5h2M13.1 6.5h1M4.8 17.5h1M25.6 6.5h1.5M17.5 8.5h1M8.2 5.5h2M2.5 21.5h1M19 39.5h1M25.7 14.5h1M-0.1 6.5h1M30.5 8.5h2M25.6 41.5h1M30.6 46.5h1" stroke="#f09080" stroke-width="1" stroke-opacity="0.55"/>
<path d="M14.5 35.5h2.5M15.2 42.5h2M15.1 36.5h1.5M13.5 15.5h2.5M17 19.5h1.5M14.2 41.5h1M16.4 21.5h2.5M16.9 28.5h1.5M14.5 17.5h2M16.6 17.5h1" stroke="#7a000e" stroke-width="1" stroke-opacity="0.55"/>
<path d="M18.6 21.5h1.5M19.3 3.5h1" stroke="#c8141c" stroke-width="1" stroke-opacity="0.55"/>
</svg>
<svg x="85.4" y="468.1" width="32.6" height="48.5">
<rect x="0" y="0" width="32.6" height="48.5" fill="#fdeee8"/>
<rect width="32.6" height="48.5" fill="#000" filter="url(#nk)" opacity="0.08"/>
<rect width="32.6" height="48.5" fill="#000" filter="url(#nh)" mask="url(#mf)" opacity="0.25"/>
<rect class=q11 x=11.2 y=0 width=10.2 height=1.05 /><rect class=q15 x=10.6 y=1 width=11.3 height=1.05 /><rect class=q17 x=11.8 y=2 width=9.1 height=1.05 /><rect class=q20 x=12.5 y=3 width=7.6 height=1.05 /><rect class=q19 x=12.4 y=4 width=7.8 height=1.05 /><rect class=q17 x=11.5 y=5 width=9.5 height=1.05 /><rect class=q19 x=12.5 y=6 width=7.7 height=1.05 /><rect class=q18 x=13.7 y=7 width=5.2 height=1.05 /><rect class=q14 x=12.5 y=8 width=7.6 height=1.05 /><rect class=q18 x=13.4 y=9 width=5.9 height=1.05 /><rect class=q12 x=13.6 y=10 width=5.5 height=1.05 /><rect class=q14 x=13.9 y=11 width=4.8 height=1.05 /><rect class=q19 x=13.2 y=12 width=6.3 height=1.05 /><rect class=q15 x=13.9 y=13 width=4.9 height=1.05 /><rect class=q13 x=13.6 y=14 width=5.5 height=1.05 /><rect class=q11 x=13.7 y=15 width=5.2 height=1.05 /><rect class=q13 x=13.1 y=16 width=6.3 height=1.05 /><rect class=q19 x=14.2 y=17 width=4.2 height=1.05 /><rect class=q11 x=13 y=18 width=6.5 height=1.05 /><rect class=q10 x=13.9 y=19 width=4.8 height=1.05 /><rect class=q15 x=13.5 y=20 width=5.5 height=1.05 /><rect class=q12 x=13.3 y=21 width=6.1 height=1.05 /><rect class=q17 x=14.3 y=22 width=4 height=1.05 /><rect class=q17 x=13.8 y=23 width=5 height=1.05 /><rect class=q15 x=13.6 y=24 width=5.4 height=1.05 /><rect class=q16 x=13.3 y=25 width=6 height=1.05 /><rect class=q11 x=14.1 y=26 width=4.3 height=1.05 /><rect class=q12 x=14.2 y=27 width=4.3 height=1.05 /><rect class=q17 x=13.3 y=28 width=5.9 height=1.05 /><rect class=q13 x=13.6 y=29 width=5.4 height=1.05 /><rect class=q17 x=13.4 y=30 width=5.8 height=1.05 /><rect class=q17 x=13.8 y=31 width=5.1 height=1.05 /><rect class=q17 x=14.1 y=32 width=4.4 height=1.05 /><rect class=q15 x=14.2 y=33 width=4.2 height=1.05 /><rect class=q13 x=14.1 y=34 width=4.4 height=1.05 /><rect class=q14 x=14.6 y=35 width=3.5 height=1.05 /><rect class=q14 x=14 y=36 width=4.6 height=1.05 /><rect class=q18 x=13.8 y=37 width=5 height=1.05 /><rect class=q11 x=14.2 y=38 width=4.3 height=1.05 /><rect class=q17 x=14.5 y=39 width=3.5 height=1.05 /><rect class=q18 x=14.6 y=40 width=3.4 height=1.05 /><rect class=q16 x=14.1 y=41 width=4.5 height=1.05 /><rect class=q19 x=14.3 y=42 width=4 height=1.05 /><rect class=q12 x=14.5 y=43 width=3.6 height=1.05 /><rect class=q12 x=14.4 y=44 width=3.8 height=1.05 /><rect class=q15 x=14.5 y=45 width=3.7 height=1.05 /><rect class=q11 x=13.9 y=46 width=4.8 height=1.05 /><rect class=q10 x=13.8 y=47 width=4.9 height=1.05 />
<rect x="14.7" width="3.2" height="48.5" fill="url(#hc)" fill-opacity="0.4"/>
<path d="M23.2 12.5h1.5M31.1 0.5h1M7 30.5h1.5M21.6 34.5h2M11.5 34.5h1M0.5 18.5h1M7.9 28.5h1M13.1 25.5h1M13.2 43.5h2M20.7 18.5h1M27.2 26.5h1M2.6 17.5h1M6.9 40.5h1M22.1 7.5h2M10.6 13.5h2M26.9 44.5h2M9.6 7.5h1M2.4 23.5h1M16.5 0.5h1M3.4 47.5h1.5M31 1.5h1M24.6 41.5h1M-0.4 48.5h1M22 11.5h1M28.5 37.5h1.5M28.3 11.5h1M0.8 40.5h1" stroke="#f09080" stroke-width="1" stroke-opacity="0.55"/>
<path d="M15.9 2.5h1M18.1 35.5h2.5M15.7 39.5h2M19 16.5h1M18.7 26.5h1.5M12.6 4.5h1M18 31.5h1M17 32.5h1" stroke="#ee6a50" stroke-width="1" stroke-opacity="0.55"/>
<path d="M16.4 9.5h1M17 33.5h2M14.4 8.5h2.5M13.9 17.5h2.5M16.1 20.5h1.5M14.5 30.5h1M15.4 9.5h1.5M15.7 43.5h1M17.1 35.5h1M15.1 30.5h1M13.7 28.5h2.5" stroke="#7a000e" stroke-width="1" stroke-opacity="0.55"/>
<path d="M11.6 44.5h2M12.8 28.5h1M11.5 3.5h1M20.4 0.5h1M17.7 40.5h2M13.7 42.5h1" stroke="#c8141c" stroke-width="1" stroke-opacity="0.55"/>
</svg>
<svg x="85.4" y="516.6" width="32.6" height="38.9">
<rect x="0" y="0" width="32.6" height="38.9" fill="#fdeee8"/>
<rect width="32.6" height="38.9" fill="#000" filter="url(#nk)" opacity="0.08"/>
<rect width="32.6" height="38.9" fill="#000" filter="url(#nh)" mask="url(#mf)" opacity="0.25"/>
<rect class=q19 x=11.1 y=0 width=10.3 height=1.05 /><rect class=q16 x=10.5 y=1 width=11.5 height=1.05 /><rect class=q20 x=11.1 y=2 width=10.3 height=1.05 /><rect class=q2 x=13.2 y=2 width=6.2 height=1.05 /><rect class=q18 x=11.2 y=3 width=10.3 height=1.05 /><rect class=q20 x=11.9 y=4 width=8.9 height=1.05 /><rect class=q2 x=13.6 y=4 width=5.3 height=1.05 /><rect class=q13 x=12.3 y=5 width=7.9 height=1.05 /><rect class=q20 x=12.3 y=6 width=8 height=1.05 /><rect class=q5 x=13.9 y=6 width=4.8 height=1.05 /><rect class=q17 x=12.3 y=7 width=7.9 height=1.05 /><rect class=q14 x=13.1 y=8 width=6.5 height=1.05 /><rect class=q20 x=13 y=9 width=6.7 height=1.05 /><rect class=q2 x=14.3 y=9 width=4 height=1.05 /><rect class=q17 x=12.3 y=10 width=7.9 height=1.05 /><rect class=q18 x=13.3 y=11 width=5.9 height=1.05 /><rect class=q13 x=13.2 y=12 width=6.2 height=1.05 /><rect class=q18 x=13.7 y=13 width=5.2 height=1.05 /><rect class=q20 x=13.2 y=14 width=6.2 height=1.05 /><rect class=q3 x=14.5 y=14 width=3.7 height=1.05 /><rect class=q18 x=12.9 y=15 width=6.8 height=1.05 /><rect class=q17 x=12.8 y=16 width=7 height=1.05 /><rect class=q20 x=13.7 y=17 width=5.2 height=1.05 /><rect class=q17 x=12.9 y=18 width=6.8 height=1.05 /><rect class=q19 x=14.2 y=19 width=4.1 height=1.05 /><rect class=q20 x=13.7 y=20 width=5.1 height=1.05 /><rect class=q2 x=14.8 y=20 width=3.1 height=1.05 /><rect class=q15 x=13.7 y=21 width=5.2 height=1.05 /><rect class=q14 x=13.5 y=22 width=5.6 height=1.05 /><rect class=q19 x=13.8 y=23 width=5 height=1.05 /><rect class=q17 x=14 y=24 width=4.6 height=1.05 /><rect class=q20 x=13.4 y=25 width=5.8 height=1.05 /><rect class=q12 x=13.7 y=26 width=5.2 height=1.05 /><rect class=q20 x=13.3 y=27 width=6 height=1.05 /><rect class=q1 x=14.5 y=27 width=3.6 height=1.05 /><rect class=q20 x=13.4 y=28 width=5.8 height=1.05 /><rect class=q19 x=13.5 y=29 width=5.5 height=1.05 /><rect class=q20 x=14.3 y=30 width=4 height=1.05 /><rect class=q20 x=13.9 y=31 width=4.8 height=1.05 /><rect class=q18 x=14.4 y=32 width=3.9 height=1.05 /><rect class=q20 x=13.8 y=33 width=5.1 height=1.05 /><rect class=q3 x=14.8 y=33 width=3 height=1.05 /><rect class=q20 x=14.4 y=34 width=3.8 height=1.05 /><rect class=q13 x=14.5 y=35 width=3.6 height=1.05 /><rect class=q16 x=14.4 y=36 width=3.8 height=1.05 /><rect class=q20 x=14.3 y=37 width=3.9 height=1.05 /><rect class=q20 x=14.7 y=38 width=3.1 height=1.05 /><rect class=q3 x=15.4 y=38 width=1.9 height=1.05 />
<rect x="14.7" width="3.2" height="38.9" fill="url(#hc)" fill-opacity="0.5"/>
<path d="M15.4 15.5h2M19.1 26.5h1.5M21.2 2.5h1M2.9 14.5h2M1 31.5h1.5M22.5 13.5h1M3 37.5h2M21.4 27.5h2M17.1 27.5h1.5M1.5 6.5h1M4.8 23.5h1.5M27 11.5h2M21.7 23.5h1M13.9 36.5h1M26.5 28.5h2M26.9 37.5h1.5M15.1 2.5h1M23.6 24.5h1M-0.5 11.5h2M18.2 38.5h1M19.4 29.5h1M15.4 29.5h1" stroke="#f09080" stroke-width="1" stroke-opacity="0.55"/>
<path d="M18.2 6.5h2.5" stroke="#c8141c" stroke-width="1" stroke-opacity="0.55"/>
<path d="M15.5 23.5h1M15.3 35.5h1.5M16.6 38.5h2M16.8 11.5h1.5M13.3 8.5h1M15.2 27.5h1.5M16.6 14.5h2M13.5 1.5h1M16.8 8.5h1M15.3 26.5h1" stroke="#7a000e" stroke-width="1" stroke-opacity="0.55"/>
<path d="M15.3 11.5h2.5M15 2.5h1.5M16.5 38.5h1M15.9 3.5h1.5M14.4 37.5h1.5M15.9 29.5h2M15.7 0.5h1.5M19.9 20.5h1M16.7 14.5h1M20.5 2.5h1M20.5 0.5h1.5M15.4 28.5h1.5M17.9 9.5h1M17.4 18.5h2M16.8 38.5h2.5" stroke="#ee6a50" stroke-width="1" stroke-opacity="0.55"/>
</svg>
<svg x="85.4" y="555.5" width="32.6" height="33">
<rect x="0" y="0" width="32.6" height="33" fill="#fce6de"/>
<rect width="32.6" height="33" fill="#000" filter="url(#nk)" opacity="0.12"/>
<rect width="32.6" height="33" fill="#000" filter="url(#nh)" opacity="0.45"/>
<rect class=q8 x=12.4 y=0 width=7.9 height=1.05 /><rect class=q11 x=12.4 y=1 width=7.8 height=1.05 /><rect class=q16 x=12.6 y=2 width=7.3 height=1.05 /><rect class=q12 x=12 y=3 width=8.6 height=1.05 /><rect class=q15 x=12.5 y=4 width=7.6 height=1.05 /><rect class=q10 x=12.2 y=5 width=8.3 height=1.05 /><rect class=q10 x=13 y=6 width=6.6 height=1.05 /><rect class=q11 x=12.9 y=7 width=6.9 height=1.05 /><rect class=q13 x=13 y=8 width=6.6 height=1.05 /><rect class=q10 x=12.3 y=9 width=8.1 height=1.05 /><rect class=q16 x=13.1 y=10 width=6.4 height=1.05 /><rect class=q9 x=11.8 y=11 width=9.1 height=1.05 /><rect class=q7 x=11.6 y=12 width=9.3 height=1.05 /><rect class=q13 x=13 y=13 width=6.7 height=1.05 /><rect class=q15 x=12.1 y=14 width=8.4 height=1.05 /><rect class=q10 x=12.2 y=15 width=8.3 height=1.05 /><rect class=q9 x=12.6 y=16 width=7.4 height=1.05 /><rect class=q12 x=12.4 y=17 width=7.9 height=1.05 /><rect class=q10 x=13.2 y=18 width=6.3 height=1.05 /><rect class=q15 x=13.1 y=19 width=6.5 height=1.05 /><rect class=q14 x=12.9 y=20 width=6.7 height=1.05 /><rect class=q14 x=12.7 y=21 width=7.3 height=1.05 /><rect class=q12 x=13.1 y=22 width=6.4 height=1.05 /><rect class=q11 x=14.1 y=23 width=4.4 height=1.05 /><rect class=q14 x=14 y=24 width=4.7 height=1.05 /><rect class=q15 x=13.1 y=25 width=6.5 height=1.05 /><rect class=q14 x=14.1 y=26 width=4.3 height=1.05 /><rect class=q10 x=13.9 y=27 width=4.7 height=1.05 /><rect class=q8 x=13.9 y=28 width=4.7 height=1.05 /><rect class=q13 x=14.2 y=29 width=4.3 height=1.05 /><rect class=q9 x=14.5 y=30 width=3.5 height=1.05 /><rect class=q13 x=14.7 y=31 width=3.2 height=1.05 /><rect class=q11 x=14.5 y=32 width=3.5 height=1.05 />
<rect x="14.8" width="3" height="33" fill="url(#hc)" fill-opacity="0.35"/>
<path d="M28.9 17.5h1.5M6.6 31.5h2M11.3 5.5h2M0.2 18.5h1.5M10.2 15.5h1.5M23.1 0.5h2M30.7 1.5h1M12.5 29.5h1M14.8 27.5h2M19.4 27.5h1M15.6 26.5h1M30.2 11.5h2M26 7.5h1M1 5.5h2M26.9 8.5h2M9.6 18.5h2M7.1 14.5h2M22.9 0.5h2M9.9 15.5h1.5M14.4 7.5h1.5M11.2 9.5h1M16.8 5.5h1M8.7 28.5h1M25.8 20.5h1M14.1 12.5h1M10.6 25.5h2M31.2 30.5h1M-0.4 2.5h1.5M22.8 1.5h2M29 13.5h2M15.7 12.5h1M3 15.5h1M-0.2 28.5h1.5M2.9 7.5h1M21.4 7.5h1" stroke="#f09080" stroke-width="1" stroke-opacity="0.55"/>
<path d="M15.4 4.5h1.5M14.3 28.5h1M11.1 12.5h1.5M19.5 12.5h1M10.8 26.5h2.5M15 29.5h1.5M17.4 30.5h1.5M15.6 29.5h1M21.3 0.5h1M11.8 10.5h1M16.5 26.5h2M18.2 22.5h1" stroke="#ee6a50" stroke-width="1" stroke-opacity="0.55"/>
<path d="M17.4 20.5h2.5M14.7 11.5h2.5M15.4 20.5h2M15.2 12.5h1M14.7 11.5h1.5M17.3 18.5h1.5M12.5 2.5h2.5M13.1 19.5h1.5M17.5 29.5h1M13.8 16.5h1M15 30.5h1.5M16.8 21.5h1" stroke="#7a000e" stroke-width="1" stroke-opacity="0.55"/>
<path d="M11.6 28.5h1" stroke="#c8141c" stroke-width="1" stroke-opacity="0.55"/>
</svg>
<rect x="85.4" y="410.9" width="32.6" height="177.6" fill="none" stroke="#5a5a5a" stroke-width="0.8"/>
<line x1="85.4" y1="468.1" x2="118" y2="468.1" stroke="#666" stroke-width="1.7"/>
<line x1="85.4" y1="516.6" x2="118" y2="516.6" stroke="#666" stroke-width="1.7"/>
<line x1="85.4" y1="555.5" x2="118" y2="555.5" stroke="#666" stroke-width="1.7"/>
<svg x="120.5" y="410.9" width="32.5" height="57.2">
<rect x="0" y="0" width="32.5" height="57.2" fill="#fbd2c4"/>
<rect width="32.5" height="57.2" fill="#000" filter="url(#nk)" opacity="0.6"/>
<rect width="32.5" height="57.2" fill="#000" filter="url(#nh)" mask="url(#mf)" opacity="0.1"/>
<rect class=q14 x=13.6 y=0 width=5.3 height=1.05 /><rect class=q16 x=12.8 y=1 width=6.8 height=1.05 /><rect class=q15 x=14 y=2 width=4.5 height=1.05 /><rect class=q12 x=13.5 y=3 width=5.4 height=1.05 /><rect class=q18 x=13.1 y=4 width=6.3 height=1.05 /><rect class=q14 x=13.1 y=5 width=6.3 height=1.05 /><rect class=q11 x=13.1 y=6 width=6.3 height=1.05 /><rect class=q15 x=13.8 y=7 width=4.9 height=1.05 /><rect class=q13 x=13.5 y=8 width=5.5 height=1.05 /><rect class=q17 x=13.6 y=9 width=5.3 height=1.05 /><rect class=q10 x=13 y=10 width=6.5 height=1.05 /><rect class=q17 x=13.7 y=11 width=5.1 height=1.05 /><rect class=q15 x=12.8 y=12 width=6.9 height=1.05 /><rect class=q13 x=13.3 y=13 width=6 height=1.05 /><rect class=q14 x=13.4 y=14 width=5.6 height=1.05 /><rect class=q14 x=13.1 y=15 width=6.4 height=1.05 /><rect class=q17 x=13 y=16 width=6.6 height=1.05 /><rect class=q10 x=13.1 y=17 width=6.3 height=1.05 /><rect class=q10 x=14 y=18 width=4.4 height=1.05 /><rect class=q11 x=14.1 y=19 width=4.2 height=1.05 /><rect class=q13 x=14.1 y=20 width=4.2 height=1.05 /><rect class=q13 x=13.1 y=21 width=6.3 height=1.05 /><rect class=q13 x=14.2 y=22 width=4.1 height=1.05 /><rect class=q15 x=13.6 y=23 width=5.2 height=1.05 /><rect class=q11 x=13.9 y=24 width=4.7 height=1.05 /><rect class=q11 x=13.6 y=25 width=5.3 height=1.05 /><rect class=q16 x=14.1 y=26 width=4.3 height=1.05 /><rect class=q13 x=14 y=27 width=4.5 height=1.05 /><rect class=q14 x=13.3 y=28 width=6 height=1.05 /><rect class=q11 x=14.2 y=29 width=4.1 height=1.05 /><rect class=q12 x=13.7 y=30 width=5 height=1.05 /><rect class=q13 x=13.7 y=31 width=5.2 height=1.05 /><rect class=q11 x=13.8 y=32 width=4.9 height=1.05 /><rect class=q10 x=13.7 y=33 width=5 height=1.05 /><rect class=q11 x=13.5 y=34 width=5.5 height=1.05 /><rect class=q13 x=14.4 y=35 width=3.7 height=1.05 /><rect class=q14 x=14.1 y=36 width=4.3 height=1.05 /><rect class=q12 x=14.4 y=37 width=3.7 height=1.05 /><rect class=q14 x=14.2 y=38 width=4.1 height=1.05 /><rect class=q9 x=14 y=39 width=4.5 height=1.05 /><rect class=q10 x=14 y=40 width=4.5 height=1.05 /><rect class=q10 x=14.3 y=41 width=3.9 height=1.05 /><rect class=q10 x=14.4 y=42 width=3.8 height=1.05 /><rect class=q15 x=14.4 y=43 width=3.7 height=1.05 /><rect class=q11 x=13.9 y=44 width=4.6 height=1.05 /><rect class=q10 x=14.4 y=45 width=3.7 height=1.05 /><rect class=q11 x=13.6 y=46 width=5.2 height=1.05 /><rect class=q15 x=13.9 y=47 width=4.7 height=1.05 /><rect class=q9 x=14.4 y=48 width=3.7 height=1.05 /><rect class=q14 x=14.3 y=49 width=3.8 height=1.05 /><rect class=q9 x=14.3 y=50 width=3.8 height=1.05 /><rect class=q15 x=14.5 y=51 width=3.5 height=1.05 /><rect class=q14 x=14.6 y=52 width=3.2 height=1.05 /><rect class=q13 x=13.9 y=53 width=4.6 height=1.05 /><rect class=q9 x=14.3 y=54 width=4 height=1.05 /><rect class=q15 x=13.8 y=55 width=4.9 height=1.05 /><rect class=q13 x=14.5 y=56 width=3.4 height=1.05 />
<rect x="14.8" width="3" height="57.2" fill="url(#hc)" fill-opacity="0.4"/>
<path d="M20.1 21.5h1M25.6 11.5h1M7.1 50.5h1M18.9 45.5h1.5M23.7 21.5h1.5M11 0.5h1M5.8 41.5h1M21.7 28.5h1.5M27 17.5h2M17.1 31.5h2M2.1 50.5h1M8.8 53.5h1M5.5 54.5h2M0.7 25.5h2M1.4 27.5h1M23.6 52.5h1M24.3 13.5h1M20.3 21.5h1M12.5 22.5h1.5M5.4 10.5h1M31.4 18.5h1M31.6 41.5h1M30.7 45.5h2M8.9 47.5h1M28.9 39.5h1M29.4 52.5h1.5M2.9 46.5h1.5M5.8 39.5h2M22.4 22.5h1M13.5 34.5h1M28.6 55.5h1M10.8 4.5h1M12.8 3.5h1M5.2 19.5h1.5M21.9 29.5h1M22.2 41.5h1M7 54.5h1.5M19.5 22.5h1.5M2.8 54.5h1M4 7.5h1.5M14.5 49.5h2M26.6 2.5h1.5M6 39.5h1.5M10.3 30.5h1.5M25.4 16.5h2M0.3 39.5h1M22.1 35.5h1M30.7 17.5h2M3.9 4.5h2M3.8 41.5h1.5M1.2 24.5h1.5M8.5 10.5h2M5.2 2.5h1M10.4 29.5h1M4.8 10.5h1M0.1 51.5h1.5M9.2 41.5h1M7.5 53.5h1.5M24.1 23.5h1.5M19.1 46.5h1M8.8 3.5h1M18 38.5h1" stroke="#f09080" stroke-width="1" stroke-opacity="0.55"/>
<path d="M15 19.5h2M14.2 22.5h1.5M16.2 22.5h2M17.4 31.5h1M14.4 22.5h2M14.6 41.5h2M15.2 26.5h2.5M14.3 12.5h2" stroke="#7a000e" stroke-width="1" stroke-opacity="0.55"/>
<path d="M19.8 43.5h1M11.1 28.5h2.5M10.9 0.5h1M13.3 43.5h1" stroke="#c8141c" stroke-width="1" stroke-opacity="0.55"/>
<path d="M13.7 45.5h1.5M15.4 50.5h2.5M13.1 27.5h2.5M14 2.5h2.5M17.4 3.5h1M15.8 34.5h2.5" stroke="#ee6a50" stroke-width="1" stroke-opacity="0.55"/>
</svg>
<svg x="120.5" y="468.1" width="32.5" height="48.5">
<rect x="0" y="0" width="32.5" height="48.5" fill="#fbd2c4"/>
<rect width="32.5" height="48.5" fill="#000" filter="url(#nk)" opacity="0.6"/>
<rect width="32.5" height="48.5" fill="#000" filter="url(#nh)" mask="url(#mf)" opacity="0.1"/>
<rect class=q11 x=12.9 y=0 width=6.8 height=1.05 /><rect class=q9 x=13.6 y=1 width=5.3 height=1.05 /><rect class=q11 x=12.7 y=2 width=7.1 height=1.05 /><rect class=q11 x=13.2 y=3 width=6.1 height=1.05 /><rect class=q9 x=13.8 y=4 width=4.9 height=1.05 /><rect class=q13 x=13.3 y=5 width=5.9 height=1.05 /><rect class=q13 x=13.5 y=6 width=5.6 height=1.05 /><rect class=q12 x=13.8 y=7 width=4.8 height=1.05 /><rect class=q10 x=14.1 y=8 width=4.4 height=1.05 /><rect class=q9 x=13.5 y=9 width=5.5 height=1.05 /><rect class=q12 x=13.1 y=10 width=6.2 height=1.05 /><rect class=q13 x=13.1 y=11 width=6.4 height=1.05 /><rect class=q13 x=14.2 y=12 width=4.1 height=1.05 /><rect class=q14 x=13.5 y=13 width=5.4 height=1.05 /><rect class=q11 x=14.1 y=14 width=4.3 height=1.05 /><rect class=q9 x=14.2 y=15 width=4.2 height=1.05 /><rect class=q9 x=13.2 y=16 width=6.1 height=1.05 /><rect class=q10 x=13.2 y=17 width=6 height=1.05 /><rect class=q14 x=13.5 y=18 width=5.6 height=1.05 /><rect class=q9 x=14.1 y=19 width=4.3 height=1.05 /><rect class=q14 x=13.7 y=20 width=5.1 height=1.05 /><rect class=q10 x=13.1 y=21 width=6.3 height=1.05 /><rect class=q9 x=13.2 y=22 width=6 height=1.05 /><rect class=q8 x=13.8 y=23 width=4.9 height=1.05 /><rect class=q10 x=13.2 y=24 width=6.2 height=1.05 /><rect class=q11 x=13.7 y=25 width=5.1 height=1.05 /><rect class=q13 x=13.6 y=26 width=5.2 height=1.05 /><rect class=q13 x=13.4 y=27 width=5.6 height=1.05 /><rect class=q8 x=14.3 y=28 width=3.9 height=1.05 /><rect class=q10 x=14 y=29 width=4.5 height=1.05 /><rect class=q13 x=14.3 y=30 width=3.9 height=1.05 /><rect class=q14 x=13.5 y=31 width=5.4 height=1.05 /><rect class=q12 x=14.2 y=32 width=4.1 height=1.05 /><rect class=q12 x=13.7 y=33 width=5.1 height=1.05 /><rect class=q13 x=14.2 y=34 width=4.1 height=1.05 /><rect class=q12 x=14.3 y=35 width=3.9 height=1.05 /><rect class=q10 x=14.4 y=36 width=3.7 height=1.05 /><rect class=q9 x=13.5 y=37 width=5.4 height=1.05 /><rect class=q14 x=14.4 y=38 width=3.6 height=1.05 /><rect class=q11 x=14.6 y=39 width=3.3 height=1.05 /><rect class=q9 x=14.2 y=40 width=4.2 height=1.05 /><rect class=q9 x=14.6 y=41 width=3.3 height=1.05 /><rect class=q11 x=13.7 y=42 width=5.1 height=1.05 /><rect class=q8 x=14.3 y=43 width=3.9 height=1.05 /><rect class=q12 x=14 y=44 width=4.6 height=1.05 /><rect class=q11 x=14.4 y=45 width=3.7 height=1.05 /><rect class=q13 x=13.9 y=46 width=4.7 height=1.05 /><rect class=q12 x=14.1 y=47 width=4.3 height=1.05 />
<rect x="14.8" width="3" height="48.5" fill="url(#hc)" fill-opacity="0.35"/>
<path d="M18.3 8.5h2M18.4 1.5h1.5M15.9 4.5h2M5.5 38.5h1M26 24.5h1M5.6 33.5h1.5M19.2 0.5h1M25.9 21.5h2M0.8 37.5h1M1.5 34.5h1M21.1 26.5h1M29.1 3.5h1M22.8 0.5h1M20.8 40.5h1M29.9 4.5h1M4.5 19.5h1M31.6 30.5h1.5M7.7 24.5h1M20.3 33.5h1.5M24.2 39.5h2M29.3 12.5h1.5M20.9 5.5h1.5M14.4 32.5h1M2.5 35.5h1M15.8 17.5h1M5.9 24.5h2M25.7 42.5h2M22.3 46.5h1.5M7.2 8.5h1.5M20.3 12.5h2M9.4 29.5h1.5M25.8 47.5h1.5M10.6 18.5h1M20.8 30.5h1M7.1 0.5h1.5M0.9 4.5h1M7.8 41.5h1M27.6 43.5h1.5M23.7 42.5h1.5M3.1 46.5h1M24.8 41.5h2M19.6 47.5h2M15 42.5h2M12.8 44.5h1M28.1 9.5h1M14.9 8.5h2M26.9 4.5h2M25 31.5h2M16.4 17.5h1.5M20.9 0.5h1M31.1 27.5h1.5M26.6 4.5h1M14.6 5.5h1M23 18.5h2M13.1 9.5h2M21.6 0.5h1M5.3 19.5h2M8.2 23.5h1.5M9.3 20.5h1.5" stroke="#f09080" stroke-width="1" stroke-opacity="0.55"/>
<path d="M15.5 10.5h2.5M15.6 28.5h1.5M14.9 3.5h2.5M16.6 5.5h1M15.2 27.5h1M16.5 45.5h2.5" stroke="#7a000e" stroke-width="1" stroke-opacity="0.55"/>
<path d="M14.1 14.5h1M14.4 38.5h1M17 31.5h1" stroke="#ee6a50" stroke-width="1" stroke-opacity="0.55"/>
</svg>
<svg x="120.5" y="516.6" width="32.5" height="38.9">
<rect x="0" y="0" width="32.5" height="38.9" fill="#fbd2c4"/>
<rect width="32.5" height="38.9" fill="#000" filter="url(#nk)" opacity="0.6"/>
<rect width="32.5" height="38.9" fill="#000" filter="url(#nh)" mask="url(#mf)" opacity="0.1"/>
<rect class=q20 x=12.5 y=0 width=7.5 height=1.05 /><rect class=q20 x=11.6 y=1 width=9.3 height=1.05 /><rect class=q7 x=13.5 y=1 width=5.6 height=1.05 /><rect class=q19 x=11.8 y=2 width=8.9 height=1.05 /><rect class=q20 x=11.9 y=3 width=8.6 height=1.05 /><rect class=q7 x=13.7 y=3 width=5.2 height=1.05 /><rect class=q15 x=11.8 y=4 width=9 height=1.05 /><rect class=q17 x=12.2 y=5 width=8.1 height=1.05 /><rect class=q16 x=12.7 y=6 width=7.2 height=1.05 /><rect class=q18 x=12.6 y=7 width=7.4 height=1.05 /><rect class=q20 x=12.4 y=8 width=7.7 height=1.05 /><rect class=q2 x=13.9 y=8 width=4.6 height=1.05 /><rect class=q20 x=12.5 y=9 width=7.6 height=1.05 /><rect class=q2 x=14 y=9 width=4.5 height=1.05 /><rect class=q20 x=13.1 y=10 width=6.3 height=1.05 /><rect class=q20 x=13 y=11 width=6.4 height=1.05 /><rect class=q1 x=14.3 y=11 width=3.8 height=1.05 /><rect class=q20 x=13.5 y=12 width=5.6 height=1.05 /><rect class=q20 x=12.7 y=13 width=7 height=1.05 /><rect class=q2 x=14.1 y=13 width=4.2 height=1.05 /><rect class=q14 x=12.9 y=14 width=6.6 height=1.05 /><rect class=q18 x=13.2 y=15 width=6 height=1.05 /><rect class=q20 x=13.2 y=16 width=6.1 height=1.05 /><rect class=q18 x=12.9 y=17 width=6.6 height=1.05 /><rect class=q13 x=14.1 y=18 width=4.3 height=1.05 /><rect class=q14 x=13.7 y=19 width=5 height=1.05 /><rect class=q13 x=14.2 y=20 width=4.1 height=1.05 /><rect class=q16 x=13.1 y=21 width=6.2 height=1.05 /><rect class=q18 x=13.7 y=22 width=5.1 height=1.05 /><rect class=q19 x=13.6 y=23 width=5.4 height=1.05 /><rect class=q16 x=14.3 y=24 width=4 height=1.05 /><rect class=q13 x=13.9 y=25 width=4.7 height=1.05 /><rect class=q11 x=14 y=26 width=4.6 height=1.05 /><rect class=q15 x=14.3 y=27 width=3.8 height=1.05 /><rect class=q12 x=13.5 y=28 width=5.4 height=1.05 /><rect class=q13 x=13.7 y=29 width=5.1 height=1.05 /><rect class=q11 x=14.3 y=30 width=3.9 height=1.05 /><rect class=q16 x=13.7 y=31 width=5.1 height=1.05 /><rect class=q10 x=13.9 y=32 width=4.7 height=1.05 /><rect class=q15 x=13.8 y=33 width=5 height=1.05 /><rect class=q15 x=13.8 y=34 width=5 height=1.05 /><rect class=q12 x=14 y=35 width=4.5 height=1.05 /><rect class=q11 x=14.1 y=36 width=4.3 height=1.05 /><rect class=q14 x=13.8 y=37 width=4.8 height=1.05 /><rect class=q14 x=14 y=38 width=4.4 height=1.05 />
<rect x="14.8" width="3" height="38.9" fill="url(#hc)" fill-opacity="0.45"/>
<path d="M11.5 4.5h2M30.4 23.5h2M16.5 27.5h2M9.3 9.5h2M7.7 35.5h1.5M-0.4 27.5h2M30.4 38.5h1.5M6.7 25.5h1M6.2 2.5h1M25.5 26.5h1.5M26.7 1.5h1.5M16.3 27.5h1M11.3 18.5h1M19.4 37.5h1M20.1 10.5h1.5M12.4 35.5h1M2.7 19.5h1M29.7 21.5h2M21.5 0.5h2M20.7 26.5h1M25.6 14.5h1M11.3 30.5h1M25.8 38.5h1M31.4 23.5h1.5M19.1 13.5h1.5M21.3 1.5h1.5M31.9 8.5h1M26.5 24.5h2M20.1 34.5h1.5M5.2 25.5h1.5M2.9 21.5h1.5M6.4 18.5h1M32 4.5h1M28.5 36.5h1M29.6 2.5h2M10.7 18.5h1M29.4 7.5h1M23.3 12.5h1.5M30.2 29.5h2M13.3 24.5h1.5M3 23.5h1M18.1 27.5h1M22.4 11.5h1M4.9 0.5h1.5M20.2 20.5h1" stroke="#f09080" stroke-width="1" stroke-opacity="0.55"/>
<path d="M17.9 14.5h1M18.2 31.5h1M15.1 3.5h2.5M15.4 4.5h1" stroke="#ee6a50" stroke-width="1" stroke-opacity="0.55"/>
<path d="M18.8 13.5h1" stroke="#c8141c" stroke-width="1" stroke-opacity="0.55"/>
<path d="M16.1 13.5h1M16.9 6.5h1M16.1 37.5h1M15 24.5h1M17 23.5h1M14 34.5h1" stroke="#7a000e" stroke-width="1" stroke-opacity="0.55"/>
</svg>
<svg x="120.5" y="555.5" width="32.5" height="33">
<rect x="0" y="0" width="32.5" height="33" fill="#fbd2c4"/>
<rect width="32.5" height="33" fill="#000" filter="url(#nk)" opacity="0.6"/>
<rect width="32.5" height="33" fill="#000" filter="url(#nh)" mask="url(#mf)" opacity="0.15"/>
<rect class=q10 x=13.3 y=0 width=5.9 height=1.05 /><rect class=q12 x=12.8 y=1 width=6.8 height=1.05 /><rect class=q9 x=13.3 y=2 width=6 height=1.05 /><rect class=q10 x=13.1 y=3 width=6.4 height=1.05 /><rect class=q12 x=13 y=4 width=6.4 height=1.05 /><rect class=q12 x=13.2 y=5 width=6.1 height=1.05 /><rect class=q8 x=13.7 y=6 width=5 height=1.05 /><rect class=q7 x=13.5 y=7 width=5.6 height=1.05 /><rect class=q8 x=13.8 y=8 width=4.9 height=1.05 /><rect class=q7 x=14.2 y=9 width=4.1 height=1.05 /><rect class=q11 x=13.8 y=10 width=4.9 height=1.05 /><rect class=q10 x=13.1 y=11 width=6.4 height=1.05 /><rect class=q8 x=13.5 y=12 width=5.4 height=1.05 /><rect class=q7 x=14.2 y=13 width=4.2 height=1.05 /><rect class=q10 x=14.2 y=14 width=4.1 height=1.05 /><rect class=q12 x=14 y=15 width=4.4 height=1.05 /><rect class=q11 x=13.2 y=16 width=6.2 height=1.05 /><rect class=q7 x=13.9 y=17 width=4.7 height=1.05 /><rect class=q9 x=14.1 y=18 width=4.2 height=1.05 /><rect class=q8 x=14 y=19 width=4.6 height=1.05 /><rect class=q9 x=14.1 y=20 width=4.2 height=1.05 /><rect class=q9 x=13.9 y=21 width=4.8 height=1.05 /><rect class=q9 x=14.5 y=22 width=3.6 height=1.05 /><rect class=q11 x=14.1 y=23 width=4.3 height=1.05 /><rect class=q8 x=14.4 y=24 width=3.8 height=1.05 /><rect class=q7 x=13.9 y=25 width=4.7 height=1.05 /><rect class=q8 x=13.6 y=26 width=5.3 height=1.05 /><rect class=q8 x=14.2 y=27 width=4 height=1.05 /><rect class=q10 x=13.8 y=28 width=4.9 height=1.05 /><rect class=q10 x=13.8 y=29 width=5 height=1.05 /><rect class=q9 x=13.8 y=30 width=4.8 height=1.05 /><rect class=q6 x=14.6 y=31 width=3.3 height=1.05 /><rect class=q6 x=14.1 y=32 width=4.4 height=1.05 />
<rect x="14.8" width="3" height="33" fill="url(#hc)" fill-opacity="0.3"/>
<path d="M24 26.5h1M10.2 32.5h1M26.3 25.5h1M0.9 4.5h1.5M4.8 22.5h2M25.6 26.5h2M6.7 29.5h1M20 31.5h2M9.3 0.5h1M2.8 6.5h2M3.8 8.5h1M18.3 13.5h1M26.1 21.5h1M11.2 11.5h1M9.4 9.5h1.5M28.2 20.5h1M29.3 13.5h2M5.5 15.5h1M20.8 3.5h1M15.7 14.5h1.5M30.1 2.5h1M4.2 12.5h1.5M23.5 9.5h1.5M24.2 23.5h1M0.4 20.5h2M20 6.5h1M0.8 8.5h1M13.8 8.5h2M7.5 15.5h1M19.5 29.5h1M0.5 7.5h2M4.3 15.5h1M21.3 20.5h1M6.4 1.5h1M19.1 31.5h1M0.7 24.5h2" stroke="#f09080" stroke-width="1" stroke-opacity="0.55"/>
<path d="M13.5 0.5h1.5M13.5 17.5h1.5M18.3 15.5h1M14.3 24.5h1M18.9 13.5h2.5M15.4 8.5h2M13.8 3.5h1M13.6 9.5h1.5" stroke="#ee6a50" stroke-width="1" stroke-opacity="0.55"/>
<path d="M14.7 15.5h1.5M17 29.5h1M14.5 24.5h2" stroke="#7a000e" stroke-width="1" stroke-opacity="0.55"/>
<path d="M11.6 21.5h2.5" stroke="#c8141c" stroke-width="1" stroke-opacity="0.55"/>
</svg>
<rect x="120.5" y="410.9" width="32.5" height="177.6" fill="none" stroke="#5a5a5a" stroke-width="0.8"/>
<line x1="120.5" y1="468.1" x2="153" y2="468.1" stroke="#666" stroke-width="1.7"/>
<line x1="120.5" y1="516.6" x2="153" y2="516.6" stroke="#666" stroke-width="1.7"/>
<line x1="120.5" y1="555.5" x2="153" y2="555.5" stroke="#666" stroke-width="1.7"/>
<svg x="157.4" y="410.9" width="31.1" height="57.2">
<rect x="0" y="0" width="31.1" height="57.2" fill="#fdeee8"/>
<rect width="31.1" height="57.2" fill="#000" filter="url(#nk)" opacity="0.05"/>
<rect width="31.1" height="57.2" fill="#000" filter="url(#nh)" mask="url(#mf)" opacity="0.4"/>
<rect class=q20 x=1.6 y=0 width=27.8 height=1.05 /><rect class=q16 x=7.2 y=0 width=16.7 height=1.05 /><rect class=q20 x=-1.1 y=1 width=33.2 height=1.05 /><rect class=q4 x=5.6 y=1 width=19.9 height=1.05 /><rect class=q18 x=-1.4 y=2 width=33.9 height=1.05 /><rect class=q17 x=3.6 y=3 width=23.9 height=1.05 /><rect class=q20 x=0.3 y=4 width=30.6 height=1.05 /><rect class=q12 x=6.4 y=4 width=18.3 height=1.05 /><rect class=q20 x=-0.2 y=5 width=31.5 height=1.05 /><rect class=q4 x=6.1 y=5 width=18.9 height=1.05 /><rect class=q20 x=4.9 y=6 width=21.3 height=1.05 /><rect class=q15 x=9.2 y=6 width=12.8 height=1.05 /><rect class=q20 x=1.6 y=7 width=28 height=1.05 /><rect class=q20 x=1.5 y=8 width=28.1 height=1.05 /><rect class=q10 x=7.1 y=8 width=16.8 height=1.05 /><rect class=q17 x=4 y=9 width=23.1 height=1.05 /><rect class=q20 x=4.7 y=10 width=21.7 height=1.05 /><rect class=q4 x=9 y=10 width=13 height=1.05 /><rect class=q20 x=4.2 y=11 width=22.7 height=1.05 /><rect class=q10 x=8.7 y=11 width=13.6 height=1.05 /><rect class=q18 x=3.5 y=12 width=24.1 height=1.05 /><rect class=q20 x=4.5 y=13 width=22.1 height=1.05 /><rect class=q8 x=8.9 y=13 width=13.2 height=1.05 /><rect class=q20 x=5.3 y=14 width=20.4 height=1.05 /><rect class=q7 x=9.4 y=14 width=12.3 height=1.05 /><rect class=q20 x=5 y=15 width=21 height=1.05 /><rect class=q14 x=9.2 y=15 width=12.6 height=1.05 /><rect class=q20 x=8.1 y=16 width=15 height=1.05 /><rect class=q4 x=11.1 y=16 width=9 height=1.05 /><rect class=q19 x=8.7 y=17 width=13.8 height=1.05 /><rect class=q20 x=9.2 y=18 width=12.7 height=1.05 /><rect class=q4 x=11.7 y=18 width=7.6 height=1.05 /><rect class=q20 x=9.2 y=19 width=12.6 height=1.05 /><rect class=q4 x=11.8 y=19 width=7.6 height=1.05 /><rect class=q20 x=8.7 y=20 width=13.7 height=1.05 /><rect class=q10 x=11.4 y=20 width=8.2 height=1.05 /><rect class=q20 x=7.3 y=21 width=16.5 height=1.05 /><rect class=q9 x=10.6 y=21 width=9.9 height=1.05 /><rect class=q20 x=7.4 y=22 width=16.3 height=1.05 /><rect class=q10 x=10.7 y=22 width=9.8 height=1.05 /><rect class=q20 x=8.6 y=23 width=13.9 height=1.05 /><rect class=q2 x=11.4 y=23 width=8.4 height=1.05 /><rect class=q20 x=8 y=24 width=15.2 height=1.05 /><rect class=q4 x=11 y=24 width=9.1 height=1.05 /><rect class=q20 x=9 y=25 width=13.1 height=1.05 /><rect class=q20 x=9.1 y=26 width=12.9 height=1.05 /><rect class=q7 x=11.7 y=26 width=7.8 height=1.05 /><rect class=q20 x=10.2 y=27 width=10.7 height=1.05 /><rect class=q9 x=12.3 y=27 width=6.4 height=1.05 /><rect class=q18 x=10.8 y=28 width=9.6 height=1.05 /><rect class=q19 x=9.8 y=29 width=11.5 height=1.05 /><rect class=q19 x=9.3 y=30 width=12.4 height=1.05 /><rect class=q15 x=9.4 y=31 width=12.3 height=1.05 /><rect class=q20 x=10.8 y=32 width=9.6 height=1.05 /><rect class=q6 x=12.7 y=32 width=5.7 height=1.05 /><rect class=q17 x=10.7 y=33 width=9.7 height=1.05 /><rect class=q14 x=9.7 y=34 width=11.8 height=1.05 /><rect class=q14 x=11.7 y=35 width=7.8 height=1.05 /><rect class=q20 x=10.8 y=36 width=9.6 height=1.05 /><rect class=q16 x=12.1 y=37 width=6.9 height=1.05 /><rect class=q11 x=11.1 y=38 width=8.8 height=1.05 /><rect class=q20 x=12.1 y=39 width=6.9 height=1.05 /><rect class=q2 x=13.5 y=39 width=4.2 height=1.05 /><rect class=q16 x=12 y=40 width=7 height=1.05 /><rect class=q19 x=12.1 y=41 width=6.9 height=1.05 /><rect class=q15 x=12.2 y=42 width=6.7 height=1.05 /><rect class=q20 x=11.7 y=43 width=7.7 height=1.05 /><rect class=q1 x=13.2 y=43 width=4.6 height=1.05 /><rect class=q20 x=11.7 y=44 width=7.6 height=1.05 /><rect class=q3 x=13.3 y=44 width=4.6 height=1.05 /><rect class=q16 x=13 y=45 width=5.2 height=1.05 /><rect class=q17 x=12.8 y=46 width=5.5 height=1.05 /><rect class=q20 x=12.4 y=47 width=6.4 height=1.05 /><rect class=q2 x=13.6 y=47 width=3.8 height=1.05 /><rect class=q13 x=12.6 y=48 width=5.9 height=1.05 /><rect class=q20 x=12.3 y=49 width=6.5 height=1.05 /><rect class=q17 x=12.7 y=50 width=5.6 height=1.05 /><rect class=q18 x=12.6 y=51 width=5.9 height=1.05 /><rect class=q9 x=13.3 y=52 width=4.5 height=1.05 /><rect class=q9 x=13.6 y=53 width=3.9 height=1.05 /><rect class=q12 x=13.4 y=54 width=4.2 height=1.05 /><rect class=q12 x=13.4 y=55 width=4.3 height=1.05 /><rect class=q13 x=13.9 y=56 width=3.2 height=1.05 />
<path d="M13.2 22.5h2M21.6 22.5h2M3.7 4.5h1.5M3.9 18.5h1M8.7 34.5h1.5M5.7 34.5h1M1.5 29.5h2M21.1 34.5h1M11.2 41.5h2M4.3 1.5h1.5M17.5 25.5h1M15.6 23.5h1.5M29.7 8.5h1.5M24.1 26.5h1.5M7.8 27.5h1.5M27.3 36.5h1M5.7 16.5h2M6.9 29.5h1M20.4 0.5h1M12.4 7.5h2M11.1 39.5h1.5M28.7 14.5h1M4.5 11.5h2M19.4 5.5h2M12.4 53.5h2M3.1 42.5h1.5M23.7 33.5h1M6.9 29.5h1M16.6 38.5h1M20.4 43.5h1M8.9 16.5h2M24.2 46.5h1.5M6.4 46.5h1.5M0.4 36.5h1M5.5 18.5h2M7.3 1.5h1.5M17.9 48.5h1.5M0.4 3.5h1M15.6 23.5h1M1.3 19.5h2" stroke="#f09080" stroke-width="1" stroke-opacity="0.55"/>
<path d="M16 53.5h1M14.5 14.5h2.5M14.7 49.5h1.5M15.5 48.5h1.5M13 23.5h2M14.2 56.5h2M8.7 14.5h2.5M21.2 6.5h1.5M16 32.5h2.5M17.7 32.5h1M20.7 4.5h2.5M25.4 3.5h2.5M13.1 38.5h1.5M11.8 37.5h1M17.3 32.5h1.5M12.5 49.5h2.5M20.6 12.5h1M11 35.5h2.5M13.5 9.5h2M12.4 16.5h2.5M11.1 14.5h2.5M15 30.5h2M12.9 50.5h2M19.8 21.5h1.5M14.8 7.5h1" stroke="#7a000e" stroke-width="1" stroke-opacity="0.55"/>
<path d="M13.3 19.5h2.5M15.7 43.5h1M13.8 39.5h2M13.3 38.5h2.5M12.5 48.5h2.5M12.7 41.5h1M12.5 27.5h1M12.7 26.5h1.5M23 6.5h1M-7 3.5h2M13.2 30.5h2.5M18.2 36.5h1M11.4 12.5h2M10.8 32.5h1M25.5 4.5h2M24.4 11.5h2M8.9 7.5h2.5M22.1 20.5h2.5M20.5 32.5h2.5M11.8 46.5h1.5M23 16.5h1.5M16.6 53.5h2.5M9.1 8.5h2M18.4 40.5h2M17.2 47.5h2M2.4 7.5h1.5M12.4 55.5h2M16.4 19.5h1M11.2 41.5h1.5M14.6 34.5h2M22.8 8.5h1M14.3 53.5h1M-2.7 3.5h1M13.6 54.5h1M8.8 35.5h2.5M6.8 27.5h1M14.1 27.5h2.5M10.3 42.5h1M16.5 50.5h1.5M14 55.5h1M12.9 44.5h1M6.9 18.5h1M11.2 18.5h1M22.8 10.5h1" stroke="#ee6a50" stroke-width="1" stroke-opacity="0.55"/>
<path d="M6 14.5h1M4.2 15.5h1.5M11.7 46.5h1M19.6 34.5h1M18.4 37.5h2.5M21.2 27.5h1M25.8 25.5h2.5M-7.8 1.5h1.5M12.1 48.5h1M11.1 42.5h2.5M29.4 9.5h2.5" stroke="#c8141c" stroke-width="1" stroke-opacity="0.55"/>
</svg>
<svg x="157.4" y="468.1" width="31.1" height="48.5">
<rect x="0" y="0" width="31.1" height="48.5" fill="#fdf0ea"/>
<rect width="31.1" height="48.5" fill="#000" filter="url(#nk)" opacity="0.05"/>
<rect width="31.1" height="48.5" fill="#000" filter="url(#nh)" mask="url(#mf)" opacity="0.2"/>
<rect class=q7 x=11 y=0 width=9 height=1.05 /><rect class=q8 x=10.8 y=1 width=9.5 height=1.05 /><rect class=q8 x=11.4 y=2 width=8.2 height=1.05 /><rect class=q6 x=10.1 y=3 width=10.9 height=1.05 /><rect class=q8 x=9.5 y=4 width=12.1 height=1.05 /><rect class=q6 x=11.3 y=5 width=8.6 height=1.05 /><rect class=q6 x=10.3 y=6 width=10.4 height=1.05 /><rect class=q8 x=11.8 y=7 width=7.5 height=1.05 /><rect class=q8 x=11.6 y=8 width=7.9 height=1.05 /><rect class=q5 x=11 y=9 width=9 height=1.05 /><rect class=q5 x=11.7 y=10 width=7.8 height=1.05 /><rect class=q5 x=12.4 y=11 width=6.4 height=1.05 /><rect class=q4 x=11.6 y=12 width=8 height=1.05 /><rect class=q8 x=12 y=13 width=7.2 height=1.05 /><rect class=q7 x=12.5 y=14 width=6.1 height=1.05 /><rect class=q6 x=12.4 y=15 width=6.3 height=1.05 /><rect class=q6 x=13.2 y=16 width=4.7 height=1.05 /><rect class=q5 x=12.9 y=17 width=5.2 height=1.05 /><rect class=q6 x=12.2 y=18 width=6.6 height=1.05 /><rect class=q6 x=12.9 y=19 width=5.3 height=1.05 /><rect class=q5 x=12.7 y=20 width=5.7 height=1.05 /><rect class=q6 x=12.8 y=21 width=5.4 height=1.05 /><rect class=q4 x=12.5 y=22 width=6.2 height=1.05 /><rect class=q3 x=13.2 y=23 width=4.7 height=1.05 /><rect class=q3 x=13.3 y=24 width=4.5 height=1.05 /><rect class=q6 x=12.9 y=25 width=5.4 height=1.05 /><rect class=q5 x=13.3 y=26 width=4.5 height=1.05 /><rect class=q6 x=12.9 y=27 width=5.3 height=1.05 /><rect class=q3 x=12.9 y=28 width=5.2 height=1.05 /><rect class=q5 x=13.3 y=29 width=4.5 height=1.05 /><rect class=q5 x=13.6 y=30 width=3.8 height=1.05 /><rect class=q5 x=13.7 y=31 width=3.7 height=1.05 /><rect class=q6 x=12.8 y=32 width=5.4 height=1.05 /><rect class=q5 x=13.5 y=33 width=4 height=1.05 /><rect class=q6 x=13 y=34 width=5.1 height=1.05 /><rect class=q6 x=13.4 y=35 width=4.4 height=1.05 /><rect class=q4 x=13.7 y=36 width=3.6 height=1.05 /><rect class=q6 x=13.7 y=37 width=3.7 height=1.05 /><rect class=q4 x=13.4 y=38 width=4.2 height=1.05 /><rect class=q4 x=13.3 y=39 width=4.6 height=1.05 /><rect class=q5 x=14 y=40 width=3 height=1.05 /><rect class=q5 x=13.7 y=41 width=3.8 height=1.05 /><rect class=q3 x=13.8 y=42 width=3.6 height=1.05 /><rect class=q5 x=14.2 y=43 width=2.6 height=1.05 /><rect class=q6 x=13.6 y=44 width=3.9 height=1.05 /><rect class=q4 x=13.5 y=45 width=4 height=1.05 /><rect class=q6 x=14.4 y=46 width=2.4 height=1.05 /><rect class=q3 x=13.9 y=47 width=3.2 height=1.05 />
<path d="M7.2 12.5h1.5M16.3 24.5h1M7.5 8.5h1M22.4 46.5h1M16.1 12.5h1.5M19.3 42.5h1.5M5.7 34.5h1M27.5 21.5h1M17.2 47.5h1M8.1 10.5h1M15.4 21.5h2M13.6 27.5h1M26.2 24.5h1M0.4 22.5h2M16.5 21.5h2M15 43.5h2M4.7 34.5h1M30.4 4.5h1M10.8 30.5h1M13.6 42.5h2M15.8 0.5h2M7.9 30.5h2M7.8 6.5h2" stroke="#f09080" stroke-width="1" stroke-opacity="0.55"/>
<path d="M16.1 20.5h2M13 3.5h1M14.8 21.5h1.5M10.3 20.5h2M14.9 16.5h1.5M14.4 11.5h1M14.5 45.5h2.5M12.9 39.5h1.5M13.9 35.5h2M17.6 36.5h2M11.6 7.5h1M12.9 19.5h1M12.1 22.5h2.5" stroke="#ee6a50" stroke-width="1" stroke-opacity="0.55"/>
<path d="M17 25.5h1M15.2 9.5h1M13.3 19.5h2M16.5 13.5h1" stroke="#7a000e" stroke-width="1" stroke-opacity="0.55"/>
</svg>
<svg x="157.4" y="516.6" width="31.1" height="38.9">
<rect x="0" y="0" width="31.1" height="38.9" fill="#fef4f0"/>
<rect width="31.1" height="38.9" fill="#000" filter="url(#nk)" opacity="0.04"/>
<rect width="31.1" height="38.9" fill="#000" filter="url(#nh)" mask="url(#mf)" opacity="0.1"/>
<rect class=q3 x=12.3 y=0 width=6.5 height=1.05 /><rect class=q3 x=12.6 y=1 width=5.8 height=1.05 /><rect class=q3 x=12.2 y=2 width=6.8 height=1.05 /><rect class=q2 x=13.3 y=3 width=4.6 height=1.05 /><rect class=q2 x=12.6 y=4 width=5.8 height=1.05 /><rect class=q4 x=12.7 y=5 width=5.7 height=1.05 /><rect class=q2 x=13.1 y=6 width=4.8 height=1.05 /><rect class=q2 x=13.1 y=7 width=4.9 height=1.05 /><rect class=q2 x=12.3 y=8 width=6.4 height=1.05 /><rect class=q3 x=12.5 y=9 width=6.1 height=1.05 /><rect class=q3 x=13.4 y=10 width=4.2 height=1.05 /><rect class=q2 x=12.4 y=11 width=6.2 height=1.05 /><rect class=q2 x=13.1 y=12 width=4.9 height=1.05 /><rect class=q3 x=13.4 y=13 width=4.3 height=1.05 /><rect class=q3 x=12.6 y=14 width=5.8 height=1.05 /><rect class=q3 x=13.4 y=15 width=4.3 height=1.05 /><rect class=q2 x=13.4 y=16 width=4.4 height=1.05 /><rect class=q2 x=13.8 y=17 width=3.5 height=1.05 /><rect class=q2 x=13.6 y=18 width=3.9 height=1.05 /><rect class=q3 x=13.5 y=19 width=4.1 height=1.05 /><rect class=q2 x=13.6 y=20 width=4 height=1.05 /><rect class=q2 x=13.9 y=21 width=3.3 height=1.05 /><rect class=q3 x=13.7 y=22 width=3.7 height=1.05 /><rect class=q2 x=13.8 y=23 width=3.5 height=1.05 /><rect class=q3 x=13.2 y=24 width=4.7 height=1.05 /><rect class=q3 x=13.1 y=25 width=4.9 height=1.05 /><rect class=q2 x=13.5 y=26 width=4.2 height=1.05 /><rect class=q2 x=14 y=27 width=3.2 height=1.05 /><rect class=q2 x=13.2 y=28 width=4.6 height=1.05 /><rect class=q2 x=13.7 y=29 width=3.8 height=1.05 /><rect class=q3 x=14.1 y=30 width=2.9 height=1.05 /><rect class=q1 x=13.4 y=31 width=4.2 height=1.05 /><rect class=q3 x=13.7 y=32 width=3.7 height=1.05 /><rect class=q3 x=13.5 y=33 width=4.1 height=1.05 /><rect class=q2 x=13.5 y=34 width=4.1 height=1.05 /><rect class=q3 x=13.5 y=35 width=4.1 height=1.05 /><rect class=q3 x=14.3 y=36 width=2.5 height=1.05 /><rect class=q2 x=14.3 y=37 width=2.5 height=1.05 /><rect class=q2 x=14.4 y=38 width=2.3 height=1.05 />
<path d="M0.9 28.5h1M15.1 34.5h1M16.6 12.5h2M6.5 15.5h1M18.1 10.5h1M14.5 22.5h1.5M7.5 0.5h2M28.8 14.5h1M20.9 38.5h1M7.2 28.5h2M16.1 14.5h1.5" stroke="#f09080" stroke-width="1" stroke-opacity="0.55"/>
<path d="M17 27.5h2M14.8 2.5h1M12.6 30.5h1.5" stroke="#ee6a50" stroke-width="1" stroke-opacity="0.55"/>
<path d="M13.9 8.5h2.5M13.4 18.5h1" stroke="#7a000e" stroke-width="1" stroke-opacity="0.55"/>
</svg>
<svg x="157.4" y="555.5" width="31.1" height="33">
<rect x="0" y="0" width="31.1" height="33" fill="#fef4f0"/>
<rect width="31.1" height="33" fill="#000" filter="url(#nk)" opacity="0.04"/>
<rect width="31.1" height="33" fill="#000" filter="url(#nh)" mask="url(#mf)" opacity="0.05"/>
<rect class=q2 x=12.1 y=0 width=7 height=1.05 /><rect class=q1 x=13 y=1 width=5 height=1.05 /><rect class=q1 x=12.4 y=2 width=6.4 height=1.05 /><rect class=q2 x=12.7 y=3 width=5.8 height=1.05 /><rect class=q2 x=12.7 y=4 width=5.7 height=1.05 /><rect class=q2 x=13.4 y=5 width=4.3 height=1.05 /><rect class=q2 x=12.3 y=6 width=6.4 height=1.05 /><rect class=q2 x=13.5 y=7 width=4.1 height=1.05 /><rect class=q2 x=12.5 y=8 width=6.1 height=1.05 /><rect class=q1 x=13.2 y=9 width=4.8 height=1.05 /><rect class=q1 x=13.7 y=10 width=3.8 height=1.05 /><rect class=q2 x=13.5 y=11 width=4.2 height=1.05 /><rect class=q1 x=13.2 y=12 width=4.8 height=1.05 /><rect class=q2 x=13.3 y=13 width=4.6 height=1.05 /><rect class=q2 x=13.2 y=14 width=4.6 height=1.05 /><rect class=q1 x=13 y=15 width=5 height=1.05 /><rect class=q2 x=13.5 y=16 width=4.1 height=1.05 /><rect class=q1 x=13.8 y=17 width=3.4 height=1.05 /><rect class=q2 x=13.5 y=18 width=4.2 height=1.05 /><rect class=q1 x=14.1 y=19 width=3 height=1.05 /><rect class=q1 x=14.2 y=20 width=2.8 height=1.05 /><rect class=q1 x=13.9 y=21 width=3.3 height=1.05 /><rect class=q1 x=13.6 y=22 width=3.8 height=1.05 /><rect class=q1 x=13.6 y=23 width=3.9 height=1.05 /><rect class=q1 x=14.4 y=24 width=2.3 height=1.05 /><rect class=q1 x=14.4 y=25 width=2.2 height=1.05 /><rect class=q1 x=14.2 y=26 width=2.8 height=1.05 /><rect class=q1 x=14.2 y=27 width=2.7 height=1.05 /><rect class=q1 x=14.5 y=28 width=2.2 height=1.05 /><rect class=q1 x=14.2 y=29 width=2.8 height=1.05 /><rect class=q1 x=14.4 y=30 width=2.4 height=1.05 /><rect class=q1 x=14.2 y=31 width=2.7 height=1.05 /><rect class=q1 x=14.4 y=32 width=2.3 height=1.05 />
<path d="M15.5 26.5h2M15.3 1.5h1" stroke="#ee6a50" stroke-width="1" stroke-opacity="0.55"/>
<path d="M12.9 7.5h1M29.8 23.5h1.5M10.4 23.5h1M0.8 12.5h1M18.2 27.5h1.5M7.9 4.5h1.5M23.8 10.5h1M1.6 2.5h1M5.4 26.5h1M26.6 11.5h1.5" stroke="#f09080" stroke-width="1" stroke-opacity="0.55"/>
</svg>
<rect x="157.4" y="410.9" width="31.1" height="177.6" fill="none" stroke="#5a5a5a" stroke-width="0.8"/>
<line x1="157.4" y1="468.1" x2="188.5" y2="468.1" stroke="#666" stroke-width="1.7"/>
<line x1="157.4" y1="516.6" x2="188.5" y2="516.6" stroke="#666" stroke-width="1.7"/>
<line x1="157.4" y1="555.5" x2="188.5" y2="555.5" stroke="#666" stroke-width="1.7"/>
<svg x="190.4" y="410.9" width="31.1" height="57.2">
<rect x="0" y="0" width="31.1" height="57.2" fill="#fdeee8"/>
<rect width="31.1" height="57.2" fill="#000" filter="url(#nk)" opacity="0.05"/>
<rect width="31.1" height="57.2" fill="#000" filter="url(#nh)" mask="url(#mf)" opacity="0.4"/>
<rect class=q20 x=-3.1 y=0 width=37.3 height=1.05 /><rect class=q16 x=4.4 y=0 width=22.4 height=1.05 /><rect class=q20 x=2.3 y=1 width=26.5 height=1.05 /><rect class=q1 x=7.6 y=1 width=15.9 height=1.05 /><rect class=q20 x=4.1 y=2 width=23 height=1.05 /><rect class=q7 x=8.7 y=2 width=13.8 height=1.05 /><rect class=q18 x=1 y=3 width=29 height=1.05 /><rect class=q20 x=2 y=4 width=27 height=1.05 /><rect class=q3 x=7.4 y=4 width=16.2 height=1.05 /><rect class=q20 x=4.2 y=5 width=22.7 height=1.05 /><rect class=q15 x=8.7 y=5 width=13.6 height=1.05 /><rect class=q20 x=6.7 y=6 width=17.6 height=1.05 /><rect class=q11 x=10.3 y=6 width=10.6 height=1.05 /><rect class=q20 x=6.5 y=7 width=18.1 height=1.05 /><rect class=q12 x=10.1 y=7 width=10.9 height=1.05 /><rect class=q20 x=4.9 y=8 width=21.3 height=1.05 /><rect class=q12 x=9.2 y=8 width=12.8 height=1.05 /><rect class=q20 x=4.2 y=9 width=22.6 height=1.05 /><rect class=q14 x=8.8 y=9 width=13.6 height=1.05 /><rect class=q20 x=7.4 y=10 width=16.4 height=1.05 /><rect class=q4 x=10.6 y=10 width=9.8 height=1.05 /><rect class=q16 x=4.4 y=11 width=22.4 height=1.05 /><rect class=q20 x=7.5 y=12 width=16 height=1.05 /><rect class=q6 x=10.7 y=12 width=9.6 height=1.05 /><rect class=q20 x=5.9 y=13 width=19.2 height=1.05 /><rect class=q20 x=6.7 y=14 width=17.8 height=1.05 /><rect class=q4 x=10.2 y=14 width=10.7 height=1.05 /><rect class=q20 x=5.7 y=15 width=19.8 height=1.05 /><rect class=q5 x=9.6 y=15 width=11.9 height=1.05 /><rect class=q15 x=6 y=16 width=19.1 height=1.05 /><rect class=q20 x=6 y=17 width=19.1 height=1.05 /><rect class=q6 x=9.8 y=17 width=11.4 height=1.05 /><rect class=q17 x=9.9 y=18 width=11.4 height=1.05 /><rect class=q19 x=9.5 y=19 width=12 height=1.05 /><rect class=q20 x=9.5 y=20 width=12.1 height=1.05 /><rect class=q4 x=11.9 y=20 width=7.3 height=1.05 /><rect class=q14 x=9.9 y=21 width=11.4 height=1.05 /><rect class=q20 x=8.1 y=22 width=14.9 height=1.05 /><rect class=q10 x=11.1 y=22 width=8.9 height=1.05 /><rect class=q20 x=10.3 y=23 width=10.6 height=1.05 /><rect class=q5 x=12.4 y=23 width=6.4 height=1.05 /><rect class=q15 x=8.8 y=24 width=13.4 height=1.05 /><rect class=q15 x=10.6 y=25 width=9.9 height=1.05 /><rect class=q20 x=11 y=26 width=9.2 height=1.05 /><rect class=q2 x=12.8 y=26 width=5.5 height=1.05 /><rect class=q20 x=11.4 y=27 width=8.4 height=1.05 /><rect class=q18 x=9.6 y=28 width=11.9 height=1.05 /><rect class=q20 x=9.7 y=29 width=11.8 height=1.05 /><rect class=q6 x=12 y=29 width=7.1 height=1.05 /><rect class=q20 x=9.5 y=30 width=12.2 height=1.05 /><rect class=q3 x=11.9 y=30 width=7.3 height=1.05 /><rect class=q13 x=11.5 y=31 width=8 height=1.05 /><rect class=q16 x=10.1 y=32 width=10.8 height=1.05 /><rect class=q20 x=10.9 y=33 width=9.3 height=1.05 /><rect class=q4 x=12.7 y=33 width=5.6 height=1.05 /><rect class=q17 x=11.5 y=34 width=8.1 height=1.05 /><rect class=q20 x=11.1 y=35 width=8.9 height=1.05 /><rect class=q5 x=12.9 y=35 width=5.3 height=1.05 /><rect class=q14 x=12.5 y=36 width=6.2 height=1.05 /><rect class=q12 x=12.5 y=37 width=6.1 height=1.05 /><rect class=q17 x=12.2 y=38 width=6.8 height=1.05 /><rect class=q20 x=12.8 y=39 width=5.6 height=1.05 /><rect class=q16 x=12.6 y=40 width=5.9 height=1.05 /><rect class=q20 x=11.7 y=41 width=7.7 height=1.05 /><rect class=q3 x=13.2 y=41 width=4.6 height=1.05 /><rect class=q18 x=11.5 y=42 width=8.1 height=1.05 /><rect class=q14 x=11.9 y=43 width=7.3 height=1.05 /><rect class=q13 x=11.8 y=44 width=7.4 height=1.05 /><rect class=q15 x=12.1 y=45 width=6.9 height=1.05 /><rect class=q17 x=13.3 y=46 width=4.6 height=1.05 /><rect class=q18 x=13.2 y=47 width=4.7 height=1.05 /><rect class=q13 x=12.8 y=48 width=5.5 height=1.05 /><rect class=q18 x=13.5 y=49 width=4.1 height=1.05 /><rect class=q12 x=13.6 y=50 width=3.9 height=1.05 /><rect class=q17 x=13.1 y=51 width=4.8 height=1.05 /><rect class=q7 x=13.7 y=52 width=3.7 height=1.05 /><rect class=q15 x=14 y=53 width=3 height=1.05 /><rect class=q12 x=13.7 y=54 width=3.7 height=1.05 /><rect class=q8 x=13.5 y=55 width=4.2 height=1.05 /><rect class=q7 x=14.2 y=56 width=2.7 height=1.05 />
<path d="M14.1 10.5h1M16.8 47.5h1M28.1 9.5h1M18.2 44.5h1.5M17.3 36.5h1M21.9 11.5h2M29.4 12.5h2M35.2 13.5h2.5M19.9 41.5h2.5M14.4 27.5h2.5M18.2 34.5h1.5M20.6 32.5h1M20.2 17.5h1.5M14 35.5h2M14.7 51.5h2M13.9 50.5h1M16.1 47.5h2M27.9 6.5h1M17.6 36.5h2.5M18.7 50.5h1M17.1 15.5h1M19.9 28.5h1.5M17.7 28.5h1.5M12.1 39.5h1M14.9 12.5h2.5M22.3 11.5h1M13 39.5h1M20.4 11.5h1.5M22.2 17.5h1M11.6 40.5h1M13.1 54.5h2M17.6 6.5h2.5M16 25.5h1M18.6 21.5h2.5M18.1 23.5h2M16.7 19.5h1M9.7 43.5h1M19.4 30.5h1.5M22.7 17.5h1M11 20.5h1M12.9 24.5h1M9.6 29.5h1.5" stroke="#ee6a50" stroke-width="1" stroke-opacity="0.55"/>
<path d="M15.8 21.5h1M17.5 27.5h2M15.2 21.5h1M18.1 23.5h1M14.7 39.5h1.5M16.4 34.5h2M16.5 10.5h1M17.2 28.5h1M12.5 5.5h1.5M13 30.5h1.5M15.7 7.5h2M16.2 49.5h1M12.6 29.5h1M16.8 38.5h1.5M15.5 4.5h1M15.5 34.5h2M17.8 4.5h2.5M11.5 33.5h2M14.4 41.5h1.5M13.4 17.5h1.5M15 47.5h1.5M11.7 12.5h2.5M17.2 38.5h2M15.5 43.5h1M16.1 55.5h1.5M16 37.5h1M13.4 24.5h1" stroke="#7a000e" stroke-width="1" stroke-opacity="0.55"/>
<path d="M13.7 8.5h1M20.7 19.5h1M21.3 1.5h1.5M15.8 54.5h2M1.7 24.5h1.5M16.2 24.5h1.5M4.5 30.5h1.5M2.4 27.5h1.5M11.7 33.5h2M-0.4 25.5h1M29.4 19.5h1.5M10.7 24.5h1.5M15.5 30.5h1M30.4 55.5h1M0.8 4.5h1M7.2 15.5h1M29.3 15.5h2M12.3 30.5h2M13.3 48.5h2M20.9 23.5h1M25.6 9.5h1M0 30.5h1.5M29.4 12.5h2M28 2.5h1M9.6 54.5h1M2.9 38.5h1M23.5 3.5h2M20.7 22.5h1.5M25.5 14.5h1M2.4 18.5h1.5M1.3 11.5h2M6.5 56.5h1M24.6 9.5h1M18.8 32.5h1" stroke="#f09080" stroke-width="1" stroke-opacity="0.55"/>
<path d="M11 30.5h1M-5.7 2.5h1M2.4 8.5h2M21.2 31.5h1.5M18.9 43.5h1M11.9 56.5h2M16.8 54.5h2M13.4 56.5h1M27.4 12.5h2" stroke="#c8141c" stroke-width="1" stroke-opacity="0.55"/>
</svg>
<svg x="190.4" y="468.1" width="31.1" height="48.5">
<rect x="0" y="0" width="31.1" height="48.5" fill="#fdf0ea"/>
<rect width="31.1" height="48.5" fill="#000" filter="url(#nk)" opacity="0.05"/>
<rect width="31.1" height="48.5" fill="#000" filter="url(#nh)" mask="url(#mf)" opacity="0.2"/>
<rect class=q8 x=9.7 y=0 width=11.6 height=1.05 /><rect class=q9 x=10.3 y=1 width=10.4 height=1.05 /><rect class=q5 x=9.6 y=2 width=11.9 height=1.05 /><rect class=q9 x=10.6 y=3 width=9.8 height=1.05 /><rect class=q7 x=10.7 y=4 width=9.7 height=1.05 /><rect class=q7 x=10.2 y=5 width=10.6 height=1.05 /><rect class=q8 x=10.6 y=6 width=9.8 height=1.05 /><rect class=q7 x=11 y=7 width=9.2 height=1.05 /><rect class=q5 x=11.6 y=8 width=7.9 height=1.05 /><rect class=q5 x=10.4 y=9 width=10.2 height=1.05 /><rect class=q5 x=11.5 y=10 width=8.1 height=1.05 /><rect class=q6 x=11.5 y=11 width=8.1 height=1.05 /><rect class=q5 x=11 y=12 width=9.2 height=1.05 /><rect class=q5 x=11.1 y=13 width=8.9 height=1.05 /><rect class=q9 x=11.3 y=14 width=8.5 height=1.05 /><rect class=q5 x=12.4 y=15 width=6.2 height=1.05 /><rect class=q8 x=11.7 y=16 width=7.6 height=1.05 /><rect class=q6 x=12 y=17 width=7.1 height=1.05 /><rect class=q7 x=11.4 y=18 width=8.2 height=1.05 /><rect class=q6 x=12.5 y=19 width=6.1 height=1.05 /><rect class=q7 x=11.2 y=20 width=8.7 height=1.05 /><rect class=q8 x=12.6 y=21 width=5.9 height=1.05 /><rect class=q4 x=11.4 y=22 width=8.3 height=1.05 /><rect class=q8 x=12.1 y=23 width=7 height=1.05 /><rect class=q6 x=12.7 y=24 width=5.8 height=1.05 /><rect class=q7 x=12.5 y=25 width=6.2 height=1.05 /><rect class=q7 x=12.9 y=26 width=5.3 height=1.05 /><rect class=q7 x=12.5 y=27 width=6.1 height=1.05 /><rect class=q7 x=13.3 y=28 width=4.5 height=1.05 /><rect class=q7 x=12.4 y=29 width=6.2 height=1.05 /><rect class=q4 x=12.9 y=30 width=5.4 height=1.05 /><rect class=q6 x=13.1 y=31 width=4.9 height=1.05 /><rect class=q4 x=12.9 y=32 width=5.4 height=1.05 /><rect class=q6 x=12.9 y=33 width=5.4 height=1.05 /><rect class=q6 x=13.5 y=34 width=4 height=1.05 /><rect class=q8 x=13.2 y=35 width=4.8 height=1.05 /><rect class=q6 x=13.4 y=36 width=4.3 height=1.05 /><rect class=q5 x=13.8 y=37 width=3.5 height=1.05 /><rect class=q5 x=13.1 y=38 width=4.8 height=1.05 /><rect class=q6 x=13.9 y=39 width=3.4 height=1.05 /><rect class=q6 x=13.5 y=40 width=4.2 height=1.05 /><rect class=q6 x=13.6 y=41 width=3.9 height=1.05 /><rect class=q3 x=13.3 y=42 width=4.6 height=1.05 /><rect class=q7 x=13.4 y=43 width=4.4 height=1.05 /><rect class=q6 x=13.9 y=44 width=3.3 height=1.05 /><rect class=q4 x=13.8 y=45 width=3.5 height=1.05 /><rect class=q5 x=14.1 y=46 width=2.8 height=1.05 /><rect class=q6 x=13.8 y=47 width=3.4 height=1.05 />
<path d="M20.9 10.5h1M14.7 40.5h1M12.8 12.5h1.5M18.1 31.5h1M14.2 43.5h2M11.1 23.5h2.5M24.9 6.5h1.5M14.9 18.5h1.5M12.2 22.5h1M14.5 30.5h2" stroke="#ee6a50" stroke-width="1" stroke-opacity="0.55"/>
<path d="M8 44.5h1M4.6 37.5h1M22.8 5.5h2M26.8 45.5h2M10.6 46.5h1M29.7 39.5h1M10.7 21.5h1.5M1.6 15.5h1.5M11.8 13.5h1M8 30.5h2M24.3 41.5h2M22.1 29.5h1M4.6 26.5h1M2.8 27.5h1M24 12.5h1M5.1 48.5h1M20.5 43.5h1M14.8 41.5h2M13.5 20.5h1M4.2 40.5h2M22.3 16.5h1M25.6 13.5h2M10.7 15.5h1.5M2.8 36.5h2M21.2 7.5h2M26 32.5h1M12.4 26.5h2" stroke="#f09080" stroke-width="1" stroke-opacity="0.55"/>
<path d="M11.7 44.5h1" stroke="#c8141c" stroke-width="1" stroke-opacity="0.55"/>
<path d="M15.4 16.5h2M18.3 2.5h1" stroke="#7a000e" stroke-width="1" stroke-opacity="0.55"/>
</svg>
<svg x="190.4" y="516.6" width="31.1" height="38.9">
<rect x="0" y="0" width="31.1" height="38.9" fill="#fdf0ea"/>
<rect width="31.1" height="38.9" fill="#000" filter="url(#nk)" opacity="0.05"/>
<rect width="31.1" height="38.9" fill="#000" filter="url(#nh)" mask="url(#mf)" opacity="0.25"/>
<rect class=q20 x=6.5 y=0 width=18.2 height=1.05 /><rect class=q7 x=10.1 y=0 width=10.9 height=1.05 /><rect class=q14 x=4.6 y=1 width=21.9 height=1.05 /><rect class=q20 x=7 y=2 width=17.2 height=1.05 /><rect class=q4 x=10.4 y=2 width=10.3 height=1.05 /><rect class=q20 x=7.8 y=3 width=15.5 height=1.05 /><rect class=q5 x=10.9 y=3 width=9.3 height=1.05 /><rect class=q12 x=7.8 y=4 width=15.5 height=1.05 /><rect class=q20 x=7.7 y=5 width=15.7 height=1.05 /><rect class=q15 x=7.6 y=6 width=15.9 height=1.05 /><rect class=q20 x=10 y=7 width=11.1 height=1.05 /><rect class=q2 x=12.2 y=7 width=6.7 height=1.05 /><rect class=q19 x=11 y=8 width=9.1 height=1.05 /><rect class=q15 x=9.1 y=9 width=12.9 height=1.05 /><rect class=q15 x=10.5 y=10 width=10.1 height=1.05 /><rect class=q20 x=9.2 y=11 width=12.8 height=1.05 /><rect class=q4 x=11.7 y=11 width=7.7 height=1.05 /><rect class=q20 x=10.6 y=12 width=9.8 height=1.05 /><rect class=q20 x=9.7 y=13 width=11.8 height=1.05 /><rect class=q2 x=12 y=13 width=7.1 height=1.05 /><rect class=q11 x=11.8 y=14 width=7.5 height=1.05 /><rect class=q11 x=11.8 y=15 width=7.4 height=1.05 /><rect class=q16 x=11.7 y=16 width=7.7 height=1.05 /><rect class=q12 x=10.9 y=17 width=9.3 height=1.05 /><rect class=q13 x=11.3 y=18 width=8.5 height=1.05 /><rect class=q12 x=11.6 y=19 width=7.9 height=1.05 /><rect class=q15 x=11.9 y=20 width=7.2 height=1.05 /><rect class=q17 x=12.6 y=21 width=5.8 height=1.05 /><rect class=q16 x=12.8 y=22 width=5.6 height=1.05 /><rect class=q19 x=13 y=23 width=5 height=1.05 /><rect class=q18 x=13 y=24 width=5.2 height=1.05 /><rect class=q15 x=13.5 y=25 width=4.1 height=1.05 /><rect class=q10 x=13.3 y=26 width=4.6 height=1.05 /><rect class=q15 x=12.9 y=27 width=5.4 height=1.05 /><rect class=q11 x=12.9 y=28 width=5.3 height=1.05 /><rect class=q14 x=13.7 y=29 width=3.6 height=1.05 /><rect class=q8 x=14 y=30 width=3 height=1.05 /><rect class=q10 x=14.2 y=31 width=2.7 height=1.05 /><rect class=q11 x=14 y=32 width=3 height=1.05 /><rect class=q6 x=13.7 y=33 width=3.6 height=1.05 /><rect class=q8 x=14.1 y=34 width=2.9 height=1.05 /><rect class=q7 x=14.5 y=35 width=2.1 height=1.05 /><rect class=q5 x=14.5 y=36 width=2 height=1.05 /><rect class=q5 x=14.7 y=37 width=1.8 height=1.05 /><rect class=q4 x=14.6 y=38 width=1.9 height=1.05 />
<path d="M13.6 15.5h2M-0.2 35.5h1.5M5.6 33.5h1M14 32.5h2M14.7 16.5h1M12.6 34.5h1M27.8 27.5h2M28.5 7.5h1.5M8.5 29.5h2M16.9 9.5h2M1.5 38.5h1M22.7 27.5h1M3.9 13.5h1M17.2 36.5h1M-0.5 27.5h1M4.3 27.5h1.5M19.4 19.5h2M14.2 3.5h2M11.1 5.5h1M6.5 29.5h1M27.5 35.5h1M18.6 37.5h1M8.7 10.5h1.5M3.1 37.5h1.5M26.8 31.5h2M27.2 20.5h2M17 7.5h1.5M19.2 37.5h1" stroke="#f09080" stroke-width="1" stroke-opacity="0.55"/>
<path d="M14.2 18.5h1M12.7 21.5h1M16.6 18.5h1M12.6 13.5h1M15.2 18.5h1.5M14.7 29.5h1M16.2 30.5h1M14.3 38.5h1" stroke="#7a000e" stroke-width="1" stroke-opacity="0.55"/>
<path d="M29.1 3.5h1M11.5 17.5h1.5M12.1 24.5h1M16.2 35.5h1.5" stroke="#c8141c" stroke-width="1" stroke-opacity="0.55"/>
<path d="M12.9 28.5h2.5M14.4 29.5h2M15.7 30.5h2.5M15.7 32.5h1M12.7 6.5h1.5M13 5.5h1.5M10.2 8.5h1M13.7 5.5h1M15.4 26.5h2M17.8 7.5h1M13.5 18.5h1M14.6 29.5h1.5M15.7 25.5h1M13.6 29.5h2.5M12.8 36.5h2.5M17 19.5h1M12.3 31.5h1.5M13.8 30.5h2M13.8 4.5h1.5M15.9 13.5h2.5" stroke="#ee6a50" stroke-width="1" stroke-opacity="0.55"/>
</svg>
<svg x="190.4" y="555.5" width="31.1" height="33">
<rect x="0" y="0" width="31.1" height="33" fill="#fef4f0"/>
<rect width="31.1" height="33" fill="#000" filter="url(#nk)" opacity="0.04"/>
<rect width="31.1" height="33" fill="#000" filter="url(#nh)" mask="url(#mf)" opacity="0.05"/>
<rect class=q2 x=13.2 y=0 width=4.7 height=1.05 /><rect class=q1 x=12.1 y=1 width=6.8 height=1.05 /><rect class=q2 x=12.6 y=2 width=5.9 height=1.05 /><rect class=q2 x=12.3 y=3 width=6.5 height=1.05 /><rect class=q2 x=12.3 y=4 width=6.5 height=1.05 /><rect class=q2 x=12.9 y=5 width=5.4 height=1.05 /><rect class=q1 x=12.7 y=6 width=5.6 height=1.05 /><rect class=q2 x=12.7 y=7 width=5.8 height=1.05 /><rect class=q2 x=12.7 y=8 width=5.7 height=1.05 /><rect class=q1 x=12.9 y=9 width=5.2 height=1.05 /><rect class=q1 x=13 y=10 width=5.1 height=1.05 /><rect class=q1 x=13.6 y=11 width=4 height=1.05 /><rect class=q1 x=12.9 y=12 width=5.2 height=1.05 /><rect class=q1 x=13.5 y=13 width=4.1 height=1.05 /><rect class=q2 x=13.5 y=14 width=4.1 height=1.05 /><rect class=q1 x=13.4 y=15 width=4.4 height=1.05 /><rect class=q1 x=13.5 y=16 width=4.1 height=1.05 /><rect class=q1 x=13.5 y=17 width=4.2 height=1.05 /><rect class=q1 x=13.5 y=18 width=4 height=1.05 /><rect class=q1 x=13.4 y=19 width=4.3 height=1.05 /><rect class=q1 x=13.7 y=20 width=3.7 height=1.05 /><rect class=q1 x=13.8 y=21 width=3.5 height=1.05 /><rect class=q2 x=14.2 y=22 width=2.6 height=1.05 /><rect class=q1 x=14 y=23 width=3.1 height=1.05 /><rect class=q1 x=14 y=24 width=3 height=1.05 /><rect class=q2 x=14.4 y=25 width=2.3 height=1.05 /><rect class=q1 x=14.2 y=26 width=2.8 height=1.05 /><rect class=q1 x=14 y=27 width=3.1 height=1.05 /><rect class=q1 x=14.4 y=28 width=2.2 height=1.05 /><rect class=q1 x=14.2 y=29 width=2.7 height=1.05 /><rect class=q1 x=14.5 y=30 width=2.1 height=1.05 /><rect class=q1 x=14.3 y=31 width=2.5 height=1.05 /><rect class=q1 x=14.8 y=32 width=1.6 height=1.05 />
<path d="M24 13.5h2M21.4 17.5h2M24.6 26.5h1M13.4 3.5h1.5M18.5 21.5h1M2.4 9.5h2M11 2.5h2M17.3 11.5h2" stroke="#f09080" stroke-width="1" stroke-opacity="0.55"/>
<path d="M15.3 5.5h1" stroke="#ee6a50" stroke-width="1" stroke-opacity="0.55"/>
<path d="M15.7 28.5h1.5M15.6 24.5h2" stroke="#7a000e" stroke-width="1" stroke-opacity="0.55"/>
<path d="M20.2 15.5h2" stroke="#c8141c" stroke-width="1" stroke-opacity="0.55"/>
</svg>
<rect x="190.4" y="410.9" width="31.1" height="177.6" fill="none" stroke="#5a5a5a" stroke-width="0.8"/>
<line x1="190.4" y1="468.1" x2="221.5" y2="468.1" stroke="#666" stroke-width="1.7"/>
<line x1="190.4" y1="516.6" x2="221.5" y2="516.6" stroke="#666" stroke-width="1.7"/>
<line x1="190.4" y1="555.5" x2="221.5" y2="555.5" stroke="#666" stroke-width="1.7"/>
<svg x="226" y="410.9" width="30.3" height="57.2">
<rect x="0" y="0" width="30.3" height="57.2" fill="#fef4f0"/>
<rect width="30.3" height="57.2" fill="#000" filter="url(#nk)" opacity="0.06"/>
<rect width="30.3" height="57.2" fill="#000" filter="url(#nh)" mask="url(#mf)" opacity="0.05"/>
<rect class=q1 x=11.5 y=0 width=7.4 height=1.05 /><rect class=q1 x=11 y=1 width=8.3 height=1.05 /><rect class=q1 x=11.1 y=2 width=8 height=1.05 /><rect class=q1 x=10.6 y=3 width=9.1 height=1.05 /><rect class=q1 x=11.3 y=4 width=7.7 height=1.05 /><rect class=q1 x=12 y=5 width=6.3 height=1.05 /><rect class=q1 x=12.1 y=6 width=6 height=1.05 /><rect class=q1 x=11.3 y=7 width=7.8 height=1.05 /><rect class=q1 x=10.7 y=8 width=9 height=1.05 /><rect class=q1 x=10.4 y=9 width=9.4 height=1.05 /><rect class=q1 x=11 y=10 width=8.3 height=1.05 /><rect class=q1 x=11.1 y=11 width=8.1 height=1.05 /><rect class=q1 x=12 y=12 width=6.4 height=1.05 /><rect class=q1 x=11.1 y=13 width=8.2 height=1.05 /><rect class=q1 x=12.1 y=14 width=6.2 height=1.05 /><rect class=q1 x=11.8 y=15 width=6.8 height=1.05 /><rect class=q1 x=12.4 y=16 width=5.6 height=1.05 /><rect class=q1 x=11.7 y=17 width=6.9 height=1.05 /><rect class=q1 x=11.4 y=18 width=7.5 height=1.05 /><rect class=q1 x=10.9 y=19 width=8.4 height=1.05 /><rect class=q1 x=12 y=20 width=6.2 height=1.05 /><rect class=q1 x=11.3 y=21 width=7.7 height=1.05 /><rect class=q1 x=12.1 y=22 width=6.1 height=1.05 /><rect class=q1 x=11.4 y=23 width=7.5 height=1.05 /><rect class=q1 x=11.3 y=24 width=7.6 height=1.05 /><rect class=q1 x=12.4 y=25 width=5.4 height=1.05 /><rect class=q1 x=12 y=26 width=6.3 height=1.05 /><rect class=q1 x=11.1 y=27 width=8 height=1.05 /><rect class=q1 x=11.4 y=29 width=7.5 height=1.05 /><rect class=q1 x=12.4 y=30 width=5.6 height=1.05 /><rect class=q1 x=12.5 y=34 width=5.2 height=1.05 /><rect class=q1 x=11.8 y=35 width=6.6 height=1.05 /><rect class=q1 x=11.7 y=37 width=6.9 height=1.05 /><rect class=q1 x=12.4 y=38 width=5.5 height=1.05 /><rect class=q1 x=11.8 y=39 width=6.7 height=1.05 /><rect class=q1 x=12 y=40 width=6.4 height=1.05 /><rect class=q1 x=12.5 y=41 width=5.4 height=1.05 /><rect class=q1 x=11.5 y=42 width=7.3 height=1.05 /><rect class=q1 x=11.7 y=43 width=6.9 height=1.05 /><rect class=q1 x=11.9 y=44 width=6.5 height=1.05 /><rect class=q1 x=11.4 y=45 width=7.4 height=1.05 /><rect class=q1 x=11.4 y=46 width=7.5 height=1.05 /><rect class=q1 x=11.4 y=47 width=7.5 height=1.05 /><rect class=q1 x=11.5 y=48 width=7.3 height=1.05 /><rect class=q1 x=12.5 y=49 width=5.3 height=1.05 /><rect class=q1 x=12.5 y=51 width=5.2 height=1.05 /><rect class=q1 x=11.6 y=53 width=7.1 height=1.05 /><rect class=q1 x=11.4 y=55 width=7.6 height=1.05 />
<path d="M5.1 30.5h2M18.6 9.5h2M7.6 13.5h2M3.9 51.5h1M2.4 52.5h2M0.7 13.5h2M5.7 46.5h1M16 45.5h1M8.2 13.5h2M10 56.5h1M1.1 37.5h1M2.8 42.5h1.5M25.9 25.5h1M14.7 53.5h1M10.6 9.5h1M27.9 16.5h1.5" stroke="#f09080" stroke-width="1" stroke-opacity="0.55"/>
</svg>
<svg x="226" y="468.1" width="30.3" height="48.5">
<rect x="0" y="0" width="30.3" height="48.5" fill="#fef2ee"/>
<rect width="30.3" height="48.5" fill="#000" filter="url(#nk)" opacity="0.06"/>
<rect width="30.3" height="48.5" fill="#000" filter="url(#nh)" mask="url(#mf)" opacity="0.15"/>
<rect class=q6 x=-4.8 y=0 width=39.9 height=1.05 /><rect class=q4 x=-7 y=1 width=44.2 height=1.05 /><rect class=q5 x=-2.1 y=2 width=34.4 height=1.05 /><rect class=q5 x=-2.8 y=3 width=36 height=1.05 /><rect class=q4 x=-0.1 y=4 width=30.4 height=1.05 /><rect class=q2 x=-0.7 y=5 width=31.7 height=1.05 /><rect class=q3 x=0.9 y=6 width=28.4 height=1.05 /><rect class=q2 x=2.8 y=7 width=24.6 height=1.05 /><rect class=q3 x=1.4 y=8 width=27.6 height=1.05 /><rect class=q3 x=3.1 y=9 width=24.2 height=1.05 /><rect class=q2 x=3.1 y=10 width=24 height=1.05 /><rect class=q2 x=4.7 y=11 width=21 height=1.05 /><rect class=q1 x=8.5 y=12 width=13.3 height=1.05 /><rect class=q1 x=7.6 y=13 width=15 height=1.05 /><rect class=q1 x=9.4 y=14 width=11.5 height=1.05 /><rect class=q1 x=8.3 y=15 width=13.7 height=1.05 /><rect class=q1 x=9.7 y=16 width=10.9 height=1.05 /><rect class=q1 x=9 y=17 width=12.4 height=1.05 /><rect class=q1 x=10.2 y=18 width=9.9 height=1.05 /><rect class=q1 x=9.3 y=19 width=11.6 height=1.05 /><rect class=q1 x=9.5 y=20 width=11.4 height=1.05 /><rect class=q1 x=8.6 y=21 width=13.2 height=1.05 /><rect class=q1 x=8.9 y=22 width=12.5 height=1.05 /><rect class=q1 x=9.9 y=23 width=10.4 height=1.05 /><rect class=q1 x=10.5 y=24 width=9.3 height=1.05 /><rect class=q1 x=11 y=25 width=8.2 height=1.05 /><rect class=q1 x=9.2 y=26 width=12 height=1.05 /><rect class=q1 x=9.2 y=27 width=11.9 height=1.05 /><rect class=q1 x=11.5 y=28 width=7.2 height=1.05 /><rect class=q1 x=10 y=29 width=10.3 height=1.05 /><rect class=q1 x=10.5 y=30 width=9.3 height=1.05 /><rect class=q1 x=9.9 y=31 width=10.4 height=1.05 /><rect class=q1 x=10.1 y=32 width=10.2 height=1.05 /><rect class=q1 x=11 y=33 width=8.2 height=1.05 /><rect class=q1 x=10.3 y=34 width=9.7 height=1.05 /><rect class=q1 x=11.8 y=35 width=6.7 height=1.05 /><rect class=q1 x=10.2 y=36 width=9.8 height=1.05 /><rect class=q1 x=11.3 y=37 width=7.6 height=1.05 /><rect class=q1 x=11.5 y=38 width=7.3 height=1.05 /><rect class=q1 x=11.2 y=39 width=7.9 height=1.05 /><rect class=q1 x=12.2 y=40 width=6 height=1.05 /><rect class=q1 x=11.9 y=41 width=6.5 height=1.05 /><rect class=q1 x=11.7 y=42 width=7 height=1.05 /><rect class=q1 x=11 y=43 width=8.4 height=1.05 /><rect class=q1 x=12 y=44 width=6.3 height=1.05 /><rect class=q1 x=12 y=45 width=6.2 height=1.05 /><rect class=q1 x=12.2 y=46 width=5.8 height=1.05 /><rect class=q1 x=12.5 y=47 width=5.3 height=1.05 />
<path d="M24.5 32.5h1.5M3.4 24.5h1M13.4 45.5h1M11.6 38.5h1M3 13.5h1M16.4 21.5h2M3.4 22.5h2M21.2 13.5h2M27.8 8.5h1M7.8 34.5h1M18.9 27.5h1M9.2 3.5h1M6.2 4.5h2M14 3.5h1M0.5 14.5h1M14.9 12.5h1M2.7 26.5h1M18.8 33.5h1M11 35.5h1.5M0.4 9.5h1M26.9 10.5h1M2.2 19.5h1M10.7 11.5h1M21.1 19.5h1" stroke="#f09080" stroke-width="1" stroke-opacity="0.55"/>
</svg>
<svg x="226" y="516.6" width="30.3" height="38.9">
<rect x="0" y="0" width="30.3" height="38.9" fill="#fef4f0"/>
<rect width="30.3" height="38.9" fill="#000" filter="url(#nk)" opacity="0.06"/>
<rect width="30.3" height="38.9" fill="#000" filter="url(#nh)" mask="url(#mf)" opacity="0.1"/>
<rect class=q3 x=-7.6 y=0 width=45.6 height=1.05 /><rect class=q3 x=0.7 y=1 width=28.8 height=1.05 /><rect class=q3 x=-0.5 y=2 width=31.4 height=1.05 /><rect class=q3 x=3.6 y=3 width=23 height=1.05 /><rect class=q2 x=5.2 y=4 width=19.9 height=1.05 /><rect class=q2 x=4.6 y=5 width=21.1 height=1.05 /><rect class=q3 x=6.3 y=6 width=17.7 height=1.05 /><rect class=q2 x=3.2 y=7 width=23.8 height=1.05 /><rect class=q2 x=5.5 y=8 width=19.2 height=1.05 /><rect class=q1 x=4.8 y=9 width=20.7 height=1.05 /><rect class=q2 x=2.9 y=10 width=24.4 height=1.05 /><rect class=q2 x=2.8 y=11 width=24.7 height=1.05 /><rect class=q2 x=5.3 y=12 width=19.6 height=1.05 /><rect class=q2 x=5 y=13 width=20.3 height=1.05 /><rect class=q2 x=7 y=14 width=16.3 height=1.05 /><rect class=q2 x=4.1 y=15 width=22 height=1.05 /><rect class=q1 x=5.3 y=16 width=19.7 height=1.05 /><rect class=q1 x=7.6 y=17 width=15 height=1.05 /><rect class=q1 x=5.6 y=18 width=19.1 height=1.05 /><rect class=q2 x=7.7 y=19 width=14.8 height=1.05 /><rect class=q2 x=6.7 y=20 width=16.9 height=1.05 /><rect class=q1 x=9.4 y=21 width=11.4 height=1.05 /><rect class=q2 x=6.3 y=22 width=17.8 height=1.05 /><rect class=q1 x=9.1 y=23 width=12 height=1.05 /><rect class=q1 x=7.8 y=24 width=14.7 height=1.05 /><rect class=q1 x=8.4 y=25 width=13.6 height=1.05 /><rect class=q1 x=7.7 y=26 width=14.8 height=1.05 /><rect class=q1 x=8.6 y=27 width=13.2 height=1.05 /><rect class=q1 x=8.8 y=28 width=12.8 height=1.05 /><rect class=q1 x=10 y=29 width=10.2 height=1.05 /><rect class=q1 x=9.2 y=30 width=11.9 height=1.05 /><rect class=q1 x=10 y=31 width=10.3 height=1.05 /><rect class=q1 x=11.2 y=32 width=7.8 height=1.05 /><rect class=q1 x=11 y=33 width=8.4 height=1.05 /><rect class=q1 x=10 y=34 width=10.3 height=1.05 /><rect class=q1 x=11.1 y=35 width=8.2 height=1.05 /><rect class=q1 x=10.7 y=36 width=8.8 height=1.05 /><rect class=q1 x=12.2 y=37 width=5.8 height=1.05 /><rect class=q1 x=12.6 y=38 width=5.2 height=1.05 />
<path d="M6.9 22.5h2M12 28.5h2M15 26.5h1M2.6 6.5h1M28.7 35.5h1M9.2 6.5h2M-0.7 11.5h2M6.4 20.5h2M9.3 25.5h1.5M23.2 14.5h1.5M27.3 31.5h2M20.3 30.5h2M28.9 20.5h1M15.6 23.5h2M28.9 24.5h1M8.4 26.5h1.5" stroke="#f09080" stroke-width="1" stroke-opacity="0.55"/>
</svg>
<svg x="226" y="555.5" width="30.3" height="33">
<rect x="0" y="0" width="30.3" height="33" fill="#fce2d8"/>
<rect width="30.3" height="33" fill="#000" filter="url(#nk)" opacity="0.1"/>
<rect width="30.3" height="33" fill="#000" filter="url(#nh)" mask="url(#mf)" opacity="0.5"/>
<rect class=q19 x=-7.9 y=0 width=46.2 height=1.05 /><rect class=q19 x=-7.6 y=1 width=45.4 height=1.05 /><rect class=q20 x=-4.5 y=2 width=39.2 height=1.05 /><rect class=q4 x=3.4 y=2 width=23.5 height=1.05 /><rect class=q15 x=-4.6 y=3 width=39.4 height=1.05 /><rect class=q11 x=-1.9 y=4 width=34.2 height=1.05 /><rect class=q9 x=-0 y=5 width=30.3 height=1.05 /><rect class=q10 x=-7.2 y=6 width=44.6 height=1.05 /><rect class=q16 x=-4.2 y=7 width=38.7 height=1.05 /><rect class=q8 x=-0.9 y=8 width=32 height=1.05 /><rect class=q13 x=2.2 y=9 width=25.9 height=1.05 /><rect class=q7 x=1.7 y=10 width=26.9 height=1.05 /><rect class=q11 x=5.2 y=11 width=19.8 height=1.05 /><rect class=q5 x=3.6 y=12 width=23.1 height=1.05 /><rect class=q8 x=6.1 y=13 width=18.1 height=1.05 /><rect class=q11 x=6.7 y=14 width=16.9 height=1.05 /><rect class=q8 x=8 y=15 width=14.3 height=1.05 /><rect class=q10 x=5.9 y=16 width=18.5 height=1.05 /><rect class=q9 x=4.8 y=17 width=20.7 height=1.05 /><rect class=q8 x=8.3 y=18 width=13.6 height=1.05 /><rect class=q4 x=8.3 y=19 width=13.6 height=1.05 /><rect class=q5 x=5 y=20 width=20.3 height=1.05 /><rect class=q8 x=5.3 y=21 width=19.7 height=1.05 /><rect class=q5 x=6.8 y=22 width=16.7 height=1.05 /><rect class=q6 x=5.9 y=23 width=18.5 height=1.05 /><rect class=q6 x=8.5 y=24 width=13.2 height=1.05 /><rect class=q6 x=7.1 y=25 width=16.1 height=1.05 /><rect class=q6 x=7.9 y=26 width=14.5 height=1.05 /><rect class=q5 x=8 y=27 width=14.3 height=1.05 /><rect class=q4 x=8 y=28 width=14.3 height=1.05 /><rect class=q4 x=10 y=29 width=10.2 height=1.05 /><rect class=q3 x=10.5 y=30 width=9.3 height=1.05 /><rect class=q2 x=10.4 y=31 width=9.5 height=1.05 /><rect class=q3 x=11.2 y=32 width=7.9 height=1.05 />
<path d="M22.3 12.5h1M25.4 22.5h2M9.1 6.5h1M19.2 25.5h1M12.5 2.5h1.5M11.7 9.5h1M25.7 8.5h1.5M9.8 29.5h2M20.2 32.5h1.5M14.6 23.5h2M11.6 30.5h1M16.8 1.5h1.5M19.3 14.5h1M27.8 17.5h1.5M26.8 0.5h1M4.5 22.5h1.5M29 4.5h2M8.9 15.5h2M4.9 32.5h2M28.9 29.5h2M29.3 16.5h1.5M3.1 11.5h1.5M12.3 21.5h1M23.8 21.5h1M16.7 12.5h2M18.8 15.5h2M18.5 18.5h1M4 30.5h1M16.2 8.5h1M20.9 14.5h1.5M19.9 14.5h1M6.4 26.5h2M13.6 9.5h1M20.8 2.5h1M-0.5 20.5h1M4.2 29.5h1.5M1.4 19.5h1.5M11.1 16.5h2M13.6 32.5h1M3.7 1.5h2M7.7 2.5h1M19.7 0.5h1.5M3.1 7.5h2M11.8 19.5h1M22.8 1.5h2M-0.2 6.5h2M19.4 11.5h1M6.1 8.5h1M18.4 0.5h1M1.9 31.5h1.5M2.1 27.5h1M1.9 23.5h2M10.1 26.5h2M19.2 29.5h2M8.8 25.5h1M20.6 17.5h2M12.5 14.5h1M13.7 2.5h1M5.4 12.5h1.5M19.5 23.5h1M9.9 9.5h2M4.8 11.5h1.5M17.7 17.5h2M8.9 20.5h1M2.5 10.5h1.5" stroke="#f09080" stroke-width="1" stroke-opacity="0.55"/>
<path d="M8.6 20.5h1M19.9 28.5h1M3.8 8.5h1.5M11.4 0.5h1M7.6 16.5h1.5M-15.4 5.5h1.5M16.1 28.5h1M33.9 0.5h2M8.6 3.5h2M26.3 6.5h2.5M2.7 13.5h1M12.9 26.5h2M5.4 12.5h1M3.9 22.5h1.5" stroke="#ee6a50" stroke-width="1" stroke-opacity="0.55"/>
<path d="M13.8 28.5h2M17.3 30.5h1M9 17.5h1M20.7 0.5h2M22.6 9.5h2.5M19.6 10.5h1M12.9 31.5h2.5" stroke="#7a000e" stroke-width="1" stroke-opacity="0.55"/>
<path d="M37 9.5h1M46.6 8.5h1.5" stroke="#c8141c" stroke-width="1" stroke-opacity="0.55"/>
</svg>
<rect x="226" y="410.9" width="30.3" height="177.6" fill="none" stroke="#5a5a5a" stroke-width="0.8"/>
<line x1="226" y1="468.1" x2="256.3" y2="468.1" stroke="#666" stroke-width="1.7"/>
<line x1="226" y1="516.6" x2="256.3" y2="516.6" stroke="#666" stroke-width="1.7"/>
<line x1="226" y1="555.5" x2="256.3" y2="555.5" stroke="#666" stroke-width="1.7"/>
<svg x="259" y="410.9" width="30.5" height="57.2">
<rect x="0" y="0" width="30.5" height="57.2" fill="#fdece6"/>
<rect width="30.5" height="57.2" fill="#000" filter="url(#nk)" opacity="0.22"/>
<rect width="30.5" height="57.2" fill="#000" filter="url(#nh)" mask="url(#mf)" opacity="0.05"/>
<rect class=q2 x=10.4 y=0 width=9.6 height=1.05 /><rect class=q2 x=11.6 y=1 width=7.2 height=1.05 /><rect class=q1 x=11.8 y=2 width=7 height=1.05 /><rect class=q1 x=10.7 y=3 width=9 height=1.05 /><rect class=q1 x=10.5 y=4 width=9.4 height=1.05 /><rect class=q1 x=11.3 y=5 width=7.8 height=1.05 /><rect class=q2 x=11.2 y=6 width=8.1 height=1.05 /><rect class=q1 x=10.8 y=7 width=9 height=1.05 /><rect class=q1 x=12 y=8 width=6.5 height=1.05 /><rect class=q1 x=12 y=9 width=6.4 height=1.05 /><rect class=q1 x=12.4 y=10 width=5.7 height=1.05 /><rect class=q1 x=12.4 y=11 width=5.8 height=1.05 /><rect class=q1 x=11.4 y=12 width=7.7 height=1.05 /><rect class=q2 x=11.8 y=13 width=7 height=1.05 /><rect class=q1 x=11.4 y=14 width=7.6 height=1.05 /><rect class=q1 x=11.7 y=15 width=7.1 height=1.05 /><rect class=q1 x=11.8 y=16 width=6.8 height=1.05 /><rect class=q2 x=12.3 y=17 width=5.8 height=1.05 /><rect class=q2 x=12.2 y=18 width=6.2 height=1.05 /><rect class=q1 x=11.5 y=19 width=7.5 height=1.05 /><rect class=q1 x=11.9 y=20 width=6.7 height=1.05 /><rect class=q1 x=12.2 y=21 width=6 height=1.05 /><rect class=q2 x=12 y=22 width=6.5 height=1.05 /><rect class=q1 x=11.5 y=23 width=7.5 height=1.05 /><rect class=q2 x=11.6 y=24 width=7.4 height=1.05 /><rect class=q1 x=10.9 y=25 width=8.6 height=1.05 /><rect class=q2 x=11.3 y=26 width=7.8 height=1.05 /><rect class=q1 x=11.4 y=27 width=7.7 height=1.05 /><rect class=q1 x=10.9 y=28 width=8.6 height=1.05 /><rect class=q1 x=12.2 y=29 width=6.1 height=1.05 /><rect class=q1 x=12.4 y=30 width=5.7 height=1.05 /><rect class=q1 x=12.6 y=31 width=5.3 height=1.05 /><rect class=q1 x=11.5 y=32 width=7.5 height=1.05 /><rect class=q1 x=12.3 y=33 width=5.9 height=1.05 /><rect class=q1 x=11.1 y=34 width=8.4 height=1.05 /><rect class=q1 x=11.8 y=35 width=6.8 height=1.05 /><rect class=q1 x=12.6 y=36 width=5.2 height=1.05 /><rect class=q1 x=11.2 y=37 width=8.1 height=1.05 /><rect class=q1 x=11.6 y=38 width=7.3 height=1.05 /><rect class=q1 x=12.5 y=39 width=5.4 height=1.05 /><rect class=q1 x=12.6 y=40 width=5.3 height=1.05 /><rect class=q1 x=11.7 y=41 width=7.2 height=1.05 /><rect class=q1 x=12.7 y=42 width=5.1 height=1.05 /><rect class=q1 x=12 y=43 width=6.6 height=1.05 /><rect class=q1 x=12.5 y=44 width=5.5 height=1.05 /><rect class=q1 x=12 y=45 width=6.4 height=1.05 /><rect class=q1 x=12.8 y=46 width=4.8 height=1.05 /><rect class=q1 x=11.8 y=47 width=6.9 height=1.05 /><rect class=q1 x=12.4 y=48 width=5.8 height=1.05 /><rect class=q1 x=12.5 y=49 width=5.5 height=1.05 /><rect class=q1 x=12.6 y=50 width=5.4 height=1.05 /><rect class=q1 x=12.9 y=51 width=4.8 height=1.05 /><rect class=q1 x=11.6 y=52 width=7.2 height=1.05 /><rect class=q1 x=12.1 y=53 width=6.3 height=1.05 /><rect class=q1 x=12.8 y=54 width=4.9 height=1.05 /><rect class=q1 x=12.9 y=55 width=4.8 height=1.05 /><rect class=q1 x=13 y=56 width=4.6 height=1.05 />
<path d="M11.1 4.5h1M19.1 21.5h2M1.8 2.5h1.5M10.7 41.5h1M3.2 43.5h2M21.1 8.5h1M1.9 8.5h1M19.9 52.5h2M11.6 18.5h1.5M26.5 53.5h2M16.6 30.5h1.5M13 27.5h1M27.4 38.5h2M17.6 34.5h2M12.7 10.5h1.5M24 44.5h2M10.6 52.5h1M2.4 41.5h1.5M6.3 36.5h1M29.3 4.5h1M9.7 20.5h1M29 25.5h2M23.8 7.5h1.5M20.9 19.5h2M13.8 50.5h1.5M26.7 41.5h2M3.8 18.5h1M29.7 49.5h1M19.5 8.5h1M2.7 23.5h1M28.2 25.5h1M5.4 25.5h1" stroke="#f09080" stroke-width="1" stroke-opacity="0.55"/>
</svg>
<svg x="259" y="468.1" width="30.5" height="48.5">
<rect x="0" y="0" width="30.5" height="48.5" fill="#fdece6"/>
<rect width="30.5" height="48.5" fill="#000" filter="url(#nk)" opacity="0.12"/>
<rect width="30.5" height="48.5" fill="#000" filter="url(#nh)" mask="url(#mf)" opacity="0.2"/>
<rect class=q20 x=-10.5 y=0 width=51.5 height=1.05 /><rect class=q10 x=-0.2 y=0 width=30.9 height=1.05 /><rect class=q20 x=-3.3 y=1 width=37 height=1.05 /><rect class=q10 x=4.1 y=1 width=22.2 height=1.05 /><rect class=q20 x=-9.9 y=2 width=50.2 height=1.05 /><rect class=q20 x=-1 y=3 width=32.5 height=1.05 /><rect class=q4 x=5.5 y=3 width=19.5 height=1.05 /><rect class=q20 x=-1.6 y=4 width=33.6 height=1.05 /><rect class=q4 x=5.2 y=4 width=20.2 height=1.05 /><rect class=q12 x=0.9 y=5 width=28.7 height=1.05 /><rect class=q20 x=-4.3 y=6 width=39.1 height=1.05 /><rect class=q1 x=3.5 y=6 width=23.5 height=1.05 /><rect class=q20 x=-2.9 y=7 width=36.4 height=1.05 /><rect class=q1 x=4.3 y=7 width=21.8 height=1.05 /><rect class=q18 x=-0.3 y=8 width=31 height=1.05 /><rect class=q11 x=4.3 y=9 width=22 height=1.05 /><rect class=q9 x=2.1 y=10 width=26.2 height=1.05 /><rect class=q17 x=4.6 y=11 width=21.4 height=1.05 /><rect class=q13 x=2.6 y=12 width=25.4 height=1.05 /><rect class=q14 x=4.3 y=13 width=21.8 height=1.05 /><rect class=q11 x=5.6 y=14 width=19.3 height=1.05 /><rect class=q11 x=4.7 y=15 width=21 height=1.05 /><rect class=q10 x=6.5 y=16 width=17.5 height=1.05 /><rect class=q10 x=8.5 y=17 width=13.6 height=1.05 /><rect class=q8 x=7.4 y=18 width=15.8 height=1.05 /><rect class=q9 x=9.3 y=19 width=12 height=1.05 /><rect class=q10 x=6 y=20 width=18.4 height=1.05 /><rect class=q12 x=8.8 y=21 width=12.9 height=1.05 /><rect class=q10 x=8.6 y=22 width=13.2 height=1.05 /><rect class=q9 x=8.9 y=23 width=12.7 height=1.05 /><rect class=q10 x=7.4 y=24 width=15.7 height=1.05 /><rect class=q8 x=10.3 y=25 width=10 height=1.05 /><rect class=q10 x=9 y=26 width=12.5 height=1.05 /><rect class=q8 x=10.2 y=27 width=10.2 height=1.05 /><rect class=q7 x=10 y=28 width=10.5 height=1.05 /><rect class=q10 x=10.1 y=29 width=10.3 height=1.05 /><rect class=q9 x=11.6 y=30 width=7.2 height=1.05 /><rect class=q7 x=10.3 y=31 width=9.9 height=1.05 /><rect class=q5 x=11.9 y=32 width=6.7 height=1.05 /><rect class=q9 x=10.9 y=33 width=8.6 height=1.05 /><rect class=q7 x=11.8 y=34 width=6.8 height=1.05 /><rect class=q8 x=10.7 y=35 width=9.1 height=1.05 /><rect class=q6 x=11.3 y=36 width=8 height=1.05 /><rect class=q6 x=12.1 y=37 width=6.3 height=1.05 /><rect class=q8 x=11.6 y=38 width=7.3 height=1.05 /><rect class=q5 x=11.8 y=39 width=7 height=1.05 /><rect class=q6 x=12.6 y=40 width=5.3 height=1.05 /><rect class=q4 x=11.1 y=41 width=8.4 height=1.05 /><rect class=q6 x=12.1 y=42 width=6.2 height=1.05 /><rect class=q3 x=11.4 y=43 width=7.8 height=1.05 /><rect class=q5 x=12.5 y=44 width=5.4 height=1.05 /><rect class=q6 x=12.6 y=45 width=5.2 height=1.05 /><rect class=q4 x=12.3 y=46 width=6 height=1.05 /><rect class=q3 x=12.2 y=47 width=6.1 height=1.05 />
<path d="M11.5 46.5h1M25.9 5.5h2M28.2 6.5h1M-2.6 17.5h2M12 39.5h1M15.1 13.5h1.5M11.6 0.5h1.5M28.5 5.5h2M13.7 12.5h1.5M10.9 29.5h1M5.3 1.5h2M15.7 45.5h2M16.4 14.5h1M16.4 26.5h2.5M17.9 48.5h2M22.4 43.5h1.5M14 41.5h2M8.4 28.5h1M12 43.5h2M26.7 17.5h1.5M19.6 14.5h1M14.8 31.5h1.5M10.1 30.5h2.5" stroke="#ee6a50" stroke-width="1" stroke-opacity="0.55"/>
<path d="M13.9 9.5h1M14.3 30.5h2.5M16.9 48.5h1M13.7 29.5h1M23.4 10.5h2M22.4 5.5h2M15.1 48.5h2.5M12.8 15.5h2M14.5 35.5h1.5M13.4 35.5h2.5M16.9 13.5h2.5" stroke="#7a000e" stroke-width="1" stroke-opacity="0.55"/>
<path d="M29.7 32.5h1M28.2 1.5h1.5M0.4 41.5h1M6.2 34.5h2M0.4 12.5h2M13.9 36.5h1.5M9 3.5h1M1.4 5.5h2M3.5 3.5h2M5.9 33.5h1.5M7.9 16.5h1M5.5 31.5h1M-0.6 14.5h2M18.1 12.5h1M14 0.5h2M12.6 12.5h1.5M-0.1 14.5h1M23.8 46.5h2M16.1 19.5h1M10.3 6.5h1.5M17.1 21.5h1M14 26.5h1.5M11.9 35.5h2M16.7 10.5h2" stroke="#f09080" stroke-width="1" stroke-opacity="0.55"/>
<path d="M9.3 35.5h1M20.6 28.5h1" stroke="#c8141c" stroke-width="1" stroke-opacity="0.55"/>
</svg>
<svg x="259" y="516.6" width="30.5" height="38.9">
<rect x="0" y="0" width="30.5" height="38.9" fill="#fdeee8"/>
<rect width="30.5" height="38.9" fill="#000" filter="url(#nk)" opacity="0.15"/>
<rect width="30.5" height="38.9" fill="#000" filter="url(#nh)" mask="url(#mf)" opacity="0.05"/>
<rect class=q2 x=11.8 y=0 width=6.8 height=1.05 /><rect class=q2 x=10.8 y=1 width=8.9 height=1.05 /><rect class=q2 x=11.4 y=2 width=7.7 height=1.05 /><rect class=q2 x=10.5 y=3 width=9.6 height=1.05 /><rect class=q2 x=11 y=4 width=8.5 height=1.05 /><rect class=q1 x=10.6 y=5 width=9.2 height=1.05 /><rect class=q2 x=12.2 y=6 width=6.1 height=1.05 /><rect class=q2 x=10.6 y=7 width=9.4 height=1.05 /><rect class=q1 x=12 y=8 width=6.5 height=1.05 /><rect class=q2 x=11.8 y=9 width=6.9 height=1.05 /><rect class=q1 x=11 y=10 width=8.5 height=1.05 /><rect class=q2 x=11.3 y=11 width=7.9 height=1.05 /><rect class=q2 x=11.7 y=12 width=7.1 height=1.05 /><rect class=q2 x=11.6 y=13 width=7.2 height=1.05 /><rect class=q1 x=12.5 y=14 width=5.4 height=1.05 /><rect class=q2 x=12.5 y=15 width=5.5 height=1.05 /><rect class=q1 x=11.3 y=16 width=8 height=1.05 /><rect class=q1 x=11.8 y=17 width=7 height=1.05 /><rect class=q2 x=12.6 y=18 width=5.3 height=1.05 /><rect class=q1 x=12.4 y=19 width=5.7 height=1.05 /><rect class=q1 x=12 y=20 width=6.5 height=1.05 /><rect class=q1 x=11.4 y=21 width=7.7 height=1.05 /><rect class=q2 x=11.3 y=22 width=7.9 height=1.05 /><rect class=q2 x=12.3 y=23 width=6 height=1.05 /><rect class=q1 x=11.4 y=24 width=7.7 height=1.05 /><rect class=q1 x=12.3 y=25 width=5.9 height=1.05 /><rect class=q1 x=11.6 y=26 width=7.2 height=1.05 /><rect class=q1 x=11.2 y=27 width=8 height=1.05 /><rect class=q2 x=11.2 y=28 width=8.1 height=1.05 /><rect class=q1 x=12.2 y=29 width=6.1 height=1.05 /><rect class=q1 x=11.8 y=30 width=7 height=1.05 /><rect class=q1 x=11.9 y=31 width=6.7 height=1.05 /><rect class=q1 x=12.1 y=32 width=6.3 height=1.05 /><rect class=q1 x=11.9 y=33 width=6.8 height=1.05 /><rect class=q1 x=12.5 y=34 width=5.4 height=1.05 /><rect class=q1 x=12.1 y=35 width=6.2 height=1.05 /><rect class=q1 x=12.6 y=36 width=5.3 height=1.05 /><rect class=q1 x=12.8 y=37 width=4.9 height=1.05 /><rect class=q1 x=11.8 y=38 width=6.9 height=1.05 />
<path d="M2.1 6.5h2M13.5 20.5h1.5M-0.4 20.5h2M14.3 2.5h2M20.9 35.5h1M19 6.5h1.5M8.3 35.5h1M5.4 17.5h1.5M20 18.5h1M4.9 35.5h2M6.3 27.5h1M4.3 4.5h1.5M29 32.5h1M24.9 36.5h2M18.9 2.5h2M20.9 3.5h1.5M15.8 6.5h1M11 29.5h1M15.4 16.5h1M24.1 33.5h1.5M3.9 30.5h2M26.9 2.5h1M20.3 33.5h2M29.2 26.5h1" stroke="#f09080" stroke-width="1" stroke-opacity="0.55"/>
</svg>
<svg x="259" y="555.5" width="30.5" height="33">
<rect x="0" y="0" width="30.5" height="33" fill="#f2a898"/>
<rect width="30.5" height="33" fill="#000" filter="url(#nk)" opacity="0.1"/>
<rect width="30.5" height="33" fill="#000" filter="url(#nh)" mask="url(#mf)" opacity="0.3"/>
<rect class=q20 x=-27.7 y=0 width=85.9 height=1.05 /><rect class=q13 x=-10.5 y=0 width=51.6 height=1.05 /><rect class=q20 x=-27.9 y=1 width=86.2 height=1.05 /><rect class=q20 x=-10.6 y=1 width=51.7 height=1.05 /><rect class=q20 x=-20.3 y=2 width=71.1 height=1.05 /><rect class=q15 x=-6.1 y=2 width=42.7 height=1.05 /><rect class=q20 x=-20.4 y=3 width=71.2 height=1.05 /><rect class=q20 x=-6.1 y=3 width=42.7 height=1.05 /><rect class=q20 x=-18.6 y=4 width=67.7 height=1.05 /><rect class=q18 x=-5 y=4 width=40.6 height=1.05 /><rect class=q20 x=-24.8 y=5 width=80.2 height=1.05 /><rect class=q6 x=-8.8 y=5 width=48.1 height=1.05 /><rect class=q20 x=-19 y=6 width=68.5 height=1.05 /><rect class=q20 x=-5.3 y=6 width=41.1 height=1.05 /><rect class=q20 x=-14.3 y=7 width=59.1 height=1.05 /><rect class=q16 x=-2.5 y=7 width=35.4 height=1.05 /><rect class=q20 x=-19.7 y=8 width=70 height=1.05 /><rect class=q8 x=-5.7 y=8 width=42 height=1.05 /><rect class=q20 x=-9.4 y=9 width=49.3 height=1.05 /><rect class=q17 x=0.5 y=9 width=29.6 height=1.05 /><rect class=q20 x=-13.8 y=10 width=58.1 height=1.05 /><rect class=q20 x=-2.2 y=10 width=34.9 height=1.05 /><rect class=q20 x=-14.3 y=11 width=59 height=1.05 /><rect class=q6 x=-2.5 y=11 width=35.4 height=1.05 /><rect class=q20 x=-11.9 y=12 width=54.3 height=1.05 /><rect class=q9 x=-1 y=12 width=32.6 height=1.05 /><rect class=q20 x=-6.8 y=13 width=44.1 height=1.05 /><rect class=q10 x=2 y=13 width=26.4 height=1.05 /><rect class=q20 x=-11 y=14 width=52.5 height=1.05 /><rect class=q13 x=-0.5 y=14 width=31.5 height=1.05 /><rect class=q20 x=-5.4 y=15 width=41.3 height=1.05 /><rect class=q4 x=2.8 y=15 width=24.8 height=1.05 /><rect class=q20 x=-3.6 y=16 width=37.7 height=1.05 /><rect class=q12 x=4 y=16 width=22.6 height=1.05 /><rect class=q20 x=-3.4 y=17 width=37.4 height=1.05 /><rect class=q13 x=4 y=17 width=22.4 height=1.05 /><rect class=q20 x=-5.5 y=18 width=41.4 height=1.05 /><rect class=q8 x=2.8 y=18 width=24.9 height=1.05 /><rect class=q20 x=2.2 y=19 width=26.1 height=1.05 /><rect class=q9 x=7.4 y=19 width=15.7 height=1.05 /><rect class=q20 x=0.1 y=20 width=30.2 height=1.05 /><rect class=q3 x=6.2 y=20 width=18.1 height=1.05 /><rect class=q20 x=2.7 y=21 width=25 height=1.05 /><rect class=q7 x=7.7 y=21 width=15 height=1.05 /><rect class=q20 x=5.9 y=22 width=18.8 height=1.05 /><rect class=q4 x=9.6 y=22 width=11.3 height=1.05 /><rect class=q20 x=3.3 y=23 width=24 height=1.05 /><rect class=q1 x=8.1 y=23 width=14.4 height=1.05 /><rect class=q18 x=3.6 y=24 width=23.3 height=1.05 /><rect class=q20 x=4.8 y=25 width=20.9 height=1.05 /><rect class=q7 x=9 y=25 width=12.6 height=1.05 /><rect class=q20 x=5.2 y=26 width=20 height=1.05 /><rect class=q20 x=8.7 y=27 width=13.1 height=1.05 /><rect class=q4 x=11.3 y=27 width=7.9 height=1.05 /><rect class=q20 x=6.8 y=28 width=16.9 height=1.05 /><rect class=q18 x=8.7 y=29 width=13.1 height=1.05 /><rect class=q13 x=9.9 y=30 width=10.7 height=1.05 /><rect class=q19 x=8.4 y=31 width=13.7 height=1.05 /><rect class=q13 x=9.8 y=32 width=11 height=1.05 />
<path d="M34.1 18.5h1M23.9 30.5h1M23.2 13.5h1M37.2 8.5h1M-25.2 3.5h1.5M12.9 27.5h1M-21.5 0.5h1M34.1 0.5h1M7.2 30.5h1.5M27.1 14.5h1M-20 9.5h2.5M17.3 13.5h1.5M80 14.5h2.5M28.8 12.5h1M17.5 20.5h2M10.7 31.5h2M17.1 32.5h1.5M41 13.5h1.5M6.5 18.5h1M-3 13.5h1M27.7 27.5h1M16.5 2.5h1M4.1 24.5h1M33.4 18.5h1M22.6 24.5h1M17.6 24.5h2.5M50.9 8.5h1.5M9.5 30.5h1M0.9 12.5h2M6.5 27.5h1.5M16.7 27.5h1M5.9 11.5h1M11.6 22.5h1M13.3 28.5h1.5M70.9 4.5h2.5" stroke="#ee6a50" stroke-width="1" stroke-opacity="0.55"/>
<path d="M8.1 9.5h2.5M15.7 18.5h2M15.6 27.5h1M13.5 28.5h2M20.1 19.5h2.5M-0.8 8.5h2.5M23.6 14.5h2.5M37.3 1.5h2M19 30.5h2M3.2 11.5h1.5M1.2 14.5h2.5M14 28.5h1M15.9 23.5h2M44.2 1.5h1M15.4 26.5h1M24.8 8.5h1.5M18.6 32.5h1M18.8 28.5h2.5M6.9 22.5h2M18.9 29.5h2M-1.9 7.5h2M-13.1 7.5h2M10.7 21.5h1" stroke="#7a000e" stroke-width="1" stroke-opacity="0.55"/>
<path d="M17.6 30.5h2M5.8 27.5h1M4.2 14.5h1M6 29.5h1M6.4 3.5h1M23.8 14.5h1.5M26.2 30.5h1.5M21.3 8.5h1M10.5 3.5h1.5M6.9 2.5h1M18 21.5h2M23.7 0.5h1M23.7 0.5h2M1.7 22.5h1M28.9 14.5h1M-0.2 1.5h1M12.1 26.5h2M18.6 2.5h1M16.5 10.5h1.5M9.9 2.5h1.5M14.6 14.5h1.5M22.9 21.5h1M26.4 1.5h2M6.8 20.5h1M14.1 23.5h2M5.8 21.5h1M27.7 16.5h1M20.1 17.5h1.5M18.6 29.5h1M21.3 20.5h1M24.1 29.5h2M6.7 32.5h1M22.3 3.5h1.5" stroke="#f09080" stroke-width="1" stroke-opacity="0.55"/>
<path d="M35.8 20.5h1M59.1 2.5h1M20.7 27.5h2.5M6 25.5h1M43.1 7.5h2.5M-1.8 22.5h1.5M44.6 10.5h2.5M55.8 10.5h1M34.5 21.5h1" stroke="#c8141c" stroke-width="1" stroke-opacity="0.55"/>
</svg>
<rect x="259" y="410.9" width="30.5" height="177.6" fill="none" stroke="#5a5a5a" stroke-width="0.8"/>
<line x1="259" y1="468.1" x2="289.5" y2="468.1" stroke="#666" stroke-width="1.7"/>
<line x1="259" y1="516.6" x2="289.5" y2="516.6" stroke="#666" stroke-width="1.7"/>
<line x1="259" y1="555.5" x2="289.5" y2="555.5" stroke="#666" stroke-width="1.7"/>
<rect x="33.9" y="593.7" width="27.8" height="4" fill="url(#cbr)" stroke="#777" stroke-width="0.5"/>
<text x="34.2" y="605.4" font-size="7" text-anchor="middle" fill="#333" stroke="#333" stroke-width="0.16">0</text>
<text x="56.5" y="605.4" font-size="7" text-anchor="middle" fill="#333" stroke="#333" stroke-width="0.16">100</text>
<text x="46" y="613.1" font-size="7" text-anchor="middle" fill="#333" stroke="#333" stroke-width="0.16">RPGC</text>
<rect x="87.6" y="593.7" width="27.4" height="4" fill="url(#cbr)" stroke="#777" stroke-width="0.5"/>
<text x="87.6" y="605.4" font-size="7" text-anchor="middle" fill="#333" stroke="#333" stroke-width="0.16">0</text>
<text x="111.7" y="605.4" font-size="7" text-anchor="middle" fill="#333" stroke="#333" stroke-width="0.16">13</text>
<text x="100.7" y="613.1" font-size="7" text-anchor="middle" fill="#333" stroke="#333" stroke-width="0.16">RPGC</text>
<rect x="123.7" y="593.7" width="27.3" height="4" fill="url(#cbr)" stroke="#777" stroke-width="0.5"/>
<text x="123.7" y="605.4" font-size="7" text-anchor="middle" fill="#333" stroke="#333" stroke-width="0.16">0</text>
<text x="148" y="605.4" font-size="7" text-anchor="middle" fill="#333" stroke="#333" stroke-width="0.16">4.5</text>
<text x="137" y="613.1" font-size="7" text-anchor="middle" fill="#333" stroke="#333" stroke-width="0.16">RPGC</text>
<rect x="176.2" y="593.7" width="27.3" height="4" fill="url(#cbr)" stroke="#777" stroke-width="0.5"/>
<text x="176.9" y="605.4" font-size="7" text-anchor="middle" fill="#333" stroke="#333" stroke-width="0.16">0</text>
<text x="202.6" y="605.4" font-size="7" text-anchor="middle" fill="#333" stroke="#333" stroke-width="0.16">25</text>
<text x="190.9" y="613.1" font-size="7" text-anchor="middle" fill="#333" stroke="#333" stroke-width="0.16">RPGC</text>
<rect x="244.4" y="593.7" width="26.9" height="4" fill="url(#cbr)" stroke="#777" stroke-width="0.5"/>
<text x="244.8" y="605.4" font-size="7" text-anchor="middle" fill="#333" stroke="#333" stroke-width="0.16">0</text>
<text x="271.3" y="605.4" font-size="7" text-anchor="middle" fill="#333" stroke="#333" stroke-width="0.16">30</text>
<text x="258.7" y="613.1" font-size="7" text-anchor="middle" fill="#333" stroke="#333" stroke-width="0.16">RPGC</text>
<line x1="275.5" y1="613.8" x2="287.2" y2="613.8" stroke="#333" stroke-width="0.8"/>
<text x="281.6" y="623" font-size="7" text-anchor="middle" fill="#333" stroke="#333" stroke-width="0.16">4kb</text>
<text x="310.5" y="402.5" font-size="9.5" font-weight="bold" fill="#231f20">l</text>
<text x="370.7" y="400.1" font-size="7" fill="#333" stroke="#333" stroke-width="0.16">chr 16</text>
<text x="370.7" y="410.6" font-size="7" fill="#333" stroke="#333" stroke-width="0.16">51,130 kb</text>
<text x="438.3" y="410.6" font-size="7" text-anchor="middle" fill="#333" stroke="#333" stroke-width="0.16">51,145 kb</text>
<text x="474.3" y="410.6" font-size="7" fill="#333" stroke="#333" stroke-width="0.16">51,160 kb</text>
<line x1="383.4" y1="415" x2="474.3" y2="415" stroke="#555" stroke-width="0.7"/>
<line x1="383.4" y1="412.8" x2="383.4" y2="415" stroke="#555" stroke-width="0.6"/>
<line x1="438.3" y1="412.8" x2="438.3" y2="415" stroke="#555" stroke-width="0.6"/>
<line x1="474.3" y1="412.8" x2="474.3" y2="415" stroke="#555" stroke-width="0.6"/>
<text x="524.4" y="401.1" font-size="7" fill="#333" stroke="#333" stroke-width="0.16">chr 1</text>
<text x="524.4" y="410.3" font-size="7" fill="#333" stroke="#333" stroke-width="0.16">16,100 kb</text>
<text x="591.7" y="410.3" font-size="7" text-anchor="middle" fill="#333" stroke="#333" stroke-width="0.16">16,140 kb</text>
<text x="646.9" y="410.3" font-size="7" text-anchor="middle" fill="#333" stroke="#333" stroke-width="0.16">16,180 kb</text>
<line x1="535.8" y1="415.2" x2="643.8" y2="415.2" stroke="#555" stroke-width="0.7"/>
<line x1="535.8" y1="413" x2="535.8" y2="415.2" stroke="#555" stroke-width="0.6"/>
<line x1="591.7" y1="413" x2="591.7" y2="415.2" stroke="#555" stroke-width="0.6"/>
<line x1="643.8" y1="413" x2="643.8" y2="415.2" stroke="#555" stroke-width="0.6"/>
<rect x="370.2" y="420.5" width="123.3" height="18.6" fill="#f7f7f7"/>
<rect x="531.5" y="420.5" width="121.7" height="18.6" fill="#f7f7f7"/>
<rect x="370.2" y="439.9" width="123.3" height="18.6" fill="#f7f7f7"/>
<rect x="531.5" y="439.9" width="121.7" height="18.6" fill="#f7f7f7"/>
<rect x="370.2" y="459.4" width="123.3" height="18.6" fill="#f7f7f7"/>
<rect x="531.5" y="459.4" width="121.7" height="18.6" fill="#f7f7f7"/>
<rect x="370.2" y="478.9" width="123.3" height="18.6" fill="#f7f7f7"/>
<rect x="531.5" y="478.9" width="121.7" height="18.6" fill="#f7f7f7"/>
<rect x="370.2" y="498.3" width="123.3" height="18.6" fill="#f7f7f7"/>
<rect x="531.5" y="498.3" width="121.7" height="18.6" fill="#f7f7f7"/>
<rect x="370.2" y="517.8" width="123.3" height="18.6" fill="#f7f7f7"/>
<rect x="531.5" y="517.8" width="121.7" height="18.6" fill="#f7f7f7"/>
<rect x="370.2" y="537.2" width="123.3" height="18.6" fill="#f7f7f7"/>
<rect x="531.5" y="537.2" width="121.7" height="18.6" fill="#f7f7f7"/>
<rect x="370.2" y="556.6" width="123.3" height="18.6" fill="#f7f7f7"/>
<rect x="531.5" y="556.6" width="121.7" height="18.6" fill="#f7f7f7"/>
<text x="366.1" y="436.1" font-size="7.3" text-anchor="end" fill="#222" stroke="#222" stroke-width="0.16">Naïve hESC</text>
<text x="370.6" y="425.4" font-size="5.5" fill="#333" stroke="#333" stroke-width="0.16">[0-300]</text>
<text x="531.9" y="425.4" font-size="5.5" fill="#333" stroke="#333" stroke-width="0.16">[0-300]</text>
<text x="366.1" y="455.6" font-size="7.3" text-anchor="end" fill="#222" stroke="#222" stroke-width="0.16">Primed hESC</text>
<text x="370.6" y="444.8" font-size="5.5" fill="#333" stroke="#333" stroke-width="0.16">[0-300]</text>
<text x="531.9" y="444.8" font-size="5.5" fill="#333" stroke="#333" stroke-width="0.16">[0-300]</text>
<text x="366.1" y="475" font-size="7.3" text-anchor="end" fill="#222" stroke="#222" stroke-width="0.16">Naïve hESC</text>
<text x="370.6" y="464.3" font-size="5.5" fill="#333" stroke="#333" stroke-width="0.16">[0-50]</text>
<text x="531.9" y="464.3" font-size="5.5" fill="#333" stroke="#333" stroke-width="0.16">[0-25]</text>
<text x="366.1" y="494.5" font-size="7.3" text-anchor="end" fill="#222" stroke="#222" stroke-width="0.16">Primed hESC</text>
<text x="370.6" y="483.7" font-size="5.5" fill="#333" stroke="#333" stroke-width="0.16">[0-50]</text>
<text x="531.9" y="483.7" font-size="5.5" fill="#333" stroke="#333" stroke-width="0.16">[0-25]</text>
<text x="366.1" y="513.9" font-size="7.3" text-anchor="end" fill="#222" stroke="#222" stroke-width="0.16">ZIC2 ChIP</text>
<text x="370.6" y="503.2" font-size="5.5" fill="#333" stroke="#333" stroke-width="0.16">[0-100]</text>
<text x="531.9" y="503.2" font-size="5.5" fill="#333" stroke="#333" stroke-width="0.16">[0-300]</text>
<text x="366.1" y="533.4" font-size="7.3" text-anchor="end" fill="#222" stroke="#222" stroke-width="0.16">ZIC3 ChIP</text>
<text x="370.6" y="522.6" font-size="5.5" fill="#333" stroke="#333" stroke-width="0.16">[0-10]</text>
<text x="531.9" y="522.6" font-size="5.5" fill="#333" stroke="#333" stroke-width="0.16">[0-45]</text>
<text x="366.1" y="552.8" font-size="7.3" text-anchor="end" fill="#222" stroke="#222" stroke-width="0.16">Naïve hESC</text>
<text x="370.6" y="542.1" font-size="5.5" fill="#333" stroke="#333" stroke-width="0.16">[0-50]</text>
<text x="531.9" y="542.1" font-size="5.5" fill="#333" stroke="#333" stroke-width="0.16">[0-5]</text>
<text x="366.1" y="572.3" font-size="7.3" text-anchor="end" fill="#222" stroke="#222" stroke-width="0.16">Primed hESC</text>
<text x="370.6" y="561.5" font-size="5.5" fill="#333" stroke="#333" stroke-width="0.16">[0-50]</text>
<text x="531.9" y="561.5" font-size="5.5" fill="#333" stroke="#333" stroke-width="0.16">[0-5]</text>
<path d="M370.2 439.1L370.2 439.1L370.8 438.8L371.4 438.9L372 439.1L372.6 439L373.2 439.1L373.8 439L374.4 438.9L375 439.1L375.6 439.1L376.2 438.8L376.8 439.1L377.4 438.9L378 439.1L378.6 439.1L379.2 438.9L379.8 439.1L380.4 438.7L381 438.8L381.6 439.1L382.2 439.1L382.8 439L383.4 438.7L384 439.1L384.6 439.1L385.2 439.1L385.8 439.1L386.4 439.1L387 439.1L387.6 439L388.2 439.1L388.8 439.1L389.4 439.1L390 439.1L390.6 439.1L391.2 439.1L391.8 438.8L392.4 439L393 438.9L393.6 436.7L394.2 436.2L394.8 436.1L395.4 436.4L396 437.8L396.6 438.7L397.2 437.4L397.8 438L398.4 438.4L399 438.9L399.6 439.1L400.2 438.9L400.8 439L401.4 439.1L402 439L402.6 439.1L403.2 439.1L403.8 438.9L404.4 438.7L405 439L405.6 439.1L406.2 439.1L406.8 439L407.4 438.7L408 438.9L408.6 439L409.2 438.8L409.8 439.1L410.4 439L411 438.7L411.6 439L412.2 439.1L412.8 439.1L413.4 439L414 438.7L414.6 439.1L415.2 438.9L415.8 438.9L416.4 438.8L417 438.9L417.6 438.9L418.2 439L418.8 439L419.4 439.1L420 439.1L420.6 438.8L421.2 439L421.8 439.1L422.4 438.9L423 438.6L423.6 438.8L424.2 439L424.8 439.1L425.4 439.1L426 439L426.6 438.8L427.2 438.9L427.8 438.9L428.4 438.9L429 438.8L429.6 438.9L430.2 438.5L430.8 439L431.4 439L432 439.1L432.6 439.1L433.2 439L433.8 439.1L434.4 439.1L435 438.9L435.6 439.1L436.2 439.1L436.8 439.1L437.4 439.1L438 439.1L438.6 439.1L439.2 439.1L439.8 439.1L440.4 438.8L441 439L441.6 439.1L442.2 439L442.8 438.9L443.4 439.1L444 439.1L444.6 439.1L445.2 438.9L445.8 439.1L446.4 438.9L447 439L447.6 439L448.2 439.1L448.8 438.7L449.4 438.9L450 439L450.6 439.1L451.2 439L451.8 439.1L452.4 439L453 438.8L453.6 437.9L454.2 437.9L454.8 438.4L455.4 438.7L456 439.1L456.6 439.1L457.2 438.8L457.8 439L458.4 437.6L459 436.4L459.6 437.5L460.2 438.4L460.8 435L461.4 437.3L462 438.4L462.6 437.3L463.2 438.2L463.8 438L464.4 438.8L465 438.7L465.6 438.5L466.2 438.2L466.8 438.4L467.4 438.1L468 438.5L468.6 438.7L469.2 439L469.8 439L470.4 438.6L471 438.7L471.6 438.5L472.2 437.6L472.8 438.3L473.4 438.7L474 439L474.6 439.1L475.2 439.1L475.8 438.8L476.4 439L477 438.8L477.6 439.1L478.2 439.1L478.8 438.9L479.4 438.9L480 439.1L480.6 439L481.2 439.1L481.8 439.1L482.4 438.8L483 439.1L483.6 439.1L484.2 438.7L484.8 439.1L485.4 439.1L486 439.1L486.6 439.1L487.2 438.9L487.8 439.1L488.4 438.8L489 439.1L489.6 438.7L490.2 438.8L490.8 439.1L491.4 439.1L492 439.1L492.6 439.1L493.2 439L493.5 439.1Z" fill="#1e1e7a"/>
<line x1="370.2" y1="439.1" x2="493.5" y2="439.1" stroke="#6464c0" stroke-width="0.7"/>
<path d="M370.2 458.6L370.2 458L370.8 458.1L371.4 458.5L372 458.5L372.6 458.2L373.2 458.3L373.8 458.4L374.4 458.5L375 458.4L375.6 458.4L376.2 458.4L376.8 458.5L377.4 458.5L378 458.5L378.6 458.3L379.2 458L379.8 458.1L380.4 458.5L381 458.5L381.6 458.5L382.2 458.5L382.8 458.5L383.4 458.5L384 458.5L384.6 458.5L385.2 458.1L385.8 458.5L386.4 458.4L387 458.5L387.6 458.5L388.2 458.5L388.8 458.5L389.4 458.5L390 458.3L390.6 457.8L391.2 457.3L391.8 456.8L392.4 457L393 457.6L393.6 457.5L394.2 455.7L394.8 455.7L395.4 457.2L396 457.1L396.6 456.9L397.2 456.8L397.8 457L398.4 457.7L399 457.8L399.6 456.4L400.2 455.5L400.8 457.1L401.4 458.5L402 458.3L402.6 458.1L403.2 458.5L403.8 458.3L404.4 458.5L405 458.4L405.6 458.5L406.2 458.5L406.8 458.2L407.4 458.5L408 458.5L408.6 458.2L409.2 458.5L409.8 458.5L410.4 458.2L411 458.5L411.6 458.3L412.2 458.5L412.8 458.5L413.4 458.5L414 458.4L414.6 458.5L415.2 458L415.8 458.5L416.4 458.3L417 458.5L417.6 458.2L418.2 458.4L418.8 458.4L419.4 457.7L420 458.1L420.6 457.9L421.2 458.3L421.8 458.4L422.4 458.3L423 458.1L423.6 458.2L424.2 458.3L424.8 458.5L425.4 458.5L426 458.4L426.6 458.5L427.2 458.5L427.8 458.5L428.4 458.2L429 458.5L429.6 458.4L430.2 458.5L430.8 458.5L431.4 458.5L432 458L432.6 458.5L433.2 458.4L433.8 458.5L434.4 458.5L435 458.4L435.6 458.5L436.2 458.5L436.8 458.5L437.4 458.5L438 458.5L438.6 458.4L439.2 458.5L439.8 458L440.4 458.1L441 458L441.6 458.5L442.2 458.5L442.8 458.5L443.4 458.4L444 458.4L444.6 458.3L445.2 458.3L445.8 458.5L446.4 458.5L447 458.5L447.6 458.5L448.2 458.5L448.8 458.4L449.4 458.3L450 457.9L450.6 457.6L451.2 457.3L451.8 456L452.4 456.8L453 457.1L453.6 457.7L454.2 458.1L454.8 458.2L455.4 457.9L456 456.9L456.6 455.9L457.2 453.3L457.8 455.8L458.4 454.6L459 452.6L459.6 456L460.2 456.4L460.8 454.6L461.4 452.2L462 456.1L462.6 454.8L463.2 455.4L463.8 455.9L464.4 455.8L465 456.8L465.6 456.1L466.2 456.9L466.8 456.4L467.4 456.6L468 456.4L468.6 455.5L469.2 455.5L469.8 456.4L470.4 455.8L471 455.9L471.6 455L472.2 455.6L472.8 456.2L473.4 456L474 456.7L474.6 456.2L475.2 456.4L475.8 456.9L476.4 458.1L477 458.2L477.6 458.1L478.2 458.2L478.8 458.1L479.4 458.3L480 458.4L480.6 458.1L481.2 458.1L481.8 458.5L482.4 458.2L483 458.3L483.6 458.5L484.2 458.3L484.8 458.4L485.4 458.5L486 458.2L486.6 458.5L487.2 458.4L487.8 458.5L488.4 458.5L489 458.4L489.6 458.5L490.2 458.5L490.8 458L491.4 458.5L492 458.5L492.6 458.5L493.2 458.2L493.5 458.6Z" fill="#a81414"/>
<line x1="370.2" y1="458.6" x2="493.5" y2="458.6" stroke="#c03030" stroke-width="0.7"/>
<path d="M370.2 478L370.2 478L370.8 477.9L371.4 478L372 477.9L372.6 477.9L373.2 478L373.8 478L374.4 477.7L375 478L375.6 478L376.2 477.6L376.8 478L377.4 477.7L378 478L378.6 477.9L379.2 478L379.8 477.9L380.4 477.7L381 477.9L381.6 477.8L382.2 477.9L382.8 478L383.4 477.8L384 477.9L384.6 478L385.2 478L385.8 477.7L386.4 478L387 477.8L387.6 477.7L388.2 477.8L388.8 477.7L389.4 478L390 477.8L390.6 478L391.2 477.6L391.8 477.7L392.4 478L393 478L393.6 478L394.2 477.5L394.8 477.4L395.4 477.6L396 478L396.6 477.9L397.2 477.7L397.8 477.9L398.4 477.7L399 477.7L399.6 477.6L400.2 477.9L400.8 478L401.4 477.7L402 477.6L402.6 477.7L403.2 477.9L403.8 477.8L404.4 478L405 477.7L405.6 477.9L406.2 478L406.8 478L407.4 477.7L408 477.6L408.6 478L409.2 477.8L409.8 478L410.4 478L411 478L411.6 477.8L412.2 477.7L412.8 478L413.4 477.9L414 478L414.6 477.8L415.2 478L415.8 477.7L416.4 477.6L417 477.9L417.6 477.6L418.2 478L418.8 478L419.4 477.9L420 478L420.6 478L421.2 478L421.8 477.9L422.4 478L423 478L423.6 477.7L424.2 478L424.8 477.6L425.4 477.7L426 478L426.6 478L427.2 477.9L427.8 477.9L428.4 477.9L429 477.9L429.6 477.9L430.2 477.6L430.8 477.9L431.4 478L432 477.8L432.6 478L433.2 478L433.8 477.6L434.4 477.9L435 477.9L435.6 478L436.2 478L436.8 477.9L437.4 477.9L438 478L438.6 477.8L439.2 477.7L439.8 477.7L440.4 477.7L441 477.5L441.6 477.9L442.2 478L442.8 478L443.4 478L444 478L444.6 477.8L445.2 478L445.8 478L446.4 477.9L447 478L447.6 478L448.2 477.9L448.8 478L449.4 477.8L450 477.9L450.6 477.9L451.2 477.9L451.8 477.6L452.4 477.8L453 477.6L453.6 477.8L454.2 477.7L454.8 477.7L455.4 477.6L456 477.5L456.6 477.8L457.2 477L457.8 477.1L458.4 477L459 477.4L459.6 477.1L460.2 477.5L460.8 477.6L461.4 477.4L462 477.4L462.6 477.4L463.2 477.3L463.8 477.2L464.4 477.7L465 477.6L465.6 477.7L466.2 477.7L466.8 477.4L467.4 477.8L468 477.6L468.6 477.7L469.2 477.9L469.8 477.7L470.4 477.7L471 477.7L471.6 478L472.2 477.7L472.8 478L473.4 477.9L474 477.9L474.6 478L475.2 478L475.8 478L476.4 477.7L477 477.9L477.6 478L478.2 478L478.8 477.9L479.4 477.9L480 478L480.6 478L481.2 478L481.8 478L482.4 477.9L483 477.8L483.6 478L484.2 478L484.8 478L485.4 478L486 477.9L486.6 477.8L487.2 478L487.8 477.8L488.4 477.9L489 478L489.6 478L490.2 477.9L490.8 477.8L491.4 478L492 477.9L492.6 478L493.2 478L493.5 478Z" fill="#1e1e7a"/>
<line x1="370.2" y1="478" x2="493.5" y2="478" stroke="#6464c0" stroke-width="0.7"/>
<path d="M370.2 497.5L370.2 497.4L370.8 497.4L371.4 497.4L372 497.4L372.6 497.4L373.2 497.4L373.8 496.9L374.4 497.1L375 497.1L375.6 497.4L376.2 497.3L376.8 497.4L377.4 497.4L378 497.4L378.6 497.4L379.2 496.9L379.8 497L380.4 497.1L381 497.1L381.6 497.4L382.2 497.4L382.8 497.3L383.4 497.2L384 497L384.6 497L385.2 497.4L385.8 497.3L386.4 497.2L387 497.4L387.6 497.4L388.2 497.4L388.8 497.4L389.4 496.9L390 497L390.6 497.3L391.2 497.4L391.8 497.3L392.4 497L393 497.4L393.6 497.4L394.2 497.3L394.8 497.3L395.4 497L396 497L396.6 496.7L397.2 496.9L397.8 496.7L398.4 496.9L399 496.7L399.6 496.7L400.2 497.2L400.8 497.2L401.4 497.2L402 497.4L402.6 497.4L403.2 497.2L403.8 496.8L404.4 496.8L405 497.4L405.6 496.8L406.2 497.1L406.8 497.4L407.4 496.8L408 497.3L408.6 497.1L409.2 497.4L409.8 497.4L410.4 497.4L411 497.4L411.6 497.4L412.2 496.8L412.8 497.4L413.4 497.4L414 497.4L414.6 497.4L415.2 497.4L415.8 497.4L416.4 497.4L417 497.4L417.6 497.4L418.2 497.4L418.8 497.3L419.4 496.6L420 497.1L420.6 497.1L421.2 497.1L421.8 497.2L422.4 497L423 496.2L423.6 497L424.2 496.8L424.8 496.7L425.4 496.2L426 496L426.6 495.7L427.2 495.5L427.8 495.8L428.4 495.8L429 495.7L429.6 495.7L430.2 496L430.8 496L431.4 496L432 496.5L432.6 496.2L433.2 496.6L433.8 496.1L434.4 496.5L435 496.6L435.6 495.7L436.2 496.3L436.8 495.6L437.4 495.7L438 495.9L438.6 495.9L439.2 496.2L439.8 495.3L440.4 495.7L441 495.6L441.6 495.2L442.2 495.7L442.8 495.6L443.4 495.4L444 495.5L444.6 495.2L445.2 495.2L445.8 494.8L446.4 495.3L447 493.6L447.6 494L448.2 493.1L448.8 493.7L449.4 494.7L450 495.1L450.6 494.6L451.2 495L451.8 493.6L452.4 493.2L453 491.6L453.6 492.6L454.2 490.4L454.8 491.7L455.4 491.1L456 493.1L456.6 493.4L457.2 492.4L457.8 493.1L458.4 492.1L459 490.1L459.6 486.9L460.2 491.7L460.8 488.4L461.4 490.8L462 491.2L462.6 493.1L463.2 489.4L463.8 489.7L464.4 490.9L465 493L465.6 493.5L466.2 492.3L466.8 492.2L467.4 494.6L468 491.5L468.6 493L469.2 493.7L469.8 492.3L470.4 492.9L471 494.5L471.6 494.1L472.2 493.6L472.8 495L473.4 494.8L474 494.8L474.6 495.7L475.2 495.8L475.8 496.4L476.4 496.9L477 497.2L477.6 497.4L478.2 497.2L478.8 497.3L479.4 497.4L480 497.4L480.6 497.4L481.2 497.1L481.8 496.9L482.4 497.2L483 497.4L483.6 496.8L484.2 497L484.8 497.4L485.4 497.4L486 497L486.6 497.3L487.2 497.3L487.8 497.4L488.4 497.2L489 497.4L489.6 497.4L490.2 497.4L490.8 497.4L491.4 496.9L492 497.1L492.6 497.1L493.2 497.4L493.5 497.5Z" fill="#a81414"/>
<line x1="370.2" y1="497.5" x2="493.5" y2="497.5" stroke="#c03030" stroke-width="0.7"/>
<path d="M370.2 516.9L370.2 516.2L370.8 515.7L371.4 515.4L372 514.5L372.6 515.7L373.2 514.6L373.8 516.9L374.4 516.6L375 514.5L375.6 516.1L376.2 514.8L376.8 516.9L377.4 516.6L378 516.9L378.6 516.4L379.2 516.4L379.8 516.9L380.4 516.9L381 516.8L381.6 514.7L382.2 515.6L382.8 516.9L383.4 515.4L384 516.9L384.6 516.2L385.2 516.9L385.8 516.9L386.4 515L387 516.9L387.6 516.9L388.2 514.2L388.8 515L389.4 516.8L390 514.3L390.6 516.4L391.2 516L391.8 516.9L392.4 514.5L393 515.9L393.6 514.3L394.2 514.8L394.8 516.8L395.4 516.8L396 516.9L396.6 516.7L397.2 515.8L397.8 514.2L398.4 513.5L399 514.8L399.6 515.6L400.2 516.6L400.8 516.9L401.4 515.2L402 516.9L402.6 515.5L403.2 516.8L403.8 516.3L404.4 516.9L405 516.9L405.6 516.9L406.2 514.4L406.8 516.9L407.4 515.6L408 514.6L408.6 514.5L409.2 516.8L409.8 516.8L410.4 516.5L411 515.5L411.6 516.9L412.2 515.7L412.8 515.4L413.4 515.1L414 516.9L414.6 514.4L415.2 516.9L415.8 516.8L416.4 516.2L417 514.7L417.6 516.8L418.2 514.6L418.8 516.4L419.4 516.8L420 516.8L420.6 516.9L421.2 516.9L421.8 516.9L422.4 516L423 514L423.6 516.9L424.2 516.9L424.8 514.1L425.4 516.5L426 516.7L426.6 516.9L427.2 516.3L427.8 515.3L428.4 516.6L429 516.7L429.6 516.9L430.2 514.7L430.8 516.9L431.4 516.6L432 515.2L432.6 516.9L433.2 515.8L433.8 514.4L434.4 516.2L435 515.5L435.6 516.9L436.2 516.7L436.8 516.9L437.4 515.2L438 516.8L438.6 516.6L439.2 514L439.8 515.1L440.4 514.2L441 516.6L441.6 516.6L442.2 515.8L442.8 516.6L443.4 516.8L444 516.7L444.6 516.9L445.2 516.7L445.8 514.3L446.4 516.5L447 516.8L447.6 515.1L448.2 516L448.8 514.3L449.4 514.1L450 514.1L450.6 513.9L451.2 511.6L451.8 511.9L452.4 512.2L453 513.4L453.6 512.9L454.2 512.6L454.8 510.9L455.4 509.4L456 507.2L456.6 508.7L457.2 509.6L457.8 508.2L458.4 509.1L459 514L459.6 515.2L460.2 513.8L460.8 509.4L461.4 511.4L462 514.2L462.6 514.3L463.2 513.2L463.8 510.9L464.4 509.9L465 513.5L465.6 512.9L466.2 509.9L466.8 512.1L467.4 508.9L468 512.1L468.6 513.7L469.2 511.5L469.8 509.7L470.4 512.1L471 510.7L471.6 511.1L472.2 511L472.8 512.5L473.4 512.5L474 511.1L474.6 513.8L475.2 510.3L475.8 513.9L476.4 514.3L477 516.4L477.6 516.7L478.2 516.4L478.8 516.8L479.4 515.7L480 516.3L480.6 516.9L481.2 516.9L481.8 516.6L482.4 514.7L483 514.9L483.6 516.4L484.2 516.9L484.8 515.5L485.4 516.7L486 516.3L486.6 515.9L487.2 516.2L487.8 516.6L488.4 514.7L489 516.7L489.6 516.7L490.2 515.1L490.8 516.9L491.4 516.8L492 515.2L492.6 516.9L493.2 515.2L493.5 516.9Z" fill="#111"/>
<line x1="370.2" y1="516.9" x2="493.5" y2="516.9" stroke="#333" stroke-width="0.7"/>
<path d="M370.2 536.4L370.2 534.3L370.8 534.1L371.4 535.9L372 536.3L372.6 536.3L373.2 535.2L373.8 535.9L374.4 534.6L375 536.1L375.6 534.5L376.2 536.3L376.8 534.3L377.4 534.8L378 536.1L378.6 535.7L379.2 535.1L379.8 536.3L380.4 535.7L381 534.2L381.6 536.3L382.2 534.2L382.8 535L383.4 533.9L384 536.2L384.6 536.3L385.2 534.3L385.8 534.2L386.4 536L387 536.3L387.6 536.3L388.2 535.3L388.8 536.2L389.4 532.9L390 535.5L390.6 536.3L391.2 535.2L391.8 536.2L392.4 533.1L393 533.3L393.6 535.8L394.2 535.3L394.8 535L395.4 534.2L396 532.6L396.6 536.3L397.2 536.2L397.8 535.5L398.4 536.2L399 535.5L399.6 536.3L400.2 533.6L400.8 535.8L401.4 536.3L402 535.2L402.6 536.2L403.2 536.3L403.8 535.9L404.4 536.3L405 536.3L405.6 533.7L406.2 535L406.8 536.3L407.4 534.4L408 536.3L408.6 536.2L409.2 533.3L409.8 535.4L410.4 536.2L411 536.1L411.6 536.1L412.2 536.3L412.8 532.3L413.4 536.3L414 536L414.6 534.7L415.2 536.1L415.8 532.5L416.4 536.3L417 532.5L417.6 533.5L418.2 535.1L418.8 533.5L419.4 536L420 534L420.6 534.3L421.2 535.8L421.8 535.9L422.4 534.9L423 536.1L423.6 536.3L424.2 534.7L424.8 536.3L425.4 535.9L426 534.4L426.6 536.3L427.2 536.3L427.8 536.3L428.4 535.5L429 536.2L429.6 536.3L430.2 536L430.8 533.1L431.4 536.3L432 536.1L432.6 533.6L433.2 535.4L433.8 536.3L434.4 535.9L435 535.9L435.6 536.3L436.2 536.1L436.8 536.2L437.4 534.2L438 536.2L438.6 535.2L439.2 532.6L439.8 533.2L440.4 536.1L441 535.5L441.6 536.2L442.2 536.1L442.8 535.9L443.4 534.3L444 533L444.6 536.3L445.2 536.3L445.8 536L446.4 536.3L447 536.3L447.6 534.5L448.2 536.3L448.8 534.8L449.4 532.8L450 536L450.6 531.4L451.2 532.7L451.8 530.5L452.4 533.7L453 534.5L453.6 533.9L454.2 533L454.8 530.1L455.4 529.3L456 534.1L456.6 532L457.2 532.8L457.8 525.6L458.4 529.9L459 534.1L459.6 534.8L460.2 534.4L460.8 529.5L461.4 528.3L462 532L462.6 532.9L463.2 533.5L463.8 528.7L464.4 527.9L465 534.6L465.6 534.9L466.2 534L466.8 533.2L467.4 532.8L468 534.7L468.6 535L469.2 535.7L469.8 534.7L470.4 532.4L471 529.2L471.6 532.7L472.2 533.2L472.8 532.7L473.4 530.6L474 529.9L474.6 532.5L475.2 535.3L475.8 534.1L476.4 534.8L477 536.1L477.6 535.7L478.2 534.4L478.8 536.3L479.4 535.6L480 533.2L480.6 536.2L481.2 535.9L481.8 534.8L482.4 533.7L483 536.3L483.6 535.2L484.2 536.3L484.8 536.3L485.4 532.5L486 536.3L486.6 533.2L487.2 534.6L487.8 535.1L488.4 534.8L489 535.2L489.6 536.3L490.2 536L490.8 536.3L491.4 533.8L492 534.4L492.6 534.4L493.2 536.3L493.5 536.4Z" fill="#111"/>
<line x1="370.2" y1="536.4" x2="493.5" y2="536.4" stroke="#333" stroke-width="0.7"/>
<path d="M370.2 555.8L370.2 555.8L370.5 555.8L370.8 555.8L371.1 555.8L371.4 555.8L371.7 555.8L372 555.8L372.3 555.8L372.6 555.8L372.9 555.8L373.2 555.8L373.5 555.8L373.8 555.8L374.1 555.8L374.4 555.8L374.7 555.8L375 555.8L375.3 555.8L375.6 555.8L375.9 555.8L376.2 555.8L376.5 555.8L376.8 555.8L377.1 555.8L377.4 555.8L377.7 555.8L378 555.8L378.3 555.8L378.6 555.8L378.9 555.8L379.2 555.8L379.5 555.8L379.8 555.8L380.1 555.8L380.4 555.8L380.7 555.8L381 555.8L381.3 555.8L381.6 555.8L381.9 555.8L382.2 555.8L382.5 555.8L382.8 555.8L383.1 555.8L383.4 555.8L383.7 555.8L384 555.8L384.3 555.8L384.6 555.8L384.9 555.8L385.2 555.8L385.5 555.8L385.8 555.8L386.1 555.8L386.4 555.8L386.7 555.8L387 555.8L387.3 555.8L387.6 555.8L387.9 555.8L388.2 555.8L388.5 555.8L388.8 555.8L389.1 555.8L389.4 555.8L389.7 555.8L390 555.8L390.3 555.8L390.6 555.8L390.9 555.8L391.2 555.8L391.5 555.8L391.8 555.8L392.1 555.8L392.4 555.8L392.7 555.8L393 555.8L393.3 555.8L393.6 555.8L393.9 555.8L394.2 555.8L394.5 555.8L394.8 555.8L395.1 555.8L395.4 555.8L395.7 555.8L396 555.8L396.3 555.8L396.6 555.8L396.9 555.8L397.2 555.8L397.5 555.8L397.8 555.8L398.1 555.8L398.4 555.8L398.7 555.8L399 555.8L399.3 555.8L399.6 555.8L399.9 555.8L400.2 555.8L400.5 555.8L400.8 555.8L401.1 555.8L401.4 555.8L401.7 555.8L402 555.8L402.3 555.8L402.6 555.8L402.9 555.8L403.2 555.8L403.5 555.8L403.8 555.8L404.1 555.8L404.4 555.8L404.7 555.8L405 555.8L405.3 555.8L405.6 555.8L405.9 555.8L406.2 555.8L406.5 555.8L406.8 555.8L407.1 555.8L407.4 555.8L407.7 555.8L408 555.8L408.3 555.8L408.6 555.8L408.9 555.8L409.2 555.8L409.5 555.8L409.8 555.8L410.1 555.8L410.4 555.8L410.7 555.8L411 555.8L411.3 555.8L411.6 555.8L411.9 555.8L412.2 555.8L412.5 555.8L412.8 555.8L413.1 555.8L413.4 555.8L413.7 555.8L414 555.8L414.3 555.8L414.6 555.8L414.9 555.8L415.2 555.8L415.5 555.8L415.8 555.8L416.1 555.8L416.4 555.8L416.7 555.8L417 555.5L417.3 554.9L417.6 554.7L417.9 555.3L418.2 555.7L418.5 555.8L418.8 555.7L419.1 555.3L419.4 554.7L419.7 554.9L420 555.5L420.3 555.8L420.6 555.8L420.9 555.8L421.2 555.8L421.5 555.8L421.8 555.8L422.1 555.8L422.4 555.8L422.7 555.8L423 555.8L423.3 555.8L423.6 555.8L423.9 555.8L424.2 555.8L424.5 555.8L424.8 555.8L425.1 555.8L425.4 555.8L425.7 555.8L426 555.8L426.3 555.8L426.6 555.8L426.9 555.8L427.2 555.8L427.5 555.8L427.8 555.8L428.1 555.8L428.4 555.8L428.7 555.8L429 555.8L429.3 555.8L429.6 555.8L429.9 555.8L430.2 555.8L430.5 555.8L430.8 555.8L431.1 555.8L431.4 555.8L431.7 555.8L432 555.8L432.3 555.8L432.6 555.8L432.9 555.8L433.2 555.8L433.5 555.8L433.8 555.8L434.1 555.8L434.4 555.8L434.7 555.8L435 555.8L435.3 555.8L435.6 555.8L435.9 555.8L436.2 555.8L436.5 555.8L436.8 555.8L437.1 555.8L437.4 555.8L437.7 555.8L438 555.8L438.3 555.8L438.6 555.8L438.9 555.8L439.2 555.8L439.5 555.8L439.8 555.8L440.1 555.8L440.4 555.8L440.7 555.8L441 555.8L441.3 555.8L441.6 555.8L441.9 555.8L442.2 555.8L442.5 555.8L442.8 555.8L443.1 555.8L443.4 555.8L443.7 555.8L444 555.8L444.3 555.8L444.6 555.8L444.9 555.8L445.2 555.8L445.5 555.8L445.8 555.8L446.1 555.8L446.4 555.8L446.7 555.8L447 555.8L447.3 555.8L447.6 555.8L447.9 555.8L448.2 555.8L448.5 555.8L448.8 555.8L449.1 555.8L449.4 555.8L449.7 555.8L450 555.8L450.3 555.8L450.6 555.8L450.9 555.8L451.2 555.8L451.5 555.8L451.8 555.8L452.1 555.8L452.4 555.8L452.7 555.8L453 555.8L453.3 555.8L453.6 555.8L453.9 555.8L454.2 555.8L454.5 555.8L454.8 555.8L455.1 555.8L455.4 555.7L455.7 555L456 554.1L456.3 555L456.6 555.7L456.9 555.8L457.2 555.8L457.5 555.8L457.8 555.8L458.1 555.8L458.4 555.8L458.7 555.8L459 555.8L459.3 555.8L459.6 555.8L459.9 555.8L460.2 555.8L460.5 555.8L460.8 555.8L461.1 555.8L461.4 555.8L461.7 555.8L462 555.8L462.3 555.8L462.6 555.8L462.9 555.8L463.2 555.8L463.5 555.8L463.8 555.8L464.1 555.8L464.4 555.8L464.7 555.8L465 555.8L465.3 555.8L465.6 555.8L465.9 555.8L466.2 555.8L466.5 555.8L466.8 555.8L467.1 555.8L467.4 555.8L467.7 555.8L468 555.8L468.3 555.8L468.6 555.8L468.9 555.8L469.2 555.8L469.5 555.8L469.8 555.8L470.1 555.8L470.4 555.8L470.7 555.8L471 555.8L471.3 555.8L471.6 555.8L471.9 555.8L472.2 555.8L472.5 555.8L472.8 555.8L473.1 555.8L473.4 555.8L473.7 555.8L474 555.8L474.3 555.8L474.6 555.8L474.9 555.8L475.2 555.8L475.5 555.8L475.8 555.8L476.1 555.8L476.4 555.8L476.7 555.8L477 555.8L477.3 555.8L477.6 555.8L477.9 555.8L478.2 555.8L478.5 555.8L478.8 555.8L479.1 555.8L479.4 555.8L479.7 555.8L480 555.8L480.3 555.8L480.6 555.8L480.9 555.8L481.2 555.8L481.5 555.8L481.8 555.8L482.1 555.8L482.4 555.8L482.7 555.8L483 555.8L483.3 555.8L483.6 555.8L483.9 555.8L484.2 555.8L484.5 555.8L484.8 555.8L485.1 555.8L485.4 555.8L485.7 555.8L486 555.8L486.3 555.8L486.6 555.8L486.9 555.8L487.2 555.8L487.5 555.8L487.8 555.8L488.1 555.8L488.4 555.8L488.7 555.8L489 555.8L489.3 555.8L489.6 555.8L489.9 555.8L490.2 555.8L490.5 555.8L490.8 555.8L491.1 555.8L491.4 555.8L491.7 555.8L492 555.8L492.3 555.8L492.6 555.8L492.9 555.8L493.2 555.8L493.5 555.8L493.5 555.8Z" fill="#4a86d0"/>
<line x1="370.2" y1="555.8" x2="493.5" y2="555.8" stroke="#4a86d0" stroke-width="0.7"/>
<path d="M370.2 575.2L370.2 575.2L370.5 575.2L370.8 575.2L371.1 575.2L371.4 575.2L371.7 575.2L372 575.2L372.3 575.2L372.6 575.2L372.9 575.2L373.2 575.2L373.5 575.2L373.8 575.2L374.1 575.2L374.4 575.2L374.7 575.2L375 575.2L375.3 575.2L375.6 575.2L375.9 575.2L376.2 575.2L376.5 575.2L376.8 575.2L377.1 575.2L377.4 575.2L377.7 575.2L378 575.2L378.3 575.2L378.6 575.2L378.9 575.2L379.2 575.2L379.5 575.2L379.8 575.2L380.1 575.2L380.4 575.2L380.7 575.2L381 575.2L381.3 575.2L381.6 575.2L381.9 575.2L382.2 575.2L382.5 575.2L382.8 575.2L383.1 575.2L383.4 575.2L383.7 575.2L384 575.2L384.3 575.2L384.6 575.2L384.9 575.2L385.2 575.2L385.5 575.2L385.8 575.2L386.1 575.2L386.4 575.2L386.7 575.2L387 575.2L387.3 575.2L387.6 575.2L387.9 575.2L388.2 575.2L388.5 575.2L388.8 575.2L389.1 575.2L389.4 575.2L389.7 575.2L390 575.2L390.3 575.2L390.6 575.2L390.9 575.2L391.2 575.2L391.5 575.2L391.8 575.2L392.1 575.2L392.4 575.2L392.7 575.2L393 575.2L393.3 575.2L393.6 575.2L393.9 575.2L394.2 575.2L394.5 575.2L394.8 575.2L395.1 575.2L395.4 575.2L395.7 575.2L396 575.2L396.3 575.2L396.6 575.2L396.9 575.2L397.2 575.2L397.5 575.2L397.8 575.2L398.1 575.2L398.4 575.2L398.7 575.2L399 575.2L399.3 575.2L399.6 575.2L399.9 575.2L400.2 575.2L400.5 575.2L400.8 575.2L401.1 575.2L401.4 575.2L401.7 575.2L402 575.2L402.3 575.2L402.6 575.2L402.9 575.2L403.2 575.2L403.5 575.2L403.8 575.2L404.1 575.2L404.4 575.2L404.7 574.6L405 571.9L405.3 567.2L405.6 565.8L405.9 567.8L406.2 566.4L406.5 564.2L406.8 567.3L407.1 570.4L407.4 567.8L407.7 565.1L408 568.2L408.3 572.9L408.6 574.9L408.9 575.2L409.2 575.2L409.5 575.2L409.8 575.2L410.1 575.2L410.4 575.2L410.7 575.2L411 575.2L411.3 575.2L411.6 575.2L411.9 575.2L412.2 575.2L412.5 575.2L412.8 575.2L413.1 575.2L413.4 575.1L413.7 574.2L414 571.6L414.3 568.2L414.6 567.5L414.9 570.3L415.2 572.8L415.5 571.2L415.8 566.6L416.1 565.5L416.4 569.9L416.7 573L417 570.6L417.3 564.8L417.6 563.4L417.9 568.7L418.2 572.6L418.5 570.1L418.8 563.5L419.1 562L419.4 568L419.7 572.4L420 570.3L420.3 564.2L420.6 562.7L420.9 568.4L421.2 572.4L421.5 569.8L421.8 562.9L422.1 561.3L422.4 567.6L422.7 572.3L423 570.3L423.3 564.2L423.6 562.7L423.9 568.4L424.2 572.7L424.5 571.1L424.8 566L425.1 564.8L425.4 569.6L425.7 573.8L426 575.1L426.3 575.2L426.6 575.2L426.9 575.2L427.2 575.2L427.5 575.2L427.8 575.2L428.1 575.2L428.4 575.2L428.7 575.2L429 575.2L429.3 575.2L429.6 575.2L429.9 575.2L430.2 575.2L430.5 575.2L430.8 575.2L431.1 575.2L431.4 575.2L431.7 575.2L432 575.2L432.3 575.2L432.6 575.2L432.9 575.2L433.2 575.2L433.5 575.2L433.8 575.2L434.1 575.2L434.4 575.2L434.7 575.2L435 575.2L435.3 575.2L435.6 575.2L435.9 575.2L436.2 575.2L436.5 575.2L436.8 575.2L437.1 575.2L437.4 575.2L437.7 575.2L438 575.2L438.3 575.2L438.6 575.2L438.9 575.2L439.2 575.2L439.5 575.2L439.8 575.2L440.1 575.2L440.4 575.2L440.7 575.2L441 575.2L441.3 575.2L441.6 575.2L441.9 575.2L442.2 575.2L442.5 575.2L442.8 575.2L443.1 575.2L443.4 575.2L443.7 575.2L444 575.2L444.3 575.2L444.6 575.2L444.9 575.2L445.2 575.2L445.5 575.2L445.8 575.2L446.1 575.2L446.4 575.2L446.7 575.2L447 575.2L447.3 575.2L447.6 575.2L447.9 575.2L448.2 575.2L448.5 575.2L448.8 575.2L449.1 575.2L449.4 575.2L449.7 575.2L450 575.2L450.3 575.2L450.6 575.2L450.9 575.2L451.2 575.2L451.5 575.2L451.8 575.2L452.1 575.2L452.4 575.2L452.7 575.2L453 575.2L453.3 575.2L453.6 575.2L453.9 575.2L454.2 575.2L454.5 575.2L454.8 575.2L455.1 575.2L455.4 574.7L455.7 570.7L456 565.8L456.3 570.7L456.6 574.7L456.9 575.2L457.2 575.2L457.5 575.2L457.8 575.2L458.1 575.2L458.4 575.2L458.7 575.2L459 575.2L459.3 575.2L459.6 575.2L459.9 575.2L460.2 575.2L460.5 575.2L460.8 575.2L461.1 575.2L461.4 575.2L461.7 575.2L462 575.2L462.3 575.2L462.6 575.2L462.9 575.2L463.2 575.2L463.5 575.2L463.8 575.2L464.1 575.2L464.4 575.2L464.7 575.2L465 575.2L465.3 575.2L465.6 575.2L465.9 575.2L466.2 575.2L466.5 575.2L466.8 575.2L467.1 575.2L467.4 575.2L467.7 575.2L468 575.2L468.3 575.2L468.6 575.2L468.9 575.2L469.2 575.2L469.5 575.2L469.8 575.2L470.1 575.2L470.4 575.2L470.7 575.2L471 575.2L471.3 575.2L471.6 575.2L471.9 575.2L472.2 575.2L472.5 575.2L472.8 575.2L473.1 575.2L473.4 575.2L473.7 575.2L474 575.2L474.3 575.2L474.6 575.2L474.9 575.2L475.2 575.2L475.5 575.2L475.8 575.2L476.1 575.2L476.4 575.2L476.7 575.2L477 575.2L477.3 575.2L477.6 575.2L477.9 575.2L478.2 575.2L478.5 575.2L478.8 575.2L479.1 575.2L479.4 575.2L479.7 575.2L480 575.2L480.3 575.2L480.6 575.2L480.9 575.2L481.2 575.2L481.5 575.2L481.8 575.2L482.1 575.2L482.4 575.2L482.7 575.2L483 575.2L483.3 575.2L483.6 575.2L483.9 575.2L484.2 575.2L484.5 575.2L484.8 575.2L485.1 575.2L485.4 575.2L485.7 575.2L486 575.2L486.3 575.2L486.6 575.2L486.9 575.2L487.2 575.2L487.5 575.2L487.8 575.2L488.1 575.2L488.4 575.2L488.7 575.2L489 575.2L489.3 575.2L489.6 575.2L489.9 575.2L490.2 575.2L490.5 575.2L490.8 575.2L491.1 575.2L491.4 575.2L491.7 575.2L492 575.2L492.3 575.2L492.6 575.2L492.9 575.2L493.2 575.2L493.5 575.2L493.5 575.2Z" fill="#c83030"/>
<line x1="370.2" y1="575.2" x2="493.5" y2="575.2" stroke="#c83030" stroke-width="0.7"/>
<path d="M531.5 439.1L531.5 439L532.1 439L532.7 438.5L533.3 439L533.9 439L534.5 439L535.1 439.1L535.7 439L536.3 438.9L536.9 438.7L537.5 439.1L538.1 439.1L538.7 439.1L539.3 438.7L539.9 438.9L540.5 439.1L541.1 438.4L541.7 438.4L542.3 438.9L542.9 438.9L543.5 439.1L544.1 439.1L544.7 439L545.3 439.1L545.9 439.1L546.5 439.1L547.1 439.1L547.7 439L548.3 439L548.9 438.7L549.5 439L550.1 438.9L550.7 439L551.3 438.9L551.9 439L552.5 439.1L553.1 438.4L553.7 438.4L554.3 438.7L554.9 438.8L555.5 439.1L556.1 439.1L556.7 439.1L557.3 439.1L557.9 438.8L558.5 439.1L559.1 438.7L559.7 439.1L560.3 438.5L560.9 438.7L561.5 439.1L562.1 439.1L562.7 438.6L563.3 439L563.9 438.4L564.5 439.1L565.1 439.1L565.7 438.9L566.3 438.8L566.9 439.1L567.5 439.1L568.1 439.1L568.7 438.5L569.3 438.8L569.9 439.1L570.5 439.1L571.1 439.1L571.7 439.1L572.3 438.7L572.9 437.5L573.5 438.2L574.1 439.1L574.7 439.1L575.3 439L575.9 439.1L576.5 439.1L577.1 438.4L577.7 438.7L578.3 439.1L578.9 438.6L579.5 439.1L580.1 439.1L580.7 438.6L581.3 438.9L581.9 439.1L582.5 438.4L583.1 439.1L583.7 439.1L584.3 438.8L584.9 439.1L585.5 439.1L586.1 439.1L586.7 439.1L587.3 439.1L587.9 439L588.5 438.3L589.1 438.5L589.7 438.7L590.3 437.9L590.9 438.8L591.5 438.6L592.1 439L592.7 438.6L593.3 439L593.9 439.1L594.5 438.5L595.1 439.1L595.7 438.8L596.3 439.1L596.9 438.7L597.5 438.9L598.1 439.1L598.7 439.1L599.3 438.8L599.9 439.1L600.5 439.1L601.1 439L601.7 438.7L602.3 438.9L602.9 439.1L603.5 439L604.1 438.5L604.7 438.3L605.3 438.6L605.9 439.1L606.5 438.6L607.1 438.4L607.7 438.9L608.3 438.9L608.9 439L609.5 439L610.1 436.1L610.7 437L611.3 439L611.9 439L612.5 438.8L613.1 439.1L613.7 438.4L614.3 439.1L614.9 439L615.5 438.8L616.1 438.6L616.7 438.8L617.3 438.8L617.9 438.7L618.5 438.5L619.1 437.8L619.7 437.2L620.3 438.7L620.9 439L621.5 438.9L622.1 439.1L622.7 439L623.3 438.9L623.9 439.1L624.5 438.9L625.1 438.4L625.7 438.6L626.3 438.7L626.9 436.6L627.5 438.4L628.1 439.1L628.7 438.8L629.3 439.1L629.9 438.9L630.5 439L631.1 439.1L631.7 438.9L632.3 439L632.9 438.9L633.5 438.5L634.1 439.1L634.7 439.1L635.3 439.1L635.9 438.9L636.5 439.1L637.1 439.1L637.7 438.6L638.3 438.9L638.9 439L639.5 438.6L640.1 439.1L640.7 438.9L641.3 439.1L641.9 439L642.5 438.7L643.1 438.5L643.7 438.6L644.3 439.1L644.9 439L645.5 439.1L646.1 439.1L646.7 439L647.3 438.7L647.9 438.7L648.5 438.8L649.1 438.5L649.7 439.1L650.3 439.1L650.9 439L651.5 439.1L652.1 439.1L652.7 439L653.2 439.1Z" fill="#1e1e7a"/>
<line x1="531.5" y1="439.1" x2="653.2" y2="439.1" stroke="#6464c0" stroke-width="0.7"/>
<path d="M531.5 458.6L531.5 458.5L532.1 458.3L532.7 458.3L533.3 458.5L533.9 458.5L534.5 458.5L535.1 458.5L535.7 458.1L536.3 458.3L536.9 458.4L537.5 458.4L538.1 458.3L538.7 458.5L539.3 458.5L539.9 458.5L540.5 457.9L541.1 458.5L541.7 458.1L542.3 458.5L542.9 458.3L543.5 458.5L544.1 458.5L544.7 458L545.3 458.5L545.9 458.5L546.5 457.9L547.1 458.4L547.7 458.5L548.3 457.7L548.9 457.8L549.5 458.5L550.1 458.5L550.7 458.5L551.3 458.5L551.9 458.3L552.5 458.5L553.1 458.3L553.7 458.5L554.3 457.5L554.9 455.8L555.5 453L556.1 448.6L556.7 449.7L557.3 454L557.9 456.8L558.5 457.9L559.1 458.5L559.7 458.1L560.3 458.5L560.9 458.4L561.5 457.8L562.1 457.7L562.7 458L563.3 458.5L563.9 458.5L564.5 458.5L565.1 458.5L565.7 458.5L566.3 458.5L566.9 458.5L567.5 457.8L568.1 458.5L568.7 457.8L569.3 458.5L569.9 457.9L570.5 458.5L571.1 458.5L571.7 458.2L572.3 458.4L572.9 457.1L573.5 458.1L574.1 458.5L574.7 457.7L575.3 457.7L575.9 458.4L576.5 458.5L577.1 458.5L577.7 458.1L578.3 458L578.9 458.3L579.5 458.5L580.1 458.4L580.7 458.5L581.3 458.3L581.9 458.5L582.5 457.8L583.1 457.9L583.7 458.5L584.3 458.5L584.9 458L585.5 458.5L586.1 457.8L586.7 458.4L587.3 458.3L587.9 458.2L588.5 458.5L589.1 458.5L589.7 458.5L590.3 458.3L590.9 458.3L591.5 458.5L592.1 457.9L592.7 458.5L593.3 458.5L593.9 458.5L594.5 457.7L595.1 458.4L595.7 458.3L596.3 457.2L596.9 455L597.5 451.5L598.1 456.6L598.7 458.3L599.3 458.4L599.9 458.5L600.5 458.2L601.1 457.9L601.7 457.9L602.3 458.3L602.9 458.3L603.5 458.1L604.1 456.7L604.7 456.8L605.3 456.5L605.9 456.3L606.5 456.6L607.1 456.6L607.7 457.8L608.3 457.8L608.9 457.7L609.5 456.7L610.1 449.6L610.7 453.4L611.3 457.5L611.9 458.5L612.5 458.5L613.1 458.5L613.7 458.5L614.3 458.5L614.9 457.9L615.5 458.4L616.1 458.3L616.7 458.5L617.3 458.5L617.9 458.4L618.5 458L619.1 456.4L619.7 455.9L620.3 458.1L620.9 458.5L621.5 458.3L622.1 458.3L622.7 457.7L623.3 458.4L623.9 458.3L624.5 458.5L625.1 458.2L625.7 458.4L626.3 456.6L626.9 452.8L627.5 455.1L628.1 458.1L628.7 458.5L629.3 457.8L629.9 458.4L630.5 458.5L631.1 458L631.7 457.9L632.3 458.5L632.9 458.5L633.5 458.3L634.1 458L634.7 458.4L635.3 458.1L635.9 458.5L636.5 458.3L637.1 458.5L637.7 458.5L638.3 458.5L638.9 458.5L639.5 458.5L640.1 458.1L640.7 458.5L641.3 458.5L641.9 458.5L642.5 457.8L643.1 458.4L643.7 458.5L644.3 458L644.9 456.8L645.5 456.3L646.1 458.3L646.7 458L647.3 458.5L647.9 458L648.5 458.5L649.1 458.5L649.7 458.5L650.3 458.5L650.9 458.5L651.5 458.2L652.1 458.5L652.7 458.5L653.2 458.6Z" fill="#a81414"/>
<line x1="531.5" y1="458.6" x2="653.2" y2="458.6" stroke="#c03030" stroke-width="0.7"/>
<path d="M531.5 478L531.5 478L532.1 477.7L532.7 477.7L533.3 477.4L533.9 478L534.5 478L535.1 478L535.7 478L536.3 477.6L536.9 478L537.5 477.8L538.1 478L538.7 478L539.3 477.9L539.9 477.4L540.5 477.8L541.1 478L541.7 478L542.3 478L542.9 477.3L543.5 477.5L544.1 477.5L544.7 477.4L545.3 477.6L545.9 477.1L546.5 477.5L547.1 478L547.7 477.4L548.3 477.9L548.9 477.6L549.5 477.8L550.1 477.9L550.7 478L551.3 477.9L551.9 478L552.5 478L553.1 477.4L553.7 477.5L554.3 477L554.9 477.7L555.5 477.8L556.1 477.6L556.7 478L557.3 477.7L557.9 477.9L558.5 478L559.1 478L559.7 477.9L560.3 478L560.9 477.9L561.5 477.8L562.1 477.9L562.7 478L563.3 477.9L563.9 478L564.5 478L565.1 478L565.7 478L566.3 478L566.9 477.7L567.5 477.1L568.1 477.9L568.7 477.6L569.3 477.2L569.9 478L570.5 478L571.1 477.5L571.7 477.4L572.3 477.7L572.9 478L573.5 477.9L574.1 477.3L574.7 477.3L575.3 477.5L575.9 478L576.5 477.4L577.1 477.9L577.7 477.6L578.3 478L578.9 477.1L579.5 477.8L580.1 477.6L580.7 478L581.3 477.8L581.9 477.8L582.5 477.8L583.1 478L583.7 477.6L584.3 478L584.9 478L585.5 478L586.1 477.7L586.7 478L587.3 478L587.9 478L588.5 477.7L589.1 477.8L589.7 477.8L590.3 478L590.9 477.9L591.5 478L592.1 478L592.7 478L593.3 477L593.9 478L594.5 478L595.1 478L595.7 477.8L596.3 477.6L596.9 476.7L597.5 476L598.1 476.1L598.7 477.7L599.3 478L599.9 477.9L600.5 477.2L601.1 477.6L601.7 478L602.3 477.7L602.9 477.4L603.5 478L604.1 477.9L604.7 477.4L605.3 477.2L605.9 477.6L606.5 477.5L607.1 478L607.7 477.5L608.3 478L608.9 477.8L609.5 477.5L610.1 476.9L610.7 477.6L611.3 478L611.9 477.9L612.5 478L613.1 478L613.7 478L614.3 477.9L614.9 477.3L615.5 477L616.1 478L616.7 477.8L617.3 478L617.9 477.5L618.5 478L619.1 477.3L619.7 477.8L620.3 478L620.9 478L621.5 478L622.1 477.3L622.7 478L623.3 477.9L623.9 477.9L624.5 478L625.1 477.5L625.7 478L626.3 477.4L626.9 476.5L627.5 477.4L628.1 477.7L628.7 477.3L629.3 478L629.9 478L630.5 477.8L631.1 477.5L631.7 477.8L632.3 477.9L632.9 477.6L633.5 477.5L634.1 477.5L634.7 477.6L635.3 477.3L635.9 477L636.5 477.5L637.1 477.9L637.7 477.8L638.3 477.4L638.9 477.6L639.5 478L640.1 477.6L640.7 478L641.3 478L641.9 477L642.5 477.9L643.1 478L643.7 477.5L644.3 477.9L644.9 478L645.5 478L646.1 478L646.7 478L647.3 477.2L647.9 478L648.5 477.4L649.1 477.4L649.7 477.9L650.3 477L650.9 477.6L651.5 477.9L652.1 478L652.7 477.9L653.2 478Z" fill="#1e1e7a"/>
<line x1="531.5" y1="478" x2="653.2" y2="478" stroke="#6464c0" stroke-width="0.7"/>
<path d="M531.5 497.5L531.5 497.4L532.1 497.1L532.7 497.2L533.3 496.6L533.9 497.4L534.5 497.4L535.1 497L535.7 497.2L536.3 497.4L536.9 497.1L537.5 497.4L538.1 497L538.7 497.4L539.3 497.4L539.9 496.7L540.5 497.4L541.1 497.4L541.7 496.9L542.3 497.2L542.9 497.4L543.5 497.3L544.1 497.2L544.7 497.4L545.3 497.2L545.9 497.4L546.5 497.4L547.1 497.4L547.7 497.4L548.3 496.5L548.9 497.4L549.5 496.5L550.1 497.4L550.7 497.2L551.3 496.8L551.9 497.1L552.5 497.4L553.1 497.2L553.7 497.2L554.3 497.4L554.9 496.1L555.5 494.6L556.1 488.5L556.7 490.4L557.3 491.3L557.9 495.2L558.5 496.3L559.1 497.2L559.7 497.3L560.3 497.1L560.9 497.3L561.5 497.4L562.1 497.3L562.7 497.4L563.3 497.2L563.9 497.4L564.5 497.3L565.1 497.4L565.7 496.8L566.3 496.6L566.9 497.4L567.5 497.4L568.1 497.1L568.7 497.3L569.3 497.4L569.9 497.1L570.5 497.4L571.1 497.3L571.7 497.4L572.3 497.4L572.9 497.3L573.5 497.4L574.1 497.3L574.7 497.1L575.3 496.4L575.9 497.3L576.5 497.2L577.1 496.9L577.7 497L578.3 496.5L578.9 496.7L579.5 496.7L580.1 496.4L580.7 496.4L581.3 496.3L581.9 496.7L582.5 496.7L583.1 496.9L583.7 497L584.3 496.4L584.9 497.3L585.5 497.4L586.1 497.1L586.7 497.4L587.3 497.3L587.9 496.9L588.5 497.4L589.1 497.4L589.7 497.4L590.3 497.4L590.9 497.4L591.5 497.2L592.1 497.1L592.7 496.4L593.3 496.9L593.9 495.7L594.5 492.6L595.1 491.4L595.7 492.2L596.3 489.3L596.9 485.8L597.5 488.7L598.1 489.7L598.7 493.2L599.3 496.3L599.9 497.2L600.5 497.4L601.1 497.2L601.7 497.4L602.3 496.4L602.9 497.4L603.5 496.5L604.1 496.5L604.7 496L605.3 494.8L605.9 494L606.5 492.5L607.1 495.3L607.7 496.3L608.3 496.8L608.9 496.8L609.5 492.4L610.1 486.9L610.7 489.2L611.3 496.1L611.9 496.5L612.5 497.4L613.1 497.3L613.7 497.4L614.3 497.4L614.9 497.4L615.5 497.4L616.1 496.8L616.7 497.4L617.3 497.4L617.9 496.8L618.5 497.2L619.1 496.5L619.7 495.5L620.3 496.3L620.9 496.5L621.5 497L622.1 497.4L622.7 497.1L623.3 497.4L623.9 497.2L624.5 497.3L625.1 497L625.7 497.2L626.3 495L626.9 491L627.5 492.9L628.1 496.8L628.7 497.3L629.3 497.3L629.9 497.1L630.5 497.2L631.1 496.5L631.7 496.9L632.3 497.3L632.9 497.4L633.5 496.6L634.1 497.3L634.7 497.1L635.3 497.1L635.9 497L636.5 496.3L637.1 497.1L637.7 496.6L638.3 496.9L638.9 496.4L639.5 496.2L640.1 496.5L640.7 496.4L641.3 496.4L641.9 496.6L642.5 496.1L643.1 496.9L643.7 497L644.3 496.5L644.9 493.9L645.5 494.3L646.1 496.8L646.7 496.7L647.3 497.3L647.9 497.4L648.5 497.1L649.1 497.4L649.7 497.4L650.3 497.4L650.9 497L651.5 497.2L652.1 497.4L652.7 497.4L653.2 497.5Z" fill="#a81414"/>
<line x1="531.5" y1="497.5" x2="653.2" y2="497.5" stroke="#c03030" stroke-width="0.7"/>
<path d="M531.5 516.9L531.5 515.3L532.1 516.9L532.7 516.2L533.3 516.9L533.9 515.2L534.5 516.9L535.1 515.7L535.7 516.3L536.3 515.8L536.9 515.2L537.5 516.9L538.1 516.8L538.7 516.3L539.3 516.9L539.9 516.9L540.5 516.9L541.1 515.8L541.7 515.7L542.3 516L542.9 516.9L543.5 515.5L544.1 516.7L544.7 516.9L545.3 516.7L545.9 516.8L546.5 516.9L547.1 516.6L547.7 516.8L548.3 516.6L548.9 515.5L549.5 516.4L550.1 516.8L550.7 515.8L551.3 515.2L551.9 516.7L552.5 515.4L553.1 516.9L553.7 516.9L554.3 516.9L554.9 515.3L555.5 513.6L556.1 503.2L556.7 512.1L557.3 510.7L557.9 513.8L558.5 514.8L559.1 516.8L559.7 515.9L560.3 516.8L560.9 515.6L561.5 516.8L562.1 516.8L562.7 516.9L563.3 515.6L563.9 516L564.5 516.7L565.1 516.9L565.7 516.7L566.3 516.8L566.9 515.9L567.5 515.5L568.1 516.2L568.7 516.9L569.3 516.9L569.9 515.7L570.5 515.4L571.1 516.9L571.7 516.7L572.3 516.7L572.9 515.3L573.5 516.9L574.1 516.9L574.7 515.9L575.3 516.6L575.9 516.7L576.5 516.1L577.1 516.5L577.7 516.3L578.3 516.9L578.9 516.9L579.5 516.9L580.1 516.8L580.7 516.4L581.3 516.8L581.9 516.8L582.5 516.5L583.1 516.3L583.7 516.5L584.3 516.8L584.9 515.9L585.5 516L586.1 515.7L586.7 515.7L587.3 516.9L587.9 516.4L588.5 516.8L589.1 516.8L589.7 516.7L590.3 516.9L590.9 516.9L591.5 515.2L592.1 516.8L592.7 515.6L593.3 516.3L593.9 516.5L594.5 515.1L595.1 515.5L595.7 514.6L596.3 516.7L596.9 516.7L597.5 516L598.1 514.5L598.7 515.9L599.3 516.7L599.9 516.9L600.5 516.1L601.1 516.9L601.7 516.4L602.3 515.9L602.9 516.4L603.5 516.6L604.1 516.6L604.7 516.2L605.3 516.8L605.9 516.9L606.5 516.6L607.1 516.7L607.7 516.9L608.3 516.6L608.9 516.6L609.5 515.3L610.1 514.1L610.7 515.8L611.3 516.8L611.9 516.9L612.5 516.9L613.1 515.6L613.7 516.3L614.3 516.1L614.9 516.9L615.5 516.4L616.1 516.9L616.7 516.4L617.3 516L617.9 516.2L618.5 516.6L619.1 515.7L619.7 516.9L620.3 516.9L620.9 515.8L621.5 516.9L622.1 516.8L622.7 516.8L623.3 515.7L623.9 516.8L624.5 516.6L625.1 516.7L625.7 516.7L626.3 515.9L626.9 511.1L627.5 514L628.1 515.2L628.7 515.4L629.3 516.9L629.9 516.8L630.5 515.6L631.1 516.9L631.7 516.4L632.3 515.2L632.9 516.5L633.5 516.7L634.1 516.9L634.7 516.7L635.3 516.7L635.9 516L636.5 516.8L637.1 516L637.7 516.8L638.3 516.5L638.9 516.1L639.5 516.9L640.1 515.4L640.7 516.7L641.3 516.7L641.9 515.3L642.5 516.6L643.1 516.7L643.7 516.9L644.3 516.9L644.9 516.1L645.5 516.7L646.1 516.4L646.7 516.3L647.3 516.3L647.9 516.8L648.5 515.8L649.1 516.7L649.7 516.9L650.3 515.8L650.9 515.6L651.5 516.9L652.1 515.7L652.7 516.3L653.2 516.9Z" fill="#111"/>
<line x1="531.5" y1="516.9" x2="653.2" y2="516.9" stroke="#333" stroke-width="0.7"/>
<path d="M531.5 536.4L531.5 536.3L532.1 536.2L532.7 536.3L533.3 536.2L533.9 536.3L534.5 536L535.1 536.3L535.7 536.1L536.3 536.3L536.9 536.3L537.5 536.3L538.1 536.3L538.7 535.9L539.3 536.3L539.9 535.8L540.5 535.3L541.1 536.3L541.7 535.5L542.3 535.7L542.9 536L543.5 536.3L544.1 536.2L544.7 536.1L545.3 536.3L545.9 536.3L546.5 536.3L547.1 536.3L547.7 535.8L548.3 536.3L548.9 536.3L549.5 536L550.1 535.4L550.7 536.3L551.3 536.3L551.9 535.3L552.5 535.7L553.1 535.8L553.7 536.2L554.3 536.3L554.9 536.3L555.5 536.3L556.1 534.6L556.7 532.4L557.3 532.4L557.9 535.3L558.5 535.8L559.1 536.2L559.7 536.1L560.3 536.2L560.9 536.3L561.5 536.3L562.1 536.3L562.7 536.3L563.3 536.3L563.9 536.2L564.5 536L565.1 536.3L565.7 536.3L566.3 536.2L566.9 535.3L567.5 535.8L568.1 536L568.7 535.7L569.3 536.3L569.9 536.3L570.5 536.3L571.1 536.3L571.7 536.3L572.3 536.1L572.9 535.5L573.5 536.3L574.1 536L574.7 535.4L575.3 535.8L575.9 536.3L576.5 536L577.1 536.3L577.7 536.3L578.3 536.3L578.9 536.2L579.5 535.4L580.1 536.3L580.7 536.3L581.3 536.3L581.9 536.3L582.5 536.2L583.1 535.9L583.7 536.2L584.3 536.3L584.9 536.3L585.5 536.3L586.1 536L586.7 535.4L587.3 536.2L587.9 536.3L588.5 536.3L589.1 536.3L589.7 536.3L590.3 536.3L590.9 536.3L591.5 535.7L592.1 536.3L592.7 535.6L593.3 535.3L593.9 533.1L594.5 522.7L595.1 532.2L595.7 536.1L596.3 536.3L596.9 535.6L597.5 529.3L598.1 529.1L598.7 535L599.3 536.2L599.9 536.3L600.5 536.1L601.1 536L601.7 535.9L602.3 536.3L602.9 536.2L603.5 535.7L604.1 535.9L604.7 536.3L605.3 536.3L605.9 536.3L606.5 535.9L607.1 536.3L607.7 536.3L608.3 536.1L608.9 535.8L609.5 535.5L610.1 535.3L610.7 535.7L611.3 536L611.9 535.9L612.5 536.2L613.1 535.6L613.7 536L614.3 536L614.9 535.9L615.5 535.5L616.1 536.2L616.7 536.1L617.3 535.8L617.9 536.2L618.5 536.3L619.1 536.1L619.7 536.3L620.3 535.9L620.9 535.9L621.5 535.5L622.1 536.3L622.7 536.3L623.3 535.4L623.9 535.9L624.5 535.2L625.1 535.7L625.7 535.3L626.3 536.3L626.9 536.3L627.5 536.1L628.1 535.8L628.7 536.3L629.3 535.4L629.9 536.3L630.5 536.3L631.1 536.3L631.7 536.3L632.3 536.3L632.9 536.3L633.5 536.3L634.1 536.3L634.7 536L635.3 535.8L635.9 535.8L636.5 536.3L637.1 535.9L637.7 536.3L638.3 535.6L638.9 536.3L639.5 536.3L640.1 536.3L640.7 536.3L641.3 535.9L641.9 536.3L642.5 536.3L643.1 536.3L643.7 536.3L644.3 535.4L644.9 536.3L645.5 535.8L646.1 536.1L646.7 536.3L647.3 535.9L647.9 536.2L648.5 536.3L649.1 535.2L649.7 536.3L650.3 536L650.9 536.3L651.5 535.3L652.1 536.3L652.7 536.3L653.2 536.4Z" fill="#111"/>
<line x1="531.5" y1="536.4" x2="653.2" y2="536.4" stroke="#333" stroke-width="0.7"/>
<path d="M531.5 555.8L531.5 555.8L532.1 555.8L532.7 555.8L533.3 555.8L533.9 555.8L534.5 555.8L535.1 555.8L535.7 555.8L536.3 555.8L536.9 555.8L537.5 555.8L538.1 555.8L538.7 555.8L539.3 555.8L539.9 555.8L540.5 555.8L541.1 555.8L541.7 555.8L542.3 555.8L542.9 555.8L543.5 555.8L544.1 555.8L544.7 555.8L545.3 555.8L545.9 555.8L546.5 555.8L547.1 555.8L547.7 555.8L548.3 555.8L548.9 555.8L549.5 555.8L550.1 555.8L550.7 555.8L551.3 555.8L551.9 555.8L552.5 555.8L553.1 555.8L553.7 555.8L554.3 555.8L554.9 555.8L555.5 555.8L556.1 555.8L556.7 555.8L557.3 555.8L557.9 554.7L558.5 554.7L559.1 555.8L559.7 555.8L560.3 555.8L560.9 555.8L561.5 555.8L562.1 555.8L562.7 555.8L563.3 555.8L563.9 555.8L564.5 555.8L565.1 555.8L565.7 555.8L566.3 555.8L566.9 555.8L567.5 555.8L568.1 555.8L568.7 555.8L569.3 555.8L569.9 555.8L570.5 555.8L571.1 555.8L571.7 555.8L572.3 555.8L572.9 555.8L573.5 555.8L574.1 555.8L574.7 555.8L575.3 555.8L575.9 555.8L576.5 555.8L577.1 555.8L577.7 555.8L578.3 555.8L578.9 555.8L579.5 555.8L580.1 555.8L580.7 555.8L581.3 555.8L581.9 555.8L582.5 555.8L583.1 555.8L583.7 555.8L584.3 555.8L584.9 555.8L585.5 555.8L586.1 555.8L586.7 555.8L587.3 555.8L587.9 555.8L588.5 555.8L589.1 555.8L589.7 555.8L590.3 555.8L590.9 555.8L591.5 555.8L592.1 555.8L592.7 555.8L593.3 555.8L593.9 555.8L594.5 555.8L595.1 555.8L595.7 555.8L596.3 555.8L596.9 555.8L597.5 555.8L598.1 555.8L598.7 555.8L599.3 555.8L599.9 555.8L600.5 555.8L601.1 555.8L601.7 555.8L602.3 555.8L602.9 555.8L603.5 555.8L604.1 555.8L604.7 555.8L605.3 555.8L605.9 555.8L606.5 555.8L607.1 555.8L607.7 555.8L608.3 555.8L608.9 555.8L609.5 555.8L610.1 555.8L610.7 555.8L611.3 555.8L611.9 555.8L612.5 555.8L613.1 555.8L613.7 555.8L614.3 555.8L614.9 555.8L615.5 555.8L616.1 555.8L616.7 555.8L617.3 555.8L617.9 555.8L618.5 555.8L619.1 555.8L619.7 555.8L620.3 555.8L620.9 555.8L621.5 555.8L622.1 555.8L622.7 555.8L623.3 555.8L623.9 555.8L624.5 555.8L625.1 555.8L625.7 555.8L626.3 555.8L626.9 555.8L627.5 555.8L628.1 555.8L628.7 555.8L629.3 555.8L629.9 555.8L630.5 555.8L631.1 555.8L631.7 555.8L632.3 555.8L632.9 555.8L633.5 555.8L634.1 555.8L634.7 555.8L635.3 555.8L635.9 555.8L636.5 555.8L637.1 555.8L637.7 555.8L638.3 555.8L638.9 555.8L639.5 555.8L640.1 555.8L640.7 555.8L641.3 555.8L641.9 555.8L642.5 555.8L643.1 555.8L643.7 555.8L644.3 555.8L644.9 555.8L645.5 555.8L646.1 555.8L646.7 555.8L647.3 555.8L647.9 555.8L648.5 555.8L649.1 555.8L649.7 555.8L650.3 555.8L650.9 555.8L651.5 555.8L652.1 555.8L652.7 555.8L653.2 555.8Z" fill="#4a86d0"/>
<line x1="531.5" y1="555.8" x2="653.2" y2="555.8" stroke="#4a86d0" stroke-width="0.7"/>
<path d="M531.5 575.2L531.5 575.2L531.8 575.2L532 575.2L532.2 575.2L532.5 575.2L532.8 575.2L533 575.2L533.2 575.2L533.5 575.2L533.8 575.2L534 575.2L534.2 575.2L534.5 575.2L534.8 575.2L535 575.2L535.2 575.2L535.5 575.2L535.8 575.2L536 575.2L536.2 575.2L536.5 575.2L536.8 575.2L537 575.2L537.2 575.2L537.5 575.2L537.8 575.2L538 575.2L538.2 575.2L538.5 575.2L538.8 575.2L539 575.2L539.2 575.2L539.5 575.2L539.8 575.2L540 575.2L540.2 575.2L540.5 575.2L540.8 575.2L541 575.2L541.2 575.2L541.5 575.2L541.8 575.2L542 575.2L542.2 575.2L542.5 575.2L542.8 575.2L543 575.2L543.2 575.2L543.5 575.2L543.8 575.2L544 575.2L544.2 575.2L544.5 575.2L544.8 575.2L545 575.2L545.2 575.2L545.5 575.2L545.8 575.2L546 575.2L546.2 575.2L546.5 575.2L546.8 575.2L547 575.2L547.2 575.2L547.5 575.2L547.8 575.2L548 575.2L548.2 575.2L548.5 575.2L548.8 575.2L549 575.2L549.2 575.2L549.5 575.2L549.8 575.2L550 575.2L550.2 575.2L550.5 575.2L550.8 575.2L551 575.2L551.2 575.2L551.5 575.2L551.8 575.2L552 575.2L552.2 575.2L552.5 575.2L552.8 575.2L553 575.2L553.2 575.2L553.5 575.2L553.8 575.2L554 575.2L554.2 575.2L554.5 575.2L554.8 575.2L555 575.2L555.2 575.2L555.5 575.2L555.8 575.2L556 575.2L556.2 575.2L556.5 575.2L556.8 575.2L557 575.2L557.2 575.2L557.5 575.2L557.8 574.6L558 567.6L558.2 561.6L558.5 571.7L558.8 575.1L559 575.2L559.2 575.2L559.5 575.2L559.8 575.2L560 575.2L560.2 575.2L560.5 575.2L560.8 575.2L561 575.2L561.2 575.2L561.5 575.2L561.8 575.2L562 575.2L562.2 575.2L562.5 575.2L562.8 575.2L563 575.2L563.2 575.2L563.5 575.2L563.8 575.2L564 575.2L564.2 575.2L564.5 575.2L564.8 575.2L565 575.2L565.2 575.2L565.5 575.2L565.8 575.2L566 575.2L566.2 575.2L566.5 575.2L566.8 575.2L567 575.2L567.2 575.1L567.5 572.5L567.8 563.8L568 562.2L568.2 571L568.5 572.1L568.8 566.8L569 570L569.2 574.6L569.5 575.2L569.8 575.2L570 575.2L570.2 575.2L570.5 575.2L570.8 575.2L571 575.2L571.2 575.2L571.5 575.2L571.8 575.2L572 575.2L572.2 575.2L572.5 575.2L572.8 575.2L573 575.2L573.2 575.2L573.5 575.2L573.8 575.2L574 575.2L574.2 575.2L574.5 575.2L574.8 575.2L575 575.2L575.2 575.2L575.5 575.2L575.8 575.2L576 575.2L576.2 575.2L576.5 575.2L576.8 575.2L577 575.2L577.2 575.2L577.5 575.2L577.8 575.2L578 575.2L578.2 575.2L578.5 575.1L578.8 573.3L579 570.2L579.2 573.3L579.5 575.1L579.8 575.2L580 575.2L580.2 575.2L580.5 575.1L580.8 572.8L581 568.7L581.2 572.8L581.5 575.1L581.8 575.2L582 575.2L582.2 575.2L582.5 575.1L582.8 573.3L583 570.2L583.2 573.3L583.5 575.1L583.8 575.2L584 575.2L584.2 575.2L584.5 575.2L584.8 575.2L585 575.2L585.2 575.2L585.5 575.2L585.8 575.2L586 573.5L586.2 571.1L586.5 574.7L586.8 575.2L587 575.2L587.2 575.2L587.5 575.2L587.8 575.2L588 575.2L588.2 575.2L588.5 575.2L588.8 575.2L589 575.2L589.2 575.2L589.5 575.2L589.8 575.2L590 575.2L590.2 575.2L590.5 575.2L590.8 575.2L591 575.2L591.2 575.2L591.5 575.2L591.8 575.2L592 575.2L592.2 575.2L592.5 575.2L592.8 575.2L593 575.2L593.2 575.2L593.5 575.2L593.8 575.2L594 575.2L594.2 575.2L594.5 575.2L594.8 575.2L595 575.2L595.2 575.2L595.5 575.2L595.8 575.2L596 575.2L596.2 575.2L596.5 575.2L596.8 575.2L597 575.2L597.2 575.2L597.5 575.2L597.8 575.2L598 575.2L598.2 575.2L598.5 575.2L598.8 575.2L599 575.2L599.2 575.2L599.5 575.2L599.8 575.2L600 575.2L600.2 575.2L600.5 575.2L600.8 575.2L601 574.5L601.2 573.6L601.5 575L601.8 575.2L602 575.2L602.2 575.2L602.5 575.2L602.8 575.2L603 575.2L603.2 575.2L603.5 575.2L603.8 575.2L604 575.2L604.2 575.2L604.5 575.2L604.8 575.2L605 575.2L605.2 575.2L605.5 575.2L605.8 575.2L606 575.2L606.2 575.2L606.5 575.2L606.8 575.2L607 575.2L607.2 575.2L607.5 575.2L607.8 575.2L608 575.2L608.2 575.2L608.5 575.2L608.8 575.2L609 575.2L609.2 575.2L609.5 575.2L609.8 575.2L610 575.2L610.2 575.2L610.5 575.2L610.8 575.2L611 575.2L611.2 575.2L611.5 575.2L611.8 575.2L612 575.2L612.2 575.2L612.5 575.2L612.8 575.2L613 575.2L613.2 575.2L613.5 575.2L613.8 575.2L614 575.2L614.2 575.2L614.5 575.2L614.8 575.2L615 575.2L615.2 575.2L615.5 575.2L615.8 575.2L616 575.2L616.2 575.2L616.5 575.2L616.8 575.2L617 575.2L617.2 575.2L617.5 575.2L617.8 575.2L618 575.2L618.2 575.2L618.5 575.2L618.8 575.2L619 575.2L619.2 575.2L619.5 575.2L619.8 575.2L620 575.2L620.2 575.2L620.5 575.2L620.8 575.2L621 575.2L621.2 575.2L621.5 575.2L621.8 575.2L622 575.2L622.2 575.2L622.5 575.2L622.8 575.2L623 575.2L623.2 575.2L623.5 575.2L623.8 575.2L624 575.2L624.2 575.2L624.5 575.2L624.8 575.2L625 575.2L625.2 575.2L625.5 575.2L625.8 575.2L626 575.2L626.2 575.2L626.5 575.2L626.8 575.2L627 575.2L627.2 575.2L627.5 575.2L627.8 575.2L628 575.2L628.2 575.2L628.5 575.2L628.8 575.2L629 575.2L629.2 575.2L629.5 575.2L629.8 575.2L630 575.2L630.2 575.2L630.5 575.2L630.8 575.2L631 575.2L631.2 575.2L631.5 575.2L631.8 575.2L632 575.2L632.2 575.2L632.5 575.2L632.8 575.2L633 575.2L633.2 575.2L633.5 575.2L633.8 575.2L634 575.2L634.2 575.2L634.5 575.2L634.8 575.2L635 575.2L635.2 575.2L635.5 575.2L635.8 575.2L636 575.2L636.2 575.2L636.5 575.2L636.8 575.2L637 575.2L637.2 575.2L637.5 575.2L637.8 575.2L638 575.2L638.2 575.2L638.5 575.2L638.8 575.2L639 575.2L639.2 575.2L639.5 575.2L639.8 575.2L640 575.2L640.2 575.2L640.5 575.2L640.8 575.2L641 575.2L641.2 575.2L641.5 575.2L641.8 575.2L642 575.2L642.2 575.2L642.5 575.2L642.8 575.2L643 575.2L643.2 575.2L643.5 575.2L643.8 575.2L644 575.2L644.2 575.2L644.5 575.2L644.8 575.2L645 575.2L645.2 575.2L645.5 575.2L645.8 575.2L646 575.2L646.2 575.2L646.5 575.2L646.8 575.2L647 575.2L647.2 575.2L647.5 575.2L647.8 575.2L648 575.2L648.2 575.2L648.5 575.2L648.8 575.2L649 575.2L649.2 575.2L649.5 575.2L649.8 575.2L650 575.2L650.2 575.2L650.5 575.2L650.8 575.2L651 575.2L651.2 575.2L651.5 575.2L651.8 575.2L652 575.2L652.2 575.2L652.5 575.2L652.8 575.2L653 575.2L653.2 575.2Z" fill="#c83030"/>
<line x1="531.5" y1="575.2" x2="653.2" y2="575.2" stroke="#c83030" stroke-width="0.7"/>
<rect x="448" y="420.5" width="29.5" height="115.6" fill="#4db36a" fill-opacity=".28"/>
<rect x="553" y="420.1" width="7.2" height="115.9" fill="#4db36a" fill-opacity=".28"/>
<rect x="590.8" y="420.1" width="10.3" height="115.9" fill="#4db36a" fill-opacity=".28"/>
<rect x="624.6" y="420.1" width="4.3" height="115.9" fill="#4db36a" fill-opacity=".28"/>
<text x="315.2" y="438" font-size="7.3" text-anchor="middle" fill="#222" stroke="#222" stroke-width="0.16" transform="rotate(-90 315.2 438)">ATAC-seq</text>
<line x1="319.2" y1="422.1" x2="319.2" y2="459" stroke="#555" stroke-width="0.6"/>
<text x="315.2" y="481" font-size="7.3" text-anchor="middle" fill="#222" stroke="#222" stroke-width="0.16" transform="rotate(-90 315.2 481)">H3K27ac ChIP</text>
<line x1="319.2" y1="463.2" x2="319.2" y2="499.2" stroke="#555" stroke-width="0.6"/>
<text x="315.2" y="557" font-size="7.3" text-anchor="middle" fill="#222" stroke="#222" stroke-width="0.16" transform="rotate(-90 315.2 557)">Expression</text>
<line x1="319.2" y1="539.3" x2="319.2" y2="575.6" stroke="#555" stroke-width="0.6"/>
<path d="M403.6 589.1 L407.5 586.6 L407.5 591.6Z" fill="#111"/>
<rect x="407" y="587.3" width="5.5" height="3.6" fill="#111"/>
<rect x="414" y="586.2" width="10.5" height="5.8" fill="#111"/>
<line x1="403.6" y1="589.1" x2="456" y2="589.1" stroke="#111" stroke-width="0.9"/>
<line x1="456" y1="589.1" x2="456" y2="580.4" stroke="#111" stroke-width="0.8"/>
<line x1="456" y1="580.4" x2="450.5" y2="580.4" stroke="#111" stroke-width="0.8"/>
<path d="M449.5 580.4 L452 578.9 L452 581.9Z" fill="#111"/>
<text x="458.2" y="598.1" font-size="7" font-style="italic" text-anchor="middle" fill="#222" stroke="#222" stroke-width="0.16">SALL1</text>
<line x1="568.8" y1="587.6" x2="611.7" y2="587.6" stroke="#111" stroke-width="0.9"/>
<line x1="568.9" y1="585.4" x2="568.9" y2="589.8" stroke="#111" stroke-width="0.9"/>
<line x1="575.5" y1="585.4" x2="575.5" y2="589.8" stroke="#111" stroke-width="0.9"/>
<line x1="577" y1="585.4" x2="577" y2="589.8" stroke="#111" stroke-width="0.9"/>
<line x1="578.5" y1="585.4" x2="578.5" y2="589.8" stroke="#111" stroke-width="0.9"/>
<line x1="580.5" y1="585.4" x2="580.5" y2="589.8" stroke="#111" stroke-width="0.9"/>
<line x1="585.5" y1="585.4" x2="585.5" y2="589.8" stroke="#111" stroke-width="0.9"/>
<line x1="600.5" y1="585.4" x2="600.5" y2="589.8" stroke="#111" stroke-width="0.9"/>
<line x1="603.5" y1="585.4" x2="603.5" y2="589.8" stroke="#111" stroke-width="0.9"/>
<line x1="611.7" y1="587.6" x2="611.7" y2="578.4" stroke="#111" stroke-width="0.8"/>
<line x1="611.7" y1="578.4" x2="605.5" y2="578.4" stroke="#111" stroke-width="0.8"/>
<path d="M604.5 578.4 L607 576.9 L607 579.9Z" fill="#111"/>
<text x="614.6" y="597.3" font-size="7" font-style="italic" text-anchor="middle" fill="#222" stroke="#222" stroke-width="0.16">EPHA2</text>
<text x="0.3" y="640.7" font-size="9.5" font-weight="bold" fill="#231f20">m</text>
<line x1="38.5" y1="640" x2="38.5" y2="722.5" stroke="#231f20" stroke-width="0.7"/>
<line x1="38.5" y1="722.5" x2="160.9" y2="722.5" stroke="#231f20" stroke-width="0.7"/>
<line x1="36.5" y1="722.5" x2="38.5" y2="722.5" stroke="#231f20" stroke-width="0.6"/>
<text x="29.9" y="725.2" font-size="6.8" text-anchor="middle" fill="#333" stroke="#333" stroke-width="0.16">2</text>
<text x="31.9" y="722" font-size="3.8" fill="#333" stroke="#333" stroke-width="0.16">0</text>
<line x1="36.5" y1="706" x2="38.5" y2="706" stroke="#231f20" stroke-width="0.6"/>
<text x="29.9" y="708.7" font-size="6.8" text-anchor="middle" fill="#333" stroke="#333" stroke-width="0.16">2</text>
<text x="31.9" y="705.5" font-size="3.8" fill="#333" stroke="#333" stroke-width="0.16">2</text>
<line x1="36.5" y1="689.5" x2="38.5" y2="689.5" stroke="#231f20" stroke-width="0.6"/>
<text x="29.9" y="692.2" font-size="6.8" text-anchor="middle" fill="#333" stroke="#333" stroke-width="0.16">2</text>
<text x="31.9" y="689" font-size="3.8" fill="#333" stroke="#333" stroke-width="0.16">4</text>
<line x1="36.5" y1="673" x2="38.5" y2="673" stroke="#231f20" stroke-width="0.6"/>
<text x="29.9" y="675.7" font-size="6.8" text-anchor="middle" fill="#333" stroke="#333" stroke-width="0.16">2</text>
<text x="31.9" y="672.5" font-size="3.8" fill="#333" stroke="#333" stroke-width="0.16">6</text>
<line x1="36.5" y1="656.5" x2="38.5" y2="656.5" stroke="#231f20" stroke-width="0.6"/>
<text x="29.9" y="659.2" font-size="6.8" text-anchor="middle" fill="#333" stroke="#333" stroke-width="0.16">2</text>
<text x="31.9" y="656" font-size="3.8" fill="#333" stroke="#333" stroke-width="0.16">8</text>
<line x1="36.5" y1="640" x2="38.5" y2="640" stroke="#231f20" stroke-width="0.6"/>
<text x="29.9" y="642.7" font-size="6.8" text-anchor="middle" fill="#333" stroke="#333" stroke-width="0.16">2</text>
<text x="31.9" y="639.5" font-size="3.8" fill="#333" stroke="#333" stroke-width="0.16">10</text>
<line x1="53.6" y1="722.5" x2="53.6" y2="724.3" stroke="#231f20" stroke-width="0.6"/>
<text x="53.6" y="732.4" font-size="7.2" text-anchor="middle" fill="#333" stroke="#333" stroke-width="0.16">C1</text>
<line x1="84.6" y1="722.5" x2="84.6" y2="724.3" stroke="#231f20" stroke-width="0.6"/>
<text x="84.6" y="732.4" font-size="7.2" text-anchor="middle" fill="#333" stroke="#333" stroke-width="0.16">C2</text>
<line x1="115.9" y1="722.5" x2="115.9" y2="724.3" stroke="#231f20" stroke-width="0.6"/>
<text x="115.9" y="732.4" font-size="7.2" text-anchor="middle" fill="#333" stroke="#333" stroke-width="0.16">C3</text>
<line x1="147" y1="722.5" x2="147" y2="724.3" stroke="#231f20" stroke-width="0.6"/>
<text x="147" y="732.4" font-size="7.2" text-anchor="middle" fill="#333" stroke="#333" stroke-width="0.16">C4</text>
<text x="21.9" y="682" font-size="7.2" text-anchor="middle" fill="#333" stroke="#333" stroke-width="0.16" transform="rotate(-90 21.9 682)">Gene expression (TPM+1)</text>
<text x="158.6" y="645.5" font-size="7.4" font-weight="bold" fill="#3a86c8">Naïve</text>
<text x="158.6" y="652.3" font-size="7.4" font-weight="bold" fill="#b04848">Primed</text>
<line x1="45.7" y1="672.5" x2="45.7" y2="683.5" stroke="#333" stroke-width="0.7"/>
<line x1="45.7" y1="708.6" x2="45.7" y2="722.5" stroke="#333" stroke-width="0.7"/>
<rect x="39.8" y="683.5" width="11.8" height="25.1" fill="#3b87c9" stroke="#333" stroke-width="0.7"/>
<line x1="39.8" y1="694.3" x2="51.6" y2="694.3" stroke="#222" stroke-width="0.9"/>
<path d="M45 653h0M49.5 670.7h0M45.4 671.5h0M46.6 663.8h0M47.3 671.4h0M48.9 665.6h0M51.4 671.7h0M49.5 671.2h0M48.8 665.4h0M43.5 671.2h0M49.1 671.6h0M43.1 664.6h0M40.6 671.1h0M46.4 671h0M47.8 667.3h0M49.9 671.6h0M45.9 641.1h0M47.5 656h0M45.2 671.6h0M49.2 671.6h0M42.3 664.5h0M48.5 667.1h0M42.5 664h0M45.1 644.3h0M47.2 650.5h0M47.9 655.6h0M43.2 664.7h0M48 666.4h0M45.2 654.7h0M45.1 643.6h0M41.4 665.8h0M51.1 669h0M51.7 671.5h0M46.1 646.5h0M45.3 671.7h0M43.3 658.5h0M41 669.9h0M47 650.4h0M46.1 645.3h0M42.2 663.2h0M48.2 666.2h0M43.4 655.3h0M40.6 671.7h0M45.1 645.2h0M45.4 668.4h0M44.9 647.9h0M48.9 670.4h0M41.6 671.6h0M51.4 671.7h0M45.7 670.7h0M50.9 668.6h0M46.3 657.5h0M43.5 665.9h0M44.5 650.7h0M44.2 661.5h0M45.2 670.2h0M46.8 671.1h0M39.7 671.6h0M40.7 671.4h0M45.7 648.3h0M47.4 659.1h0M51.2 671.3h0M45.3 668.5h0M47.5 666h0M44.3 654.7h0M45.5 651.3h0M50 670.5h0M46.6 648.7h0M50.4 669.6h0M47.8 654.3h0M48.1 655.4h0M48.1 666.3h0M45.8 654h0M44.8 665.5h0M45.4 648.9h0M46 655.8h0M44.6 657.8h0M47.9 671.6h0M44 671.4h0M43.8 654h0M45.9 646.1h0M47.2 663.7h0M39.8 671.7h0M46.2 657.1h0M48 660.8h0M41.7 670.3h0M45.2 642h0M46.8 665.2h0M45.2 643h0M43.3 658h0M46.9 666.9h0M44.4 650.1h0M44 655.7h0M50.7 668.1h0M44.5 650h0M39.9 671.7h0M43.7 654h0M47 653.8h0M47.3 652h0M48 661h0M47.2 664.3h0M46.3 671.6h0M45.6 640.4h0M43.9 657.4h0M46.1 666.2h0M44.9 654.6h0M42.7 666.5h0M49.2 663.1h0M47.4 668.4h0M43.1 663.9h0M44 658.3h0M49.4 661.8h0M47.6 669.8h0M47.3 669.3h0M45.7 671.1h0M44.5 653.8h0M42.7 669h0M47.8 671.3h0M45.8 651.2h0M43.7 667.1h0M50.9 670.7h0M47.4 666.2h0M41.9 670.2h0M43.2 671.7h0M45.9 667.7h0M47.1 661.7h0M46.4 648.4h0M47.6 658.7h0M45.5 664.3h0M46.4 645.8h0M49.6 668.4h0M48.3 667.5h0M46.9 671.7h0M45.6 643.6h0M46.2 648.7h0M40.4 671.7h0M51 669.5h0M46.4 660h0M45.3 649.4h0M45 671.4h0M45.1 646.3h0M43.8 665.8h0M41.2 669h0M45.2 646.4h0M44.4 653.6h0M40.8 667.6h0M45.8 662.7h0M42.7 667.4h0M42.4 660.8h0M45.7 644.6h0M45.1 661.9h0M39.9 671.7h0M45.6 656.9h0M46.1 670.2h0M45.7 648.7h0M46.5 665.1h0M44.5 648.6h0M46.2 659.8h0M43.8 657.3h0M46.7 651.3h0M50.9 670.2h0M46.3 671.7h0M41.9 671.6h0M47.1 660.8h0M43.3 666.2h0M45.3 664.2h0M44.7 668.5h0M44.4 666.7h0M45.7 671.5h0M49.1 670.1h0M46 643h0M45.4 669.5h0M44.3 656.2h0M43.9 653h0M45.8 642.1h0M46.1 654.4h0M45.5 650.1h0M42.1 671.6h0M48.1 655.9h0M45.5 670.8h0M44.9 654h0M48.8 670.7h0M43.7 671.5h0M45.7 662.5h0M45.7 643.5h0M42.4 668h0M44.1 652h0M44 671.7h0M44.8 652.7h0M41.7 666.5h0M50.8 670.2h0M44.6 649.4h0M45.7 643h0M44.1 671.4h0M45.3 642.6h0M47.7 655h0M46.2 645.8h0M45.1 645.3h0M48.5 658.3h0M41.4 665h0M45 670.1h0M48 667.9h0M39.7 671.2h0M48.9 660h0M47.4 666.1h0M46.7 657.6h0M43.8 653.3h0M45.3 658h0M48.9 668.4h0M50.9 671.5h0M46.9 652.3h0M45.2 645.6h0M48.9 662.5h0M47.3 664.3h0M47.8 671.6h0M45.9 671.7h0M43.3 671.7h0M42.9 671.5h0M47.9 671.5h0M48.1 664.8h0M46.5 652.4h0M45.9 662.2h0M45.4 654.6h0M44.6 668.6h0M42.1 671.7h0M44.9 661.5h0M41.6 667.6h0M50.3 671.3h0M45.1 652.9h0M45.8 645.8h0" stroke="#111" stroke-width="1.15" stroke-linecap="round" fill="none"/>
<line x1="61.5" y1="669" x2="61.5" y2="679" stroke="#333" stroke-width="0.7"/>
<line x1="61.5" y1="703.2" x2="61.5" y2="722.5" stroke="#333" stroke-width="0.7"/>
<rect x="55.5" y="679" width="12" height="24.2" fill="#b0504a" stroke="#333" stroke-width="0.7"/>
<line x1="55.5" y1="690.4" x2="67.5" y2="690.4" stroke="#222" stroke-width="0.9"/>
<path d="M59.8 654.2h0M61.4 643h0M56.2 668h0M55.3 668.2h0M62.8 652.9h0M59.1 667h0M61 645.7h0M62.2 646.4h0M61.1 664.9h0M60 665h0M62.5 656.1h0M61.2 640.6h0M61.8 666.5h0M63.5 652.2h0M60.1 650.8h0M60.2 653.6h0M57.2 664.5h0M60.6 668.2h0M61 647.7h0M63.9 668.2h0M56.7 666.9h0M66.1 667.6h0M61.5 646.4h0M63.3 663.5h0M60.2 666.1h0M62.2 652.8h0M61.7 647.2h0M62.6 650.5h0M63.2 667.3h0M58.6 661.4h0M60.2 667.5h0M60.9 643.6h0M62 642.6h0M62.8 665h0M56.3 666.6h0M64.4 668.2h0M61.6 667.4h0M55.8 666.8h0M61.1 665.2h0M61.5 642.7h0M61.4 642.1h0M61.6 649.6h0M66.7 668.2h0M62 656.8h0M56.5 664.4h0M60.4 648h0M64.9 668.1h0M59.6 666.7h0M61.1 667h0M60.8 652.4h0M62.1 668h0M65.8 665.9h0M60.5 668.2h0M64.7 664.6h0M65 667.7h0M64.3 661.5h0M61.5 651.5h0M59.5 655.4h0M60.1 654h0M58.7 661.3h0M61.4 643.6h0M61.6 658h0M59.6 656.7h0M61 653.1h0M64.5 658.5h0M63.2 658h0M61.2 663.2h0M61.4 645.7h0M59.2 668.2h0M56.9 663.5h0M62.4 668.1h0M66.9 667.8h0M59.1 668h0M60.1 668.1h0M62.9 668.2h0M56.7 668h0M57.3 665.9h0M66.7 667.2h0M63.8 666.4h0M62.7 658h0M60.9 664h0M59.1 658.3h0M56.6 668.2h0M61.1 668.2h0M60.9 668.1h0M59.4 660.9h0M61.6 657.3h0M61.8 666.4h0M62.1 668.2h0M66.9 667.8h0M61.7 661.4h0M56.5 667.5h0M59.7 667.9h0M66.2 667.8h0M60.6 666.7h0M60.1 665.4h0M63.7 667.8h0M61.7 650.1h0M64.7 667.4h0M63.8 668.2h0M58.4 664.4h0M61.1 641.6h0M63.3 666.4h0M64.8 668.2h0M57.5 668.2h0M60.4 647.8h0M60.6 648.2h0M59.3 665.4h0M62.4 658.2h0M58.6 667.8h0M65.4 663.2h0M62.9 663.4h0M62.2 651.5h0M61.2 649.2h0M59.4 655h0M56.2 667.6h0M60.6 649h0M59.9 663.6h0M57.2 666.9h0M61.4 664.3h0M63.1 662.1h0M61.6 647.8h0M58.7 661.6h0M59.4 665.5h0M59.3 656.1h0M58.9 663.5h0M60.8 646.9h0M60 660.8h0M57.8 660h0M60.6 652.9h0M62.5 665.2h0M61.6 644.6h0M57.8 662.3h0M57.6 667.8h0M60.1 648.9h0M60.9 651.2h0M61.4 653.3h0M61.3 645.6h0M59.9 667.8h0M58.8 660.2h0M63.9 658.6h0M67.4 668.2h0M62.4 666.1h0M61.7 644.9h0M61.8 644h0M62.1 646.9h0M59.1 662.7h0M63.9 658.7h0M65.3 668.2h0M58.5 664.8h0M64.6 668.1h0M56.8 664.5h0M56.1 667.3h0M57.6 666.9h0M57.2 664.8h0M63.6 668.2h0M61.8 644h0M67.2 668h0M62.9 650h0M61.7 665.4h0M65.3 659.8h0M61.3 643.8h0M62.6 668.2h0M59.4 654.1h0M60.6 647h0M63.2 656.8h0M61.3 642h0M57.9 662.9h0M64.2 656.2h0M60.8 644.5h0M67.6 668h0M61.9 644.5h0M61.2 653.4h0M64.4 659h0M60.4 664.1h0M61 666.8h0M59.3 660.4h0M58.1 667.9h0M57.2 668h0M64.2 664.6h0M63.4 665.2h0M61.8 662.9h0M60.9 644.9h0M60.1 658.1h0M62.9 666.5h0M61.1 640.8h0M66.2 666.6h0M61 667.7h0M57.2 667.3h0M63.7 656.2h0M63 658.4h0M65.6 666.8h0M58.4 666.1h0M59.1 659.9h0M61.2 650.2h0M61.9 648h0M61.2 642.1h0M62.7 667.2h0M62.2 667.3h0M63.5 667.2h0M63.2 652.1h0M59.8 655.6h0M66.4 667.2h0M58.9 658.3h0M60.1 657.6h0M59.4 654h0M60.8 650h0M61.9 641.4h0M65.3 667.1h0M66.3 665h0M63.2 664.6h0M60.8 644.7h0M65.6 662.7h0M62 643h0M63.4 659.7h0M61.4 648.5h0M64.9 668.2h0M61.4 649.4h0M58.3 658.8h0M61.5 644.7h0M59.1 667.8h0M60 667.1h0M63.5 664.3h0M60.1 650.7h0M63.6 660.8h0M59.7 666.1h0M61.6 668.1h0M63.3 668h0M67 668.2h0M59.3 658.2h0" stroke="#111" stroke-width="1.15" stroke-linecap="round" fill="none"/>
<line x1="76.7" y1="691.5" x2="76.7" y2="701.7" stroke="#333" stroke-width="0.7"/>
<line x1="76.7" y1="720.9" x2="76.7" y2="722.5" stroke="#333" stroke-width="0.7"/>
<rect x="70.6" y="701.7" width="12.3" height="19.2" fill="#3b87c9" stroke="#333" stroke-width="0.7"/>
<line x1="70.6" y1="713.2" x2="82.9" y2="713.2" stroke="#222" stroke-width="0.9"/>
<path d="M74.6 680.2h0M80 683.8h0M77 659.7h0M77.2 669.5h0M82.5 690.7h0M79.9 690.4h0M80 681.4h0M79.7 689.2h0M76.2 653.9h0M80.7 688.4h0M75.7 683.4h0M78.6 677.8h0M82.7 690.7h0M71.8 683.3h0M76.2 677.3h0M77.4 686.4h0M78.6 690.6h0M79 687.6h0M74.6 688.5h0M77 642.9h0M75.6 675.1h0M77.9 690.3h0M79.8 684.1h0M77.7 690.7h0M76.8 690.7h0M75.4 685.3h0M74.1 690.6h0M73.7 690.4h0M75.6 665.7h0M76.3 658.3h0M76.4 643h0M73.5 679.2h0M74.7 670h0M80.8 686.2h0M75.5 688.9h0M79.3 690.4h0M75.5 679.4h0M77.5 673.1h0M77.8 655.5h0M77.7 674.8h0M70.6 690.4h0M77.4 690.2h0M77.3 659.9h0M74.2 686.5h0M75.8 651.9h0M77 647h0M80.7 690h0M76.3 675.1h0M82.5 690.4h0M79.4 683.3h0M77.4 690.6h0M72.3 690.5h0M77.2 668h0M72.3 681.6h0M77.4 660.1h0M75.1 690.7h0M75.2 676.6h0M73.1 684.7h0M75.7 664.9h0M76.5 653.2h0M76.1 648.8h0M79.9 689.4h0M72 689.6h0M79.7 685.9h0M77.9 669.8h0M76.7 681.3h0M75.8 688.1h0M77.8 688.4h0M77 650.9h0M76.2 652.2h0M75.4 680.4h0M76.1 655.3h0M73.6 680.9h0M81.7 690.7h0M74.2 687.5h0M75.8 654.5h0M71.4 689.9h0M74.9 675.4h0M82.7 689.7h0M76.5 660.5h0M74.3 674h0M78.2 669.9h0M78.5 684.6h0M72 687.4h0M72.9 688.9h0M75.6 674.8h0M77 665.6h0M73.9 677.1h0M75.8 678.9h0M80.3 676h0M78.5 669.2h0M75.2 673.3h0M77.7 690.6h0M70.7 690.5h0M82.8 690.5h0M76.4 668.8h0M73.3 685.4h0M77.2 680.3h0M71.5 690.7h0M75.8 688.8h0M77.9 655.3h0M80.8 690.7h0M77.1 689.3h0M76.4 662.5h0M78.1 668.5h0M73.8 688h0M76.9 644.9h0M71.6 689.3h0M78 683.7h0M75.3 659.9h0M75.9 657.4h0M80.7 678.3h0M75.2 683h0M73.4 677h0M79.8 690.5h0M77.2 687.7h0M78.9 688.3h0M71.3 690.6h0M77 688.8h0M77.9 674.4h0M74.2 689.8h0M77.8 659.1h0M80 680.9h0M74.5 673.4h0M75.6 657.1h0M79.9 690.2h0M77.2 654.8h0M75.8 664.9h0M80.1 685.5h0M72.6 685.7h0M72.2 688.2h0M73.9 687.6h0M72.5 686.8h0M76.2 647.3h0M81.2 687.4h0M76.6 679.2h0M79.2 668.7h0M77.4 688.1h0M72.9 682.9h0M72.7 683.8h0M79.5 681.9h0M74.9 664.4h0M74.4 685.6h0M79.5 677.6h0M74.4 674.8h0M72.5 690.7h0M73 685.7h0M73.9 690.5h0M79.4 690h0M76.8 644.8h0M72.6 689.6h0M77 642.3h0M78.4 681.9h0M76.9 646.9h0M77.2 675.6h0M76.1 686.7h0M78.2 684.5h0M73.8 671.7h0M77.3 661.1h0M80.4 679.3h0M74.7 683.2h0M74.4 689.6h0M77 677.2h0M77.6 686.2h0M78.2 661.8h0M76.5 643.9h0M76.1 655.8h0M72.6 682.4h0M77.6 671.4h0M78.7 667.8h0M71.6 690.3h0M77 677.5h0M75 688.7h0M79.1 685.6h0M74.8 682.4h0M71.3 689.8h0M74.6 676.8h0M73.4 684.8h0M79.8 675.4h0M76.5 677.6h0M74.9 689.8h0M77.5 671.6h0M79.1 678.9h0M80.1 684h0M76.2 650h0M76.3 668.1h0M76.3 645h0M77.4 687.9h0M76.1 652.6h0M80.9 690.3h0M71.3 686.4h0M78.7 682.8h0M77.8 669.7h0M77 651.3h0M79.4 669.9h0M75.7 660.7h0M79.4 690.6h0M76.5 680.2h0M75.6 658.9h0M73.2 683.6h0M77.1 676.6h0M79.9 689.7h0M71.5 688.9h0M79.8 688.2h0M76.2 664.6h0M75.2 668.2h0M73.2 689.2h0M77.1 668.1h0M77.1 667.7h0M78.8 688.2h0M75 666.7h0M76.8 683.9h0M79.1 666.8h0M71.4 688.8h0M72.1 690.6h0M76.2 651.2h0M76.1 688.5h0M79 681.2h0M74.6 671.6h0M78.4 687.8h0M79.7 687.1h0M74.8 682.3h0M70.8 690.4h0M76.1 676.6h0M76.6 680.3h0M76.6 646.3h0M79.3 679.5h0M80.7 680.4h0M76.3 688.1h0M76.7 678.3h0" stroke="#111" stroke-width="1.15" stroke-linecap="round" fill="none"/>
<line x1="92.3" y1="683" x2="92.3" y2="693.2" stroke="#333" stroke-width="0.7"/>
<line x1="92.3" y1="716.8" x2="92.3" y2="722.5" stroke="#333" stroke-width="0.7"/>
<rect x="86.3" y="693.2" width="12" height="23.6" fill="#b0504a" stroke="#333" stroke-width="0.7"/>
<line x1="86.3" y1="705.1" x2="98.3" y2="705.1" stroke="#222" stroke-width="0.9"/>
<path d="M88.9 677.2h0M92.4 664.3h0M91.9 656.5h0M96.2 681.9h0M90.1 682.2h0M91.1 670.7h0M88.9 680.9h0M92.8 669.6h0M91.9 653.9h0M95 681.5h0M97.9 680.7h0M90.6 682.1h0M93.3 682.2h0M87.5 681.4h0M96.8 677.4h0M97 679.4h0M95.8 675.2h0M92.5 682.1h0M92.8 665.1h0M91.9 658h0M93.6 681.2h0M92.2 660.9h0M91.5 681.2h0M94 670.8h0M91.1 667.8h0M92.9 668.2h0M89.6 680.1h0M92.8 674.1h0M92.5 655.5h0M96.1 682h0M95 679.9h0M94.9 676.3h0M89.8 674.9h0M94.4 666.3h0M93.1 681.8h0M93.7 672.7h0M94 681.4h0M95.7 680.7h0M89.5 669.3h0M92.4 660.3h0M89.3 674.5h0M91.2 677.7h0M86.3 681.8h0M88 678.7h0M92.2 667.4h0M92.5 663h0M93.6 678.1h0M91.1 682.2h0M92.5 661.8h0M96.7 678.3h0M91.8 668.9h0M91.8 661.4h0M94.7 671.8h0M91.5 657.9h0M88.2 678.8h0M92.7 677.5h0M93.1 680.8h0M92.6 663.7h0M89.5 681.6h0M88.9 676.8h0M92.1 674.7h0M89.8 668.7h0M91 680h0M91.1 662.9h0M91.9 682h0M91.9 662.3h0M91.1 674h0M91.3 681.1h0M91.3 678.4h0M92 680.8h0M97.6 681.2h0M92 660.3h0M91.1 665.3h0M96.2 679.3h0M94.5 666.1h0M88.8 672.8h0M90.9 672.1h0M88.2 679.9h0M92.4 655.7h0M92.5 664.8h0M92.1 662.3h0M86.4 682.2h0M96.3 678.6h0M92.1 658.2h0M86.2 682.1h0M94 667.8h0M90.6 672.7h0M92.9 661.7h0M93 657.9h0M89.4 675.2h0M90.5 669h0M86.5 682h0M95.7 682.2h0M89.9 666.9h0M89.9 677.2h0M88.1 680.9h0M87 681.2h0M95.2 680.2h0M91.1 672.6h0M92.1 676.1h0M96.2 676.9h0M92.2 677.7h0M90.2 668.5h0M94.2 680.9h0M96.7 679.8h0M95.9 680.7h0M90.5 679.1h0M92.2 670h0M91.6 658.6h0M91.5 667.2h0M97.3 682.2h0M93.2 681.9h0M91.6 668.2h0M91.9 670.3h0M92.7 657h0M89.4 670.3h0M93 664.6h0M92 659.7h0M93.4 680.7h0M95.2 675.9h0M93.4 682.2h0M92.4 676h0M88.8 682.1h0M92.1 669.1h0M96 681.8h0M89.7 679.6h0M96.4 682.2h0M90.3 671.6h0M92.5 680.4h0M93 664.7h0M97.1 682.1h0M93.5 679.9h0M89.1 679.4h0M90.1 671.7h0M94.5 674.5h0M92.9 681.8h0M94.6 678.2h0M88.4 679.4h0M88 681.6h0M92.7 662.5h0M90.5 669.9h0M92.2 681.4h0M88.3 682.2h0M96.9 681.3h0M88.5 682.1h0M93.7 682.2h0M91.5 665.9h0M96.9 679.8h0M86.6 682.2h0M94.4 670.7h0M90.6 680.2h0M92 669.3h0M92.8 682.2h0M94.4 672.6h0M92 669.7h0M88.4 682.2h0M92 681.5h0M92.3 664h0M96.8 682h0M93.2 673.8h0M90 680.4h0M95.1 682.1h0M91.2 668.6h0M91.7 674.3h0M89.4 682.1h0M92 677.7h0M96.6 680.1h0M94.1 675.7h0M95 682h0M89.4 681.9h0M92.9 660.8h0M97.7 682.2h0M91.8 679.2h0M92.4 671.1h0M88.7 681h0M93.9 665.4h0M93.6 678h0M91.6 662.1h0M89.1 675h0M92.5 659.4h0M96.2 682.1h0M92.9 665.8h0M92.5 656.5h0M93.5 681.8h0M90.3 664.9h0M94.6 679.9h0M94 682.2h0M93.3 673.9h0M89.1 671h0M89.5 668.8h0M89.2 677.6h0M91.8 666.5h0M94 669.3h0M92.9 666.2h0M92.2 663.9h0M93 678.1h0M92.6 680.4h0M91.7 657.3h0M92.7 682.1h0M96.4 681.2h0M88.4 678.9h0M95.4 671.8h0M90.6 675h0M89.1 680.8h0M96.1 680.6h0M96.8 682.1h0M93.3 664.3h0M94.5 682.1h0M90.8 674.4h0M90.6 680.9h0M91.9 653.5h0M92.8 663.3h0M92.7 659.3h0M89.4 674.1h0M94.9 681.7h0M97.8 682.2h0M95.5 682h0M92.8 657.5h0M86.5 682.2h0M94 669.9h0M88.9 681.9h0M89.9 673.4h0M94.8 676.9h0M94.7 672.2h0M92.5 653.3h0M89.2 678.5h0M93.3 674.3h0M94.9 668.5h0M93.3 678.9h0M92.1 676.8h0" stroke="#111" stroke-width="1.15" stroke-linecap="round" fill="none"/>
<line x1="107.7" y1="688.6" x2="107.7" y2="698.6" stroke="#333" stroke-width="0.7"/>
<line x1="107.7" y1="722" x2="107.7" y2="722.5" stroke="#333" stroke-width="0.7"/>
<rect x="101.6" y="698.6" width="12.3" height="23.4" fill="#3b87c9" stroke="#333" stroke-width="0.7"/>
<line x1="101.6" y1="716.3" x2="113.9" y2="716.3" stroke="#222" stroke-width="0.9"/>
<path d="M113.1 687.5h0M111.6 684.1h0M107.4 664.9h0M102 687.8h0M105.8 684.8h0M111.2 682.7h0M107.8 670.9h0M103.5 687.5h0M111.6 687.6h0M102.9 683.9h0M109 682.2h0M105.1 687.8h0M110 672.5h0M108.5 687.3h0M106.8 684.7h0M111.3 683.7h0M106.5 680.2h0M112.7 685.9h0M109.5 670.6h0M108.4 674.2h0M106 686.8h0M106.7 669.5h0M107.3 663h0M107 663.4h0M108.7 687.2h0M105.2 679.1h0M104.5 685.7h0M106.4 670.7h0M104.7 686.9h0M108 687.1h0M107 671.8h0M108.6 671.9h0M106.7 684.3h0M110.7 681.7h0M110.6 683h0M107.5 674.3h0M104.2 685.3h0M107.1 677.2h0M110.2 686.5h0M107.4 664.9h0M108.8 665.9h0M109.8 680.8h0M102.6 687.3h0M102.4 687.6h0M109.7 684.4h0M106.8 664.5h0M108.8 687.7h0M109 680.6h0M108.5 669.8h0M108.5 682.9h0M103.3 686.1h0M103 687h0M111.1 682.1h0M104.2 683.8h0M107.5 673.9h0M112.3 685.6h0M108 663.6h0M102.9 687.6h0M110.7 676.5h0M105.6 676.3h0M106 677.7h0M112.3 684.2h0M107.7 682.3h0M103 686.8h0M109.2 684.5h0M106.2 668.9h0M112.9 686.1h0M103.9 679.8h0M107.2 686.3h0M103.8 687.6h0M107.7 657.1h0M109.3 681.7h0M109.1 666.8h0M107.6 667.2h0M104.9 687h0M113 686.6h0M108.8 670.3h0M105.3 683.5h0M108.7 664.9h0M111.5 685h0M109.3 687.5h0M108.3 667.2h0M105.4 682.7h0M104.4 682.7h0M109.5 679.2h0M105.6 685.7h0M110.3 686h0M109.5 687.8h0M105.3 687.6h0M104.6 677.4h0M103.4 687.6h0M107.6 657.8h0M107.4 687.8h0M103.9 682.4h0M105.4 679.1h0M109.7 687.8h0M108.3 672h0M112.1 687.7h0M106.3 678.1h0M106.7 672.6h0M106.1 671.6h0M106.6 681.9h0M108 658.1h0M105.5 684.6h0M108 678.4h0M104.5 686.2h0M107.2 671.2h0M110.9 676.4h0M107 687.6h0M107.6 682.4h0M104.9 684.8h0M107.6 679.8h0M107.2 658.5h0M112.6 684.4h0M109.5 669.3h0M103.4 682.3h0M112.3 685.3h0M108.2 657.9h0M110.2 683.7h0M101.9 687h0M107.6 687.6h0M104.6 687.1h0M107.1 661.1h0M105.5 686h0M108 673.4h0M106.2 685.5h0M107.6 665.2h0M106.9 663.1h0M111.5 685.8h0M107.3 684.2h0M112.7 687.1h0M103 687.3h0M106.5 687.6h0M107.5 670.5h0M107.6 666.8h0M106.8 674.4h0M107.9 656.9h0M103.7 680.9h0M112.7 683.7h0M105.6 682.1h0M103.3 682.6h0M108 662.2h0M109.4 681.6h0M112.1 687.3h0M108.8 685.7h0M109.3 680h0M108.1 670.1h0M106.1 686.4h0M111.3 686.4h0M108.6 672h0M105.5 670.7h0M107.1 686.7h0M108.7 687.5h0M107.8 664h0M109.9 684.9h0M107.7 661.3h0M105 685.5h0M108.1 673.6h0M109.5 673.6h0M111.4 687.8h0M106.9 669.7h0M107.1 662.7h0M106.4 670.4h0M101.5 687.7h0M107.1 662.7h0M106.4 678.1h0M105.2 672.7h0M107.2 670.2h0M107.5 668.4h0M106.6 664.2h0M109.5 687.7h0M110 687.7h0M105.3 685.9h0M109.9 681.5h0M112.1 685.2h0M110.8 687.4h0M112.4 686.9h0M111.9 687.8h0M106.7 687.7h0M110.6 685.5h0M107.8 661.6h0M105 685.9h0M104.5 679.4h0M110.1 687.5h0M105.9 673.2h0M105 679.5h0M107.7 668.1h0M108.8 676.8h0M106.3 684.5h0M110.9 675.6h0M105.8 677.3h0M108.8 669.7h0M108.2 686.6h0M107.1 661.9h0M110.7 682.8h0M108.5 685.2h0M108 677.3h0M106.5 678.2h0M104.8 679.9h0M109.3 680.2h0M107.1 664.9h0M106.8 687.4h0M112.3 686.8h0M110.1 687.1h0M107.8 687.8h0M109.1 685h0M108.7 683h0M109 679.7h0M106.6 672.2h0M112 687.7h0M113.3 686h0M110.8 679.6h0M112.1 681.1h0M107.3 661h0M106.1 682h0M107.5 683.4h0M108.4 676.9h0M109.1 686.5h0M104.9 686.4h0M108.5 675.7h0M111.2 682.3h0M105.6 672h0M109.1 682.6h0M109.2 675.4h0M106.5 670.9h0M103.7 687.5h0M108.5 681.4h0M107.3 676.4h0M102.8 685.9h0M112.8 687.8h0" stroke="#111" stroke-width="1.15" stroke-linecap="round" fill="none"/>
<line x1="123.5" y1="676.2" x2="123.5" y2="686.6" stroke="#333" stroke-width="0.7"/>
<line x1="123.5" y1="718.3" x2="123.5" y2="722.5" stroke="#333" stroke-width="0.7"/>
<rect x="117.4" y="686.6" width="12.2" height="31.7" fill="#b0504a" stroke="#333" stroke-width="0.7"/>
<line x1="117.4" y1="702.4" x2="129.6" y2="702.4" stroke="#222" stroke-width="0.9"/>
<path d="M121.6 671.6h0M121.7 671.2h0M124.7 670.9h0M120.8 662.5h0M121.6 675.3h0M122.9 670.8h0M123.7 675.4h0M123.8 645.9h0M123.4 675h0M126.5 674.7h0M122.7 671.8h0M121 673.6h0M127.9 675.4h0M122.5 674.4h0M120.8 664.6h0M124.4 654.9h0M122.2 670.2h0M121.1 666.5h0M124.8 667.6h0M122.9 665.7h0M126.1 675.3h0M123 649.8h0M129 674.3h0M122.7 665.4h0M126.9 675.2h0M123.1 648.7h0M121.2 675.4h0M124.3 664.5h0M127.4 673.7h0M123.4 668.1h0M119 675.3h0M123.8 670.8h0M122.9 659.9h0M119.7 675.4h0M122.4 666.4h0M127.2 672.8h0M126.7 662.5h0M123 648.4h0M122.3 659.6h0M125.6 661h0M123.4 651.3h0M122.5 675.3h0M118.3 671.3h0M122.4 675.4h0M123.2 652.4h0M121.5 658.4h0M118 674.7h0M127.8 674.8h0M122 666.5h0M120.9 672.8h0M123.7 660.8h0M127.5 668.6h0M124.7 665.2h0M129.6 675.4h0M124.5 656.7h0M127.6 667.8h0M123.4 654.7h0M126.3 675.3h0M120.6 673.9h0M125.4 660.1h0M124.3 672.5h0M126.8 671.3h0M124.4 675.4h0M120.9 668.5h0M119.9 675.4h0M123.6 658.1h0M125 672.9h0M121.7 660h0M127.3 671.6h0M118.7 675.2h0M127.6 668.2h0M124.7 650.4h0M121.1 674.6h0M119.1 674.6h0M125.5 662.1h0M122.5 658.3h0M119 674.2h0M129.1 673.6h0M125.4 657.4h0M125.5 675.1h0M123.9 647.5h0M128.8 672h0M122.3 658.9h0M123.3 669.2h0M128.2 675.2h0M124.2 661.3h0M123.8 647.5h0M128.2 672.2h0M118.2 671.7h0M123.8 661.8h0M121.7 664.1h0M123.8 641.9h0M123.4 647.7h0M122.4 658.3h0M124.1 666.9h0M122.4 660.6h0M121.8 675.2h0M124.1 675.3h0M121.5 675.4h0M120.1 664h0M127.3 675.3h0M126.7 675h0M127.4 675.2h0M124.4 675.4h0M123.8 641.9h0M122.4 651.4h0M122.7 674.8h0M121.3 675.2h0M127.6 675.2h0M120 674.9h0M123.2 654.7h0M124.3 657.4h0M120.4 674.8h0M124.5 658.9h0M123.3 644.5h0M124.2 655.3h0M122.6 660.7h0M127.6 668.1h0M126 663.2h0M124.7 659.8h0M123.7 645.5h0M120.7 674.7h0M127.5 672.7h0M123.7 650.2h0M123 675.4h0M123.7 675.3h0M121.8 668.7h0M123.1 672.7h0M121.9 656.3h0M125.2 665.9h0M126.2 670.6h0M120.3 675.4h0M125.3 671.9h0M119.3 674.7h0M126 663.9h0M127.1 671.9h0M127.4 669.4h0M122.7 657.5h0M122.1 669h0M120.1 663.7h0M119.7 672h0M126.6 664.8h0M121.7 655.4h0M123.8 648.4h0M123.4 667.9h0M126.2 661.6h0M124 647.4h0M120.9 663.1h0M125 674.9h0M122.1 661.5h0M128.4 675.3h0M127.9 670.5h0M123.1 645h0M119.1 671h0M118.8 675.3h0M126 666.5h0M128.1 672.3h0M120.9 675h0M121.9 663.3h0M128.3 670.1h0M124.9 665.4h0M121.3 669.4h0M123.5 649.8h0M124.6 674.6h0M118.1 674.6h0M126.9 668.1h0M121.9 664.8h0M128.6 674h0M128.2 674.8h0M123 651.1h0M123.5 667.7h0M123.6 646.3h0M120.7 669.3h0M121.3 667h0M119.4 674.6h0M119.9 673.7h0M126 675.4h0M124.4 653.5h0M121.5 671.7h0M123.3 646.9h0M123.1 659.5h0M129.2 675h0M124.3 664h0M119 671.4h0M121.2 667.6h0M129.3 675.2h0M122.6 653.2h0M123.1 658.7h0M122.8 667.9h0M123.3 662.7h0M119.3 674.1h0M123.8 673.3h0M117.7 675.2h0M123.9 650.5h0M123.7 647.4h0M119.8 675.3h0M123.7 654.3h0M123.4 675.3h0M125.3 661.1h0M124 662.3h0M120.6 672.8h0M124.2 659.2h0M125.6 657.2h0M122 660.6h0M123.1 642.5h0M126.2 667.4h0M122.1 652.1h0M119.8 670.6h0M119 668.9h0M126 664h0M123.5 674.3h0M123.9 647.8h0M126.3 672.8h0M124.9 662.7h0M119.9 665.9h0M124.5 650.2h0M122.4 668.1h0M124.1 667.3h0M122.5 664.8h0M121.3 671.4h0M119.3 667.2h0M123.9 653h0M123.5 673.6h0M123.8 642.3h0M121 667.6h0M125.6 675.4h0M123.7 648.2h0M127 670.5h0M126.7 669.9h0M120.8 671.1h0" stroke="#111" stroke-width="1.15" stroke-linecap="round" fill="none"/>
<line x1="138.5" y1="712.4" x2="138.5" y2="718.2" stroke="#333" stroke-width="0.7"/>
<line x1="138.5" y1="722.3" x2="138.5" y2="722.5" stroke="#333" stroke-width="0.7"/>
<rect x="132.4" y="718.2" width="12.3" height="4.1" fill="#3b87c9" stroke="#333" stroke-width="0.7"/>
<line x1="132.4" y1="721.3" x2="144.7" y2="721.3" stroke="#222" stroke-width="0.9"/>
<path d="M135.5 708.3h0M135.7 711.5h0M143.4 705.9h0M142.7 710.8h0M137.3 687.3h0M143.3 706.9h0M139 696.9h0M135.8 708.1h0M141.2 711.3h0M137.1 706.7h0M137.6 705.3h0M139 709.5h0M135.2 709.7h0M137 683.6h0M137.3 680h0M142.7 710.2h0M138.1 665.2h0M138 686.2h0M137.9 678.8h0M139.6 710.6h0M143.5 711.4h0M136 688.2h0M140 711.4h0M140.4 711.1h0M139.5 709.2h0M141.2 691.2h0M134.3 704h0M135.8 701.6h0M139.4 711.6h0M143.3 706.7h0M139.4 692.2h0M139.4 698.3h0M138.2 670.4h0M138.3 662.7h0M140.5 685h0M134 710.3h0M137.9 667h0M139.4 710.3h0M137.4 693.1h0M140 685.8h0M135.3 705.8h0M139.6 709.5h0M138.1 710h0M140.2 682.5h0M138.4 683.7h0M141.7 711.3h0M139.9 710.7h0M143.1 710.7h0M138.8 668.5h0M143.2 708.8h0M137.5 708h0M137.2 711.1h0M134.8 695.6h0M137.5 708.3h0M134.7 699.9h0M138 710.3h0M132.9 709.2h0M135.7 709.5h0M139.7 677.2h0M138.5 669.7h0M139.5 686.4h0M139.2 711.4h0M136.2 709.6h0M138.5 691.2h0M141.7 708.2h0M143.4 707.7h0M136.3 711.3h0M142.9 711.5h0M137.2 699.6h0M135.5 705.9h0M134.3 709.4h0M141.6 703.8h0M143.3 710.1h0M141.9 711.5h0M134.4 709.4h0M139.2 679.7h0M140.4 707.6h0M135.2 694.3h0M136.3 708.6h0M144.4 710.9h0M137.2 697.2h0M132.8 711.6h0M137.7 709h0M138.5 697.5h0M139.6 687.2h0M139.2 680.4h0M143.8 706.2h0M136.1 699.1h0M138.3 702h0M138.7 680.4h0M137.9 682.5h0M140.1 710.9h0M139.5 672.3h0M134 711.3h0M138.7 668.9h0M140.9 695.7h0M136.5 703h0M140.4 703.3h0M136.7 705.1h0M137.4 676.9h0M138.2 666h0M134.7 705.1h0M138.7 704.3h0M133.7 711.1h0M133.1 707.2h0M137.3 694.1h0M141.5 711.3h0M138.4 663.3h0M138.5 705.9h0M137.4 675.8h0M138.9 707.1h0M139.2 710.5h0M137.2 674.3h0M137.8 681.5h0M137.6 705.9h0M142.2 710.5h0M137.9 690.2h0M137.8 666.3h0M137.9 705.8h0M142.3 710.8h0M139.8 702.1h0M138.2 705.6h0M138.9 660.9h0M143.8 711.6h0M136.2 686.2h0M140.5 694.2h0M138.6 661.7h0M132.6 711.3h0M139.8 682.3h0M136.3 684.3h0M142.7 709.5h0M134 703.6h0M143.6 704.8h0M137 699.3h0M139.7 710.4h0M141.3 689.2h0M137.1 711.6h0M137 705.9h0M138.7 705.2h0M137.4 698.5h0M132.7 711.6h0M138.1 696.6h0M139.3 675.5h0M138.9 710.9h0M141.9 711.3h0M141.7 710.6h0M136.1 692.5h0M144.3 710.5h0M138.5 674.9h0M141.8 710.9h0M138.8 660.3h0M137.7 667.9h0M140 675.6h0M134.3 710.1h0M138.7 710.9h0M139.5 679.1h0M140.3 700.2h0M142.7 710.3h0M137.4 705h0M136.8 702.2h0M140.5 695h0M138.6 695.6h0M139.8 691.4h0M137.6 679h0M137.2 699.2h0M133.9 708.2h0M143.6 711.5h0M140.9 711.5h0M139.7 677h0M140.1 678.7h0M137.5 674.8h0M136.3 706h0M140.1 710.8h0M140.9 706.4h0M139.4 710.2h0M132.8 711.5h0M136.2 711.2h0M137.3 682.1h0M141.5 709.4h0M143.9 710.2h0M136.7 703.7h0M137.9 671.5h0M137.9 676.6h0M140.5 692.1h0M138.8 677.5h0M141.5 697.4h0M136.9 697.2h0M140 708.8h0M133.1 710.2h0M139 671.8h0M138.9 709.4h0M133.6 705.4h0M137.1 710.4h0M133.4 709.3h0M139.1 681.4h0M140 677h0M143.7 711.5h0M137.5 677.6h0M139 695.8h0M138.8 668.7h0M132.7 710h0M137.8 666.8h0M140.2 684.7h0M142.4 704.7h0M134.2 710.1h0M136.1 695.4h0M139.2 677.4h0M143.1 708.9h0M138.2 691.5h0M136.5 696.1h0M134.1 703.7h0M139.1 710.1h0M140.1 711.4h0M138.6 658.8h0M138.7 670.8h0M140.2 710.6h0M137.8 676.5h0M134.7 700.7h0M138.2 658.7h0M138.9 659h0M138.5 666.1h0M142.3 704.2h0M138.8 706.1h0M138.1 701.6h0M138.6 664.6h0M140 711.3h0M138.1 662.2h0M141.6 691.9h0M136.4 689.7h0M138.1 675.7h0" stroke="#111" stroke-width="1.15" stroke-linecap="round" fill="none"/>
<line x1="154.3" y1="703.2" x2="154.3" y2="710.6" stroke="#333" stroke-width="0.7"/>
<line x1="154.3" y1="722" x2="154.3" y2="722.5" stroke="#333" stroke-width="0.7"/>
<rect x="148.2" y="710.6" width="12.2" height="11.4" fill="#b0504a" stroke="#333" stroke-width="0.7"/>
<line x1="148.2" y1="719.4" x2="160.4" y2="719.4" stroke="#222" stroke-width="0.9"/>
<path d="M152.8 695.6h0M159.9 701.6h0M157.1 701h0M156 700h0M153.2 690.4h0M154.3 661.4h0M155 690.7h0M155.8 675.3h0M157.4 687.8h0M153.7 666h0M155.3 679.8h0M153.8 662h0M150 702.2h0M155.9 702h0M155.7 671.9h0M155.2 699.8h0M155.1 702.2h0M155.8 697h0M155.7 698.9h0M154.3 690.4h0M156.8 699.2h0M160.2 701.6h0M154 676.9h0M153.5 692.7h0M153.8 694.8h0M157.7 699.4h0M154.3 666.2h0M150.5 691.3h0M153.1 675h0M156.8 693.7h0M154.8 700.7h0M150.4 693.2h0M155.3 691.4h0M158.9 695.4h0M152.9 677.7h0M150.3 701.6h0M152.7 696.9h0M160 701.8h0M151.8 690h0M154.3 701.3h0M152.9 701.4h0M154.1 660.1h0M153.9 672.9h0M154.5 679.1h0M154.6 670.6h0M154.5 682.6h0M154.6 688.7h0M152.6 691.5h0M148.9 702h0M151.1 689.1h0M155.4 669.5h0M149.8 701.4h0M152.7 682.4h0M159 697.6h0M157.8 697h0M153.6 672.8h0M154.6 688.1h0M154.2 669.4h0M153.9 676.1h0M152.9 686.5h0M153.9 675.2h0M158.4 698.7h0M152.9 699.3h0M149.8 701.7h0M158.8 698.4h0M151.2 693.8h0M151.7 702.3h0M155.4 697.6h0M150.8 702.4h0M151.6 690.3h0M155 700.1h0M153.6 665.7h0M153.4 677.5h0M154.6 701.5h0M159.2 702.1h0M159.5 701.1h0M153.9 690.4h0M153.5 690h0M153.9 690.2h0M152.8 695.7h0M153.1 687.6h0M159.3 702.4h0M150.3 694.2h0M148.7 701.9h0M158.7 700.3h0M148.5 701.7h0M159.2 702.4h0M154 680.7h0M155 665.3h0M155.7 683.9h0M152.3 678.2h0M153.2 699.9h0M154.6 658.9h0M155.5 699.5h0M155.7 692.7h0M154.3 658.7h0M153.4 678.5h0M157.6 699.8h0M156.4 696.1h0M154.1 662.1h0M156.8 698.2h0M151 696.6h0M156.9 701.9h0M151.1 687h0M155.4 676.8h0M154.6 675.5h0M151.4 702.3h0M154.9 672.8h0M159 702.4h0M153.7 697.7h0M154.5 669.4h0M155.5 673.1h0M150.6 698.9h0M150.2 701.8h0M157.4 702h0M152 681.4h0M152.9 693.7h0M154.7 674.7h0M156 700.5h0M153.6 691h0M154.8 668h0M150.4 700.2h0M154.7 659.7h0M156.9 702.3h0M155.4 671.3h0M150.2 693.4h0M151.3 692.4h0M154.8 678h0M157 702.2h0M154 665.3h0M153 687.7h0M153.3 695.3h0M154.8 678.5h0M155.1 685.5h0M153 672.6h0M154.6 701.2h0M153.8 665h0M151.9 701.3h0M154.8 670.4h0M155.6 672.3h0M155.2 702.4h0M155.3 687.7h0M156.5 694.6h0M154.2 695.8h0M153 697.6h0M157.8 700.8h0M153.8 661.7h0M154.7 687.9h0M158.3 700.6h0M151.3 698.1h0M151.1 691.1h0M156.2 679.7h0M158.3 693h0M151.6 691.9h0M154.4 702h0M154.2 663.2h0M159.1 700.5h0M155.1 692.2h0M148.5 700.3h0M149.5 702h0M155 666.9h0M153.3 674.6h0M156 693.7h0M158 696.5h0M150.4 691.9h0M155.1 689h0M154.4 702.2h0M150.1 702h0M159.1 695.7h0M151.4 699.9h0M150.6 702h0M156.6 702.2h0M156.4 697.4h0M153 672.1h0M150.3 701.9h0M156.6 695.1h0M153.4 690.7h0M156.7 701.9h0M150.6 697.7h0M154.7 701.8h0M155.1 700.8h0M152.4 702.3h0M154 683.6h0M152.8 695.8h0M148.5 702.3h0M148.2 702.2h0M152.6 701.7h0M151.6 691.7h0M158.3 700.2h0M154 660.6h0M157.4 698.8h0M154.9 680.3h0M155.3 702.3h0M157.3 702.4h0M151.2 696h0M153.8 700.3h0M155.9 673.8h0M158.9 702.4h0M153.4 699.1h0M153.4 671.6h0M153.8 663h0M153.2 701.5h0M158.5 700.7h0M153.2 674.8h0M151.5 691.9h0M154.2 664.8h0M154.6 700.5h0M154.9 670.1h0M149.7 701.4h0M152.3 688.4h0M156.8 683.9h0M155 683.9h0M155.3 674.5h0M158.9 702.3h0M155.6 680.3h0M154.2 666h0M151.4 696.2h0M154.9 674.4h0M158.9 701.2h0M158 695.1h0M151.2 692.6h0M155.8 682.4h0M148.3 702.4h0M158.4 691.8h0M154.2 675.9h0M153.5 675.7h0M154.7 669.2h0M148.5 702.4h0M153.3 702.3h0M153.9 673.3h0" stroke="#111" stroke-width="1.15" stroke-linecap="round" fill="none"/></svg>
</body></html>
